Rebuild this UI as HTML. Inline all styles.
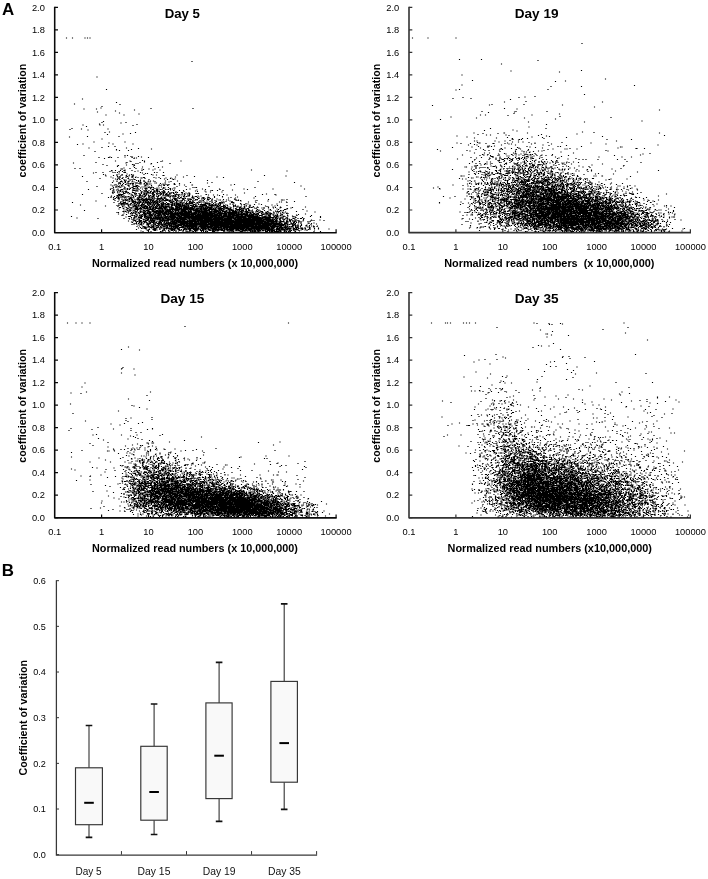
<!DOCTYPE html>
<html lang="en"><head><meta charset="utf-8"><title>Figure</title>
<style>
html,body{margin:0;padding:0;background:#fff}
body{width:708px;height:879px;overflow:hidden}
svg{display:block}
text{font-family:"Liberation Sans", sans-serif;fill:#000}
.tk text{font-size:9.3px;fill:#000}
.bk text{font-size:9.1px;fill:#000}
.bl{font-size:10.6px;fill:#111}
.tt{font-size:13px;font-weight:bold}
.xt{font-size:10.8px;font-weight:bold}
.yt{font-size:10.6px;font-weight:bold}
.pl{font-size:16.9px;font-weight:bold}
.pt{fill:none;stroke:#000;stroke-width:2.3;stroke-linecap:square}
</style></head>
<body>
<svg width="708" height="879" viewBox="0 0 708 879">
<rect width="708" height="879" fill="#fff"/>
<text class="pl" x="1.9" y="14.8">A</text>
<text class="pl" x="1.8" y="575.5">B</text>
<g id="d5">
<path d="M54.7 6.8V232.65H336.7" fill="none" stroke="#0a0a0a" stroke-width="1.55" stroke-linejoin="round"/>
<path d="M54.7 232.5h3.3M54.7 209.99h3.3M54.7 187.48h3.3M54.7 164.97h3.3M54.7 142.46h3.3M54.7 119.95h3.3M54.7 97.44h3.3M54.7 74.93h3.3M54.7 52.42h3.3M54.7 29.91h3.3M54.7 7.4h3.3M101.6 232.5v-3.3M148.5 232.5v-3.3M195.4 232.5v-3.3M242.3 232.5v-3.3M289.2 232.5v-3.3M336.1 232.5v-3.3" fill="none" stroke="#0a0a0a" stroke-width="1.2"/>
<g class="tk" text-anchor="end">
<text x="44.9" y="235.6">0.0</text>
<text x="44.9" y="213.09">0.2</text>
<text x="44.9" y="190.58">0.4</text>
<text x="44.9" y="168.07">0.6</text>
<text x="44.9" y="145.56">0.8</text>
<text x="44.9" y="123.05">1.0</text>
<text x="44.9" y="100.54">1.2</text>
<text x="44.9" y="78.03">1.4</text>
<text x="44.9" y="55.52">1.6</text>
<text x="44.9" y="33.01">1.8</text>
<text x="44.9" y="10.5">2.0</text>
</g>
<g class="tk" text-anchor="middle">
<text x="54.7" y="250.1">0.1</text>
<text x="101.6" y="250.1">1</text>
<text x="148.5" y="250.1">10</text>
<text x="195.4" y="250.1">100</text>
<text x="242.3" y="250.1">1000</text>
<text x="289.2" y="250.1">10000</text>
<text x="336.1" y="250.1">100000</text>
</g>
<text class="tt" x="164.7" y="18" textLength="35.3" lengthAdjust="spacingAndGlyphs">Day 5</text>
<text class="xt" x="92" y="266.9" textLength="206.2" lengthAdjust="spacingAndGlyphs" xml:space="preserve">Normalized read numbers (x 10,000,000)</text>
<text class="yt" transform="translate(25.8 177.5) rotate(-90)" textLength="113.8" lengthAdjust="spacingAndGlyphs">coefficient of variation</text>
<g transform="scale(.5)"><path class="pt" d="M0 0m143 433zm-4-159zm1-15zm-7-183zm12 0zm4 132zm-5 49zm11 32zm-8 37zm3 11zm10 0zm-15 68zm16 5zm-7 26zm15-15zm8-42zm-12 10zm9-26zm-9-10zm3-42zm-2-23zm12 8zm-3-23zm-2-20zm-10 5zm13 2zm-10-10zm2-32zm-3-20zm5-122zm5 0zm5 0zm14 78zm-1 64zm2 6zm-7 60zm2 19zm2 22zm0 20zm-5 1zm7 27zm-2 29zm4 35zm15-25zm-7-25zm2-42zm1 4zm4 1zm1 2zm-12 5zm6-28zm8 2zm-16-16zm11 2zm-5-22zm0-17zm6-13zm5 4zm-8-26zm-3 2zm-5 3zm1 2zm7 0zm-5-34zm10 14zm-8-17zm9-34zm20 26zm-2 17zm-15 36zm3 6zm-1 22zm8 2zm-9 5zm13 0zm3 6zm0 1zm-13 14zm-3 1zm1 0zm5 0zm8 7zm-8 19zm1 0zm7 0zm-7 1zm-4 1zm6 2zm4 0zm-3 6zm-5 3zm4 2zm5 2zm-4 4zm-2 3zm7 4zm-10 1zm7 0zm-4 2zm1 0zm6 0zm0 2zm-5 1zm5 0zm-8 2zm-3 1zm6 0zm-6 1zm7 1zm5 0zm-7 1zm0 2zm3 1zm-4 1zm3 0zm-2 2zm-3 5zm6 1zm-7 1zm-5 1zm5 0zm5 0zm6 0zm-2 2zm-4 1zm2 0zm-2 1zm3 2zm-2 4zm20 32zm2-23zm0 0zm-11 1zm2 0zm5 1zm1 1zm-9 1zm10 0zm0 4zm-2 1zm2 0zm3 0zm-17 2zm3 0zm11 1zm-11 2zm8 2zm1 0zm1 0zm-3 1zm-7-35zm2 0zm5 0zm5 0zm-13 1zm2 1zm6 1zm7 0zm-13 1zm9 0zm1 0zm2 0zm-3 1zm-2 1zm6 0zm-15 1zm6 0zm5 1zm-6 1zm8 0zm0 0zm2 0zm0 0zm-7 1zm3 0zm-9 1zm4 0zm4 0zm4 0zm-10 1zm2 0zm2 0zm2 0zm2 0zm3 0zm-3 1zm-11 1zm6 0zm1 0zm5 0zm-15 1zm4 0zm8 1zm1 0zm-11 1zm9 0zm3-35zm2 0zm-14 1zm7 0zm2 0zm-4 1zm1 0zm-4 1zm3 0zm-5 1zm10 0zm-5 1zm5 0zm4 0zm-15 1zm4 0zm5 0zm3 1zm-11 1zm11 0zm4 0zm-2 1zm-9 1zm7 0zm-10 1zm2 0zm1 0zm2 0zm1 0zm0 0zm2 0zm-2 1zm-9 1zm2 0zm3 0zm3 0zm-8 1zm4 0zm6 0zm3 0zm2 0zm-3 1zm0 0zm-11 1zm2 0zm0 0zm4 0zm3 0zm7 0zm-7 1zm4 0zm-14-35zm15 1zm-6 1zm0 0zm-9 1zm7 0zm2 0zm8 0zm-6 1zm4 0zm-11 1zm13 0zm-12 1zm2 0zm-3 1zm3 0zm6 0zm-10 1zm4 0zm4 1zm6 0zm-8 2zm-9 1zm1 0zm4 0zm5 0zm2 0zm-9 1zm1 0zm4 1zm0 0zm7 0zm-9 1zm10 0zm-14 1zm12 1zm0 0zm2-35zm-12 1zm7 0zm-6 1zm-4 1zm13 0zm1 0zm2 0zm-13 3zm-4 1zm10 0zm1 1zm-11 1zm8 0zm-7 2zm5 0zm-2 1zm2 1zm6 0zm-11 1zm1 0zm2 1zm6 0zm1 0zm-6 1zm-4 1zm5 0zm8 0zm-11-28zm-2 1zm0 1zm13 3zm-6 2zm2 0zm1 0zm5 2zm-9 1zm7 0zm2-30zm0 3zm-14 1zm3-14zm-1-28zm12 11zm-4-16zm-4-22zm-3-20zm9 4zm-8-21zm29 11zm-17 25zm14 6zm-5 16zm5 21zm-13 8zm10 3zm-6 2zm-2 10zm7 2zm3 1zm-1 1zm5 1zm-1 1zm-8 5zm2 1zm-8 2zm-2 1zm13 3zm3 0zm-15 1zm16 1zm-2 1zm2 3zm-9 2zm4 4zm-10 7zm9 1zm-4 1zm5 0zm3 0zm-14 1zm13 0zm0 0zm-14 1zm1 0zm5 0zm-4 1zm1 0zm9 0zm2 0zm0 1zm-14 1zm12 0zm-7 1zm-1 1zm1 0zm10 1zm-3 1zm5 0zm-17 1zm6 0zm1 0zm0 0zm2 0zm-9 1zm13 1zm-8 1zm1 0zm-3 1zm9 0zm4 0zm0 0zm-11 2zm-1 1zm4 0zm1 0zm1 0zm3 0zm0 0zm2 0zm-14 1zm8 0zm5 1zm-10 1zm2 0zm7 0zm-9 1zm2 1zm9 0zm-9 1zm9 0zm1 0zm1 0zm-3 1zm-2 1zm2 0zm-6 1zm6 0zm-11 1zm6 0zm6 0zm0 0zm2 0zm-17 1zm0 0zm6 0zm-3 1zm4 0zm7 0zm0 0zm0 2zm1 0zm1 0zm-16 1zm1 0zm12 0zm-13 1zm1 0zm1 1zm-2 1zm5 0zm8 0zm2 0zm-12 1zm14 0zm-10 1zm10 0zm-11 1zm4 0zm2 1zm1 2zm-3 1zm1 0zm4 0zm-15 1zm0 0zm4 0zm1 0zm1 0zm-2 1zm11 0zm-6 1zm3 0zm-12 1zm1 0zm6 0zm4 0zm1 0zm0 0zm4 0zm-7 1zm-4 1zm1 0zm2 0zm3 0zm-9 1zm5 0zm6 0zm-10 1zm8 0zm1 0zm-11 1zm13 0zm-10 1zm2 0zm2 0zm4 0zm2 0zm2 0zm-9 1zm8 0zm2 0zm-5 1zm2 0zm-1 1zm2 0zm-11 1zm11 0zm0 0zm1 0zm-15 1zm2 0zm7 0zm1 0zm-2 1zm0 0zm8 0zm-15 1zm4 0zm8 0zm-10 1zm2 0zm0 0zm3 0zm1 0zm6 1zm1 0zm-12 1zm8 0zm4 0zm-11 1zm9 0zm0 0zm0 1zm-14 1zm7 0zm4 0zm-10 1zm4 0zm4 0zm1 0zm-8 1zm1 0zm6 1zm4 0zm-12 1zm6 0zm-8 1zm6 0zm1 0zm-4 1zm6 0zm1 0zm6 0zm-10 1zm0 0zm3 0zm5 0zm3 0zm0 0zm-11 1zm-5 1zm3 0zm7 1zm4 0zm0 0zm-10 1zm9 0zm2 0zm-7 1zm3 0zm1 1zm0 0zm-12 1zm9 1zm2 1zm2 0zm3 0zm0 0zm0 1zm-12 1zm2 0zm2 0zm-9 1zm11 1zm5 0zm-5 1zm-5 1zm1 0zm9 0zm-9 1zm8 0zm-3 1zm4 0zm0 1zm1 1zm-12 1zm9 0zm1 0zm-4 2zm2 1zm2 3zm2 0zm-5 1zm12 1zm7 0zm-4 2zm0 0zm6 0zm-11 1zm13 0zm-6 2zm-4 1zm8 0zm2 0zm-4 1zm-10 2zm9 3zm4 1zm-14-31zm2 0zm6 0zm-10 1zm0 0zm3 0zm10 0zm2 0zm-12 1zm4 0zm0 0zm3 0zm2 0zm-12 1zm7 0zm0 0zm2 0zm1 0zm3 0zm-13 1zm10 0zm1 0zm1 0zm0 1zm1 0zm-9 1zm2 0zm2 0zm0 0zm8 0zm-7 1zm8 0zm-15 1zm7 0zm8 0zm-16 1zm9 0zm1 0zm2 0zm-12 1zm6 0zm1 0zm4 0zm-10 1zm3 0zm4 0zm0 0zm1 0zm2 0zm5 0zm-3 1zm-11 1zm6 0zm4 0zm1 0zm-6 1zm0 0zm1 0zm2 0zm1 0zm-12 1zm3 0zm4 0zm6 0zm-10 1zm11 0zm3 0zm-7 1zm2 0zm1 0zm-13-35zm1 0zm2 0zm14 0zm-15 1zm0 0zm2 0zm1 0zm6 0zm4 0zm1 0zm-14 1zm2 0zm4 0zm5 0zm0 0zm0 0zm4 0zm-17 1zm1 0zm2 0zm2 0zm5 0zm1 0zm0 0zm-10 1zm7 0zm2 0zm1 0zm2 0zm0 0zm1 0zm-14 1zm2 0zm2 0zm1 0zm2 0zm5 1zm0 0zm4 0zm0 0zm0 0zm-11 1zm0 0zm-5 1zm1 0zm0 0zm9 0zm1 0zm6 0zm0 0zm-13 1zm6 0zm4 0zm-13 1zm0 0zm2 0zm0 0zm9 0zm1 0zm-6 1zm4 0zm5 0zm1 0zm-17 1zm4 0zm4 0zm1 0zm0 0zm8 0zm0 0zm-16 1zm7 0zm1 0zm8 0zm-8 1zm-7 1zm1 0zm11 0zm2 0zm0 0zm-11 1zm6 0zm3 0zm-5 1zm1 0zm3 0zm1 0zm-9-35zm4 0zm1 0zm-3 1zm7 0zm1 0zm0 0zm-11 1zm9 0zm3 0zm0 0zm1 0zm-17 1zm4 0zm2 0zm1 0zm1 0zm1 0zm3 0zm1 0zm4 0zm-12 1zm3 0zm2 0zm0 0zm5 0zm-6 1zm6 0zm1 0zm-15 1zm7 0zm4 0zm1 0zm-12 1zm9 0zm1 0zm6 0zm-17 1zm1 0zm3 0zm3 0zm3 0zm6 0zm1 0zm0 0zm-16 1zm0 0zm1 0zm3 0zm4 0zm1 0zm2 0zm5 0zm-16 1zm1 0zm3 0zm1 0zm3 0zm6 0zm-15 1zm5 0zm10 0zm-8 1zm2 0zm5 0zm-11 1zm10 0zm0 0zm2 0zm2 0zm-17 1zm1 0zm2 0zm3 0zm7 0zm-13 1zm7 0zm3 0zm2 0zm1 0zm3 0zm-14 1zm4 0zm1 0zm5 0zm3 0zm-15 1zm1 0zm1 0zm2 0zm0 0zm4 0zm5 0zm1 0zm-14-35zm4 0zm11 0zm-7 1zm-4 1zm-4 1zm4 0zm7 0zm-10 1zm2 0zm1 0zm2 0zm0 0zm8 1zm-2 1zm2 0zm-1 1zm-12 1zm2 1zm5 0zm5 0zm-13 1zm3 0zm7 0zm1 1zm-11 1zm1 0zm8 0zm1 0zm1 0zm5 0zm-12 1zm8 0zm-4 1zm2 0zm0 0zm2 0zm3 0zm-14 1zm7 1zm1 0zm0 0zm5 0zm-8 1zm6 0zm-1-35zm-8 1zm4 0zm4 1zm-4 1zm3 1zm-8 1zm8 0zm2 0zm-7 1zm7 0zm-10 1zm6 0zm4 0zm-2 1zm2 0zm-11 2zm2 1zm2 0zm-1 1zm2 0zm-6 1zm2 0zm1 0zm5 0zm6 1zm-9 1zm-3 1zm9 0zm-5 1zm0-35zm-6 1zm11 2zm4 1zm-13 8zm-1 1zm5 0zm11 0zm-5 1zm2 0zm-14 3zm10-34zm-8 2zm4 0zm9 7zm-13 3zm12 1zm3 1zm-3 2zm0 0zm-7-28zm6 1zm-10 2zm12 5zm-8-24zm-6-32zm3-16zm4-21zm24-11zm1 81zm-6 17zm-8 7zm0 2zm14 3zm-1 1zm-4 10zm-7 9zm4 0zm-7 2zm15 0zm-14 6zm1 2zm8 2zm-10 2zm9 1zm4 0zm0 0zm-13 1zm2 1zm6 0zm4 0zm-9 1zm2 1zm-4 1zm0 0zm4 0zm1 0zm-6 1zm0 0zm8 0zm3 0zm3 0zm-8 1zm-4 1zm2 0zm11 1zm-13 1zm0 0zm2 0zm4 0zm-8 2zm11 0zm4 0zm1 0zm-7 1zm3 0zm3 0zm1 0zm-13 1zm1 0zm2 0zm7 0zm-11 1zm3 0zm8 0zm-10 1zm3 0zm8 0zm3 1zm-13 1zm-4 1zm4 0zm1 0zm5 0zm-10 1zm2 0zm3 0zm10 0zm-13 1zm5 0zm6 0zm1 0zm-11 1zm1 0zm3 0zm2 0zm0 0zm-9 1zm7 0zm2 0zm3 0zm1 0zm4 0zm0 0zm-17 1zm6 0zm-6 1zm0 0zm1 0zm3 0zm2 0zm6 0zm4 0zm-16 1zm6 0zm3 0zm-9 1zm1 0zm0 0zm4 0zm12 0zm-14 1zm1 1zm5 0zm0 0zm4 0zm-12 1zm2 0zm8 0zm5 0zm-16 1zm2 0zm8 0zm-1 1zm3 0zm4 0zm1 0zm-17 1zm10 0zm-5 1zm9 0zm2 0zm0 0zm-12 1zm6 0zm7 0zm-15 1zm2 0zm2 0zm2 0zm4 0zm-12 1zm3 0zm1 0zm1 0zm1 0zm3 0zm2 0zm3 0zm2 0zm-16 1zm1 0zm1 0zm6 0zm4 0zm1 0zm1 0zm2 0zm0 0zm-15 1zm3 0zm2 0zm1 0zm9 0zm-16 1zm5 0zm1 0zm6 0zm1 0zm4 0zm-17 1zm3 0zm0 0zm6 0zm0 0zm4 0zm4 0zm-11 1zm2 0zm6 0zm3 0zm-15 1zm2 0zm6 0zm1 0zm4 0zm-9 1zm1 0zm2 0zm3 0zm2 0zm-12 1zm0 0zm4 0zm4 0zm-10 1zm7 0zm0 0zm4 0zm2 0zm3 0zm-9 1zm1 0zm5 0zm0 0zm-13 1zm1 0zm9 0zm6 0zm-13 1zm6 0zm0 0zm1 0zm6 0zm1 0zm-15 1zm1 0zm2 0zm1 0zm5 0zm1 0zm-12 1zm4 0zm1 0zm2 0zm0 0zm0 0zm4 0zm0 0zm0 0zm4 0zm-14 1zm1 0zm0 0zm4 0zm7 0zm-8 1zm2 0zm4 0zm-10 1zm3 0zm0 0zm5 0zm2 0zm2 0zm0 0zm0 0zm2 0zm2 0zm0 0zm-17 1zm1 0zm2 0zm0 0zm2 0zm1 0zm0 0zm2 0zm0 0zm5 0zm4 0zm-14 1zm3 0zm0 0zm2 0zm4 0zm1 0zm-5 1zm3 0zm2 0zm2 0zm2 0zm0 0zm-17 1zm8 0zm2 0zm0 0zm5 0zm-14 1zm4 0zm2 0zm0 0zm2 0zm8 0zm-17 1zm2 0zm2 0zm6 0zm0 0zm7 0zm-17 1zm3 0zm5 0zm4 0zm4 0zm0 0zm1 0zm-10 1zm2 0zm1 0zm2 0zm0 0zm1 0zm-12 1zm1 0zm5 0zm0 0zm6 0zm1 0zm0 0zm-13 1zm4 0zm5 0zm0 0zm1 0zm2 0zm-12 1zm2 0zm4 0zm0 0zm0 0zm1 0zm0 0zm1 0zm1 0zm0 0zm-9 1zm3 0zm6 0zm2 0zm1 0zm1 0zm-12 1zm1 0zm9 0zm0 0zm4 0zm-15 1zm3 0zm0 0zm0 0zm1 0zm3 0zm0 0zm3 0zm1 0zm1 0zm2 0zm0 0zm-15 1zm1 0zm2 0zm0 0zm0 0zm0 0zm8 0zm2 0zm2 0zm1 0zm1 0zm-9 1zm0 0zm6 0zm3 0zm-16 1zm1 0zm1 0zm2 0zm5 0zm3 0zm-12 1zm4 0zm1 0zm1 0zm3 0zm1 0zm0 0zm2 0zm2 0zm-14 1zm1 0zm7 0zm2 0zm-9 1zm1 0zm1 0zm3 0zm2 0zm4 0zm2 0zm-11 1zm2 0zm4 0zm0 0zm0 0zm3 0zm2 0zm2 0zm-12 1zm0 0zm4 0zm7 0zm0 0zm-14 1zm5 0zm2 0zm4 0zm-13 1zm14 0zm2 0zm1 0zm-14 1zm2 0zm2 0zm3 0zm3 0zm3 0zm1 0zm-14 1zm1 0zm6 0zm5 0zm-15 1zm2 0zm8 0zm0 0zm1 0zm0 0zm1 0zm4 0zm-15 1zm0 0zm3 0zm8 0zm3 0zm-14 1zm3 0zm1 0zm7 0zm1 0zm1 0zm3 0zm-17 1zm7 0zm0 0zm3 0zm2 0zm0 0zm0 0zm-6 1zm7 0zm-5 1zm2 0zm2 0zm0 0zm-6 1zm0 0zm0 0zm2 0zm1 1zm6 0zm1 0zm-7 1zm-3 1zm2 0zm6 0zm0 0zm-12 1zm8 0zm1 0zm5 0zm0 0zm-15 1zm8 0zm7 0zm-13 1zm3 0zm7 0zm1 0zm-13 1zm2 0zm2 0zm6 0zm4 0zm-13 1zm0 0zm2 1zm7 1zm-5 1zm2 1zm6 2zm4-13zm3 0zm11 0zm3 0zm0 0zm0 0zm-16 1zm5 0zm2 0zm1 0zm3 0zm-1 1zm-11 1zm1 0zm1 0zm4 0zm4 0zm0 0zm5 0zm-15 1zm6 0zm4 0zm1 0zm5 0zm-14 1zm5 0zm0 0zm1 0zm2 0zm4 0zm-14 1zm2 0zm0 0zm6 0zm6 0zm3 0zm-13 1zm1 0zm1 0zm8 0zm-12 1zm3 0zm1 0zm7 0zm1 0zm0 0zm-14 1zm2 0zm1 0zm11 0zm-13 1zm4 0zm3 0zm-5 1zm2 0zm10 2zm0 1zm-12-32zm2 0zm3 0zm1 0zm1 0zm3 0zm3 0zm1 0zm-13 1zm0 0zm7 0zm5 0zm1 0zm-16 1zm4 0zm2 0zm1 0zm4 0zm0 0zm3 0zm-13 1zm0 0zm3 0zm0 0zm1 0zm1 0zm1 0zm2 0zm4 0zm1 0zm0 0zm1 0zm-16 1zm3 0zm2 0zm2 0zm2 0zm2 0zm1 0zm1 0zm1 0zm0 0zm1 0zm2 0zm-17 1zm2 0zm1 0zm3 0zm8 0zm2 0zm-16 1zm5 0zm1 0zm1 0zm1 0zm1 0zm1 0zm2 0zm2 0zm1 0zm0 0zm-15 1zm4 0zm5 0zm0 0zm0 0zm3 0zm3 0zm-14 1zm1 0zm6 0zm6 0zm0 0zm2 0zm1 0zm-16 1zm2 0zm1 0zm10 0zm1 0zm2 0zm-17 1zm2 0zm10 0zm1 0zm0 0zm1 0zm1 0zm-12 1zm0 0zm5 0zm0 0zm8 0zm-15 1zm3 0zm8 0zm1 0zm1 0zm1 0zm1 0zm-15 1zm6 0zm8 0zm1 0zm0 0zm1 0zm-15 1zm0 0zm2 0zm1 0zm6 0zm2 0zm1 0zm1 0zm0 0zm0 0zm0 0zm2 0zm0 0zm-16 1zm7 0zm2 0zm1 0zm5 0zm1 0zm-16 1zm3 0zm6 0zm3 0zm3 0zm1 0zm-12 1zm6 0zm0 0zm3 0zm0 0zm0 0zm-14-35zm1 0zm0 0zm4 0zm3 0zm0 0zm4 0zm1 0zm1 0zm0 0zm2 0zm0 0zm1 0zm-16 1zm0 0zm3 0zm2 0zm2 0zm0 0zm0 0zm4 0zm1 0zm2 0zm2 0zm-16 1zm1 0zm1 0zm1 0zm1 0zm0 0zm0 0zm1 0zm0 0zm7 0zm0 0zm0 0zm2 0zm-14 1zm6 0zm2 0zm0 0zm1 0zm1 0zm1 0zm2 0zm0 0zm2 0zm1 0zm-12 1zm5 0zm2 0zm2 0zm-12 1zm0 0zm2 0zm8 0zm-12 1zm1 0zm11 0zm3 0zm0 0zm2 0zm-16 1zm3 0zm3 0zm0 0zm2 0zm0 0zm3 0zm1 0zm0 0zm1 0zm-4 1zm0 0zm3 0zm1 0zm2 0zm-16 1zm0 0zm1 0zm0 0zm2 0zm1 0zm0 0zm2 0zm1 0zm1 0zm0 0zm1 0zm1 0zm0 0zm2 0zm5 0zm0 0zm-17 1zm0 0zm0 0zm1 0zm1 0zm1 0zm5 0zm2 0zm0 0zm1 0zm3 0zm0 0zm2 0zm-12 1zm0 0zm1 0zm2 0zm6 0zm1 0zm1 0zm1 0zm-14 1zm0 0zm0 0zm4 0zm1 0zm0 0zm1 0zm3 0zm1 0zm2 0zm0 0zm2 0zm-16 1zm6 0zm1 0zm2 0zm3 0zm3 0zm0 0zm1 0zm0 0zm0 0zm-15 1zm0 0zm3 0zm2 0zm5 0zm1 0zm1 0zm3 0zm-11 1zm5 0zm2 0zm2 0zm0 0zm1 0zm1 0zm-16 1zm0 0zm3 0zm6 0zm0 0zm1 0zm5 0zm0 0zm0 0zm2 0zm-11 1zm3 0zm2 0zm2 0zm4 0zm-14-35zm7 0zm-10 1zm4 0zm4 0zm4 0zm2 0zm1 0zm1 0zm-6 1zm1 0zm5 0zm1 0zm-15 1zm7 0zm0 0zm5 0zm-13 1zm6 0zm2 0zm3 0zm-12 1zm7 0zm6 0zm-12 1zm3 0zm1 0zm3 0zm7 0zm1 0zm0 0zm1 0zm-14 1zm0 0zm2 0zm4 0zm3 0zm3 0zm-13 1zm5 0zm0 0zm1 0zm1 0zm5 0zm-13 1zm2 0zm1 0zm9 0zm-13 1zm1 0zm4 0zm1 0zm1 0zm2 0zm1 0zm1 0zm6 0zm-9 1zm1 0zm0 0zm7 0zm1 0zm-16 1zm2 0zm2 0zm5 0zm-7 1zm6 0zm2 0zm2 0zm4 0zm-17 1zm7 0zm2 0zm5 0zm0 0zm-11 1zm5 0zm3 0zm6 0zm-15 1zm5 0zm1 0zm5 0zm3 0zm1 0zm0 0zm-17 1zm5 0zm3 0zm1 0zm8 0zm-16-35zm7 0zm-7 1zm6 0zm2 0zm6 0zm-6 1zm3 0zm-10 1zm5 0zm2 0zm-6 1zm1 0zm3 0zm1 0zm1 0zm-7 1zm8 0zm3 0zm-12 1zm3 0zm4 0zm-7 1zm3 0zm11 0zm-6 1zm4 0zm2 0zm1 0zm-16 1zm1 0zm6 0zm5 0zm5 0zm-7 1zm6 0zm1 0zm-15 1zm1 0zm5 0zm7 0zm1 0zm-15 1zm13 0zm0 0zm-12 1zm9 0zm3 0zm-14 1zm3 0zm4 0zm4 0zm-11 1zm1 0zm7 0zm3 0zm0 0zm-2 1zm8 0zm-15 1zm14 0zm-15-33zm3 1zm0 3zm3 0zm8 1zm-2 3zm4 0zm-3 1zm-3 1zm0 0zm6 2zm-16 1zm7 1zm4 0zm-8 1zm-1-32zm5 0zm-8 5zm7 0zm-5 5zm10 0zm-6 1zm9 1zm-6-32zm-8 8zm10 2zm-7 3zm-4 2zm14 0zm2-17zm3-1zm15 5zm-15 7zm2 11zm-1 6zm2 0zm4 5zm9 1zm-12 1zm6 1zm-4 3zm7 2zm-8 2zm1 0zm0 0zm-5 2zm4 1zm4 0zm4 0zm-11 1zm10 0zm-9 1zm1 0zm6 0zm0 0zm-8 4zm10 0zm-9 1zm2 0zm-4 1zm14 0zm0 0zm1 0zm-17 2zm7 0zm1 0zm4 0zm1 0zm4 0zm0 1zm-14 1zm1 1zm1 0zm-5 1zm13 0zm-11 1zm2 0zm2 0zm-3 1zm9 0zm-11 1zm1 0zm2 0zm1 0zm1 0zm9 0zm2 0zm-8 1zm0 0zm1 0zm5 0zm-12 1zm4 1zm1 0zm2 0zm4 0zm-12 1zm1 0zm7 0zm2 0zm4 0zm1 0zm-15 1zm4 0zm0 0zm4 0zm3 0zm-11 1zm6 0zm1 0zm2 0zm1 0zm2 0zm0 1zm3 0zm-11 1zm-1 1zm11 0zm-16 1zm3 0zm1 0zm1 0zm2 0zm-2 1zm-4 1zm7 0zm1 0zm8 0zm0 0zm-16 1zm2 0zm6 0zm1 0zm1 0zm-9 1zm1 0zm4 0zm1 0zm4 0zm2 0zm-14 1zm0 0zm4 0zm2 0zm2 0zm1 0zm1 0zm0 0zm1 0zm5 0zm1 0zm-13 1zm3 0zm7 0zm1 1zm1 0zm-15 1zm2 1zm6 0zm8 0zm-17 1zm3 1zm0 0zm1 0zm0 0zm3 0zm4 0zm1 0zm1 0zm1 0zm-13 1zm1 0zm0 0zm2 0zm1 0zm7 0zm2 0zm-14 1zm8 0zm1 0zm2 0zm2 0zm-12 1zm2 0zm4 0zm5 0zm3 0zm-7 1zm-7 1zm0 0zm1 0zm3 0zm7 0zm1 0zm-12 1zm1 0zm1 0zm4 0zm1 0zm1 0zm2 0zm1 0zm0 0zm1 0zm1 0zm-10 1zm3 0zm1 0zm8 0zm1 0zm-15 1zm2 0zm2 0zm3 0zm1 0zm0 0zm0 0zm4 0zm0 0zm1 0zm1 0zm-8 1zm0 0zm0 0zm7 0zm0 0zm0 0zm1 0zm-15 1zm3 0zm0 0zm0 0zm1 0zm1 0zm1 0zm1 0zm8 0zm-6 1zm1 0zm0 0zm6 0zm-17 1zm1 0zm0 0zm1 0zm4 0zm1 0zm7 0zm2 0zm0 0zm0 0zm-11 1zm3 0zm1 0zm0 0zm0 0zm2 0zm2 0zm0 0zm0 0zm0 0zm4 0zm0 0zm-16 1zm0 0zm1 0zm0 0zm1 0zm6 0zm1 0zm1 0zm1 0zm0 0zm1 0zm2 0zm-14 1zm6 0zm2 0zm1 0zm2 0zm0 0zm1 0zm2 0zm2 0zm-15 1zm2 0zm3 0zm6 0zm0 0zm2 0zm-14 1zm0 0zm7 0zm1 0zm2 0zm0 0zm2 0zm1 0zm3 0zm0 0zm-17 1zm0 0zm0 0zm4 0zm2 0zm1 0zm1 0zm2 0zm4 0zm0 0zm-13 1zm1 0zm3 0zm1 0zm3 0zm1 0zm3 0zm3 0zm-15 1zm3 0zm1 0zm1 0zm1 0zm2 0zm1 0zm0 0zm3 0zm0 0zm0 0zm1 0zm2 0zm-14 1zm1 0zm2 0zm1 0zm0 0zm3 0zm2 0zm1 0zm4 0zm1 0zm-15 1zm4 0zm3 0zm1 0zm1 0zm1 0zm1 0zm3 0zm-16 1zm0 0zm4 0zm1 0zm1 0zm1 0zm6 0zm0 0zm0 0zm4 0zm-11 1zm6 0zm4 0zm1 0zm-14 1zm1 0zm1 0zm1 0zm0 0zm0 0zm1 0zm4 0zm0 0zm-9 1zm6 0zm1 0zm2 0zm3 0zm2 0zm1 0zm-15 1zm4 0zm0 0zm1 0zm2 0zm3 0zm1 0zm3 0zm0 0zm-16 1zm2 0zm0 0zm3 0zm0 0zm0 0zm7 0zm1 0zm4 0zm-14 1zm0 0zm1 0zm0 0zm3 0zm1 0zm2 0zm2 0zm1 0zm0 0zm2 0zm-14 1zm0 0zm1 0zm0 0zm1 0zm6 0zm1 0zm2 0zm1 0zm0 0zm0 0zm-11 1zm1 0zm2 0zm1 0zm1 0zm1 0zm0 0zm1 0zm1 0zm0 0zm1 0zm3 0zm3 0zm-17 1zm1 0zm1 0zm1 0zm0 0zm3 0zm0 0zm5 0zm1 0zm2 0zm0 0zm2 0zm-15 1zm2 0zm7 0zm0 0zm1 0zm1 0zm2 0zm2 0zm1 0zm0 0zm0 0zm-17 1zm0 0zm1 0zm1 0zm2 0zm0 0zm0 0zm0 0zm1 0zm2 0zm0 0zm1 0zm2 0zm-9 1zm0 0zm2 0zm2 0zm3 0zm4 0zm1 0zm0 0zm-12 1zm4 0zm3 0zm-3 1zm4 0zm0 0zm1 0zm0 0zm2 0zm5 0zm-13 1zm1 0zm7 0zm0 0zm2 0zm-6 1zm1 0zm0 0zm3 0zm0 0zm2 0zm0 0zm1 0zm2 0zm-13 1zm3 0zm1 0zm2 0zm1 0zm3 0zm0 0zm1 0zm1 0zm1 0zm-15 1zm0 0zm3 0zm3 0zm0 0zm4 0zm3 0zm2 0zm-16 1zm6 0zm5 0zm1 0zm2 0zm1 0zm-13 1zm1 0zm2 0zm1 0zm2 0zm2 0zm-11 1zm2 0zm4 0zm3 0zm1 0zm4 0zm1 0zm0 0zm0 0zm2 0zm0 0zm-17 1zm1 0zm10 0zm4 0zm1 0zm0 0zm1 0zm-14 1zm2 0zm1 0zm4 0zm1 0zm4 0zm0 0zm-7 1zm0 0zm1 0zm2 0zm4 0zm-15 1zm4 0zm4 1zm2 0zm1 0zm1 0zm1 0zm4 0zm-13 1zm0 0zm0 0zm1 0zm0 0zm1 0zm4 0zm5 0zm0 0zm-13 1zm3 0zm4 0zm4 0zm4 0zm0 0zm-13 1zm12 0zm-11 1zm-4 1zm3 0zm0 0zm9 0zm-11 1zm5 0zm9 0zm-16 1zm14 0zm-14 1zm21-14zm3 0zm1 0zm2 0zm2 0zm0 0zm1 0zm0 0zm3 0zm-15 1zm1 0zm5 0zm4 0zm0 0zm2 0zm2 0zm1 0zm1 0zm1 0zm-12 1zm1 0zm3 0zm0 0zm1 0zm1 0zm2 0zm0 0zm-13 1zm1 0zm2 0zm2 0zm1 0zm1 0zm0 0zm0 0zm1 0zm3 0zm2 0zm1 0zm1 0zm-10 1zm0 0zm4 0zm2 0zm2 0zm-12 1zm4 0zm1 0zm0 0zm4 0zm0 0zm1 0zm1 0zm0 0zm5 0zm-17 1zm0 0zm0 0zm2 0zm2 0zm3 0zm1 0zm2 0zm0 0zm4 0zm2 0zm-15 1zm3 0zm3 0zm1 0zm5 0zm1 0zm1 0zm1 0zm0 0zm-16 1zm2 0zm4 0zm3 0zm1 0zm5 0zm2 0zm-13 1zm2 0zm1 0zm7 0zm2 0zm-15 1zm2 0zm4 0zm10 0zm0 0zm-16 1zm1 0zm1 0zm4 0zm3 0zm7 0zm-12 1zm10 0zm-5 1zm0 1zm-10-32zm2 0zm2 0zm1 0zm1 0zm2 0zm6 0zm1 0zm2 0zm-17 1zm0 0zm1 0zm0 0zm2 0zm2 0zm1 0zm1 0zm0 0zm2 0zm0 0zm5 0zm1 0zm1 0zm1 0zm-17 1zm1 0zm0 0zm5 0zm2 0zm2 0zm1 0zm2 0zm0 0zm1 0zm2 0zm-15 1zm1 0zm2 0zm0 0zm0 0zm1 0zm1 0zm1 0zm0 0zm4 0zm1 0zm5 0zm0 0zm-16 1zm0 0zm2 0zm0 0zm1 0zm1 0zm0 0zm3 0zm0 0zm1 0zm2 0zm2 0zm0 0zm3 0zm-16 1zm2 0zm3 0zm0 0zm0 0zm2 0zm0 0zm5 0zm1 0zm1 0zm0 0zm0 0zm0 0zm1 0zm-15 1zm1 0zm0 0zm3 0zm1 0zm0 0zm6 0zm1 0zm1 0zm1 0zm0 0zm0 0zm3 0zm-17 1zm1 0zm1 0zm0 0zm1 0zm0 0zm2 0zm3 0zm2 0zm6 0zm-14 1zm0 0zm1 0zm1 0zm1 0zm1 0zm2 0zm1 0zm4 0zm2 0zm0 0zm1 0zm-13 1zm0 0zm4 0zm0 0zm2 0zm1 0zm1 0zm2 0zm0 0zm0 0zm0 0zm1 0zm1 0zm0 0zm1 0zm0 0zm1 0zm-17 1zm0 0zm0 0zm2 0zm0 0zm1 0zm3 0zm0 0zm4 0zm2 0zm-12 1zm3 0zm1 0zm0 0zm4 0zm3 0zm1 0zm2 0zm2 0zm0 0zm1 0zm-15 1zm0 0zm2 0zm1 0zm2 0zm0 0zm1 0zm3 0zm3 0zm1 0zm0 0zm1 0zm0 0zm-14 1zm1 0zm1 0zm2 0zm1 0zm1 0zm0 0zm1 0zm2 0zm3 0zm3 0zm-17 1zm1 0zm0 0zm1 0zm0 0zm1 0zm1 0zm1 0zm0 0zm2 0zm5 0zm4 0zm-16 1zm0 0zm0 0zm1 0zm1 0zm0 0zm3 0zm2 0zm0 0zm2 0zm1 0zm2 0zm0 0zm-11 1zm3 0zm1 0zm3 0zm0 0zm1 0zm1 0zm3 0zm1 0zm0 0zm-13 1zm4 0zm2 0zm2 0zm1 0zm5 0zm2 0zm-17-35zm2 0zm1 0zm8 0zm3 0zm1 0zm2 0zm-13 1zm6 0zm3 0zm0 0zm2 0zm-14 1zm1 0zm0 0zm2 0zm1 0zm4 0zm3 0zm1 0zm4 0zm-15 1zm0 0zm1 0zm0 0zm0 0zm1 0zm6 0zm3 0zm0 0zm3 0zm1 0zm-17 1zm1 0zm1 0zm1 0zm2 0zm2 0zm1 0zm2 0zm2 0zm0 0zm0 0zm1 0zm1 0zm2 0zm1 0zm-17 1zm1 0zm1 0zm1 0zm1 0zm2 0zm4 0zm0 0zm3 0zm2 0zm0 0zm0 0zm2 0zm-17 1zm0 0zm8 0zm4 0zm2 0zm0 0zm-11 1zm0 0zm5 0zm1 0zm0 0zm2 0zm2 0zm2 0zm-11 1zm0 0zm2 0zm0 0zm3 0zm3 0zm2 0zm1 0zm0 0zm1 0zm0 0zm-16 1zm1 0zm1 0zm3 0zm4 0zm6 0zm-14 1zm1 0zm0 0zm0 0zm8 0zm5 0zm-15 1zm3 0zm5 0zm1 0zm1 0zm3 0zm3 0zm-16 1zm1 0zm4 0zm1 0zm0 0zm3 0zm3 0zm1 0zm0 0zm4 0zm-17 1zm1 0zm2 0zm2 0zm2 0zm1 0zm1 0zm2 0zm2 0zm1 0zm2 0zm-14 1zm1 0zm2 0zm2 0zm3 0zm1 0zm1 0zm2 0zm1 0zm-15 1zm1 0zm0 0zm1 0zm1 0zm1 0zm0 0zm0 0zm4 0zm1 0zm4 0zm1 0zm1 0zm1 0zm-16 1zm1 0zm1 0zm2 0zm2 0zm4 0zm2 0zm1 0zm1 0zm0 0zm2 0zm1 0zm0 0zm-13 1zm3 0zm3 0zm3 0zm2 0zm1 0zm1 0zm-13-35zm4 0zm5 0zm0 0zm1 0zm1 0zm-9 1zm4 0zm0 0zm7 0zm-9 1zm2 0zm1 0zm-8 1zm4 0zm-5 1zm0 0zm1 0zm5 0zm2 0zm3 0zm-4 1zm0 0zm1 0zm0 0zm-10 1zm4 0zm7 0zm2 0zm2 0zm0 0zm2 0zm-12 1zm0 0zm-4 1zm1 0zm2 0zm3 0zm4 0zm-11 1zm2 0zm8 0zm0 0zm-7 1zm9 0zm2 0zm-10 1zm0 0zm3 0zm3 0zm3 0zm2 0zm0 0zm-15 1zm2 0zm1 0zm4 0zm4 0zm1 0zm1 0zm1 0zm2 0zm-16 1zm4 0zm6 0zm2 0zm2 0zm2 0zm1 0zm-16 1zm1 0zm2 0zm3 0zm0 0zm3 0zm1 0zm3 0zm0 0zm-11 1zm1 0zm3 0zm4 0zm1 0zm0 0zm3 0zm1 0zm1 0zm-16 1zm8 0zm2 0zm5 0zm1 0zm-8 1zm4 0zm4 0zm0 0zm0 0zm-14-35zm4 2zm-2 1zm12 0zm-8 3zm2 0zm-9 1zm3 0zm4 0zm4 0zm-13 1zm0 1zm5 0zm1 0zm5 1zm-3 1zm4 0zm4 0zm-6 1zm4 0zm0 0zm1 0zm-13 1zm3 0zm3 0zm7 0zm-13 1zm0 0zm7 0zm6 0zm-11 1zm4 0zm1 0zm1 0zm6 0zm-10 1zm8 1zm-1-33zm-13 1zm7 4zm10 0zm-11 1zm1 1zm1 0zm9 1zm0 0zm-5 3zm-6 3zm2 0zm4-26zm-3 4zm-9 2zm3 2zm5 0zm-3 1zm15-37zm12 29zm-7 3zm2 16zm3 3zm1 6zm-6 2zm1 2zm-5 2zm2 0zm0 1zm7 0zm5 0zm-8 1zm-5 1zm11 0zm-5 1zm-10 1zm4 0zm4 0zm1 1zm6 1zm2 0zm-10 1zm1 0zm5 0zm-10 1zm7 0zm0 0zm-9 1zm1 1zm6 0zm-3 1zm2 0zm4 0zm5 0zm-8 1zm8 0zm-10 1zm1 0zm1 0zm8 0zm-11 1zm12 0zm-15 1zm3 0zm5 0zm0 0zm7 0zm-14 1zm0 0zm1 0zm5 0zm5 0zm0 1zm-13 1zm1 0zm-2 1zm1 0zm3 0zm4 0zm5 0zm-9 1zm3 0zm-7 1zm5 0zm6 0zm2 0zm2 0zm0 0zm0 0zm-13 1zm3 0zm5 0zm3 0zm4 0zm-17 1zm0 0zm14 0zm-14 1zm0 0zm2 0zm3 0zm2 0zm2 0zm3 0zm3 0zm-14 1zm7 0zm1 0zm3 0zm5 0zm-15 1zm2 0zm1 0zm0 0zm2 0zm2 0zm0 0zm1 0zm1 0zm2 0zm3 0zm1 0zm-17 1zm1 0zm0 0zm2 0zm3 0zm3 0zm4 0zm3 0zm1 0zm0 0zm-16 1zm0 0zm1 0zm4 0zm3 0zm0 0zm0 0zm1 0zm1 0zm0 0zm1 0zm2 0zm-11 1zm0 0zm4 0zm0 0zm1 0zm1 0zm0 0zm0 0zm0 0zm2 0zm2 0zm0 0zm2 0zm2 0zm-10 1zm1 0zm1 0zm2 0zm0 0zm6 0zm-16 1zm1 0zm0 0zm1 0zm1 0zm0 0zm8 0zm1 0zm1 0zm1 0zm-13 1zm0 0zm1 0zm1 0zm3 0zm1 0zm0 0zm2 0zm3 0zm2 0zm1 0zm-16 1zm0 0zm5 0zm2 0zm2 0zm3 0zm0 0zm0 0zm0 0zm1 0zm1 0zm1 0zm1 0zm0 0zm0 0zm-16 1zm3 0zm5 0zm1 0zm1 0zm2 0zm2 0zm2 0zm-12 1zm1 0zm1 0zm2 0zm9 0zm-15 1zm1 0zm1 0zm1 0zm0 0zm1 0zm1 0zm2 0zm2 0zm-9 1zm1 0zm3 0zm1 0zm1 0zm0 0zm1 0zm1 0zm0 0zm1 0zm1 0zm1 0zm0 0zm1 0zm0 0zm3 0zm-17 1zm1 0zm1 0zm2 0zm0 0zm4 0zm0 0zm2 0zm1 0zm1 0zm1 0zm0 0zm1 0zm3 0zm-17 1zm0 0zm1 0zm3 0zm1 0zm3 0zm1 0zm5 0zm2 0zm0 0zm-16 1zm2 0zm0 0zm1 0zm2 0zm1 0zm2 0zm0 0zm2 0zm0 0zm2 0zm1 0zm0 0zm3 0zm-16 1zm2 0zm3 0zm4 0zm0 0zm1 0zm1 0zm0 0zm1 0zm1 0zm1 0zm2 0zm1 0zm-14 1zm0 0zm1 0zm2 0zm2 0zm1 0zm1 0zm0 0zm1 0zm1 0zm0 0zm2 0zm1 0zm2 0zm-16 1zm0 0zm3 0zm2 0zm1 0zm0 0zm2 0zm1 0zm4 0zm0 0zm1 0zm-15 1zm3 0zm0 0zm1 0zm2 0zm0 0zm3 0zm3 0zm0 0zm1 0zm2 0zm0 0zm1 0zm1 0zm0 0zm-12 1zm0 0zm2 0zm2 0zm1 0zm2 0zm1 0zm1 0zm3 0zm-17 1zm2 0zm1 0zm0 0zm0 0zm6 0zm0 0zm2 0zm0 0zm5 0zm-16 1zm3 0zm5 0zm1 0zm1 0zm0 0zm0 0zm1 0zm1 0zm1 0zm1 0zm1 0zm2 0zm0 0zm-17 1zm1 0zm1 0zm1 0zm2 0zm1 0zm0 0zm1 0zm2 0zm0 0zm0 0zm0 0zm1 0zm4 0zm0 0zm-14 1zm1 0zm1 0zm0 0zm0 0zm1 0zm1 0zm1 0zm2 0zm0 0zm2 0zm1 0zm0 0zm2 0zm1 0zm1 0zm1 0zm1 0zm0 0zm-16 1zm0 0zm1 0zm1 0zm1 0zm0 0zm1 0zm2 0zm1 0zm2 0zm0 0zm2 0zm3 0zm0 0zm3 0zm-15 1zm2 0zm0 0zm2 0zm3 0zm0 0zm0 0zm2 0zm3 0zm-13 1zm1 0zm1 0zm3 0zm1 0zm0 0zm2 0zm0 0zm2 0zm2 0zm0 0zm3 0zm0 0zm-13 1zm0 0zm2 0zm1 0zm2 0zm0 0zm0 0zm0 0zm2 0zm1 0zm1 0zm1 0zm3 0zm-15 1zm0 0zm3 0zm1 0zm2 0zm1 0zm0 0zm4 0zm0 0zm1 0zm3 0zm0 0zm0 0zm-15 1zm0 0zm3 0zm2 0zm1 0zm0 0zm1 0zm1 0zm6 0zm0 0zm1 0zm-15 1zm2 0zm0 0zm2 0zm1 0zm2 0zm2 0zm5 0zm1 0zm0 0zm0 0zm1 0zm-17 1zm1 0zm1 0zm0 0zm2 0zm0 0zm2 0zm1 0zm0 0zm0 0zm1 0zm1 0zm1 0zm1 0zm1 0zm1 0zm3 0zm1 0zm0 0zm-15 1zm0 0zm0 0zm2 0zm1 0zm2 0zm1 0zm0 0zm5 0zm0 0zm1 0zm2 0zm0 0zm0 0zm-16 1zm1 0zm3 0zm0 0zm1 0zm1 0zm0 0zm2 0zm1 0zm2 0zm0 0zm0 0zm1 0zm2 0zm2 0zm-14 1zm0 0zm0 0zm2 0zm2 0zm0 0zm0 0zm1 0zm1 0zm0 0zm1 0zm1 0zm2 0zm0 0zm0 0zm0 0zm2 0zm1 0zm1 0zm-15 1zm0 0zm0 0zm1 0zm0 0zm0 0zm1 0zm0 0zm0 0zm1 0zm1 0zm2 0zm1 0zm2 0zm3 0zm2 0zm1 0zm-16 1zm1 0zm2 0zm4 0zm0 0zm2 0zm3 0zm1 0zm0 0zm1 0zm1 0zm2 0zm0 0zm0 0zm-17 1zm1 0zm2 0zm1 0zm1 0zm1 0zm1 0zm6 0zm0 0zm-12 1zm1 0zm1 0zm1 0zm1 0zm1 0zm0 0zm1 0zm0 0zm1 0zm2 0zm1 0zm1 0zm2 0zm0 0zm1 0zm1 0zm-16 1zm1 0zm2 0zm0 0zm4 0zm0 0zm0 0zm3 0zm1 0zm2 0zm0 0zm1 0zm-12 1zm6 0zm4 0zm0 0zm2 0zm0 0zm2 0zm0 0zm-12 1zm0 0zm2 0zm1 0zm0 0zm3 0zm1 0zm1 0zm2 0zm0 0zm2 0zm1 0zm-13 1zm0 0zm3 0zm3 0zm4 0zm3 0zm0 0zm-16 1zm1 0zm1 0zm0 0zm1 0zm2 0zm0 0zm4 0zm5 0zm0 0zm-9 1zm1 0zm1 0zm4 0zm4 0zm-7 1zm2 0zm3 0zm3 0zm-6 1zm0 0zm6 0zm0 0zm-14 1zm4 0zm0 0zm0 0zm2 0zm1 0zm3 0zm3 0zm0 0zm-16 1zm2 1zm5 0zm-2 1zm0 0zm6 0zm1 0zm2 0zm0 1zm-7 1zm8 0zm6-14zm1 0zm0 0zm1 0zm1 0zm0 0zm1 0zm0 0zm0 0zm2 0zm1 0zm1 0zm2 0zm0 0zm0 0zm0 0zm1 0zm1 0zm0 0zm1 0zm1 0zm-17 1zm1 0zm1 0zm2 0zm0 0zm1 0zm1 0zm1 0zm0 0zm3 0zm1 0zm0 0zm3 0zm2 0zm-13 1zm3 0zm3 0zm0 0zm1 0zm0 0zm1 0zm0 0zm1 0zm0 0zm3 0zm-15 1zm0 0zm2 0zm0 0zm1 0zm1 0zm1 0zm2 0zm2 0zm1 0zm0 0zm0 0zm1 0zm1 0zm1 0zm0 0zm0 0zm2 0zm1 0zm0 0zm-15 1zm0 0zm1 0zm0 0zm0 0zm2 0zm1 0zm3 0zm1 0zm0 0zm1 0zm5 0zm0 0zm1 0zm0 0zm-12 1zm0 0zm1 0zm2 0zm0 0zm0 0zm2 0zm3 0zm1 0zm0 0zm2 0zm-14 1zm3 0zm1 0zm0 0zm1 0zm1 0zm0 0zm2 0zm3 0zm1 0zm0 0zm2 0zm0 0zm-15 1zm0 0zm2 0zm1 0zm1 0zm1 0zm0 0zm1 0zm2 0zm3 0zm2 0zm2 0zm0 0zm1 0zm-13 1zm0 0zm5 0zm1 0zm3 0zm5 0zm-16 1zm0 0zm8 0zm1 0zm4 0zm1 0zm0 0zm0 0zm0 0zm-14 1zm0 0zm1 0zm2 0zm7 0zm0 0zm1 0zm0 0zm1 0zm1 0zm0 0zm0 0zm1 0zm1 0zm0 0zm1 0zm-16 1zm10 0zm3 0zm1 0zm-13 1zm1 0zm0 0zm1 0zm3 0zm6 0zm2 0zm1 0zm-16 1zm9 0zm-1 1zm-8-32zm0 0zm6 0zm3 0zm3 0zm4 0zm0 0zm1 0zm-16 1zm2 0zm0 0zm2 0zm0 0zm2 0zm2 0zm0 0zm1 0zm3 0zm1 0zm2 0zm1 0zm0 0zm-17 1zm0 0zm1 0zm1 0zm1 0zm0 0zm0 0zm2 0zm0 0zm0 0zm4 0zm0 0zm2 0zm1 0zm0 0zm1 0zm2 0zm1 0zm1 0zm-17 1zm0 0zm1 0zm1 0zm1 0zm0 0zm1 0zm0 0zm3 0zm1 0zm1 0zm1 0zm0 0zm1 0zm1 0zm1 0zm2 0zm-13 1zm2 0zm0 0zm1 0zm0 0zm2 0zm6 0zm2 0zm1 0zm0 0zm0 0zm-16 1zm0 0zm0 0zm1 0zm4 0zm1 0zm2 0zm0 0zm0 0zm1 0zm0 0zm1 0zm2 0zm0 0zm0 0zm1 0zm0 0zm1 0zm0 0zm1 0zm1 0zm-15 1zm1 0zm4 0zm0 0zm1 0zm2 0zm0 0zm0 0zm1 0zm0 0zm1 0zm2 0zm0 0zm1 0zm0 0zm0 0zm2 0zm-15 1zm1 0zm0 0zm0 0zm4 0zm0 0zm0 0zm1 0zm2 0zm1 0zm1 0zm0 0zm0 0zm1 0zm0 0zm1 0zm1 0zm3 0zm0 0zm-16 1zm1 0zm0 0zm0 0zm1 0zm1 0zm2 0zm0 0zm2 0zm1 0zm3 0zm1 0zm2 0zm1 0zm1 0zm-16 1zm1 0zm1 0zm1 0zm0 0zm1 0zm3 0zm1 0zm0 0zm0 0zm0 0zm2 0zm1 0zm0 0zm1 0zm0 0zm-13 1zm3 0zm0 0zm0 0zm1 0zm3 0zm1 0zm0 0zm0 0zm2 0zm1 0zm5 0zm1 0zm-16 1zm1 0zm1 0zm1 0zm1 0zm2 0zm0 0zm5 0zm0 0zm2 0zm0 0zm2 0zm1 0zm-16 1zm0 0zm2 0zm3 0zm0 0zm3 0zm1 0zm1 0zm1 0zm0 0zm1 0zm1 0zm-13 1zm2 0zm2 0zm1 0zm0 0zm1 0zm4 0zm3 0zm0 0zm1 0zm-15 1zm1 0zm1 0zm1 0zm0 0zm9 0zm1 0zm2 0zm0 0zm1 0zm1 0zm-14 1zm0 0zm1 0zm1 0zm0 0zm1 0zm0 0zm2 0zm0 0zm1 0zm1 0zm1 0zm1 0zm0 0zm2 0zm1 0zm-15 1zm0 0zm0 0zm1 0zm1 0zm1 0zm3 0zm0 0zm0 0zm2 0zm2 0zm6 0zm0 0zm1 0zm-16 1zm1 0zm3 0zm0 0zm0 0zm1 0zm1 0zm0 0zm1 0zm2 0zm1 0zm0 0zm2 0zm0 0zm0 0zm2 0zm1 0zm1 0zm-17-35zm1 0zm5 0zm2 0zm2 0zm2 0zm2 0zm2 0zm-14 1zm2 0zm1 0zm0 0zm1 0zm-2 1zm3 0zm4 0zm-11 1zm0 0zm1 0zm2 0zm1 0zm1 0zm2 0zm1 0zm1 0zm6 0zm2 0zm0 0zm-14 1zm2 0zm1 0zm0 0zm3 0zm1 0zm3 0zm1 0zm2 0zm0 0zm1 0zm-16 1zm2 0zm5 0zm1 0zm0 0zm3 0zm0 0zm2 0zm1 0zm2 0zm-17 1zm0 0zm3 0zm1 0zm0 0zm2 0zm2 0zm1 0zm3 0zm3 0zm-12 1zm0 0zm0 0zm1 0zm5 0zm0 0zm1 0zm2 0zm1 0zm2 0zm1 0zm1 0zm-17 1zm0 0zm3 0zm0 0zm1 0zm5 0zm-9 1zm1 0zm4 0zm7 0zm0 0zm1 0zm1 0zm0 0zm1 0zm1 0zm-15 1zm1 0zm1 0zm2 0zm7 0zm0 0zm0 0zm2 0zm0 0zm1 0zm1 0zm0 0zm-16 1zm3 0zm5 0zm3 0zm1 0zm1 0zm1 0zm1 0zm-13 1zm0 0zm0 0zm2 0zm1 0zm3 0zm0 0zm2 0zm0 0zm2 0zm1 0zm1 0zm1 0zm-14 1zm0 0zm3 0zm0 0zm1 0zm0 0zm1 0zm2 0zm0 0zm0 0zm1 0zm1 0zm0 0zm2 0zm0 0zm1 0zm2 0zm-15 1zm0 0zm1 0zm0 0zm7 0zm1 0zm1 0zm2 0zm0 0zm2 0zm0 0zm3 0zm-16 1zm1 0zm0 0zm2 0zm1 0zm1 0zm1 0zm3 0zm1 0zm2 0zm4 0zm0 0zm-17 1zm1 0zm1 0zm1 0zm1 0zm4 0zm4 0zm1 0zm2 0zm2 0zm0 0zm-17 1zm0 0zm0 0zm1 0zm3 0zm1 0zm1 0zm1 0zm0 0zm1 0zm1 0zm3 0zm1 0zm0 0zm1 0zm-8-35zm0 0zm1 0zm-5 1zm8 0zm-1 1zm0 0zm-7 1zm1 0zm2 0zm8 0zm1 0zm3 0zm-17 1zm16 0zm-8 1zm4 0zm-9 1zm4 0zm1 0zm-7 1zm0 1zm0 0zm1 0zm2 0zm4 0zm1 0zm-7 1zm4 0zm1 0zm4 0zm6 0zm-17 1zm0 0zm1 0zm4 0zm2 0zm0 0zm1 0zm7 0zm-15 1zm3 0zm2 0zm2 0zm0 0zm-5 1zm4 0zm1 0zm6 0zm-4 1zm0 0zm2 0zm3 0zm-14 1zm0 0zm9 0zm-6 1zm0 0zm2 0zm0 0zm1 0zm3 0zm4 0zm1 0zm-7 1zm1 0zm7 0zm1 0zm1 0zm-11 1zm3 0zm1 0zm0 0zm2 0zm1 0zm0 0zm-11-35zm14 2zm-3 2zm4 1zm-16 3zm13 1zm2 0zm-15 1zm1 0zm-2 2zm1 0zm0 2zm6 0zm0 1zm6 0zm2 0zm-5 1zm-4 1zm0 0zm2 0zm9 0zm-14-30zm3 5zm1 0zm1 5zm4 0zm3 0zm-4-22zm-3-136zm-2-94zm21 255zm6 1zm-1 3zm2 2zm-15 3zm15 2zm1 0zm-17 3zm6 0zm-4 2zm8 1zm2 0zm-4 1zm-7 1zm1 0zm6 0zm3 0zm3 0zm-1 2zm-6 1zm3 0zm-6 1zm6 0zm1 0zm-9 2zm4 0zm4 1zm2 0zm1 0zm-11 1zm2 0zm12 0zm-9 1zm8 0zm-15 1zm16 0zm-4 1zm1 0zm2 0zm-14 1zm4 0zm0 0zm1 0zm2 0zm1 0zm1 0zm0 0zm3 0zm2 0zm-11 1zm1 0zm3 0zm2 0zm2 0zm-6 1zm3 0zm2 0zm0 0zm2 0zm1 0zm0 0zm1 0zm1 0zm0 0zm1 0zm0 0zm0 0zm-11 1zm0 0zm4 0zm1 0zm6 0zm-15 1zm2 0zm1 0zm0 0zm2 0zm2 0zm1 0zm4 0zm-11 1zm7 0zm6 0zm1 0zm0 0zm-11 1zm2 0zm0 0zm3 0zm3 0zm1 0zm-15 1zm1 0zm0 0zm3 0zm2 0zm0 0zm1 0zm4 0zm3 0zm1 0zm1 0zm-16 1zm0 0zm1 0zm0 0zm4 0zm1 0zm1 0zm3 0zm1 0zm1 0zm2 0zm1 0zm-13 1zm1 0zm1 0zm4 0zm1 0zm1 0zm1 0zm1 0zm1 0zm1 0zm0 0zm0 0zm3 0zm-17 1zm6 0zm1 0zm4 0zm0 0zm4 0zm0 0zm1 0zm-16 1zm4 0zm3 0zm1 0zm5 0zm1 0zm0 0zm0 0zm0 0zm3 0zm-17 1zm2 0zm1 0zm1 0zm6 0zm5 0zm0 0zm-15 1zm0 0zm3 0zm2 0zm2 0zm0 0zm0 0zm4 0zm1 0zm0 0zm2 0zm0 0zm2 0zm-15 1zm0 0zm0 0zm1 0zm2 0zm1 0zm2 0zm2 0zm2 0zm1 0zm0 0zm1 0zm-13 1zm2 0zm2 0zm0 0zm1 0zm2 0zm1 0zm5 0zm2 0zm2 0zm-17 1zm1 0zm0 0zm1 0zm0 0zm1 0zm4 0zm1 0zm1 0zm2 0zm0 0zm0 0zm3 0zm0 0zm0 0zm3 0zm-17 1zm0 0zm1 0zm0 0zm3 0zm0 0zm4 0zm2 0zm0 0zm1 0zm1 0zm1 0zm3 0zm1 0zm-16 1zm0 0zm0 0zm5 0zm0 0zm3 0zm0 0zm1 0zm1 0zm1 0zm1 0zm2 0zm-15 1zm2 0zm2 0zm1 0zm0 0zm1 0zm3 0zm0 0zm1 0zm1 0zm1 0zm1 0zm1 0zm1 0zm0 0zm0 0zm1 0zm1 0zm-17 1zm0 0zm3 0zm0 0zm1 0zm1 0zm1 0zm3 0zm0 0zm0 0zm3 0zm0 0zm1 0zm0 0zm1 0zm1 0zm2 0zm0 0zm-17 1zm2 0zm1 0zm1 0zm2 0zm1 0zm1 0zm2 0zm1 0zm0 0zm2 0zm2 0zm2 0zm-17 1zm2 0zm0 0zm0 0zm1 0zm0 0zm3 0zm0 0zm3 0zm1 0zm2 0zm1 0zm1 0zm0 0zm1 0zm0 0zm1 0zm0 0zm1 0zm-16 1zm1 0zm1 0zm0 0zm0 0zm0 0zm2 0zm1 0zm2 0zm0 0zm1 0zm0 0zm2 0zm2 0zm1 0zm0 0zm0 0zm1 0zm1 0zm1 0zm-16 1zm0 0zm3 0zm2 0zm0 0zm0 0zm1 0zm1 0zm1 0zm1 0zm0 0zm1 0zm2 0zm0 0zm2 0zm1 0zm0 0zm-16 1zm0 0zm1 0zm1 0zm3 0zm2 0zm0 0zm0 0zm2 0zm1 0zm6 0zm-13 1zm0 0zm0 0zm1 0zm2 0zm0 0zm6 0zm2 0zm1 0zm0 0zm1 0zm0 0zm-16 1zm0 0zm2 0zm2 0zm0 0zm1 0zm0 0zm0 0zm0 0zm2 0zm0 0zm1 0zm1 0zm0 0zm2 0zm2 0zm1 0zm3 0zm0 0zm-17 1zm0 0zm0 0zm2 0zm1 0zm0 0zm2 0zm2 0zm0 0zm1 0zm0 0zm1 0zm2 0zm1 0zm1 0zm0 0zm1 0zm0 0zm2 0zm1 0zm-17 1zm3 0zm0 0zm1 0zm2 0zm2 0zm4 0zm0 0zm0 0zm0 0zm2 0zm1 0zm0 0zm1 0zm0 0zm0 0zm1 0zm-17 1zm1 0zm3 0zm4 0zm1 0zm3 0zm1 0zm1 0zm1 0zm1 0zm0 0zm1 0zm-17 1zm0 0zm1 0zm0 0zm0 0zm0 0zm2 0zm1 0zm0 0zm1 0zm0 0zm1 0zm0 0zm1 0zm1 0zm0 0zm2 0zm0 0zm2 0zm2 0zm1 0zm0 0zm0 0zm1 0zm1 0zm-17 1zm1 0zm2 0zm2 0zm1 0zm3 0zm1 0zm1 0zm1 0zm1 0zm1 0zm0 0zm1 0zm1 0zm0 0zm0 0zm-15 1zm0 0zm2 0zm0 0zm1 0zm1 0zm1 0zm2 0zm1 0zm4 0zm3 0zm1 0zm0 0zm-17 1zm1 0zm4 0zm2 0zm1 0zm1 0zm1 0zm1 0zm0 0zm0 0zm0 0zm1 0zm0 0zm3 0zm0 0zm1 0zm0 0zm0 0zm1 0zm0 0zm-17 1zm1 0zm0 0zm0 0zm1 0zm3 0zm0 0zm1 0zm2 0zm1 0zm2 0zm0 0zm1 0zm2 0zm1 0zm1 0zm-14 1zm5 0zm0 0zm1 0zm1 0zm1 0zm0 0zm2 0zm1 0zm2 0zm0 0zm2 0zm-17 1zm3 0zm2 0zm0 0zm1 0zm1 0zm0 0zm2 0zm1 0zm1 0zm1 0zm0 0zm2 0zm0 0zm2 0zm1 0zm0 0zm-16 1zm0 0zm0 0zm2 0zm0 0zm2 0zm0 0zm1 0zm1 0zm1 0zm0 0zm1 0zm1 0zm2 0zm1 0zm0 0zm0 0zm1 0zm0 0zm3 0zm-13 1zm1 0zm2 0zm3 0zm0 0zm1 0zm2 0zm0 0zm1 0zm0 0zm0 0zm1 0zm-15 1zm1 0zm2 0zm2 0zm1 0zm1 0zm0 0zm1 0zm1 0zm1 0zm1 0zm2 0zm0 0zm0 0zm1 0zm0 0zm1 0zm1 0zm1 0zm-15 1zm3 0zm1 0zm3 0zm0 0zm0 0zm1 0zm0 0zm2 0zm0 0zm5 0zm-15 1zm4 0zm1 0zm1 0zm4 0zm0 0zm1 0zm0 0zm0 0zm2 0zm0 0zm1 0zm0 0zm1 0zm-15 1zm2 0zm0 0zm2 0zm1 0zm0 0zm3 0zm0 0zm2 0zm0 0zm4 0zm1 0zm-15 1zm0 0zm1 0zm2 0zm0 0zm1 0zm2 0zm0 0zm0 0zm2 0zm0 0zm3 0zm2 0zm1 0zm-15 1zm0 0zm4 0zm1 0zm1 0zm0 0zm1 0zm1 0zm3 0zm1 0zm0 0zm0 0zm0 0zm1 0zm0 0zm2 0zm0 0zm-15 1zm0 0zm5 0zm2 0zm0 0zm1 0zm2 0zm2 0zm0 0zm-13 1zm2 0zm4 0zm0 0zm1 0zm0 0zm1 0zm2 0zm2 0zm0 0zm0 0zm1 0zm1 0zm1 0zm1 0zm-16 1zm7 0zm0 0zm0 0zm1 0zm3 0zm2 0zm0 0zm1 0zm1 0zm0 0zm2 0zm-17 1zm1 0zm3 0zm0 0zm0 0zm5 0zm1 0zm1 0zm1 0zm0 0zm1 0zm1 0zm1 0zm0 0zm-11 1zm0 0zm1 0zm4 0zm1 0zm0 0zm1 0zm1 0zm3 0zm0 0zm0 0zm-15 1zm0 0zm6 0zm0 0zm6 0zm3 0zm1 0zm-11 1zm1 0zm2 0zm1 0zm1 0zm0 0zm1 1zm0 0zm-4 1zm4 0zm4 0zm0 1zm3-14zm0 0zm2 0zm0 0zm1 0zm3 0zm0 0zm1 0zm1 0zm1 0zm0 0zm0 0zm0 0zm2 0zm1 0zm2 0zm0 0zm0 0zm0 0zm0 0zm2 0zm0 0zm1 0zm0 0zm0 0zm-17 1zm1 0zm0 0zm1 0zm4 0zm2 0zm0 0zm1 0zm1 0zm0 0zm0 0zm1 0zm2 0zm0 0zm0 0zm1 0zm0 0zm0 0zm1 0zm0 0zm1 0zm0 0zm0 0zm1 0zm-17 1zm0 0zm0 0zm0 0zm1 0zm0 0zm1 0zm4 0zm1 0zm2 0zm1 0zm2 0zm0 0zm1 0zm2 0zm1 0zm0 0zm1 0zm0 0zm-16 1zm1 0zm1 0zm0 0zm1 0zm1 0zm1 0zm1 0zm7 0zm0 0zm0 0zm0 0zm1 0zm0 0zm0 0zm-15 1zm1 0zm1 0zm2 0zm2 0zm2 0zm1 0zm0 0zm0 0zm2 0zm0 0zm3 0zm0 0zm0 0zm1 0zm1 0zm-15 1zm1 0zm1 0zm0 0zm3 0zm0 0zm1 0zm1 0zm4 0zm3 0zm1 0zm0 0zm1 0zm-15 1zm2 0zm0 0zm1 0zm3 0zm0 0zm1 0zm3 0zm0 0zm0 0zm0 0zm2 0zm2 0zm-13 1zm5 0zm3 0zm1 0zm0 0zm1 0zm0 0zm1 0zm0 0zm1 0zm2 0zm0 0zm0 0zm-17 1zm1 0zm6 0zm3 0zm1 0zm1 0zm0 0zm1 0zm2 0zm-12 1zm0 0zm2 0zm1 0zm0 0zm0 0zm5 0zm1 0zm0 0zm0 0zm1 0zm2 0zm0 0zm2 0zm-12 1zm0 0zm1 0zm4 0zm1 0zm2 0zm1 0zm1 0zm1 0zm-12 1zm2 0zm1 0zm3 0zm3 0zm1 0zm3 0zm-17 1zm12 0zm0 0zm1 0zm-13 1zm1 0zm10 0zm1 0zm2 0zm1 0zm-15-31zm0 0zm3 0zm4 0zm1 0zm0 0zm2 0zm1 0zm0 0zm0 0zm1 0zm1 0zm1 0zm2 0zm0 0zm-16 1zm1 0zm0 0zm1 0zm1 0zm3 0zm0 0zm4 0zm0 0zm1 0zm0 0zm1 0zm2 0zm1 0zm0 0zm1 0zm0 0zm1 0zm0 0zm-16 1zm1 0zm0 0zm1 0zm0 0zm1 0zm0 0zm1 0zm1 0zm1 0zm1 0zm0 0zm0 0zm1 0zm1 0zm1 0zm6 0zm-17 1zm0 0zm1 0zm0 0zm2 0zm1 0zm1 0zm1 0zm0 0zm0 0zm1 0zm1 0zm0 0zm1 0zm2 0zm3 0zm1 0zm1 0zm0 0zm-13 1zm0 0zm3 0zm1 0zm1 0zm0 0zm2 0zm3 0zm1 0zm1 0zm0 0zm0 0zm2 0zm-17 1zm2 0zm1 0zm1 0zm1 0zm0 0zm1 0zm2 0zm1 0zm0 0zm0 0zm0 0zm1 0zm4 0zm1 0zm-15 1zm0 0zm0 0zm1 0zm0 0zm0 0zm2 0zm1 0zm1 0zm1 0zm0 0zm1 0zm0 0zm2 0zm1 0zm1 0zm1 0zm2 0zm1 0zm1 0zm0 0zm-15 1zm0 0zm4 0zm0 0zm1 0zm0 0zm1 0zm2 0zm1 0zm0 0zm1 0zm1 0zm0 0zm2 0zm1 0zm-15 1zm0 0zm1 0zm2 0zm0 0zm0 0zm1 0zm0 0zm1 0zm0 0zm0 0zm0 0zm0 0zm0 0zm1 0zm1 0zm1 0zm2 0zm2 0zm0 0zm1 0zm1 0zm1 0zm0 0zm1 0zm0 0zm0 0zm-15 1zm1 0zm2 0zm3 0zm1 0zm0 0zm1 0zm0 0zm0 0zm0 0zm1 0zm0 0zm1 0zm3 0zm0 0zm1 0zm-15 1zm1 0zm2 0zm1 0zm1 0zm1 0zm0 0zm1 0zm0 0zm1 0zm0 0zm1 0zm1 0zm4 0zm0 0zm1 0zm0 0zm1 0zm-15 1zm3 0zm1 0zm2 0zm1 0zm0 0zm2 0zm1 0zm1 0zm2 0zm1 0zm1 0zm-16 1zm0 0zm1 0zm0 0zm0 0zm1 0zm0 0zm1 0zm2 0zm1 0zm0 0zm1 0zm1 0zm0 0zm1 0zm3 0zm1 0zm0 0zm0 0zm4 0zm0 0zm-17 1zm0 0zm0 0zm0 0zm2 0zm1 0zm3 0zm1 0zm2 0zm0 0zm2 0zm1 0zm0 0zm0 0zm1 0zm1 0zm1 0zm1 0zm0 0zm1 0zm0 0zm-15 1zm1 0zm3 0zm0 0zm2 0zm0 0zm2 0zm0 0zm1 0zm1 0zm0 0zm1 0zm1 0zm1 0zm0 0zm2 0zm-15 1zm1 0zm0 0zm1 0zm1 0zm0 0zm1 0zm1 0zm0 0zm1 0zm1 0zm1 0zm1 0zm3 0zm-12 1zm1 0zm4 0zm0 0zm1 0zm0 0zm1 0zm1 0zm0 0zm1 0zm1 0zm1 0zm2 0zm1 0zm0 0zm0 0zm1 0zm0 0zm-17 1zm0 0zm1 0zm0 0zm0 0zm1 0zm1 0zm2 0zm2 0zm0 0zm0 0zm1 0zm0 0zm1 0zm1 0zm0 0zm1 0zm3 0zm0 0zm0 0zm1 0zm0 0zm1 0zm0 0zm0 0zm1 0zm0 0zm-17-35zm1 0zm5 0zm3 0zm1 0zm6 0zm-13 1zm2 0zm2 0zm1 0zm0 0zm2 0zm6 0zm-15 1zm4 0zm0 0zm2 0zm5 0zm-12 1zm1 0zm3 0zm1 0zm2 0zm2 0zm5 0zm3 0zm-13 1zm5 0zm3 0zm0 0zm2 0zm0 0zm-12 1zm1 0zm0 0zm1 0zm1 0zm2 0zm3 0zm2 0zm4 0zm-14 1zm7 0zm1 0zm4 0zm3 0zm-17 1zm0 0zm1 0zm0 0zm0 0zm2 0zm2 0zm11 0zm0 0zm-15 1zm3 0zm1 0zm0 0zm5 0zm1 0zm0 0zm3 0zm-14 1zm0 0zm4 0zm2 0zm1 0zm2 0zm3 0zm1 0zm1 0zm2 0zm0 0zm1 0zm0 0zm-13 1zm2 0zm0 0zm0 0zm0 0zm3 0zm3 0zm0 0zm4 0zm-15 1zm0 0zm0 0zm0 0zm3 0zm0 0zm1 0zm1 0zm1 0zm5 0zm3 0zm-15 1zm3 0zm1 0zm3 0zm2 0zm1 0zm1 0zm3 0zm2 0zm-14 1zm0 0zm0 0zm0 0zm2 0zm1 0zm1 0zm0 0zm5 0zm1 0zm4 0zm-15 1zm5 0zm1 0zm2 0zm1 0zm1 0zm0 0zm1 0zm1 0zm1 0zm2 0zm-16 1zm1 0zm2 0zm1 0zm1 0zm1 0zm0 0zm1 0zm0 0zm1 0zm1 0zm0 0zm0 0zm1 0zm0 0zm0 0zm1 0zm0 0zm6 0zm-17 1zm4 0zm0 0zm1 0zm2 0zm3 0zm4 0zm0 0zm2 0zm1 0zm-15 1zm1 0zm2 0zm3 0zm1 0zm1 0zm1 0zm2 0zm1 0zm0 0zm2 0zm0 0zm1 0zm-16-35zm4 0zm2 1zm-5 1zm9 0zm-10 1zm3 0zm6 0zm-7 1zm7 1zm6 0zm-16 1zm9 0zm-3 1zm5 1zm6 0zm-7 1zm0 0zm6 0zm-15 1zm3 0zm-4 1zm4 0zm1 0zm8 0zm-13 1zm2 0zm1 0zm1 0zm2 0zm2 0zm9 0zm-13 1zm7 0zm5 0zm0 0zm-11 1zm4 0zm2 0zm1 0zm1 0zm0 0zm-9 1zm2 0zm1 0zm9 0zm-12 1zm4 0zm1 0zm2 0zm2 0zm1 0zm-12 1zm0 0zm6-32zm3 0zm-4 3zm-4 6zm10 0zm2 3zm-13 1zm0 1zm2 0zm11 0zm-14-34zm9 4zm-9 1zm3 7zm16-19zm13 1zm-8 23zm1 1zm-5 2zm11 0zm-2 3zm3 5zm-12 1zm4 1zm6 2zm0 1zm-11 4zm13 1zm-9 1zm3 0zm-8 2zm13 0zm-13 1zm10 1zm5 0zm-9 1zm2 0zm4 0zm-6 1zm5 0zm4 0zm0 0zm-10 1zm3 0zm3 0zm0 0zm-11 1zm1 0zm3 0zm4 1zm-9 1zm5 0zm1 0zm3 0zm0 0zm6 0zm-15 1zm3 0zm5 0zm7 0zm2 0zm-15 1zm0 0zm1 0zm4 0zm9 0zm-13 1zm2 0zm5 0zm2 0zm2 0zm-13 1zm0 0zm1 0zm13 0zm1 0zm-15 1zm5 0zm0 0zm3 0zm7 0zm1 0zm-13 1zm4 0zm0 0zm2 0zm1 0zm4 0zm0 0zm-9 1zm1 0zm6 0zm-13 1zm1 0zm3 0zm3 0zm0 0zm2 0zm1 0zm1 0zm2 0zm0 0zm3 0zm-9 1zm2 0zm6 0zm-15 1zm0 0zm5 0zm0 0zm3 0zm1 0zm2 0zm5 0zm-16 1zm0 0zm2 0zm1 0zm1 0zm3 0zm1 0zm3 0zm2 0zm-12 1zm14 0zm0 0zm-14 1zm2 0zm2 0zm1 0zm0 0zm3 0zm4 0zm1 0zm1 0zm1 0zm1 0zm0 0zm-17 1zm0 0zm5 0zm0 0zm2 0zm0 0zm1 0zm4 0zm0 0zm4 0zm0 0zm0 0zm0 0zm-16 1zm2 0zm0 0zm3 0zm1 0zm1 0zm2 0zm8 0zm-17 1zm2 0zm3 0zm0 0zm0 0zm2 0zm1 0zm1 0zm0 0zm2 0zm2 0zm4 0zm-15 1zm2 0zm1 0zm0 0zm1 0zm0 0zm4 0zm0 0zm2 0zm2 0zm1 0zm0 0zm1 0zm1 0zm-15 1zm0 0zm2 0zm2 0zm1 0zm2 0zm0 0zm4 0zm3 0zm-15 1zm1 0zm1 0zm3 0zm1 0zm2 0zm2 0zm6 0zm-17 1zm1 0zm1 0zm5 0zm0 0zm1 0zm1 0zm0 0zm1 0zm0 0zm0 0zm0 0zm5 0zm-15 1zm1 0zm2 0zm0 0zm1 0zm1 0zm3 0zm0 0zm0 0zm2 0zm1 0zm4 0zm1 0zm1 0zm-16 1zm1 0zm3 0zm1 0zm1 0zm0 0zm4 0zm2 0zm0 0zm1 0zm1 0zm1 0zm1 0zm-17 1zm2 0zm3 0zm1 0zm1 0zm0 0zm3 0zm1 0zm0 0zm0 0zm1 0zm0 0zm0 0zm0 0zm1 0zm0 0zm1 0zm1 0zm0 0zm1 0zm-15 1zm1 0zm2 0zm1 0zm2 0zm0 0zm0 0zm1 0zm1 0zm0 0zm0 0zm2 0zm0 0zm0 0zm3 0zm1 0zm-15 1zm2 0zm2 0zm3 0zm3 0zm0 0zm1 0zm0 0zm2 0zm1 0zm-13 1zm2 0zm1 0zm0 0zm1 0zm1 0zm3 0zm1 0zm0 0zm1 0zm1 0zm2 0zm0 0zm0 0zm1 0zm1 0zm1 0zm0 0zm-17 1zm0 0zm0 0zm1 0zm2 0zm3 0zm0 0zm1 0zm1 0zm1 0zm2 0zm2 0zm3 0zm0 0zm0 0zm-16 1zm4 0zm1 0zm1 0zm0 0zm1 0zm3 0zm1 0zm0 0zm1 0zm5 0zm0 0zm-17 1zm1 0zm2 0zm2 0zm1 0zm1 0zm1 0zm1 0zm0 0zm1 0zm0 0zm0 0zm0 0zm2 0zm2 0zm0 0zm1 0zm0 0zm0 0zm1 0zm1 0zm0 0zm0 0zm-17 1zm0 0zm0 0zm1 0zm1 0zm3 0zm0 0zm1 0zm1 0zm0 0zm1 0zm0 0zm3 0zm1 0zm0 0zm1 0zm1 0zm2 0zm1 0zm0 0zm-17 1zm1 0zm3 0zm1 0zm1 0zm0 0zm1 0zm4 0zm0 0zm0 0zm0 0zm2 0zm2 0zm1 0zm0 0zm1 0zm0 0zm-16 1zm1 0zm0 0zm0 0zm0 0zm1 0zm0 0zm1 0zm0 0zm2 0zm0 0zm0 0zm0 0zm1 0zm1 0zm0 0zm2 0zm0 0zm0 0zm0 0zm2 0zm1 0zm0 0zm1 0zm0 0zm1 0zm0 0zm0 0zm2 0zm-17 1zm0 0zm1 0zm1 0zm3 0zm1 0zm0 0zm1 0zm0 0zm0 0zm1 0zm1 0zm0 0zm1 0zm1 0zm1 0zm1 0zm0 0zm1 0zm-13 1zm1 0zm2 0zm1 0zm1 0zm2 0zm0 0zm1 0zm2 0zm0 0zm1 0zm0 0zm2 0zm0 0zm3 0zm-17 1zm1 0zm0 0zm1 0zm1 0zm0 0zm1 0zm2 0zm0 0zm1 0zm1 0zm0 0zm1 0zm1 0zm0 0zm0 0zm2 0zm0 0zm1 0zm2 0zm1 0zm0 0zm1 0zm-17 1zm0 0zm1 0zm0 0zm1 0zm0 0zm1 0zm1 0zm0 0zm2 0zm1 0zm1 0zm1 0zm1 0zm1 0zm0 0zm1 0zm0 0zm1 0zm0 0zm1 0zm1 0zm2 0zm0 0zm0 0zm-16 1zm0 0zm1 0zm1 0zm2 0zm1 0zm1 0zm1 0zm0 0zm1 0zm0 0zm0 0zm1 0zm1 0zm0 0zm0 0zm1 0zm2 0zm2 0zm1 0zm-17 1zm1 0zm1 0zm1 0zm1 0zm0 0zm0 0zm1 0zm1 0zm0 0zm0 0zm1 0zm1 0zm0 0zm3 0zm1 0zm2 0zm1 0zm0 0zm2 0zm0 0zm0 0zm-17 1zm0 0zm2 0zm0 0zm1 0zm0 0zm0 0zm1 0zm0 0zm1 0zm1 0zm0 0zm0 0zm0 0zm1 0zm1 0zm0 0zm1 0zm0 0zm2 0zm1 0zm1 0zm0 0zm0 0zm1 0zm1 0zm2 0zm-16 1zm2 0zm0 0zm2 0zm1 0zm1 0zm0 0zm0 0zm0 0zm1 0zm2 0zm1 0zm0 0zm1 0zm1 0zm0 0zm3 0zm1 0zm-17 1zm1 0zm1 0zm0 0zm1 0zm0 0zm1 0zm1 0zm1 0zm1 0zm1 0zm0 0zm0 0zm1 0zm1 0zm1 0zm0 0zm1 0zm1 0zm0 0zm0 0zm1 0zm2 0zm1 0zm-17 1zm3 0zm0 0zm0 0zm0 0zm1 0zm1 0zm1 0zm0 0zm0 0zm6 0zm0 0zm1 0zm1 0zm1 0zm2 0zm-17 1zm0 0zm1 0zm0 0zm1 0zm0 0zm1 0zm1 0zm1 0zm1 0zm3 0zm0 0zm1 0zm3 0zm2 0zm1 0zm0 0zm0 0zm1 0zm-13 1zm0 0zm3 0zm0 0zm0 0zm1 0zm0 0zm2 0zm1 0zm3 0zm0 0zm2 0zm-16 1zm0 0zm1 0zm0 0zm0 0zm1 0zm1 0zm1 0zm0 0zm1 0zm2 0zm1 0zm0 0zm1 0zm0 0zm2 0zm3 0zm1 0zm1 0zm0 0zm1 0zm-17 1zm0 0zm0 0zm9 0zm1 0zm0 0zm1 0zm4 0zm1 0zm0 0zm-16 1zm2 0zm3 0zm0 0zm1 0zm0 0zm5 0zm3 0zm1 0zm2 0zm0 0zm-16 1zm0 0zm0 0zm0 0zm1 0zm3 0zm1 0zm1 0zm3 0zm1 0zm1 0zm1 0zm-10 1zm0 0zm0 0zm5 0zm3 0zm1 0zm0 0zm0 0zm0 0zm5 0zm-16 1zm1 0zm3 0zm1 0zm4 0zm0 0zm0 0zm1 0zm1 0zm2 0zm1 0zm-12 1zm3 0zm4 0zm1 0zm2 0zm4 0zm-17 1zm3 0zm1 0zm11 0zm1 1zm2-13zm0 0zm0 0zm0 0zm1 0zm0 0zm2 0zm3 0zm0 0zm3 0zm0 0zm0 0zm1 0zm0 0zm2 0zm0 0zm1 0zm0 0zm1 0zm0 0zm1 0zm0 0zm1 0zm0 0zm0 0zm-16 1zm1 0zm0 0zm1 0zm1 0zm2 0zm2 0zm3 0zm0 0zm0 0zm2 0zm0 0zm1 0zm0 0zm1 0zm1 0zm0 0zm0 0zm0 0zm1 0zm0 0zm0 0zm-16 1zm0 0zm0 0zm1 0zm2 0zm0 0zm1 0zm0 0zm1 0zm1 0zm0 0zm1 0zm0 0zm4 0zm1 0zm1 0zm0 0zm1 0zm0 0zm1 0zm-14 1zm0 0zm0 0zm0 0zm3 0zm2 0zm1 0zm0 0zm0 0zm0 0zm2 0zm1 0zm1 0zm1 0zm1 0zm1 0zm0 0zm1 0zm2 0zm0 0zm0 0zm0 0zm-17 1zm0 0zm1 0zm0 0zm1 0zm0 0zm5 0zm0 0zm1 0zm0 0zm2 0zm0 0zm2 0zm2 0zm1 0zm0 0zm1 0zm-15 1zm0 0zm2 0zm1 0zm2 0zm2 0zm4 0zm0 0zm0 0zm3 0zm0 0zm1 0zm1 0zm0 0zm-17 1zm1 0zm2 0zm1 0zm0 0zm0 0zm0 0zm1 0zm2 0zm1 0zm2 0zm1 0zm2 0zm0 0zm0 0zm0 0zm2 0zm-12 1zm0 0zm1 0zm0 0zm1 0zm5 0zm0 0zm2 0zm2 0zm0 0zm2 0zm1 0zm0 0zm0 0zm-15 1zm2 0zm5 0zm5 0zm1 0zm2 0zm0 0zm-17 1zm0 0zm3 0zm1 0zm1 0zm0 0zm1 0zm1 0zm0 0zm2 0zm2 0zm0 0zm2 0zm0 0zm1 0zm1 0zm0 0zm2 0zm0 0zm-12 1zm0 0zm1 0zm1 0zm0 0zm4 0zm0 0zm1 0zm0 0zm2 0zm0 0zm-10 1zm0 0zm1 0zm5 0zm2 0zm2 0zm0 0zm2 0zm-16 1zm4 0zm0 0zm1 0zm0 0zm1 0zm3 0zm5 0zm0 0zm-2 1zm4 0zm1 0zm-9 1zm-8-32zm0 0zm1 0zm0 0zm4 0zm0 0zm1 0zm0 0zm0 0zm1 0zm1 0zm0 0zm2 0zm1 0zm6 0zm-17 1zm2 0zm0 0zm1 0zm1 0zm0 0zm2 0zm1 0zm2 0zm0 0zm0 0zm1 0zm1 0zm0 0zm1 0zm0 0zm0 0zm0 0zm2 0zm2 0zm-16 1zm4 0zm1 0zm0 0zm2 0zm1 0zm1 0zm0 0zm0 0zm2 0zm1 0zm3 0zm1 0zm1 0zm0 0zm0 0zm-11 1zm0 0zm0 0zm2 0zm3 0zm1 0zm1 0zm0 0zm1 0zm1 0zm1 0zm0 0zm1 0zm-16 1zm0 0zm1 0zm2 0zm0 0zm0 0zm1 0zm0 0zm2 0zm2 0zm1 0zm0 0zm0 0zm2 0zm4 0zm0 0zm1 0zm-17 1zm2 0zm2 0zm0 0zm2 0zm2 0zm0 0zm0 0zm1 0zm1 0zm0 0zm1 0zm0 0zm2 0zm3 0zm1 0zm-17 1zm0 0zm2 0zm0 0zm0 0zm1 0zm0 0zm0 0zm0 0zm4 0zm0 0zm3 0zm2 0zm0 0zm0 0zm2 0zm0 0zm-14 1zm1 0zm1 0zm2 0zm0 0zm1 0zm1 0zm1 0zm2 0zm0 0zm1 0zm2 0zm1 0zm1 0zm-14 1zm0 0zm1 0zm0 0zm1 0zm6 0zm2 0zm0 0zm1 0zm1 0zm0 0zm1 0zm-13 1zm1 0zm0 0zm1 0zm2 0zm0 0zm1 0zm1 0zm1 0zm1 0zm1 0zm0 0zm0 0zm1 0zm1 0zm2 0zm2 0zm0 0zm1 0zm0 0zm1 0zm-17 1zm0 0zm0 0zm1 0zm1 0zm3 0zm3 0zm2 0zm1 0zm0 0zm0 0zm1 0zm1 0zm1 0zm2 0zm0 0zm0 0zm1 0zm0 0zm-17 1zm0 0zm0 0zm0 0zm0 0zm1 0zm1 0zm1 0zm0 0zm0 0zm0 0zm1 0zm2 0zm0 0zm3 0zm0 0zm1 0zm0 0zm3 0zm1 0zm0 0zm1 0zm2 0zm-17 1zm1 0zm1 0zm1 0zm0 0zm2 0zm1 0zm2 0zm0 0zm0 0zm1 0zm0 0zm0 0zm0 0zm0 0zm1 0zm1 0zm0 0zm0 0zm1 0zm0 0zm1 0zm1 0zm2 0zm1 0zm-17 1zm0 0zm0 0zm0 0zm1 0zm0 0zm1 0zm2 0zm1 0zm0 0zm0 0zm1 0zm2 0zm1 0zm0 0zm0 0zm0 0zm1 0zm1 0zm0 0zm2 0zm1 0zm0 0zm2 0zm1 0zm0 0zm-16 1zm0 0zm0 0zm2 0zm0 0zm0 0zm2 0zm0 0zm1 0zm0 0zm1 0zm0 0zm1 0zm1 0zm0 0zm2 0zm0 0zm0 0zm1 0zm2 0zm1 0zm0 0zm-14 1zm2 0zm2 0zm1 0zm0 0zm1 0zm3 0zm2 0zm0 0zm0 0zm2 0zm-14 1zm1 0zm1 0zm1 0zm1 0zm0 0zm1 0zm2 0zm1 0zm0 0zm0 0zm0 0zm2 0zm2 0zm1 0zm1 0zm1 0zm0 0zm1 0zm1 0zm-17 1zm2 0zm0 0zm1 0zm0 0zm1 0zm0 0zm0 0zm3 0zm1 0zm1 0zm1 0zm5 0zm0 0zm1 0zm0 0zm-16-35zm5 0zm1 0zm4 0zm-7 1zm9 0zm-11 1zm4 0zm12 0zm-17 1zm3 0zm1 0zm3 0zm1 0zm0 0zm3 0zm-11 1zm4 0zm0 0zm0 0zm2 0zm4 0zm2 0zm0 0zm0 0zm-4 1zm1 0zm1 0zm1 0zm2 0zm1 0zm-7 1zm0 0zm4 0zm0 0zm1 0zm5 0zm-14 1zm1 0zm5 0zm1 0zm0 0zm3 0zm2 0zm-14 1zm0 0zm13 0zm1 0zm2 0zm-16 1zm1 0zm2 0zm4 0zm1 0zm0 0zm1 0zm5 0zm2 0zm-15 1zm2 0zm4 0zm3 0zm4 0zm2 0zm0 0zm-16 1zm0 0zm3 0zm0 0zm1 0zm1 0zm2 0zm1 0zm1 0zm1 0zm0 0zm1 0zm1 0zm1 0zm3 0zm0 0zm-11 1zm0 0zm1 0zm1 0zm2 0zm1 0zm1 0zm1 0zm3 0zm1 0zm-17 1zm1 0zm0 0zm2 0zm4 0zm4 0zm3 0zm1 0zm2 0zm-16 1zm2 0zm3 0zm0 0zm2 0zm1 0zm1 0zm2 0zm3 0zm0 0zm1 0zm0 0zm1 0zm-17 1zm0 0zm1 0zm0 0zm1 0zm0 0zm0 0zm0 0zm1 0zm0 0zm4 0zm5 0zm1 0zm1 0zm1 0zm1 0zm1 0zm-16 1zm3 0zm0 0zm0 0zm5 0zm1 0zm1 0zm0 0zm2 0zm1 0zm1 0zm1 0zm-15 1zm0 0zm1 0zm2 0zm3 0zm1 0zm1 0zm1 0zm4 0zm1 0zm1 0zm1 0zm-10-35zm-4 4zm4 0zm3 2zm-8 1zm12 0zm-1 1zm2 0zm-2 1zm2 0zm2 0zm-7 3zm1 0zm5 0zm0 1zm-15 1zm3 0zm1 1zm12 0zm-16 2zm16 0zm-2-33zm-11 10zm8 5zm0-25zm7-1zm2 21zm4 4zm-4 2zm-2 2zm1 1zm1 1zm2 0zm4 0zm-3 1zm3 0zm4 0zm1 1zm-14 4zm13 1zm1 1zm-11 2zm12 0zm-13 1zm1 0zm0 1zm5 0zm-8 1zm4 0zm10 0zm-7 1zm3 0zm1 1zm0 0zm2 0zm-8 1zm9 0zm2 0zm-13 1zm0 0zm1 0zm7 0zm3 0zm2 0zm-12 2zm2 0zm2 0zm1 0zm2 0zm2 0zm0 0zm1 0zm-8 1zm2 0zm3 0zm5 0zm1 0zm-14 1zm0 0zm0 0zm12 0zm-15 1zm6 0zm4 0zm2 0zm5 0zm-15 1zm2 0zm8 0zm1 0zm2 0zm-15 1zm1 0zm0 0zm1 0zm0 0zm4 0zm3 0zm0 0zm3 0zm3 0zm-15 1zm1 0zm2 0zm1 0zm0 0zm1 0zm5 0zm5 0zm2 0zm-17 1zm2 0zm1 0zm0 0zm2 0zm1 0zm0 0zm0 0zm2 0zm2 0zm4 0zm-14 1zm2 0zm0 0zm3 0zm4 0zm7 0zm-15 1zm0 0zm0 0zm3 0zm4 0zm1 0zm0 0zm0 0zm0 0zm2 0zm1 0zm1 0zm2 0zm0 0zm2 0zm-16 1zm0 0zm3 0zm2 0zm2 0zm2 0zm0 0zm2 0zm2 0zm3 0zm-17 1zm0 0zm3 0zm4 0zm1 0zm1 0zm1 0zm5 0zm1 0zm0 0zm-15 1zm1 0zm2 0zm2 0zm0 0zm8 0zm2 0zm0 0zm-16 1zm1 0zm2 0zm1 0zm3 0zm0 0zm1 0zm0 0zm0 0zm1 0zm1 0zm2 0zm2 0zm0 0zm0 0zm1 0zm0 0zm0 0zm1 0zm1 0zm0 0zm-13 1zm1 0zm0 0zm3 0zm3 0zm3 0zm0 0zm1 0zm0 0zm2 0zm0 0zm-17 1zm4 0zm0 0zm0 0zm2 0zm2 0zm1 0zm2 0zm2 0zm2 0zm2 0zm-17 1zm0 0zm3 0zm0 0zm0 0zm1 0zm4 0zm1 0zm0 0zm1 0zm1 0zm0 0zm2 0zm0 0zm0 0zm1 0zm0 0zm0 0zm2 0zm1 0zm0 0zm-17 1zm0 0zm1 0zm0 0zm1 0zm1 0zm0 0zm3 0zm2 0zm0 0zm2 0zm0 0zm1 0zm0 0zm0 0zm2 0zm0 0zm2 0zm-15 1zm1 0zm1 0zm0 0zm4 0zm0 0zm3 0zm2 0zm0 0zm2 0zm-13 1zm0 0zm0 0zm0 0zm3 0zm0 0zm2 0zm0 0zm1 0zm1 0zm1 0zm3 0zm1 0zm2 0zm2 0zm1 0zm-17 1zm0 0zm1 0zm0 0zm0 0zm1 0zm1 0zm1 0zm2 0zm0 0zm1 0zm0 0zm0 0zm1 0zm0 0zm2 0zm1 0zm1 0zm1 0zm3 0zm0 0zm0 0zm0 0zm1 0zm-14 1zm2 0zm0 0zm1 0zm1 0zm1 0zm0 0zm1 0zm3 0zm2 0zm1 0zm0 0zm1 0zm-16 1zm3 0zm0 0zm1 0zm0 0zm1 0zm1 0zm0 0zm2 0zm0 0zm2 0zm1 0zm2 0zm0 0zm1 0zm0 0zm1 0zm0 0zm1 0zm1 0zm-17 1zm2 0zm1 0zm3 0zm0 0zm2 0zm0 0zm0 0zm3 0zm1 0zm1 0zm1 0zm1 0zm1 0zm0 0zm1 0zm-16 1zm4 0zm1 0zm0 0zm1 0zm0 0zm0 0zm2 0zm1 0zm1 0zm0 0zm0 0zm1 0zm0 0zm1 0zm2 0zm1 0zm-14 1zm0 0zm0 0zm1 0zm1 0zm1 0zm0 0zm1 0zm1 0zm2 0zm0 0zm2 0zm1 0zm0 0zm2 0zm0 0zm1 0zm1 0zm1 0zm0 0zm0 0zm-17 1zm0 0zm0 0zm2 0zm2 0zm1 0zm1 0zm0 0zm1 0zm1 0zm1 0zm2 0zm0 0zm1 0zm0 0zm1 0zm1 0zm1 0zm0 0zm0 0zm0 0zm1 0zm1 0zm-16 1zm0 0zm0 0zm1 0zm0 0zm1 0zm2 0zm0 0zm0 0zm0 0zm1 0zm0 0zm2 0zm0 0zm0 0zm1 0zm1 0zm0 0zm1 0zm2 0zm2 0zm-15 1zm0 0zm0 0zm0 0zm3 0zm0 0zm1 0zm0 0zm2 0zm0 0zm1 0zm1 0zm0 0zm1 0zm1 0zm0 0zm1 0zm1 0zm1 0zm1 0zm0 0zm0 0zm0 0zm1 0zm-14 1zm0 0zm1 0zm0 0zm0 0zm0 0zm1 0zm3 0zm1 0zm1 0zm3 0zm0 0zm1 0zm1 0zm0 0zm0 0zm1 0zm1 0zm2 0zm-16 1zm0 0zm0 0zm0 0zm1 0zm0 0zm3 0zm0 0zm2 0zm0 0zm0 0zm2 0zm0 0zm1 0zm1 0zm1 0zm1 0zm0 0zm0 0zm0 0zm0 0zm3 0zm1 0zm0 0zm-17 1zm2 0zm0 0zm0 0zm2 0zm2 0zm0 0zm1 0zm1 0zm0 0zm0 0zm3 0zm1 0zm0 0zm0 0zm0 0zm1 0zm0 0zm1 0zm0 0zm0 0zm2 0zm1 0zm-17 1zm1 0zm1 0zm1 0zm1 0zm2 0zm0 0zm0 0zm1 0zm2 0zm0 0zm1 0zm1 0zm2 0zm1 0zm0 0zm0 0zm0 0zm3 0zm0 0zm-17 1zm1 0zm0 0zm1 0zm1 0zm0 0zm0 0zm1 0zm1 0zm1 0zm1 0zm1 0zm1 0zm0 0zm1 0zm0 0zm0 0zm2 0zm0 0zm1 0zm0 0zm2 0zm-14 1zm0 0zm0 0zm2 0zm0 0zm0 0zm1 0zm1 0zm1 0zm0 0zm2 0zm1 0zm1 0zm0 0zm1 0zm1 0zm0 0zm1 0zm1 0zm1 0zm0 0zm1 0zm-16 1zm2 0zm0 0zm0 0zm2 0zm1 0zm0 0zm1 0zm2 0zm5 0zm1 0zm1 0zm1 0zm1 0zm-17 1zm2 0zm2 0zm0 0zm1 0zm2 0zm1 0zm2 0zm0 0zm0 0zm2 0zm0 0zm2 0zm1 0zm0 0zm-15 1zm1 0zm1 0zm3 0zm1 0zm0 0zm0 0zm2 0zm1 0zm1 0zm3 0zm1 0zm0 0zm2 0zm1 0zm0 0zm0 0zm-17 1zm1 0zm0 0zm1 0zm1 0zm1 0zm0 0zm2 0zm3 0zm0 0zm0 0zm0 0zm0 0zm0 0zm0 0zm0 0zm0 0zm2 0zm1 0zm1 0zm1 0zm0 0zm-13 1zm4 0zm2 0zm0 0zm0 0zm1 0zm1 0zm0 0zm3 0zm3 0zm0 0zm2 0zm0 0zm-13 1zm0 0zm1 0zm0 0zm0 0zm0 0zm3 0zm0 0zm1 0zm0 0zm4 0zm1 0zm0 0zm0 0zm2 0zm-13 1zm1 0zm0 0zm2 0zm0 0zm1 0zm2 0zm3 0zm3 0zm1 0zm-12 1zm1 0zm5 0zm0 0zm1 0zm1 0zm0 0zm0 0zm5 0zm-17 1zm8 0zm3 0zm1 0zm5 0zm-4 1zm2 0zm-11 1zm14-14zm1 0zm0 0zm1 0zm1 0zm1 0zm0 0zm0 0zm0 0zm2 0zm1 0zm0 0zm1 0zm0 0zm0 0zm1 0zm0 0zm0 0zm0 0zm0 0zm2 0zm0 0zm0 0zm0 0zm1 0zm2 0zm1 0zm0 0zm0 0zm0 0zm0 0zm2 0zm-17 1zm0 0zm1 0zm1 0zm0 0zm2 0zm0 0zm1 0zm1 0zm1 0zm0 0zm1 0zm1 0zm1 0zm1 0zm0 0zm1 0zm2 0zm0 0zm0 0zm3 0zm0 0zm0 0zm0 0zm0 0zm0 0zm-16 1zm0 0zm1 0zm1 0zm1 0zm0 0zm0 0zm0 0zm1 0zm0 0zm0 0zm2 0zm0 0zm1 0zm0 0zm0 0zm0 0zm1 0zm0 0zm1 0zm0 0zm1 0zm1 0zm0 0zm2 0zm0 0zm1 0zm2 0zm0 0zm-17 1zm0 0zm0 0zm2 0zm0 0zm1 0zm2 0zm0 0zm0 0zm0 0zm1 0zm1 0zm2 0zm0 0zm1 0zm0 0zm0 0zm0 0zm3 0zm2 0zm0 0zm1 0zm1 0zm-17 1zm0 0zm2 0zm0 0zm0 0zm2 0zm1 0zm2 0zm0 0zm1 0zm0 0zm1 0zm2 0zm1 0zm1 0zm1 0zm1 0zm1 0zm1 0zm0 0zm-17 1zm0 0zm1 0zm0 0zm3 0zm1 0zm0 0zm0 0zm0 0zm2 0zm0 0zm3 0zm0 0zm0 0zm1 0zm1 0zm4 0zm1 0zm-17 1zm0 0zm0 0zm1 0zm0 0zm1 0zm0 0zm2 0zm1 0zm1 0zm2 0zm1 0zm1 0zm2 0zm5 0zm-17 1zm3 0zm0 0zm1 0zm3 0zm2 0zm1 0zm1 0zm0 0zm2 0zm0 0zm1 0zm1 0zm1 0zm0 0zm-14 1zm0 0zm5 0zm1 0zm1 0zm2 0zm0 0zm0 0zm0 0zm1 0zm1 0zm0 0zm0 0zm0 0zm0 0zm0 0zm1 0zm0 0zm1 0zm1 0zm0 0zm1 0zm-17 1zm2 0zm3 0zm1 0zm0 0zm5 0zm1 0zm2 0zm0 0zm1 0zm1 0zm0 0zm1 0zm-16 1zm1 0zm3 0zm0 0zm2 0zm3 0zm1 0zm1 0zm2 0zm-11 1zm1 0zm2 0zm4 0zm0 0zm3 0zm1 0zm0 0zm2 0zm-16 1zm1 0zm7 0zm6 0zm-10 1zm11 0zm1 0zm-6 1zm-6-32zm1 0zm1 0zm0 0zm5 0zm1 0zm0 0zm0 0zm1 0zm0 0zm2 0zm0 0zm2 0zm-17 1zm0 0zm1 0zm1 0zm3 0zm3 0zm2 0zm3 0zm2 0zm1 0zm0 0zm1 0zm-16 1zm2 0zm1 0zm8 0zm4 0zm-16 1zm0 0zm1 0zm0 0zm1 0zm3 0zm1 0zm0 0zm5 0zm0 0zm0 0zm0 0zm3 0zm-14 1zm0 0zm3 0zm2 0zm3 0zm1 0zm0 0zm1 0zm2 0zm1 0zm2 0zm0 0zm1 0zm-15 1zm1 0zm1 0zm1 0zm0 0zm1 0zm1 0zm0 0zm1 0zm0 0zm1 0zm1 0zm0 0zm1 0zm1 0zm3 0zm0 0zm1 0zm0 0zm-14 1zm1 0zm2 0zm0 0zm0 0zm2 0zm2 0zm1 0zm1 0zm2 0zm2 0zm0 0zm0 0zm1 0zm-13 1zm0 0zm2 0zm1 0zm0 0zm2 0zm1 0zm0 0zm1 0zm0 0zm2 0zm1 0zm0 0zm1 0zm3 0zm1 0zm0 0zm-16 1zm1 0zm3 0zm0 0zm0 0zm0 0zm1 0zm0 0zm1 0zm1 0zm0 0zm2 0zm1 0zm1 0zm1 0zm2 0zm0 0zm0 0zm2 0zm0 0zm-17 1zm0 0zm0 0zm1 0zm3 0zm1 0zm0 0zm4 0zm2 0zm2 0zm0 0zm1 0zm1 0zm0 0zm0 0zm2 0zm0 0zm0 0zm-17 1zm1 0zm2 0zm0 0zm2 0zm0 0zm0 0zm0 0zm1 0zm1 0zm0 0zm1 0zm1 0zm1 0zm1 0zm3 0zm2 0zm0 0zm-15 1zm0 0zm0 0zm1 0zm0 0zm0 0zm1 0zm2 0zm1 0zm0 0zm3 0zm0 0zm2 0zm1 0zm1 0zm2 0zm1 0zm0 0zm1 0zm-17 1zm1 0zm0 0zm0 0zm1 0zm0 0zm0 0zm0 0zm1 0zm1 0zm1 0zm0 0zm3 0zm0 0zm0 0zm1 0zm1 0zm0 0zm1 0zm1 0zm1 0zm0 0zm0 0zm1 0zm1 0zm0 0zm1 0zm0 0zm1 0zm-17 1zm1 0zm3 0zm0 0zm1 0zm0 0zm1 0zm0 0zm2 0zm0 0zm0 0zm1 0zm1 0zm2 0zm0 0zm2 0zm0 0zm1 0zm0 0zm1 0zm0 0zm1 0zm-16 1zm0 0zm0 0zm2 0zm0 0zm0 0zm3 0zm2 0zm0 0zm1 0zm0 0zm2 0zm0 0zm1 0zm1 0zm0 0zm2 0zm2 0zm-17 1zm0 0zm0 0zm1 0zm2 0zm0 0zm2 0zm0 0zm0 0zm0 0zm0 0zm1 0zm0 0zm2 0zm2 0zm1 0zm0 0zm1 0zm0 0zm1 0zm0 0zm0 0zm1 0zm2 0zm-16 1zm1 0zm1 0zm1 0zm1 0zm2 0zm0 0zm0 0zm1 0zm2 0zm1 0zm1 0zm0 0zm-10 1zm2 0zm1 0zm1 0zm0 0zm0 0zm1 0zm1 0zm2 0zm0 0zm1 0zm1 0zm1 0zm1 0zm1 0zm0 0zm1 0zm0 0zm1 0zm0 0zm0 0zm1 0zm-15-35zm1 0zm1 0zm8 0zm1 1zm1 0zm3 0zm-14 1zm-2 1zm8 0zm2 0zm-11 1zm4 0zm2 0zm1 0zm-1 1zm5 0zm-10 1zm6 0zm4 0zm2 0zm-12 1zm0 0zm6 0zm0 0zm5 0zm1 0zm0 0zm1 0zm-13 1zm4 0zm2 0zm4 0zm-7 1zm1 0zm3 0zm1 0zm-9 1zm6 0zm3 0zm4 0zm0 0zm2 0zm0 0zm-9 1zm2 0zm0 0zm1 0zm2 0zm0 0zm4 0zm-12 1zm1 0zm2 0zm0 0zm1 0zm5 0zm0 0zm3 0zm1 0zm1 0zm-16 1zm1 0zm5 0zm1 0zm1 0zm0 0zm-9 1zm1 0zm2 0zm3 0zm0 0zm1 0zm7 0zm2 0zm0 0zm0 0zm-15 1zm1 0zm0 0zm2 0zm2 0zm3 0zm4 0zm3 0zm1 0zm-17 1zm1 0zm0 0zm1 0zm0 0zm1 0zm1 0zm0 0zm3 0zm1 0zm0 0zm1 0zm1 0zm2 0zm0 0zm1 0zm4 0zm-12 1zm2 0zm1 0zm1 0zm0 0zm2 0zm1 0zm0 0zm1 0zm0 0zm2 0zm0 0zm0 0zm0 0zm1 0zm1 0zm0 0zm-6-27zm-5 3zm4 1zm-8 1zm1 0zm3 1zm8 0zm-11 2zm4 0zm6 0zm2 0zm-13-34zm7 1zm-6 7zm14-46zm13 23zm-6 12zm1 18zm-3 3zm6 5zm-3 1zm1 3zm0 0zm6 3zm-9 1zm-2 4zm-1 1zm9 0zm0 0zm-11 1zm12 0zm-7 1zm4 0zm-1 1zm3 2zm-10 1zm9 0zm4 0zm-14 1zm9 0zm0 1zm4 0zm3 0zm1 0zm0 0zm-17 1zm0 0zm10 0zm1 0zm-9 1zm1 0zm0 0zm4 0zm-6 1zm13 0zm0 0zm2 0zm-14 1zm8 0zm-7 1zm2 0zm7 0zm1 0zm0 0zm-9 1zm0 0zm2 0zm1 0zm2 0zm1 0zm-9 1zm2 0zm4 0zm2 0zm3 0zm1 0zm-13 1zm1 0zm1 0zm2 0zm4 0zm0 0zm-8 1zm2 0zm1 0zm0 0zm0 0zm8 0zm4 0zm2 0zm-14 1zm3 0zm1 0zm2 0zm0 0zm2 0zm0 0zm3 0zm0 0zm-14 1zm1 0zm0 0zm3 0zm0 0zm2 0zm-3 1zm1 0zm1 0zm0 0zm3 0zm1 0zm0 0zm2 0zm1 0zm1 0zm1 0zm0 0zm-14 1zm1 0zm2 0zm0 0zm2 0zm0 0zm1 0zm2 0zm2 0zm2 0zm1 0zm1 0zm0 0zm1 0zm2 0zm-17 1zm5 0zm0 0zm1 0zm0 0zm0 0zm2 0zm0 0zm0 0zm1 0zm2 0zm0 0zm2 0zm1 0zm1 0zm0 0zm-15 1zm2 0zm0 0zm1 0zm0 0zm4 0zm0 0zm1 0zm2 0zm1 0zm0 0zm0 0zm2 0zm2 0zm1 0zm-16 1zm3 0zm1 0zm1 0zm0 0zm1 0zm0 0zm0 0zm1 0zm2 0zm2 0zm1 0zm0 0zm0 0zm1 0zm1 0zm2 0zm1 0zm0 0zm-16 1zm2 0zm1 0zm4 0zm2 0zm2 0zm2 0zm0 0zm1 0zm2 0zm-15 1zm0 0zm2 0zm0 0zm2 0zm2 0zm2 0zm3 0zm0 0zm2 0zm2 0zm-16 1zm0 0zm0 0zm3 0zm7 0zm0 0zm1 0zm1 0zm2 0zm1 0zm0 0zm1 0zm0 0zm-14 1zm3 0zm0 0zm2 0zm1 0zm1 0zm1 0zm2 0zm1 0zm3 0zm-17 1zm0 0zm2 0zm0 0zm2 0zm1 0zm4 0zm2 0zm0 0zm2 0zm1 0zm0 0zm0 0zm1 0zm1 0zm0 0zm0 0zm1 0zm0 0zm-16 1zm1 0zm0 0zm1 0zm1 0zm1 0zm0 0zm1 0zm0 0zm0 0zm3 0zm0 0zm1 0zm0 0zm1 0zm0 0zm2 0zm1 0zm2 0zm-16 1zm0 0zm1 0zm1 0zm1 0zm1 0zm2 0zm0 0zm0 0zm3 0zm0 0zm2 0zm3 0zm2 0zm0 0zm0 0zm-16 1zm0 0zm2 0zm0 0zm0 0zm0 0zm3 0zm0 0zm1 0zm2 0zm0 0zm1 0zm1 0zm0 0zm2 0zm0 0zm1 0zm0 0zm0 0zm3 0zm1 0zm0 0zm-17 1zm0 0zm2 0zm1 0zm0 0zm3 0zm3 0zm0 0zm1 0zm4 0zm2 0zm0 0zm1 0zm0 0zm0 0zm-17 1zm1 0zm1 0zm0 0zm0 0zm2 0zm4 0zm0 0zm2 0zm2 0zm0 0zm0 0zm2 0zm2 0zm0 0zm0 0zm1 0zm-16 1zm0 0zm1 0zm0 0zm1 0zm1 0zm2 0zm2 0zm1 0zm1 0zm0 0zm0 0zm1 0zm0 0zm1 0zm0 0zm1 0zm1 0zm2 0zm1 0zm-16 1zm1 0zm1 0zm1 0zm3 0zm1 0zm2 0zm0 0zm2 0zm0 0zm0 0zm1 0zm1 0zm0 0zm0 0zm0 0zm2 0zm0 0zm1 0zm-16 1zm0 0zm0 0zm2 0zm1 0zm0 0zm5 0zm4 0zm0 0zm1 0zm0 0zm2 0zm1 0zm0 0zm-15 1zm0 0zm1 0zm0 0zm1 0zm0 0zm1 0zm1 0zm1 0zm1 0zm1 0zm1 0zm0 0zm3 0zm2 0zm-14 1zm0 0zm2 0zm1 0zm1 0zm1 0zm0 0zm1 0zm0 0zm0 0zm0 0zm1 0zm0 0zm1 0zm0 0zm1 0zm0 0zm0 0zm0 0zm0 0zm1 0zm1 0zm0 0zm1 0zm1 0zm0 0zm1 0zm2 0zm0 0zm-16 1zm3 0zm0 0zm1 0zm1 0zm1 0zm0 0zm4 0zm0 0zm1 0zm1 0zm2 0zm2 0zm-17 1zm0 0zm2 0zm0 0zm1 0zm3 0zm2 0zm1 0zm1 0zm0 0zm1 0zm2 0zm0 0zm1 0zm0 0zm2 0zm1 0zm-13 1zm0 0zm1 0zm0 0zm2 0zm1 0zm2 0zm0 0zm2 0zm0 0zm0 0zm0 0zm2 0zm1 0zm1 0zm1 0zm-17 1zm0 0zm2 0zm0 0zm0 0zm1 0zm2 0zm0 0zm2 0zm0 0zm2 0zm2 0zm3 0zm2 0zm0 0zm-15 1zm1 0zm1 0zm0 0zm3 0zm0 0zm1 0zm0 0zm1 0zm1 0zm4 0zm1 0zm1 0zm-13 1zm3 0zm3 0zm3 0zm0 0zm1 0zm1 0zm1 0zm1 0zm0 0zm-10 1zm3 0zm0 0zm1 0zm1 0zm1 0zm1 0zm0 0zm2 0zm2 0zm1 0zm-16 1zm1 0zm3 0zm1 0zm5 0zm0 0zm2 0zm3 0zm1 0zm0 0zm-17 1zm1 0zm1 0zm0 0zm0 0zm1 0zm2 0zm2 0zm6 0zm1 0zm-13 1zm0 0zm1 0zm0 0zm3 0zm3 0zm4 0zm0 0zm2 0zm-12 1zm4 0zm5 0zm1 0zm4 0zm2-14zm1 0zm2 0zm0 0zm1 0zm1 0zm1 0zm1 0zm1 0zm2 0zm2 0zm2 0zm2 0zm0 0zm0 0zm1 0zm-17 1zm0 0zm1 0zm0 0zm1 0zm2 0zm0 0zm1 0zm1 0zm2 0zm0 0zm2 0zm0 0zm1 0zm2 0zm2 0zm1 0zm0 0zm-15 1zm2 0zm2 0zm0 0zm0 0zm1 0zm2 0zm2 0zm2 0zm-12 1zm3 0zm0 0zm0 0zm1 0zm0 0zm1 0zm0 0zm1 0zm0 0zm2 0zm3 0zm3 0zm1 0zm0 0zm-15 1zm0 0zm1 0zm1 0zm3 0zm0 0zm1 0zm0 0zm1 0zm2 0zm1 0zm1 0zm0 0zm0 0zm1 0zm0 0zm0 0zm0 0zm1 0zm0 0zm2 0zm0 0zm0 0zm-14 1zm0 0zm0 0zm1 0zm0 0zm1 0zm1 0zm2 0zm0 0zm0 0zm2 0zm0 0zm1 0zm5 0zm0 0zm0 0zm1 0zm2 0zm0 0zm-14 1zm0 0zm1 0zm1 0zm0 0zm2 0zm4 0zm2 0zm2 0zm0 0zm0 0zm2 0zm-17 1zm1 0zm1 0zm2 0zm1 0zm0 0zm2 0zm1 0zm1 0zm4 0zm3 0zm1 0zm-15 1zm0 0zm1 0zm0 0zm0 0zm2 0zm1 0zm1 0zm0 0zm1 0zm2 0zm0 0zm1 0zm0 0zm0 0zm1 0zm1 0zm1 0zm3 0zm-17 1zm1 0zm7 0zm1 0zm2 0zm0 0zm2 0zm0 0zm2 0zm1 0zm0 0zm0 0zm1 0zm-13 1zm0 0zm5 0zm2 0zm1 0zm-9 1zm3 0zm7 0zm1 0zm0 0zm1 0zm2 0zm-17 1zm4 0zm5 0zm8 0zm-8 1zm2 0zm1 0zm1 0zm4 0zm-8 1zm-8-32zm1 0zm6 0zm4 0zm4 0zm0 0zm1 0zm-11 1zm0 0zm4 0zm6 0zm-13 1zm2 0zm0 0zm1 0zm0 0zm2 0zm2 0zm4 0zm-14 1zm6 0zm1 0zm1 0zm2 0zm0 0zm2 0zm4 0zm-16 1zm0 0zm2 0zm2 0zm2 0zm3 0zm0 0zm5 0zm0 0zm3 0zm-17 1zm1 0zm0 0zm0 0zm1 0zm0 0zm1 0zm3 0zm3 0zm0 0zm1 0zm2 0zm1 0zm3 0zm0 0zm1 0zm0 0zm0 0zm-17 1zm2 0zm0 0zm1 0zm0 0zm0 0zm0 0zm4 0zm2 0zm1 0zm1 0zm1 0zm1 0zm0 0zm2 0zm-13 1zm3 0zm0 0zm1 0zm1 0zm0 0zm1 0zm1 0zm1 0zm1 0zm1 0zm1 0zm0 0zm2 0zm1 0zm1 0zm-17 1zm0 0zm6 0zm1 0zm2 0zm3 0zm1 0zm-13 1zm1 0zm0 0zm1 0zm1 0zm0 0zm0 0zm2 0zm5 0zm1 0zm2 0zm0 0zm1 0zm2 0zm-16 1zm2 0zm0 0zm1 0zm2 0zm0 0zm1 0zm6 0zm0 0zm1 0zm2 0zm2 0zm-17 1zm1 0zm1 0zm1 0zm2 0zm0 0zm2 0zm1 0zm2 0zm4 0zm0 0zm0 0zm2 0zm0 0zm0 0zm-16 1zm1 0zm1 0zm0 0zm2 0zm1 0zm1 0zm1 0zm1 0zm1 0zm1 0zm3 0zm2 0zm0 0zm1 0zm0 0zm-15 1zm0 0zm0 0zm0 0zm1 0zm1 0zm1 0zm4 0zm0 0zm0 0zm0 0zm0 0zm2 0zm1 0zm2 0zm1 0zm0 0zm-12 1zm1 0zm4 0zm1 0zm1 0zm1 0zm0 0zm1 0zm0 0zm2 0zm1 0zm1 0zm0 0zm-15 1zm1 0zm1 0zm2 0zm1 0zm1 0zm0 0zm0 0zm1 0zm2 0zm4 0zm2 0zm0 0zm0 0zm0 0zm2 0zm-11 1zm2 0zm1 0zm0 0zm2 0zm2 0zm0 0zm0 0zm2 0zm0 0zm2 0zm-17 1zm3 0zm1 0zm0 0zm0 0zm1 0zm0 0zm2 0zm0 0zm0 0zm2 0zm3 0zm0 0zm1 0zm1 0zm1 0zm0 0zm1 0zm0 0zm1 0zm0 0zm0 0zm-2-35zm-9 1zm-4 1zm13 0zm-9 1zm-2 2zm12 1zm-9 1zm-7 2zm2 0zm1 0zm10 0zm-10 1zm7 0zm5 0zm-13 1zm0 0zm1 0zm9 0zm4 0zm-11 1zm4 0zm1 0zm-9 1zm10 0zm2 0zm3 0zm-14 1zm1 0zm4 0zm3 0zm0 0zm2 0zm0 0zm1 0zm4 0zm-14 1zm2 0zm0 0zm1 0zm8 0zm-12 1zm1 0zm7 0zm6 0zm-16 1zm2 0zm13 0zm0-32zm-1 3zm-13 7zm8 3zm3 1zm-1-25zm-8 1zm4-38zm17 27zm4 11zm2 1zm2 18zm-10 2zm11 1zm-5 1zm-4 2zm5 1zm-4 1zm7 2zm-13 1zm16 0zm-15 2zm9 1zm4 0zm-3 1zm3 0zm-8 1zm10 0zm-9 1zm-7 1zm12 0zm3 0zm-14 1zm1 0zm5 0zm-7 1zm3 0zm4 0zm-7 1zm0 0zm14 0zm-14 1zm5 0zm0 0zm1 0zm0 0zm5 0zm-12 1zm11 0zm3 0zm1 0zm-7 1zm0 0zm1 0zm-9 1zm1 0zm0 0zm7 0zm1 0zm4 0zm0 0zm0 0zm1 0zm1 0zm0 0zm-15 1zm8 0zm3 0zm2 0zm3 0zm-16 1zm1 0zm2 0zm2 0zm1 0zm2 0zm3 0zm0 0zm-9 1zm0 0zm0 0zm3 0zm2 0zm1 0zm4 0zm2 0zm-14 1zm6 0zm5 0zm3 0zm1 0zm-9 1zm0 0zm9 0zm-14 1zm3 0zm1 0zm3 0zm1 0zm3 0zm1 0zm-13 1zm0 0zm2 0zm0 0zm1 0zm1 0zm4 0zm-7 1zm0 0zm2 0zm1 0zm1 0zm1 0zm1 0zm4 0zm1 0zm2 0zm0 0zm-14 1zm2 0zm3 0zm2 0zm4 0zm4 0zm-12 1zm2 0zm3 0zm1 0zm1 0zm3 0zm1 0zm-14 1zm1 0zm1 0zm1 0zm3 0zm5 0zm0 0zm2 0zm1 0zm-14 1zm3 0zm2 0zm1 0zm1 0zm3 0zm0 0zm3 0zm-13 1zm9 0zm7 0zm1 0zm0 0zm0 0zm-17 1zm2 0zm1 0zm2 0zm1 0zm1 0zm0 0zm2 0zm0 0zm0 0zm1 0zm2 0zm1 0zm1 0zm1 0zm2 0zm-11 1zm1 0zm1 0zm1 0zm5 0zm-14 1zm0 0zm1 0zm2 0zm0 0zm3 0zm1 0zm2 0zm2 0zm1 0zm1 0zm0 0zm2 0zm1 0zm-11 1zm1 0zm2 0zm1 0zm2 0zm-11 1zm0 0zm1 0zm3 0zm1 0zm1 0zm0 0zm3 0zm0 0zm3 0zm4 0zm-16 1zm3 0zm4 0zm0 0zm1 0zm0 0zm2 0zm3 0zm0 0zm1 0zm2 0zm-16 1zm0 0zm1 0zm1 0zm2 0zm0 0zm1 0zm7 0zm1 0zm1 0zm1 0zm0 0zm2 0zm-17 1zm3 0zm1 0zm3 0zm2 0zm2 0zm4 0zm-15 1zm0 0zm4 0zm2 0zm1 0zm2 0zm5 0zm1 0zm-12 1zm0 0zm1 0zm1 0zm1 0zm0 0zm2 0zm0 0zm1 0zm6 0zm0 0zm2 0zm-17 1zm4 0zm1 0zm1 0zm1 0zm0 0zm6 0zm1 0zm1 0zm1 0zm1 0zm0 0zm0 0zm-15 1zm1 0zm0 0zm1 0zm2 0zm7 0zm1 0zm2 0zm1 0zm0 0zm-16 1zm1 0zm1 0zm1 0zm1 0zm1 0zm4 0zm4 0zm1 0zm0 0zm2 0zm-15 1zm2 0zm3 0zm1 0zm5 0zm1 0zm3 0zm-17 1zm0 0zm3 0zm1 0zm2 0zm3 0zm5 0zm-9 1zm3 0zm0 0zm1 0zm4 0zm1 0zm-14 1zm3 0zm0 0zm2 0zm4 0zm1 0zm0 0zm1 0zm1 0zm1 0zm0 0zm3 0zm0 0zm1 0zm-14 1zm3 0zm9 0zm3-14zm2 0zm0 0zm2 0zm1 0zm1 0zm1 0zm4 0zm2 0zm-11 1zm3 0zm2 0zm2 0zm4 0zm-12 1zm1 0zm1 0zm0 0zm10 0zm1 0zm1 0zm2 0zm-15 1zm1 0zm2 0zm7 0zm5 0zm-14 1zm1 0zm0 0zm2 0zm3 0zm2 0zm1 0zm2 0zm3 0zm-16 1zm1 0zm0 0zm0 0zm2 0zm1 0zm2 0zm3 0zm1 0zm2 0zm1 0zm2 0zm-15 1zm2 0zm1 0zm2 0zm0 0zm4 0zm0 0zm3 0zm-13 1zm4 0zm4 0zm5 0zm1 0zm3 0zm-16 1zm4 0zm2 0zm1 0zm0 0zm0 0zm4 0zm2 0zm1 0zm0 0zm1 0zm1 0zm-17 1zm0 0zm2 0zm0 0zm3 0zm3 0zm1 0zm2 0zm3 0zm1 0zm-14 1zm1 0zm1 0zm0 0zm4 0zm10 0zm-17 1zm2 0zm2 0zm0 0zm6 0zm0 0zm1 0zm3 0zm-13 1zm10 0zm1 0zm-10 1zm2 0zm11 0zm-5 1zm1 0zm1 0zm-12-32zm7 0zm3 0zm7 0zm0 0zm-8 1zm3 0zm-8 1zm0 0zm0 1zm4 0zm0 0zm8 0zm-16 1zm3 0zm2 0zm1 0zm8 0zm3 0zm-9 1zm6 0zm0 0zm-13 1zm0 0zm2 0zm9 0zm5 0zm-15 1zm6 0zm3 0zm-10 1zm8 0zm7 0zm-13 1zm0 1zm1 0zm6 0zm5 0zm2 0zm-17 1zm0 0zm6 0zm2 0zm7 0zm-14 1zm2 0zm1 0zm6 0zm5 0zm2 0zm-16 1zm0 0zm2 0zm11 0zm2 0zm-16 1zm1 0zm1 0zm1 0zm3 0zm5 0zm1 0zm3 0zm-14 1zm3 0zm2 0zm7 0zm2 0zm0 0zm1 0zm-16 1zm1 0zm10 0zm3 0zm1 0zm-13 1zm2 0zm2 0zm2 0zm1 0zm8 0zm-14-35zm1 1zm-2 1zm15 1zm-2 1zm1 0zm-5 1zm2 0zm-10 2zm1 0zm5 0zm-5 1zm4 0zm-8 1zm1 0zm12 1zm-6 1zm-4 1zm5 0zm2 0zm0 0zm6 0zm-1 1zm-11 1zm3 1zm-3 1zm1 0zm12 0zm-14 1zm13-32zm-11 1zm2 0zm3 0zm-9 4zm4 0zm10 0zm1 1zm0 6zm0-69zm-2 10zm17 13zm0 38zm-4 12zm-3 1zm11 7zm-17 4zm17 3zm-17 2zm9 0zm3 1zm-2 1zm5 0zm0 0zm1 1zm-2 1zm-4 1zm2 0zm-10 1zm1 1zm4 0zm7 0zm-9 1zm3 0zm6 0zm3 0zm-14 1zm2 0zm5 0zm4 0zm-11 1zm7 0zm5 0zm-10 1zm5 0zm3 0zm3 0zm-15 1zm5 1zm5 0zm2 0zm4 0zm-5 1zm1 0zm0 0zm-7 1zm2 0zm3 0zm4 0zm-15 1zm7 0zm0 0zm1 0zm0 0zm2 0zm-10 1zm0 0zm3 0zm1 0zm0 0zm9 0zm1 0zm-14 1zm0 0zm9 0zm0 0zm1 0zm2 0zm1 0zm2 0zm-6 1zm0 0zm2 0zm0 0zm-1 1zm0 0zm5 0zm2 0zm-14 1zm3 0zm2 0zm2 0zm0 0zm-10 1zm1 0zm1 0zm5 0zm2 0zm1 0zm5 0zm0 1zm1 0zm1 0zm-15 1zm3 0zm6 0zm6 0zm-17 1zm2 0zm2 0zm1 0zm0 0zm1 0zm7 0zm-13 1zm1 0zm3 0zm2 0zm4 0zm2 0zm0 0zm3 0zm2 0zm0 0zm-13 1zm7 0zm1 0zm-9 1zm8 0zm2 0zm2 0zm0 0zm1 0zm-12 1zm3 0zm5 0zm-7 1zm-4 1zm4 0zm10 0zm-2 1zm6-14zm1 0zm1 0zm5 1zm1 0zm-7 1zm5 1zm-6 1zm2 0zm-3 1zm2 0zm6 0zm0 0zm3 1zm4 0zm1 0zm1 0zm-14 1zm3 0zm3 0zm-9 1zm10 0zm2 0zm5 0zm-17 1zm2 0zm9 0zm-9 1zm6 0zm8 0zm-12 1zm1 1zm6-27zm-9 2zm5 0zm2 0zm5 0zm-1 1zm0 2zm-11 1zm1 1zm2 0zm7 0zm-4 1zm-4 1zm4 1zm-5 1zm5 1zm1 2zm8-35zm-5 5zm5 9zm-14 1zm-3 2zm15-53zm-7-6zm10 21zm2 29zm9 9zm-2 2zm2 7zm1 1zm4 0zm-7 1zm-5 1zm4 0zm-4 3zm2 0zm10 0zm-10 1zm5 0zm-1 2zm-8 1zm-2 1zm7 0zm-7 1zm1 0zm6 0zm4 0zm4 0zm1 1zm-13 1zm3 0zm9 0zm2 0zm-10 1zm2 1zm-2 1zm10 0zm-12 2zm3 0zm-6 1zm15 0zm-15 1zm14 2zm7-11zm-1 1zm3 3zm0 1zm0 0zm0 1zm4 5zm0-30zm0 2zm-1 5zm-7 8zm-3-24zm18 17zm10 17z"/></g>
</g>
<g id="d19">
<path d="M409 6.8V232.65H691" fill="none" stroke="#333" stroke-width="1.6" stroke-linejoin="round"/>
<path d="M409 232.5h3.3M409 209.99h3.3M409 187.48h3.3M409 164.97h3.3M409 142.46h3.3M409 119.95h3.3M409 97.44h3.3M409 74.93h3.3M409 52.42h3.3M409 29.91h3.3M409 7.4h3.3M455.9 232.5v-3.3M502.8 232.5v-3.3M549.7 232.5v-3.3M596.6 232.5v-3.3M643.5 232.5v-3.3M690.4 232.5v-3.3" fill="none" stroke="#333" stroke-width="1.2"/>
<g class="tk" text-anchor="end">
<text x="399.2" y="235.6">0.0</text>
<text x="399.2" y="213.09">0.2</text>
<text x="399.2" y="190.58">0.4</text>
<text x="399.2" y="168.07">0.6</text>
<text x="399.2" y="145.56">0.8</text>
<text x="399.2" y="123.05">1.0</text>
<text x="399.2" y="100.54">1.2</text>
<text x="399.2" y="78.03">1.4</text>
<text x="399.2" y="55.52">1.6</text>
<text x="399.2" y="33.01">1.8</text>
<text x="399.2" y="10.5">2.0</text>
</g>
<g class="tk" text-anchor="middle">
<text x="409" y="250.1">0.1</text>
<text x="455.9" y="250.1">1</text>
<text x="502.8" y="250.1">10</text>
<text x="549.7" y="250.1">100</text>
<text x="596.6" y="250.1">1000</text>
<text x="643.5" y="250.1">10000</text>
<text x="690.4" y="250.1">100000</text>
</g>
<text class="tt" x="514.7" y="18" textLength="43.8" lengthAdjust="spacingAndGlyphs">Day 19</text>
<text class="xt" x="444.2" y="266.9" textLength="210.2" lengthAdjust="spacingAndGlyphs" xml:space="preserve">Normalized read numbers  (x 10,000,000)</text>
<text class="yt" transform="translate(380.2 177.5) rotate(-90)" textLength="113.8" lengthAdjust="spacingAndGlyphs">coefficient of variation</text>
<g transform="scale(.5)"><path class="pt" d="M0 0m825 76zm31 0zm9 135zm16 28zm-6 60zm6 3zm-5 72zm-9 2zm12 1zm1 1zm-1 27zm0 1zm8-13zm25-317zm0 104zm-6 17zm-4 37zm12 38zm0 14zm-9 9zm10 23zm-10 21zm1 31zm4 23zm-10 3zm26 41zm-2 1zm8 5zm-8 6zm-4-25zm10 1zm4 0zm0 5zm-8 1zm4-33zm-8 6zm4 3zm-5 2zm5-31zm9 6zm-1 2zm0 6zm1-24zm-9 3zm-4-19zm2 0zm4 0zm-9 5zm6 1zm7 0zm-2-24zm3 0zm-8-24zm9-9zm0-27zm-12 13zm4-92zm-2-25zm-5 9zm5-29zm-5-31zm26 42zm-3 36zm11 39zm-5 30zm1 10zm0 6zm-8 5zm8 2zm-12 1zm7 4zm8 5zm-12 3zm9 4zm-7 9zm11 1zm-3 3zm-1 1zm-4 3zm0 1zm-6 3zm13 0zm0 4zm-3 1zm3 1zm-8 1zm8 0zm0 2zm0 1zm-9 1zm5 1zm-3 2zm3 2zm-10 1zm15 0zm-4 3zm2 1zm-13 1zm13 0zm2 5zm-16 1zm6 1zm3 0zm-6 5zm-4 1zm13 0zm1 0zm-7 1zm-3 3zm11 0zm-12 1zm4 1zm9 1zm0 0zm1 0zm-17 3zm5 1zm7 0zm5 4zm-17 1zm4 0zm1 0zm9 0zm1 0zm-9 1zm8 0zm2 1zm-4 2zm2 0zm-13 1zm9 2zm6 0zm0 0zm-14 2zm5 1zm-5 1zm2 4zm3 0zm0 1zm1 0zm3 0zm-4 2zm1 0zm7 1zm-3 1zm2 0zm-9 1zm10 2zm1 0zm-4 1zm3 2zm-4 1zm-10 1zm6 1zm7 0zm-5 1zm-5 2zm9 1zm-10 2zm11 0zm3 1zm-17 1zm14 1zm3 1zm-14 1zm14 0zm-10 1zm9 0zm-8 2zm5 0zm-8 1zm-2 2zm11 0zm-14 1zm9 0zm8 0zm-9 3zm-2 2zm3 0zm6 6zm-12 2zm6 1zm-9 4zm6 3zm-1 5zm0 3zm-2 2zm31-3zm1 0zm-10 1zm2 0zm3 0zm1 0zm-12 1zm-1 1zm6 0zm-1 5zm12-29zm-9 1zm1 1zm6 0zm-11 1zm5 0zm2 0zm-4 2zm-1 1zm6 1zm3 0zm-7 1zm5 0zm-11 2zm0 1zm14 2zm-8 2zm-4 1zm1 0zm-1-34zm3 0zm5 0zm-11 1zm10 0zm-9 1zm0 0zm2 0zm4 0zm-2 1zm0 0zm4 1zm2 0zm4 1zm-8 1zm-7 1zm7 0zm4 0zm1 1zm4 3zm-14 1zm1 0zm3 1zm7 0zm2 1zm-13 1zm2 0zm6 0zm6 0zm-16 1zm7 0zm4 0zm-4 1zm0 0zm2 0zm1 0zm3-35zm-9 1zm0 2zm3 1zm2 0zm6 0zm0 0zm-12 1zm12 0zm-13 1zm14 0zm-15 1zm8 0zm7 0zm-12 1zm12 0zm-17 1zm4 0zm2 0zm5 0zm3 0zm-9 2zm2 0zm1 0zm9 0zm-11 1zm5 0zm-5 1zm1 0zm7 0zm0 0zm1 0zm-10 1zm8 0zm4 1zm-14-33zm12 1zm2 0zm-15 1zm5 0zm9 0zm-11 2zm8 0zm0 1zm-10 1zm11 0zm2 1zm1 0zm-13 2zm7 0zm0 0zm-11 1zm2 0zm8 0zm4 0zm2 0zm-7 2zm7 0zm-13 1zm12 0zm-15 1zm1 1zm1 0zm2 0zm5 0zm-7 2zm3 0zm6-34zm2 2zm3 2zm-12 1zm5 0zm7 0zm-16 1zm3 0zm6 1zm7 0zm-13 1zm10 2zm4 3zm-13 1zm13 1zm-15 1zm8 0zm-4-35zm1 0zm10 0zm-14 1zm3 0zm2 1zm4 1zm3 0zm1 1zm-13 1zm7 2zm4 1zm3 0zm0 2zm-15 2zm7 0zm0 1zm4 0zm3 0zm-9 1zm8 2zm-5 1zm-4-32zm11 0zm-1 1zm-1 1zm-7 1zm-7 1zm7 4zm4 0zm4 0zm-11 1zm10-30zm-4 3zm2 1zm1 0zm-8 1zm3 4zm-4 8zm-5-33zm3 3zm4 3zm6 3zm3 2zm-16-19zm1 3zm3 1zm2 0zm9-25zm-3 6zm-10 2zm8-46zm-3 7zm10 0zm-8-111zm21 90zm-5 1zm-2 15zm4 32zm-8 13zm8 0zm-9 17zm14 0zm2 0zm-12 5zm3 0zm10 0zm-6 1zm-8 1zm2 0zm10 5zm-9 2zm1 5zm-3 3zm-1 1zm6 1zm1 2zm2 0zm2 0zm0 2zm-7 1zm1 1zm-2 2zm-4 5zm0 0zm7 0zm3 3zm-10 1zm7 0zm1 4zm4 1zm2 0zm1 0zm-14 2zm0 1zm2 0zm2 3zm-6 4zm2 1zm4 0zm5 1zm-6 1zm6 0zm1 0zm-9 1zm-4 1zm6 0zm6 0zm-11 1zm14 0zm2 0zm-14 1zm6 0zm-2 1zm-3 1zm2 0zm-6 2zm2 2zm5 0zm5 1zm1 0zm1 1zm-3 1zm-10 1zm11 0zm0 0zm0 1zm-2 1zm2 0zm-1 1zm1 1zm-9 1zm6 0zm4 1zm4 0zm-14 1zm7 0zm6 0zm0 0zm-11 1zm6 0zm3 0zm-13 1zm1 0zm8 0zm1 0zm5 0zm-5 1zm-4 1zm4 3zm1 0zm0 1zm5 0zm-12 1zm2 0zm1 0zm1 1zm8 0zm-5 1zm1 0zm-9 1zm4 0zm1 0zm4 0zm2 0zm-14 1zm1 0zm9 0zm3 0zm-8 1zm2 0zm2 0zm-6 1zm6 0zm5 0zm-15 1zm11 0zm-8 1zm1 0zm-2 1zm3 0zm4 0zm1 0zm-6 1zm5 0zm1 1zm2 0zm-10 1zm12 0zm-11 1zm12 0zm2 0zm-16 1zm0 0zm3 0zm6 0zm3 0zm-13 1zm14 0zm0 0zm-8 1zm5 0zm0 0zm-2 1zm0 0zm3 0zm2 0zm-11 1zm10 0zm1 0zm-4 1zm2 0zm4 0zm-16 1zm1 0zm13 0zm3 1zm-8 1zm3 0zm4 1zm-16 1zm0 0zm8 0zm5 0zm-8 1zm8 0zm-9 1zm0 0zm10 0zm-10 1zm9 0zm3 0zm-16 1zm7 1zm2 0zm-5 1zm4 0zm9 0zm-12 1zm1 0zm4 0zm1 0zm-5 1zm8 0zm2 0zm-12 1zm3 0zm-3 1zm7 0zm2 1zm-9 1zm3 0zm4 0zm-7 1zm5 0zm1 0zm4 0zm-9 1zm5 0zm2 0zm3 0zm1 0zm-12 1zm2 0zm2 0zm3 0zm0 1zm2 0zm1 0zm1 0zm-15 1zm15 0zm-9 1zm0 0zm2 0zm1 0zm-8 1zm13 0zm-13 1zm1 0zm8 0zm3 0zm-5 1zm6 0zm0 0zm-12 1zm9 0zm1 0zm-5 1zm0 0zm10 0zm-17 1zm8 0zm0 0zm6 0zm-11 1zm8 0zm4 0zm-15 1zm9 0zm6 0zm0 0zm-6 1zm7 0zm-15 1zm16 0zm-13 1zm6 0zm4 0zm-5 1zm7 2zm-16 1zm3 0zm10 0zm0 0zm0 0zm-2 1zm6 0zm-13 1zm5 0zm6 0zm-13 1zm8 1zm-7 1zm5 0zm2 0zm-7 3zm9 0zm1 0zm0 0zm2 0zm-1 2zm-12 1zm6 0zm2 0zm-9 1zm7 0zm3 0zm-4 2zm8 0zm-10 1zm4 2zm6 1zm1 0zm-10 3zm1 0zm9 1zm-9 1zm10 1zm-8 1zm8 1zm14-8zm-8 1zm0 0zm6 0zm5 0zm-11 2zm-4 2zm6 1zm2 0zm7 1zm-2 1zm0 0zm-12-27zm5 1zm2 0zm6 0zm-15 1zm9 0zm-7 1zm6 0zm2 1zm4 0zm-4 1zm1 0zm-1 1zm1 0zm4 0zm-4 1zm2 0zm3 0zm-6 1zm7 0zm-12 1zm0 0zm2 0zm6 0zm4 0zm-12 1zm2 0zm-1 1zm3 0zm2 0zm4 0zm-9 1zm1 0zm2 0zm3 1zm2 0zm1 0zm-11 1zm1 0zm0 0zm4 0zm1 1zm2 1zm-10 1zm8 0zm-1-35zm4 0zm2 0zm-6 1zm6 0zm-13 1zm8 0zm2 0zm-3 1zm-4 1zm5 0zm5 0zm-7 1zm5 0zm1 0zm-9 1zm1 0zm11 0zm-13 1zm4 0zm5 0zm-3 1zm2 0zm-3 1zm2 0zm-9 1zm8 0zm-6 1zm5 0zm5 0zm1 0zm0 0zm2 0zm-14 1zm10 0zm0 0zm3 0zm-16 1zm8 0zm2 0zm-9 1zm2 0zm7 0zm5 1zm-7 2zm3 0zm-9-35zm4 0zm8 0zm0 0zm-10 1zm1 0zm1 0zm1 0zm0 0zm-6 1zm6 0zm5 0zm3 0zm-4 1zm2 0zm1 0zm2 0zm1 0zm-15 1zm6 0zm3 0zm5 0zm0 0zm-10 1zm8 0zm3 0zm-17 1zm6 0zm1 0zm5 0zm1 0zm-1 2zm0 0zm-8 1zm2 0zm5 0zm3 0zm-13 1zm5 1zm2 0zm1 0zm5 0zm0 0zm-13 1zm8 0zm2 0zm-9 1zm6 0zm-6 1zm0 0zm8 0zm1 1zm1 0zm1 0zm-12 1zm4 0zm3 0zm6 0zm1 0zm2 0zm-14 1zm14 0zm-14-35zm4 0zm1 0zm0 0zm4 0zm-5 1zm6 0zm4 1zm-14 1zm4 0zm4 0zm1 0zm3 0zm-1 1zm0 1zm3 0zm-10 1zm6 0zm3 0zm-15 1zm11 0zm-12 1zm4 0zm5 0zm4 0zm4 1zm-10 1zm-5 1zm10 0zm1 0zm2 0zm-11 1zm3 0zm4 0zm3 0zm-10 1zm0 0zm7 0zm5 0zm-9 1zm8 0zm-15 2zm2 0zm6 1zm9 0zm-9-35zm-8 2zm7 0zm5 0zm-8 1zm7 2zm5 0zm-15 1zm0 0zm3 0zm2 0zm5 1zm-7 1zm5 0zm4 0zm3 0zm-16 1zm6 0zm9 0zm2 0zm-14 1zm3 0zm4 0zm3 0zm-4 1zm-5 1zm9 0zm-13 1zm16 0zm-8 1zm1 0zm6 1zm-15 1zm17 0zm-4 1zm-2-35zm-8 1zm8 0zm-5 2zm-1 1zm6 0zm-9 1zm3 0zm3 0zm1 0zm2 0zm1 0zm-2 1zm6 1zm1 0zm-5 1zm1 0zm1 2zm-6 1zm1 0zm5 1zm-10 1zm4 0zm1 1zm4 0zm0 0zm-13 1zm0 0zm5 0zm5 0zm-4 1zm11 1zm0 0zm-8-34zm3 0zm-1 5zm-10 2zm11 0zm1 0zm-10 2zm11 0zm-11 2zm9 2zm5 0zm-6 1zm-1 1zm-9 1zm2 0zm5 0zm-1-33zm2 2zm-3 1zm4 3zm-8 2zm8 0zm0 1zm-8 1zm11 0zm-11 1zm13 0zm2 0zm-8 1zm0 0zm-3 1zm3 0zm-2 1zm1 0zm5-32zm0 7zm-2 1zm1 0zm3 1zm-6 1zm1 3zm-7-27zm-3 6zm8 2zm-2-17zm7-139zm19 14zm-1 57zm-12 5zm0 13zm7 14zm-8 35zm1 0zm3 4zm6 1zm-3 4zm10 2zm-1 1zm-4 3zm-10 1zm15 2zm-10 2zm-5 1zm8 1zm5 0zm-13 8zm13 1zm-14 10zm3 1zm11 1zm1 0zm-10 3zm4 0zm-1 3zm-8 2zm3 0zm3 0zm4 0zm-4 1zm6 0zm2 1zm2 0zm-16 2zm10 0zm6 0zm-3 1zm-14 1zm15 0zm-3 2zm-7 1zm-2 1zm2 1zm-4 1zm0 4zm16 0zm-6 1zm-11 3zm6 0zm4 0zm4 0zm-7 1zm10 0zm-11 3zm0 0zm0 0zm4 0zm2 0zm-10 1zm3 0zm12 0zm-11 1zm0 0zm4 0zm-4 1zm2 0zm7 0zm-5 1zm7 0zm-7 1zm2 0zm-8 1zm2 0zm1 0zm3 0zm7 0zm-9 1zm-6 2zm-1 1zm2 0zm2 0zm2 0zm6 0zm-3 3zm-7 1zm14 0zm-17 1zm12 0zm1 0zm-10 2zm6 0zm2 1zm-9 2zm1 0zm3 0zm2 0zm-1 1zm10 0zm-10 1zm-6 2zm6 0zm8 0zm-12 2zm4 0zm2 0zm2 0zm-8 1zm13 0zm-11 1zm5 0zm-3 1zm3 0zm-10 1zm4 0zm6 0zm1 0zm5 0zm-15 1zm3 0zm5 0zm3 0zm1 0zm-8 1zm7 0zm0 0zm1 0zm-4 1zm8 0zm-7 1zm2 0zm5 0zm-12 1zm8 0zm3 0zm-15 1zm2 0zm6 0zm4 0zm1 0zm-8 1zm0 0zm1 0zm8 0zm-9 1zm3 0zm1 0zm-9 1zm0 0zm4 0zm0 0zm2 0zm0 0zm8 0zm-2 1zm4 0zm0 0zm-16 1zm6 0zm1 0zm4 0zm-7 1zm2 0zm2 0zm1 0zm1 0zm4 0zm-1 1zm1 0zm-7 1zm4 0zm3 0zm-12 1zm14 0zm-15 1zm4 0zm5 0zm-4 1zm10 0zm-11 1zm1 0zm0 0zm2 0zm7 0zm-15 1zm6 0zm1 0zm-6 2zm1 0zm2 0zm4 0zm1 0zm4 0zm-5 1zm4 0zm-7 1zm4 0zm6 0zm-8 1zm5 0zm-11 1zm5 0zm3 0zm-10 1zm0 0zm5 0zm3 0zm-8 1zm2 0zm2 0zm4 0zm-2 1zm2 0zm5 0zm0 0zm1 0zm2 0zm0 0zm-15 1zm3 0zm2 0zm8 0zm0 0zm-14 1zm0 0zm4 0zm-4 1zm0 0zm2 0zm2 0zm2 0zm3 0zm1 0zm5 0zm-13 1zm5 0zm3 0zm1 0zm1 0zm-12 1zm5 0zm5 0zm4 0zm-14 1zm11 0zm1 0zm3 0zm1 0zm-11 1zm0 0zm4 0zm2 0zm-6 1zm3 0zm0 0zm2 0zm2 0zm5 0zm-17 1zm1 0zm5 0zm5 0zm4 0zm0 0zm2 0zm0 0zm-11 1zm1 0zm3 0zm7 0zm-16 1zm7 0zm6 0zm0 0zm-10 1zm0 0zm1 0zm0 0zm8 0zm-12 1zm0 0zm4 0zm3 0zm8 0zm1 0zm-10 1zm8 0zm0 0zm-3 1zm5 0zm-6 1zm1 0zm2 0zm-8 1zm0 0zm3 0zm7 0zm1 0zm-15 1zm10 0zm1 0zm2 0zm-1 1zm-13 1zm11 0zm-1 1zm-1 1zm6 0zm-15 1zm2 0zm5 0zm2 0zm1 0zm1 0zm1 0zm3 0zm-16 1zm7 0zm1 0zm9 0zm-16 1zm2 0zm14 0zm0 0zm-3 1zm3 0zm-3 1zm0 0zm3 0zm-17 1zm2 0zm4 0zm2 0zm1 0zm3 0zm5 0zm-15 1zm1 0zm2 0zm7 0zm-10 1zm9 0zm0 0zm6 0zm-11 1zm1 0zm0 0zm4 0zm3 0zm-13 1zm9 0zm-4 1zm11 0zm-14 1zm10 0zm1 0zm2 0zm-13 1zm8 0zm1 0zm2 0zm3 0zm-15 1zm2 0zm5 0zm2 0zm2 0zm1 0zm1 0zm-14 1zm2 0zm3 0zm6 0zm2 0zm0 0zm0 0zm1 0zm-11 1zm2 0zm2 0zm4 0zm-2 1zm-5 1zm6 0zm4 0zm-13 1zm2 0zm5 0zm2 0zm0 0zm-1 1zm5 0zm-8 1zm3 0zm6 0zm-10 1zm4 1zm6 0zm-14 1zm3 1zm2 0zm2 0zm-5 1zm0 0zm0 0zm13 0zm-9 1zm0 1zm1 0zm-4 1zm5 0zm0 0zm1 1zm4 0zm-14 1zm4 0zm2 0zm1 0zm4 0zm-4 1zm-5 1zm0 1zm1 2zm10 1zm-5 2zm-7 1zm6 2zm13-13zm7 0zm5 0zm-12 1zm12 1zm0 0zm-10 1zm6 0zm1 1zm-4 1zm8 0zm-12 3zm2 0zm3 0zm0 0zm2 1zm-9 2zm5 0zm0 0zm5 0zm4 0zm-8 2zm-7-31zm0 0zm1 0zm3 0zm0 0zm2 0zm2 0zm2 0zm2 0zm-10 1zm9 0zm2 0zm-10 1zm6 0zm-7 1zm9 0zm0 0zm-12 1zm2 0zm2 0zm1 0zm2 0zm3 0zm-9 1zm5 0zm7 0zm0 0zm2 0zm2 0zm0 0zm-16 1zm3 0zm0 0zm4 0zm8 0zm-16 1zm1 0zm7 0zm2 0zm2 0zm-5 1zm1 0zm1 0zm0 0zm2 0zm0 0zm3 0zm-12 1zm12 0zm1 0zm0 1zm2 0zm-15 1zm10 0zm0 1zm-9 1zm9 0zm0 0zm0 0zm5 0zm-17 1zm2 0zm2 0zm4 0zm2 0zm-2 1zm2 0zm1 0zm3 0zm2 0zm-16 1zm5 1zm4 0zm-7-35zm5 0zm3 0zm2 0zm0 0zm3 0zm0 0zm0 0zm1 0zm-10 1zm2 0zm1 0zm1 0zm5 0zm-12 1zm1 0zm3 0zm0 0zm0 0zm0 0zm5 0zm4 0zm0 0zm-13 1zm5 0zm0 0zm6 0zm0 0zm1 0zm1 0zm-16 1zm5 0zm0 0zm4 0zm1 0zm4 0zm1 0zm0 0zm-1 1zm1 0zm1 0zm0 0zm1 0zm-14 1zm1 0zm11 0zm1 0zm0 0zm-15 1zm2 0zm0 0zm5 0zm-5 1zm2 0zm3 0zm0 0zm-6 1zm10 0zm5 0zm-17 1zm0 0zm5 0zm1 0zm2 0zm7 0zm-14 1zm1 0zm1 0zm5 0zm2 0zm0 0zm2 0zm4 0zm-16 1zm2 0zm1 0zm2 0zm11 0zm1 0zm-13 1zm0 0zm3 0zm1 0zm5 0zm0 0zm2 0zm-14 1zm1 0zm3 0zm1 0zm4 0zm2 0zm4 0zm-13 1zm1 0zm8 0zm1 0zm1 0zm3 0zm-14 1zm0 0zm5 0zm2 0zm4 0zm-11 1zm1 0zm0 0zm1 0zm1 0zm6 0zm0 0zm0 0zm1 0zm-9-35zm3 0zm3 0zm2 0zm1 0zm-2 1zm1 0zm1 0zm1 0zm-13 1zm1 0zm3 0zm8 0zm-13 1zm1 0zm2 0zm3 0zm2 0zm4 0zm-10 1zm2 0zm2 0zm2 0zm1 0zm4 0zm1 0zm3 0zm-13 1zm0 0zm1 0zm3 0zm0 0zm2 0zm1 0zm2 0zm-9 1zm1 0zm2 0zm4 0zm4 0zm2 0zm0 0zm-14 1zm4 0zm3 0zm4 0zm2 0zm-10 1zm2 0zm2 0zm-8 1zm1 0zm0 0zm0 0zm3 0zm0 0zm5 0zm1 0zm1 0zm2 0zm-13 1zm0 0zm4 0zm4 0zm0 0zm1 0zm2 0zm3 0zm1 0zm-14 1zm2 0zm3 0zm2 0zm1 0zm-5 1zm1 0zm2 0zm2 0zm1 0zm2 0zm-8 1zm1 0zm3 0zm1 0zm0 0zm0 0zm4 0zm-12 1zm2 0zm0 0zm4 0zm2 0zm1 0zm1 0zm1 0zm2 0zm-15 1zm1 0zm1 0zm0 0zm2 0zm1 0zm4 0zm1 0zm1 0zm4 0zm1 0zm-17 1zm0 0zm2 0zm2 0zm5 0zm3 0zm3 0zm-14 1zm3 0zm1 0zm0 0zm2 0zm3 0zm5 0zm1 0zm-10-35zm0 0zm1 0zm8 0zm-15 1zm6 0zm3 0zm2 0zm4 0zm1 0zm0 0zm1 0zm0 0zm-15 1zm1 0zm6 0zm2 0zm-5 1zm6 0zm2 0zm1 0zm-10 1zm5 0zm0 0zm2 0zm1 0zm-13 1zm3 0zm5 0zm2 0zm6 0zm-14 1zm6 0zm4 0zm3 0zm0 0zm2 0zm0 0zm-10 1zm0 0zm2 0zm1 0zm0 0zm-3 1zm3 0zm3 0zm0 0zm0 0zm-10 1zm4 0zm1 0zm3 0zm2 0zm1 0zm-13 1zm2 0zm1 0zm0 0zm3 0zm1 0zm0 0zm-7 1zm11 0zm-6 1zm2 0zm5 0zm0 0zm-7 1zm4 0zm5 0zm0 0zm1 0zm0 0zm1 0zm-14 1zm12 0zm-9 1zm5 0zm0 0zm6 0zm-17 1zm0 0zm2 0zm3 0zm0 0zm2 0zm4 0zm4 0zm-13 1zm2 0zm3 0zm0 0zm3 0zm1 0zm1 0zm3 0zm0 0zm2 0zm-9-35zm2 0zm2 0zm-12 1zm4 0zm2 0zm3 0zm8 0zm-9 1zm-5 1zm0 0zm1 0zm6 0zm6 0zm-2 1zm2 0zm1 0zm-17 1zm1 0zm3 0zm1 0zm7 0zm3 0zm-6 1zm0 0zm8 0zm-4 1zm-6 1zm-7 1zm3 0zm5 0zm4 0zm4 0zm-10 1zm2 0zm4 0zm3 0zm-14 1zm4 0zm5 0zm-9 1zm9 0zm-10 1zm8 0zm2 0zm7 0zm-15 1zm12 0zm-14 1zm0 1zm3 0zm2 0zm6 0zm2 0zm1 0zm3 0zm-10 1zm4 0zm1 0zm3 0zm-3-35zm-12 1zm2 1zm1 0zm1 0zm7 0zm1 0zm2 0zm0 0zm-13 1zm4 0zm2 0zm3 0zm-1 1zm6 0zm2 0zm-7 1zm-7 1zm2 0zm9 0zm-9 2zm1 0zm1 0zm0 0zm3 0zm-2 1zm1 1zm3 1zm3 0zm-9 1zm5 1zm6 0zm-16 1zm9 0zm5 0zm1 0zm-15 1zm6 0zm2 0zm1 0zm2 0zm-12 1zm3 0zm8 0zm1 0zm-12 1zm16 0zm-6-34zm-8 1zm14 0zm0 0zm-10 1zm3 0zm-6 1zm2 0zm1 0zm4 1zm-3 1zm6 0zm0 0zm1 0zm-5 1zm3 0zm-12 1zm15 1zm-12 1zm1 0zm6 0zm2 0zm-12 2zm13 0zm1 0zm-10 1zm6 0zm-7 1zm8 0zm-3 1zm7 0zm-15 1zm3 0zm8 0zm1 0zm2 1zm-13-35zm4 0zm-1 2zm3 0zm9 0zm-4 2zm-12 1zm6 1zm-1 3zm7 0zm-12 2zm8 0zm3 0zm2 0zm0 0zm4 0zm-10 1zm6 1zm-3 2zm-5-31zm4 5zm3 1zm0 1zm3 1zm-8 1zm0 0zm-2 1zm0 3zm-5-24zm13 0zm4 0zm-6 1zm0 4zm-11-24zm8 2zm0-44zm-2 5zm-3 1zm-1 3zm10-32zm12-1zm2 9zm-4 6zm1 27zm8 8zm1 10zm-3 12zm0 0zm-10 11zm10 0zm-9 7zm12 1zm-4 8zm6 1zm-3 5zm-1 2zm-12 1zm4 1zm5 1zm7 0zm-1 1zm-11 1zm4 2zm-2 1zm4 0zm7 0zm-12 1zm7 0zm4 0zm-14 1zm7 2zm2 0zm-5 1zm7 0zm-12 1zm4 0zm0 1zm5 0zm-5 1zm3 1zm-5 1zm6 2zm-4 1zm6 1zm6 0zm-15 1zm3 0zm0 2zm3 0zm-2 1zm9 0zm-11 2zm12 0zm-7 1zm-8 1zm6 0zm2 0zm0 1zm1 0zm1 0zm-9 1zm14 0zm-10 1zm-6 1zm15 0zm-14 2zm6 0zm6 0zm1 0zm-14 1zm5 0zm8 1zm4 0zm0 0zm-16 1zm3 0zm9 0zm-10 1zm4 0zm8 0zm-8 1zm7 0zm0 0zm-12 1zm1 0zm6 0zm2 0zm6 0zm0 1zm0 0zm-15 1zm4 0zm5 0zm1 0zm-8 1zm-4 1zm4 0zm0 0zm8 0zm-9 1zm11 0zm-11 1zm1 0zm5 0zm2 0zm-5 1zm2 0zm9 0zm-14 1zm14 1zm0 0zm-12 1zm0 0zm6 0zm3 0zm2 0zm-7 1zm1 0zm4 0zm3 0zm-15 1zm5 0zm7 0zm1 0zm-13 1zm12 0zm0 1zm-12 1zm3 0zm8 0zm-9 1zm0 0zm1 0zm2 0zm3 0zm4 0zm-9 1zm0 0zm8 0zm3 0zm0 0zm-16 1zm9 0zm2 0zm-9 1zm3 0zm2 0zm3 0zm3 0zm2 0zm-15 1zm1 0zm1 0zm0 0zm8 0zm2 0zm0 0zm2 0zm-11 1zm3 0zm1 0zm2 0zm0 0zm-9 1zm2 0zm4 0zm0 0zm-2 1zm3 0zm-3 1zm3 0zm4 0zm4 0zm-15 1zm1 0zm0 0zm1 0zm2 0zm0 0zm0 0zm1 0zm6 0zm-10 1zm5 0zm3 0zm1 0zm4 0zm-13 1zm0 0zm1 0zm2 0zm8 0zm1 0zm1 0zm-10 1zm3 0zm1 0zm1 0zm2 0zm-4 1zm5 0zm3 0zm2 0zm0 0zm0 0zm-15 1zm7 0zm4 0zm-13 1zm5 0zm0 0zm6 0zm4 0zm-15 1zm3 0zm1 0zm12 0zm1 0zm-14 1zm1 0zm0 0zm1 0zm5 0zm3 0zm4 0zm-15 1zm4 0zm0 0zm2 0zm2 0zm5 0zm-4 1zm1 0zm1 0zm0 0zm3 0zm1 0zm-15 1zm3 0zm2 0zm3 0zm3 0zm2 0zm1 0zm1 0zm-17 1zm0 0zm2 0zm1 0zm4 0zm0 0zm0 0zm5 0zm3 0zm-9 1zm3 0zm1 0zm1 0zm0 0zm5 0zm0 0zm-10 1zm1 0zm4 0zm1 0zm0 0zm1 0zm-10 1zm0 0zm5 0zm0 0zm1 0zm1 0zm4 0zm1 0zm-15 1zm3 0zm1 0zm0 0zm2 0zm6 0zm0 0zm-8 1zm1 0zm4 0zm0 0zm0 0zm0 0zm7 0zm-16 1zm1 0zm2 0zm2 0zm4 0zm1 0zm1 0zm0 0zm2 0zm3 0zm1 0zm-16 1zm2 0zm5 0zm1 0zm2 0zm2 0zm-10 1zm4 0zm4 0zm2 0zm2 0zm2 0zm0 0zm-17 1zm3 0zm3 0zm1 0zm1 0zm2 0zm1 0zm1 0zm3 0zm1 0zm-14 1zm1 0zm2 0zm1 0zm1 0zm1 0zm4 0zm0 0zm0 0zm2 0zm0 0zm1 0zm-15 1zm6 0zm1 0zm2 0zm0 0zm3 0zm0 0zm2 0zm3 0zm-17 1zm3 0zm1 0zm2 0zm6 0zm5 0zm-17 1zm1 0zm1 0zm4 0zm0 0zm2 0zm1 0zm5 0zm1 0zm-15 1zm1 0zm1 0zm0 0zm2 0zm1 0zm0 0zm0 0zm1 0zm5 0zm3 0zm0 0zm-14 1zm3 0zm4 0zm1 0zm1 0zm3 0zm0 0zm-11 1zm3 0zm7 0zm4 0zm0 0zm0 0zm1 0zm0 0zm-6 1zm1 0zm0 0zm-11 1zm1 0zm0 0zm8 0zm6 0zm0 0zm1 0zm1 0zm0 0zm0 0zm-16 1zm2 0zm11 0zm-10 1zm0 0zm1 0zm3 0zm3 0zm3 0zm0 0zm-14 1zm1 0zm5 0zm2 0zm3 0zm2 0zm-13 1zm1 0zm1 0zm1 0zm3 0zm6 0zm0 0zm3 0zm1 0zm-16 1zm6 0zm2 0zm0 0zm2 0zm1 0zm3 0zm1 0zm0 0zm1 0zm1 0zm0 0zm-16 1zm2 0zm2 0zm4 0zm2 0zm0 0zm-11 1zm0 0zm2 0zm1 0zm5 0zm0 0zm2 0zm0 0zm2 0zm1 0zm1 0zm1 0zm1 0zm-15 1zm3 0zm6 0zm1 0zm1 0zm4 0zm1 0zm-17 1zm7 0zm2 0zm0 0zm4 0zm1 0zm1 0zm2 0zm-15 1zm1 0zm3 0zm0 0zm1 0zm1 0zm0 0zm7 0zm2 0zm-17 1zm1 0zm6 0zm0 0zm0 0zm7 0zm-14 1zm2 0zm0 0zm3 0zm1 0zm3 0zm5 0zm2 0zm-16 1zm5 0zm0 0zm1 0zm4 0zm0 0zm0 0zm1 0zm0 0zm1 0zm0 0zm0 0zm2 0zm1 0zm1 0zm-12 1zm1 0zm2 0zm4 0zm3 0zm1 0zm1 0zm0 0zm1 0zm-16 1zm1 0zm11 0zm1 0zm1 0zm1 0zm1 0zm0 0zm-17 1zm4 0zm1 0zm1 0zm8 0zm-14 1zm0 0zm1 0zm0 0zm8 0zm5 0zm1 0zm2 0zm-16 1zm6 0zm1 0zm2 0zm5 0zm-8 1zm0 0zm2 0zm2 0zm6 0zm-14 1zm2 0zm0 0zm4 0zm1 0zm0 0zm1 0zm0 0zm0 0zm5 0zm0 0zm-14 1zm0 0zm0 0zm2 0zm0 0zm4 0zm4 0zm0 0zm5 0zm-6 1zm2 0zm-11 1zm2 0zm5 0zm6 0zm2 0zm-17 1zm1 0zm0 0zm5 0zm1 0zm2 0zm0 0zm1 0zm1 0zm1 0zm-11 1zm3 0zm2 0zm1 0zm4 0zm5 0zm0 0zm-11 1zm2 0zm2 0zm1 0zm1 0zm2 0zm2 0zm-15 1zm11 0zm4 0zm1 0zm0 0zm-15 1zm14 0zm2 0zm0 0zm-15 1zm1 0zm2 0zm7 0zm3 0zm1 0zm-15 1zm3 0zm2 0zm1 0zm10 0zm-16 1zm6 0zm1 0zm1 0zm2 0zm5 0zm1 0zm-15 1zm4 0zm3 0zm2 0zm0 0zm0 0zm5 0zm-16 1zm0 0zm7 0zm4 0zm1 0zm0 0zm1 0zm1 0zm1 0zm1 0zm0 0zm1 0zm-13 1zm3 0zm3 0zm1 0zm6 0zm0 0zm-17 1zm3 0zm1 0zm1 0zm2 0zm-6 1zm7 0zm2 0zm3 0zm4 0zm-17 1zm2 0zm3 0zm2 0zm10 0zm-12 1zm6 0zm1 0zm3 0zm1 0zm-13 1zm3 0zm1 0zm0 0zm1 0zm3 0zm1 0zm-11 1zm6 0zm3 0zm4 0zm1 0zm0 0zm1 0zm0 0zm0 0zm-14 1zm1 0zm1 0zm5 0zm0 0zm2 0zm6 0zm-13 1zm2 0zm5 0zm-11 1zm8 0zm3 0zm1 0zm2 0zm1 0zm1 0zm-14 1zm7 0zm1 0zm2 0zm4 0zm1 0zm-14 1zm7 0zm3 0zm1 0zm0 0zm2 0zm1 0zm-6 1zm1 0zm1 0zm0 0zm2 0zm0 0zm2 0zm-13 1zm8 0zm0 0zm0 0zm-9 1zm6 0zm2 0zm0 0zm-11 1zm3 0zm4 0zm6 0zm2 0zm2 0zm-15 1zm4 0zm1 0zm1 0zm1 0zm3 0zm0 0zm4 0zm-16 1zm0 0zm6 0zm6 0zm0 0zm3 0zm-15 1zm1 0zm4 0zm2 0zm1 0zm-3 1zm0 0zm1 0zm3 0zm1 0zm1 0zm4 0zm-13 1zm15 0zm0 0zm-5 1zm-9 1zm3 0zm6 0zm5 0zm-11 1zm3 0zm-3 1zm1 0zm-2 1zm3 0zm2 0zm-10 1zm3 0zm9 0zm4 1zm-3 1zm0 0zm-6 3zm3 0zm9-13zm0 0zm4 0zm1 0zm3 0zm1 0zm3 0zm2 0zm-12 1zm4 0zm1 0zm6 0zm1 0zm1 0zm-14 1zm8 0zm0 0zm1 0zm0 0zm3 0zm-14 1zm5 0zm2 0zm3 0zm2 0zm2 0zm2 0zm-8 1zm3 0zm-6 1zm3 0zm4 0zm4 0zm-12 1zm3 0zm0 0zm1 0zm1 0zm6 0zm-15 1zm9 0zm2 0zm-11 1zm7 0zm6 0zm0 0zm-6 1zm4 0zm3 0zm-5 1zm-7 1zm6 2zm2 0zm5 0zm-14-31zm0 0zm1 0zm3 0zm4 0zm2 0zm1 0zm1 0zm0 0zm0 0zm0 0zm0 0zm2 0zm1 0zm-16 1zm5 0zm1 0zm2 0zm3 0zm0 0zm2 0zm-13 1zm1 0zm1 0zm2 0zm8 0zm1 0zm2 0zm0 0zm2 0zm-17 1zm12 0zm1 0zm1 0zm1 0zm1 0zm0 0zm1 0zm-15 1zm2 0zm1 0zm1 0zm0 0zm1 0zm2 0zm7 0zm1 0zm-14 1zm7 0zm2 0zm0 0zm3 0zm1 0zm-12 1zm1 0zm2 0zm3 0zm0 0zm1 0zm4 0zm0 0zm0 0zm1 0zm-14 1zm0 0zm1 0zm1 0zm0 0zm6 0zm2 0zm-10 1zm1 0zm1 0zm1 0zm1 0zm1 0zm0 0zm7 0zm0 0zm3 0zm0 0zm-15 1zm1 0zm3 0zm6 0zm1 0zm-10 1zm4 0zm0 0zm4 0zm4 0zm-15 1zm0 0zm7 0zm4 0zm2 0zm2 0zm1 0zm-16 1zm2 0zm1 0zm4 0zm3 0zm1 0zm1 0zm0 0zm3 0zm-15 1zm2 0zm6 0zm1 0zm4 0zm-7 1zm1 0zm3 0zm1 0zm4 0zm1 0zm1 0zm0 0zm-15 1zm2 0zm4 0zm7 0zm1 0zm0 0zm0 0zm-14 1zm0 0zm0 0zm2 0zm2 0zm2 0zm1 0zm8 0zm-16 1zm1 0zm12 0zm1 0zm1 0zm0 0zm1 0zm-11-35zm0 0zm1 0zm5 0zm0 0zm4 0zm-14 1zm4 0zm6 0zm0 0zm1 0zm2 0zm-13 1zm1 0zm1 0zm2 0zm0 0zm2 0zm0 0zm0 0zm1 0zm1 0zm0 0zm3 0zm0 0zm1 0zm1 0zm-14 1zm0 0zm2 0zm1 0zm0 0zm1 0zm1 0zm5 0zm2 0zm0 0zm4 0zm-17 1zm1 0zm7 0zm5 0zm1 0zm1 0zm0 0zm2 0zm0 0zm-16 1zm3 0zm5 0zm6 0zm2 0zm-16 1zm2 0zm2 0zm4 0zm0 0zm2 0zm2 0zm1 0zm0 0zm3 0zm0 0zm-17 1zm4 0zm0 0zm3 0zm3 0zm0 0zm1 0zm1 0zm1 0zm1 0zm1 0zm-11 1zm1 0zm2 0zm2 0zm0 0zm2 0zm0 0zm2 0zm1 0zm3 0zm-17 1zm11 0zm0 0zm0 0zm5 0zm0 0zm-12 1zm0 0zm1 0zm1 0zm3 0zm8 0zm0 0zm-14 1zm2 0zm2 0zm0 0zm1 0zm1 0zm0 0zm0 0zm2 0zm5 0zm-15 1zm1 0zm2 0zm1 0zm2 0zm2 0zm-8 1zm0 0zm9 0zm1 0zm0 0zm2 0zm1 0zm2 0zm-12 1zm4 0zm1 0zm1 0zm1 0zm1 0zm1 0zm0 0zm0 0zm0 0zm0 0zm1 0zm3 0zm-16 1zm2 0zm2 0zm1 0zm3 0zm-8 1zm3 0zm2 0zm0 0zm1 0zm1 0zm1 0zm1 0zm0 0zm1 0zm1 0zm2 0zm2 0zm-16 1zm5 0zm5 0zm5 0zm0 0zm2 0zm0 0zm-16-35zm1 0zm3 0zm0 0zm1 0zm4 0zm1 0zm5 0zm-14 1zm0 0zm1 0zm2 0zm1 0zm0 0zm3 0zm1 0zm4 0zm3 0zm-17 1zm3 0zm5 0zm1 0zm1 0zm0 0zm1 0zm-9 1zm0 0zm1 0zm1 0zm1 0zm6 0zm1 0zm3 0zm2 0zm-17 1zm3 0zm3 0zm1 0zm1 0zm3 0zm2 0zm0 0zm1 0zm1 0zm2 0zm-15 1zm1 0zm3 0zm1 0zm8 0zm-15 1zm5 0zm3 0zm-6 1zm8 0zm0 0zm4 0zm2 0zm1 0zm-16 1zm0 0zm1 0zm2 0zm1 0zm2 0zm1 0zm0 0zm1 0zm3 0zm3 0zm0 0zm-15 1zm0 0zm2 0zm3 0zm2 0zm0 0zm5 0zm2 0zm1 0zm-10 1zm4 0zm1 0zm2 0zm4 0zm-16 1zm1 0zm3 0zm0 0zm0 0zm1 0zm0 0zm3 0zm0 0zm2 0zm3 0zm0 0zm-8 1zm2 0zm7 0zm2 0zm0 0zm1 0zm-12 1zm1 0zm4 0zm0 0zm6 0zm-13 1zm0 0zm4 0zm3 0zm1 0zm0 0zm1 0zm3 0zm2 0zm-16 1zm0 0zm2 0zm2 0zm1 0zm1 0zm3 0zm0 0zm1 0zm1 0zm3 0zm-12 1zm0 0zm1 0zm0 0zm2 0zm1 0zm2 0zm0 0zm4 0zm1 0zm2 0zm1 0zm-17 1zm0 0zm4 0zm2 0zm3 0zm1 0zm3 0zm0 0zm2 0zm1 0zm-9-35zm1 0zm5 0zm1 0zm3 0zm0 0zm0 0zm-17 1zm4 0zm0 0zm3 0zm5 0zm4 0zm1 0zm-12 1zm0 0zm0 0zm2 0zm1 0zm0 0zm1 0zm3 0zm4 0zm0 0zm-16 1zm3 0zm0 0zm1 0zm6 0zm1 0zm1 0zm-9 1zm2 0zm1 0zm5 0zm4 0zm2 0zm-13 1zm4 0zm5 0zm1 0zm-14 1zm0 0zm3 0zm1 0zm0 0zm3 0zm0 0zm1 0zm0 0zm2 0zm1 0zm1 0zm0 0zm0 0zm0 0zm4 0zm-16 1zm2 0zm2 0zm1 0zm0 0zm1 0zm6 0zm1 0zm0 0zm1 0zm0 0zm2 0zm-16 1zm2 0zm2 0zm2 0zm3 0zm1 0zm0 0zm7 0zm-17 1zm0 0zm10 0zm-10 1zm2 0zm3 0zm1 0zm5 0zm-9 1zm1 0zm1 0zm1 0zm1 0zm1 0zm4 0zm0 0zm-9 1zm1 0zm0 0zm1 0zm0 0zm0 0zm2 0zm0 0zm3 0zm2 0zm2 0zm2 0zm-13 1zm2 0zm2 0zm4 0zm1 0zm1 0zm4 0zm-16 1zm4 0zm0 0zm6 0zm0 0zm2 0zm1 0zm0 0zm0 0zm1 0zm1 0zm0 0zm2 0zm0 0zm-17 1zm1 0zm1 0zm0 0zm0 0zm1 0zm3 0zm1 0zm2 0zm1 0zm3 0zm1 0zm1 0zm0 0zm2 0zm-17 1zm1 0zm4 0zm4 0zm5 0zm0 0zm0 0zm1 0zm-15 1zm5 0zm7 0zm-7-35zm1 0zm1 0zm7 0zm-11 1zm3 0zm6 0zm-7 1zm9 0zm3 0zm-11 1zm1 0zm0 0zm1 0zm3 0zm4 0zm-4 1zm2 0zm1 0zm1 0zm-14 1zm2 0zm1 0zm1 0zm8 0zm3 0zm-14 1zm5 0zm1 0zm0 0zm2 0zm1 0zm0 0zm2 0zm0 0zm4 0zm0 0zm-17 1zm2 0zm3 0zm1 0zm10 0zm-13 1zm6 0zm1 0zm4 0zm0 0zm1 0zm1 0zm-8 1zm-8 1zm1 1zm5 0zm3 0zm1 0zm3 0zm-12 1zm9 0zm2 0zm2 0zm0 0zm3 0zm-12 1zm4 0zm2 0zm3 0zm2 0zm1 0zm-17 1zm1 0zm1 0zm3 0zm2 0zm5 0zm1 0zm1 0zm-12 1zm1 0zm2 0zm2 0zm1 0zm5 0zm3 0zm-10 1zm3 0zm2 0zm1 0zm1 0zm1 0zm0 0zm-10 1zm10 0zm-2-35zm-6 1zm-3 1zm1 0zm9 0zm-1 1zm4 0zm-15 1zm12 0zm-5 1zm8 0zm-16 1zm6 0zm9 0zm2 0zm-6 1zm4 0zm-15 1zm15 0zm2 0zm-17 1zm0 0zm7 0zm1 0zm2 0zm0 0zm-5 1zm3 1zm5 0zm3 1zm-11 1zm3 0zm8 1zm-13 1zm5 0zm1 0zm4 0zm2 0zm-14 1zm1 0zm5 0zm4 0zm1 0zm-11 1zm15-34zm-14 1zm0 0zm6 0zm-8 1zm3 2zm3 0zm8 0zm2 0zm1 0zm-14 2zm2 0zm2 0zm7 0zm-14 1zm5 1zm5 0zm4 0zm-11 1zm-3 1zm2 0zm7 0zm4 0zm-8 1zm9 0zm-14 2zm8 0zm9 0zm-17 1zm10 0zm2 1zm-11 1zm6 0zm1 0zm0 0zm4 0zm1 0zm-5-34zm-5 2zm7 0zm-10 1zm12 1zm-6 1zm-6 2zm3 0zm-3 2zm3 1zm2 0zm12 0zm-17 1zm10 2zm-7 1zm5 0zm-1 2zm9 0zm-15-35zm8 7zm6 7zm-10 1zm10-32zm-13 3zm6 12zm0 1zm-6-57zm6-37zm6-72zm20 58zm-2 44zm-1 26zm-1 8zm-9 12zm10 3zm-8 3zm3 2zm8 8zm-10 5zm-1 6zm11 3zm-8 2zm-4 1zm0 8zm0 0zm-2 1zm10 0zm-12 3zm4 1zm2 4zm7 0zm-10 3zm0 1zm6 0zm-5 1zm6 0zm5 0zm-10 1zm0 0zm1 0zm1 2zm6 0zm-5 1zm4 0zm-10 1zm6 0zm-8 1zm5 0zm0 1zm7 1zm-8 2zm8 0zm-7 1zm2 0zm6 0zm-1 1zm4 0zm0 0zm0 0zm-13 2zm5 0zm2 0zm6 0zm-6 1zm-5 1zm6 0zm-4 1zm-6 1zm4 0zm3 0zm9 0zm-3 1zm-13 2zm1 0zm1 0zm6 0zm6 1zm-12 1zm5 0zm9 0zm-15 1zm4 0zm0 0zm3 0zm-2 1zm1 1zm1 0zm-2 1zm8 0zm-9 1zm-4 1zm1 0zm0 1zm8 0zm1 0zm2 0zm3 0zm-6 1zm-3 1zm1 0zm5 0zm3 0zm-13 1zm1 0zm-2 1zm0 0zm3 0zm3 0zm7 0zm0 0zm-10 1zm1 0zm4 0zm2 0zm4 0zm-7 1zm0 0zm1 0zm2 0zm2 0zm-11 1zm5 0zm0 0zm6 0zm-14 1zm1 0zm1 0zm3 0zm2 0zm2 0zm1 0zm1 0zm2 0zm0 0zm3 0zm-11 1zm0 0zm2 0zm0 0zm3 0zm-11 1zm2 0zm4 0zm0 0zm5 0zm3 0zm1 0zm1 0zm1 0zm-17 1zm1 0zm1 0zm1 0zm2 0zm3 0zm7 0zm-15 1zm5 0zm3 0zm7 0zm1 0zm-13 1zm0 0zm2 0zm11 0zm-11 1zm0 0zm1 0zm0 0zm1 0zm0 0zm2 0zm2 0zm4 0zm1 0zm-9 1zm-2 1zm8 0zm0 0zm2 0zm2 0zm-13 1zm5 0zm1 0zm6 0zm-4 1zm1 0zm3 0zm0 0zm-15 1zm1 0zm2 0zm1 0zm1 0zm9 0zm0 0zm-13 1zm0 0zm5 0zm8 0zm-11 1zm8 0zm2 0zm3 0zm-15 1zm2 0zm2 0zm2 0zm3 0zm4 0zm2 0zm-17 1zm0 0zm4 0zm0 0zm2 0zm1 0zm1 0zm9 0zm-17 1zm1 0zm0 0zm4 0zm1 0zm2 0zm0 0zm-8 1zm4 0zm4 0zm3 0zm2 0zm1 0zm2 0zm-13 1zm2 0zm1 0zm4 0zm3 0zm4 0zm-14 1zm3 0zm2 0zm1 0zm1 0zm2 0zm2 0zm-8 1zm3 0zm1 0zm1 0zm6 0zm-13 1zm8 0zm1 0zm0 0zm3 0zm-15 1zm0 0zm9 0zm2 0zm4 0zm-14 1zm0 0zm1 0zm1 0zm0 0zm4 0zm8 0zm-13 1zm5 0zm0 0zm3 0zm2 0zm2 0zm-14 1zm0 0zm3 0zm1 0zm1 0zm1 0zm3 0zm-9 1zm3 0zm1 0zm2 0zm4 0zm3 0zm2 0zm-16 1zm2 0zm1 0zm1 0zm1 0zm2 0zm5 0zm2 0zm1 0zm-13 1zm4 0zm1 1zm1 0zm1 0zm0 0zm1 0zm0 0zm3 0zm3 0zm-16 1zm1 0zm0 0zm0 0zm1 0zm6 0zm0 0zm2 0zm0 0zm2 0zm1 0zm1 0zm3 0zm-16 1zm0 0zm6 0zm1 0zm1 0zm0 0zm7 0zm-16 1zm2 0zm1 0zm3 0zm3 0zm0 0zm3 0zm1 0zm-12 1zm1 0zm3 0zm3 0zm1 0zm1 0zm4 0zm1 0zm2 0zm0 0zm-16 1zm0 0zm3 0zm1 0zm1 0zm2 0zm2 0zm-10 1zm0 0zm2 0zm0 0zm2 0zm3 0zm1 0zm4 0zm1 0zm0 0zm0 0zm2 0zm1 0zm0 0zm0 0zm-16 1zm3 0zm1 0zm2 0zm4 0zm3 0zm0 0zm1 0zm1 0zm0 0zm1 0zm1 0zm-16 1zm0 0zm2 0zm2 0zm1 0zm0 0zm2 0zm0 0zm3 0zm0 0zm3 0zm1 0zm0 0zm-14 1zm1 0zm1 0zm1 0zm2 0zm3 0zm1 0zm3 0zm2 0zm1 0zm-15 1zm0 0zm1 0zm1 0zm0 0zm1 0zm2 0zm6 0zm1 0zm1 0zm1 0zm-15 1zm0 0zm2 0zm0 0zm0 0zm5 0zm7 0zm1 0zm1 0zm0 0zm1 0zm-17 1zm0 0zm3 0zm3 0zm2 0zm3 0zm-9 1zm11 0zm0 0zm2 0zm1 0zm1 0zm-15 1zm3 0zm2 0zm7 0zm3 0zm-17 1zm1 0zm2 0zm5 0zm1 0zm0 0zm2 0zm3 0zm1 0zm-15 1zm3 0zm2 0zm1 0zm0 0zm2 0zm2 0zm3 0zm0 0zm1 0zm1 0zm1 0zm-14 1zm5 0zm2 0zm0 0zm3 0zm4 0zm1 0zm0 0zm0 0zm0 0zm-17 1zm2 0zm1 0zm2 0zm1 0zm1 0zm2 0zm3 0zm3 0zm2 0zm-17 1zm2 0zm2 0zm3 0zm3 0zm0 0zm2 0zm1 0zm1 0zm-14 1zm1 0zm1 0zm9 0zm-11 1zm4 0zm1 0zm1 0zm0 0zm7 0zm0 0zm3 0zm1 0zm-17 1zm0 0zm3 0zm1 0zm0 0zm2 0zm1 0zm2 0zm0 0zm1 0zm1 0zm0 0zm1 0zm2 0zm-13 1zm3 0zm5 0zm5 0zm-14 1zm0 0zm2 0zm0 0zm5 0zm3 0zm0 0zm2 0zm2 0zm1 0zm2 0zm-17 1zm0 0zm1 0zm1 0zm1 0zm1 0zm1 0zm0 0zm1 0zm7 0zm1 0zm3 0zm-15 1zm0 0zm0 0zm0 0zm1 0zm1 0zm4 0zm0 0zm2 0zm0 0zm0 0zm1 0zm0 0zm1 0zm1 0zm0 0zm2 0zm0 0zm1 0zm0 0zm-16 1zm0 0zm1 0zm1 0zm0 0zm1 0zm3 0zm2 0zm7 0zm2 0zm0 0zm-15 1zm2 0zm0 0zm4 0zm2 0zm1 0zm1 0zm1 0zm2 0zm0 0zm1 0zm-14 1zm2 0zm1 0zm2 0zm0 0zm2 0zm0 0zm0 0zm2 0zm4 0zm1 0zm1 0zm0 0zm-17 1zm0 0zm0 0zm0 0zm2 0zm0 0zm1 0zm1 0zm4 0zm0 0zm6 0zm1 0zm1 0zm-16 1zm0 0zm10 0zm0 0zm4 0zm2 0zm0 0zm0 0zm1 0zm-16 1zm0 0zm1 0zm0 0zm1 0zm2 0zm2 0zm3 0zm3 0zm1 0zm0 0zm1 0zm2 0zm-16 1zm1 0zm1 0zm1 0zm0 0zm0 0zm0 0zm0 0zm2 0zm1 0zm0 0zm1 0zm1 0zm0 0zm1 0zm3 0zm4 0zm-17 1zm4 0zm2 0zm0 0zm1 0zm1 0zm1 0zm1 0zm1 0zm3 0zm0 0zm1 0zm2 0zm0 0zm-17 1zm2 0zm1 0zm1 0zm2 0zm2 0zm0 0zm3 0zm0 0zm0 0zm5 0zm-13 1zm2 0zm1 0zm0 0zm1 0zm4 0zm2 0zm0 0zm1 0zm2 0zm-16 1zm1 0zm2 0zm2 0zm3 0zm3 0zm1 0zm0 0zm1 0zm0 0zm2 0zm0 0zm-9 1zm1 0zm2 0zm0 0zm1 0zm0 0zm1 0zm3 0zm3 0zm-14 1zm0 0zm2 0zm0 0zm1 0zm2 0zm0 0zm2 0zm3 0zm0 0zm2 0zm0 0zm1 0zm-16 1zm1 0zm1 0zm1 0zm5 0zm1 0zm2 0zm5 0zm0 0zm1 0zm0 0zm-16 1zm2 0zm2 0zm2 0zm1 0zm1 0zm3 0zm1 0zm1 0zm-14 1zm1 0zm2 0zm2 0zm2 0zm0 0zm2 0zm1 0zm1 0zm2 0zm1 0zm0 0zm3 0zm0 0zm-14 1zm0 0zm1 0zm4 0zm2 0zm0 0zm0 0zm0 0zm1 0zm0 0zm1 0zm3 0zm0 0zm0 0zm0 0zm0 0zm1 0zm-15 1zm3 0zm3 0zm4 0zm1 0zm4 0zm0 0zm-16 1zm0 0zm4 0zm3 0zm0 0zm1 0zm2 0zm2 0zm1 0zm1 0zm0 0zm1 0zm0 0zm1 0zm0 0zm-16 1zm1 0zm4 0zm1 0zm1 0zm0 0zm2 0zm2 0zm1 0zm1 0zm-10 1zm0 0zm0 0zm3 0zm1 0zm2 0zm8 0zm-17 1zm0 0zm5 0zm3 0zm1 0zm4 0zm1 0zm1 0zm1 0zm0 0zm-13 1zm1 0zm1 0zm3 0zm1 0zm2 0zm1 0zm3 0zm1 0zm-15 1zm2 0zm0 0zm7 0zm3 0zm1 0zm3 0zm-15 1zm3 0zm1 0zm2 0zm1 0zm3 0zm0 0zm4 0zm0 0zm1 0zm-17 1zm3 0zm1 0zm0 0zm7 0zm4 0zm-15 1zm1 0zm8 0zm1 0zm6 0zm0 0zm-14 1zm2 0zm2 0zm1 0zm1 0zm0 0zm2 0zm1 0zm1 0zm-10 1zm2 0zm3 0zm2 0zm2 0zm1 0zm1 0zm0 0zm2 0zm0 0zm1 0zm1 0zm-16 1zm2 0zm2 0zm0 0zm5 0zm2 0zm0 0zm5 0zm-16 1zm2 0zm2 0zm5 0zm3 0zm1 0zm2 0zm0 0zm1 0zm-13 1zm2 0zm0 0zm1 0zm1 0zm4 0zm2 0zm3 0zm-16 1zm2 0zm4 0zm3 0zm1 0zm1 0zm5 0zm-17 1zm1 0zm3 0zm7 0zm2 0zm1 0zm1 0zm-6 1zm3 0zm3 0zm-10 1zm0 0zm5 0zm2 0zm-3 1zm1 0zm3 0zm-11 1zm1 0zm1 0zm0 0zm13 0zm-17 1zm6 0zm6 0zm2 0zm3 0zm-1 1zm-14 1zm5 0zm5 0zm4 0zm-5 1zm-11 1zm5 0zm0 0zm7 0zm-10 1zm9 0zm1 0zm4 0zm-10 1zm2 0zm8 0zm-9 1zm2 1zm1 0zm11-14zm0 0zm6 0zm1 0zm6 0zm-15 1zm1 0zm4 0zm3 0zm5 0zm2 0zm-16 1zm3 0zm7 0zm1 0zm0 0zm4 0zm-11 1zm1 0zm1 0zm3 0zm0 0zm4 0zm1 0zm2 0zm-15 1zm1 0zm10 0zm2 0zm2 0zm0 0zm1 0zm-14 1zm0 0zm5 0zm1 0zm3 0zm5 0zm-16 1zm3 0zm2 0zm1 0zm0 0zm1 0zm1 0zm3 0zm0 0zm-10 1zm2 0zm3 0zm8 0zm-6 2zm0 0zm4 0zm-11 1zm10 0zm3 0zm2 0zm0 0zm0 0zm-17 1zm3 0zm5 0zm0 0zm2 0zm-3 1zm7 0zm-1 1zm-9-31zm1 0zm0 0zm1 0zm3 0zm0 0zm1 0zm1 0zm3 0zm3 0zm0 0zm-13 1zm4 0zm1 0zm1 0zm2 0zm1 0zm1 0zm2 0zm1 0zm0 0zm-16 1zm1 0zm2 0zm2 0zm1 0zm1 0zm0 0zm4 0zm1 0zm0 0zm1 0zm2 0zm0 0zm-16 1zm2 0zm0 0zm2 0zm2 0zm0 0zm1 0zm2 0zm2 0zm1 0zm0 0zm1 0zm2 0zm1 0zm0 0zm1 0zm0 0zm0 0zm-12 1zm1 0zm5 0zm1 0zm1 0zm4 0zm-17 1zm1 0zm0 0zm2 0zm1 0zm2 0zm0 0zm0 0zm1 0zm1 0zm1 0zm1 0zm3 0zm0 0zm0 0zm3 0zm0 0zm1 0zm-17 1zm2 0zm1 0zm1 0zm1 0zm2 0zm1 0zm1 0zm2 0zm2 0zm0 0zm-11 1zm0 0zm4 0zm6 0zm0 0zm1 0zm0 0zm0 0zm1 0zm0 0zm2 0zm1 0zm0 0zm-15 1zm1 0zm1 0zm0 0zm2 0zm0 0zm1 0zm5 0zm0 0zm-8 1zm1 0zm0 0zm1 0zm0 0zm8 0zm3 0zm0 0zm-15 1zm2 0zm1 0zm0 0zm3 0zm3 0zm0 0zm0 0zm0 0zm0 0zm1 0zm1 0zm4 0zm-17 1zm0 0zm2 0zm1 0zm0 0zm0 0zm4 0zm4 0zm3 0zm0 0zm0 0zm1 0zm2 0zm-17 1zm6 0zm0 0zm1 0zm1 0zm0 0zm2 0zm1 0zm-8 1zm0 0zm0 0zm1 0zm2 0zm0 0zm1 0zm1 0zm2 0zm1 0zm0 0zm0 0zm1 0zm-5 1zm0 0zm1 0zm1 0zm1 0zm0 0zm1 0zm-5 1zm3 0zm6 0zm0 0zm-13 1zm1 0zm3 0zm5 0zm4 0zm2 0zm-16 1zm1 0zm7 0zm1 0zm0 0zm1 0zm0 0zm1 0zm2 0zm0 0zm-12-35zm2 0zm0 0zm1 0zm1 0zm1 0zm1 0zm2 0zm2 0zm0 0zm1 0zm0 0zm3 0zm0 0zm1 0zm0 0zm-17 1zm4 0zm5 0zm1 0zm2 0zm0 0zm0 0zm1 0zm1 0zm1 0zm1 0zm1 0zm0 0zm0 0zm-16 1zm1 0zm2 0zm2 0zm1 0zm0 0zm0 0zm1 0zm0 0zm0 0zm1 0zm1 0zm0 0zm1 0zm3 0zm2 0zm-15 1zm1 0zm2 0zm0 0zm2 0zm0 0zm1 0zm0 0zm5 0zm2 0zm2 0zm1 0zm-14 1zm1 0zm1 0zm0 0zm4 0zm1 0zm3 0zm0 0zm1 0zm2 0zm-16 1zm0 0zm2 0zm1 0zm0 0zm4 0zm0 0zm1 0zm1 0zm2 0zm0 0zm1 0zm0 0zm3 0zm0 0zm-14 1zm2 0zm1 0zm0 0zm1 0zm1 0zm1 0zm2 0zm3 0zm2 0zm1 0zm2 0zm0 0zm0 0zm-17 1zm1 0zm3 0zm1 0zm1 0zm2 0zm4 0zm0 0zm4 0zm-11 1zm4 0zm1 0zm1 0zm1 0zm1 0zm2 0zm1 0zm-15 1zm0 0zm3 0zm0 0zm1 0zm3 0zm1 0zm1 0zm1 0zm1 0zm1 0zm0 0zm1 0zm3 0zm-16 1zm0 0zm1 0zm0 0zm1 0zm2 0zm1 0zm1 0zm0 0zm1 0zm0 0zm1 0zm1 0zm1 0zm0 0zm1 0zm2 0zm0 0zm2 0zm-15 1zm2 0zm0 0zm0 0zm1 0zm3 0zm1 0zm1 0zm3 0zm1 0zm2 0zm2 0zm-16 1zm3 0zm0 0zm3 0zm0 0zm2 0zm3 0zm1 0zm2 0zm-15 1zm1 0zm1 0zm1 0zm0 0zm1 0zm0 0zm3 0zm0 0zm0 0zm1 0zm0 0zm0 0zm1 0zm0 0zm0 0zm2 0zm2 0zm3 0zm1 0zm-17 1zm1 0zm3 0zm3 0zm1 0zm1 0zm2 0zm1 0zm2 0zm0 0zm1 0zm1 0zm1 0zm-16 1zm3 0zm5 0zm1 0zm4 0zm0 0zm0 0zm3 0zm-17 1zm0 0zm1 0zm4 0zm2 0zm1 0zm4 0zm1 0zm1 0zm0 0zm0 0zm2 0zm1 0zm-13 1zm1 0zm3 0zm2 0zm1 0zm2 0zm4 0zm-16-35zm1 0zm1 0zm8 0zm1 0zm1 0zm1 0zm2 0zm1 0zm-17 1zm1 0zm3 0zm0 0zm1 0zm5 0zm0 0zm0 0zm0 0zm1 0zm0 0zm4 0zm1 0zm0 0zm-16 1zm1 0zm1 0zm1 0zm1 0zm4 0zm2 0zm1 0zm0 0zm0 0zm3 0zm2 0zm-15 1zm0 0zm1 0zm1 0zm3 0zm0 0zm2 0zm0 0zm0 0zm1 0zm1 0zm0 0zm0 0zm1 0zm-11 1zm2 0zm1 0zm1 0zm1 0zm2 0zm3 0zm5 0zm1 0zm-14 1zm5 0zm1 0zm1 0zm0 0zm2 0zm1 0zm2 0zm-14 1zm1 0zm0 0zm3 0zm2 0zm3 0zm2 0zm1 0zm1 0zm2 0zm1 0zm0 0zm0 0zm0 0zm1 0zm0 0zm-12 1zm4 0zm0 0zm1 0zm0 0zm0 0zm4 0zm-10 1zm3 0zm0 0zm3 0zm3 0zm1 0zm0 0zm0 0zm2 0zm-15 1zm3 0zm0 0zm3 0zm1 0zm1 0zm2 0zm1 0zm1 0zm1 0zm2 0zm1 0zm-17 1zm3 0zm1 0zm5 0zm1 0zm4 0zm1 0zm1 0zm-13 1zm1 0zm0 0zm1 0zm0 0zm1 0zm0 0zm0 0zm8 0zm3 0zm-13 1zm2 0zm2 0zm1 0zm7 0zm1 0zm-17 1zm4 0zm1 0zm3 0zm3 0zm0 0zm1 0zm1 0zm1 0zm0 0zm1 0zm1 0zm-15 1zm1 0zm1 0zm1 0zm1 0zm1 0zm2 0zm2 0zm1 0zm6 0zm-13 1zm1 0zm3 0zm0 0zm0 0zm2 0zm0 0zm1 0zm0 0zm2 0zm2 0zm-15 1zm2 0zm0 0zm4 0zm1 0zm3 0zm1 0zm-9 1zm0 0zm3 0zm0 0zm1 0zm0 0zm2 0zm1 0zm1 0zm1 0zm0 0zm2 0zm2 0zm1 0zm0 0zm1 0zm0 0zm-13-35zm2 0zm3 0zm3 0zm1 0zm2 0zm-15 1zm1 0zm0 0zm2 0zm6 0zm2 0zm3 0zm-13 1zm2 0zm1 0zm0 0zm1 0zm3 0zm0 0zm7 0zm0 0zm1 0zm-16 1zm4 0zm1 0zm1 0zm3 0zm1 0zm2 0zm4 0zm1 0zm-16 1zm0 0zm4 0zm0 0zm0 0zm1 0zm2 0zm2 0zm5 0zm-12 1zm0 0zm1 0zm5 0zm1 0zm0 0zm1 0zm0 0zm-10 1zm1 0zm0 0zm0 0zm1 0zm3 0zm3 0zm1 0zm1 0zm2 0zm-10 1zm1 0zm1 0zm8 0zm0 0zm1 0zm3 0zm-14 1zm2 0zm2 0zm2 0zm2 0zm4 0zm1 0zm-16 1zm0 0zm1 0zm1 0zm2 0zm0 0zm4 0zm4 0zm1 0zm0 0zm4 0zm0 0zm0 0zm-12 1zm0 0zm0 0zm1 0zm2 0zm3 0zm1 0zm2 0zm2 0zm1 0zm-17 1zm2 0zm6 0zm0 0zm4 0zm-11 1zm3 0zm1 0zm0 0zm1 0zm0 0zm3 0zm1 0zm3 0zm3 0zm1 0zm-16 1zm3 0zm0 0zm1 0zm1 0zm3 0zm2 0zm2 0zm0 0zm4 0zm-15 1zm2 0zm1 0zm1 0zm2 0zm0 0zm2 0zm0 0zm1 0zm0 0zm-8 1zm6 0zm1 0zm1 0zm1 0zm1 0zm1 0zm0 0zm3 0zm-17 1zm2 0zm1 0zm2 0zm4 0zm0 0zm1 0zm3 0zm2 0zm-15 1zm8 0zm0 0zm1 0zm2 0zm1 0zm1 0zm2 0zm1 0zm-14-35zm11 0zm2 0zm-9 1zm11 0zm-10 1zm5 0zm5 0zm-7 1zm-10 1zm0 0zm7 0zm2 0zm7 0zm-15 1zm4 0zm2 0zm0 0zm4 0zm3 0zm-10 1zm6 0zm3 0zm-11 1zm2 0zm-3 1zm6 0zm1 0zm-8 1zm2 0zm4 0zm7 0zm1 0zm3 0zm-16 1zm1 0zm10 0zm5 0zm-10 1zm0 0zm5 0zm1 0zm-8 1zm1 0zm4 0zm1 0zm5 0zm-8 1zm1 0zm6 0zm-10 1zm1 0zm1 0zm4 0zm1 0zm1 0zm1 0zm-8 1zm0 0zm4 0zm1 0zm-11 1zm2 0zm7 0zm6 0zm-15 1zm1 0zm1 0zm1 0zm2 0zm3 0zm0 0zm0 0zm6 0zm1 0zm-11-35zm1 1zm2 0zm0 0zm-3 1zm10 1zm3 0zm-17 1zm4 0zm3 0zm-5 2zm6 0zm4 0zm-5 1zm-3 1zm2 0zm5 0zm-4 1zm5 0zm-8 2zm0 0zm1 0zm1 1zm6 0zm-9 1zm3 0zm-5 1zm4 0zm5 0zm2 0zm-3 1zm4 0zm4 0zm-2 1zm-14 1zm1 0zm5 0zm5 0zm-4-35zm0 1zm6 0zm-12 1zm11 1zm-4 3zm1 0zm4 1zm-10 2zm2 1zm-2 1zm13 0zm-16 1zm11 0zm-6 1zm1 0zm2 1zm-4 2zm2-31zm-1 2zm7 3zm4 3zm-12 4zm10 0zm2 1zm-10 1zm7 0zm-9-35zm-5 3zm8 7zm-7-25zm12-35zm0-75zm-9 10zm17-29zm12 18zm-6 48zm-6 18zm1 5zm13 42zm-9 10zm9 6zm-17 2zm5 0zm9 5zm-8 6zm1 9zm-5 3zm-2 9zm8 1zm4 0zm5 0zm-8 2zm1 0zm-8 1zm12 0zm3 3zm-7 1zm-8 5zm7 0zm5 0zm-12 1zm11 0zm-9 1zm4 0zm1 0zm4 0zm-3 4zm-9 2zm5 0zm1 0zm8 1zm-10 1zm10 0zm-12 2zm1 0zm7 1zm-6 1zm0 0zm2 0zm-7 1zm11 0zm4 0zm1 0zm-14 1zm6 0zm9 0zm-13 1zm4 0zm5 0zm1 0zm-12 1zm1 0zm1 1zm2 0zm-6 1zm0 0zm5 0zm4 0zm5 0zm-12 1zm-1 1zm12 0zm-8 1zm3 0zm2 0zm1 0zm-6 1zm2 0zm10 0zm-5 1zm-10 1zm3 0zm4 0zm7 0zm-7 1zm5 0zm-7 1zm2 0zm0 1zm1 0zm-10 1zm2 0zm4 0zm2 0zm2 0zm-5 1zm6 0zm4 0zm-9 1zm4 0zm1 0zm-11 1zm3 0zm14 0zm-17 1zm0 0zm1 0zm4 0zm0 0zm2 0zm4 0zm2 0zm0 0zm-11 1zm0 0zm7 0zm2 0zm6 0zm-15 1zm3 0zm4 0zm1 1zm2 0zm-12 1zm0 0zm8 0zm-5 1zm5 0zm1 0zm3 0zm1 0zm-10 1zm2 0zm3 0zm0 0zm-7 1zm3 0zm3 0zm2 0zm8 0zm-10 1zm2 0zm2 0zm3 0zm-4 1zm1 0zm2 0zm-6 1zm0 0zm2 0zm5 0zm-12 1zm1 0zm4 0zm1 0zm0 0zm5 0zm2 0zm-14 1zm2 0zm3 0zm7 0zm-8 1zm3 0zm6 0zm1 0zm-15 1zm1 0zm2 0zm3 0zm4 0zm-6 1zm9 0zm1 0zm-14 1zm6 0zm1 0zm3 0zm0 0zm3 0zm4 0zm-9 1zm2 0zm0 0zm1 0zm4 0zm-15 1zm1 0zm1 0zm6 0zm0 0zm1 0zm3 0zm2 0zm3 0zm-17 1zm1 0zm8 0zm5 0zm-14 1zm1 0zm2 0zm3 0zm1 0zm4 0zm3 0zm0 0zm0 0zm2 0zm0 0zm1 0zm-16 1zm1 0zm1 0zm1 0zm0 0zm1 0zm3 0zm1 0zm1 0zm2 0zm0 0zm1 0zm2 0zm-15 1zm3 0zm3 0zm0 0zm1 0zm2 0zm1 0zm3 0zm1 0zm1 0zm1 0zm1 0zm-15 1zm0 0zm1 0zm1 0zm3 0zm2 0zm0 0zm2 0zm3 0zm2 0zm1 0zm-17 1zm1 0zm3 0zm0 0zm0 0zm2 0zm2 0zm3 0zm0 0zm0 0zm2 0zm0 0zm-12 1zm8 0zm0 0zm3 0zm2 0zm2 0zm-15 1zm0 0zm2 0zm2 0zm0 0zm0 0zm1 0zm1 0zm0 0zm1 0zm0 0zm3 0zm1 0zm-12 1zm1 0zm0 0zm2 0zm0 0zm1 0zm1 0zm1 0zm0 0zm2 0zm1 0zm-9 1zm0 0zm3 0zm5 0zm1 0zm0 0zm1 0zm1 0zm2 0zm0 0zm3 0zm-15 1zm1 0zm2 0zm3 0zm1 0zm1 0zm7 0zm-16 1zm1 0zm0 0zm1 0zm1 0zm5 0zm3 0zm1 0zm4 0zm1 0zm0 0zm-17 1zm4 0zm0 0zm2 0zm2 0zm4 0zm2 0zm3 0zm-17 1zm0 0zm1 0zm3 0zm0 0zm2 0zm6 0zm1 0zm1 0zm0 0zm0 0zm1 0zm-15 1zm1 0zm1 0zm3 0zm0 0zm0 0zm4 0zm3 0zm2 0zm-14 1zm2 0zm0 0zm2 0zm1 0zm6 0zm4 0zm0 0zm2 0zm0 0zm-16 1zm1 0zm2 0zm0 0zm1 0zm0 0zm1 0zm3 0zm2 0zm1 0zm5 0zm-15 1zm2 0zm2 0zm0 0zm4 0zm1 0zm0 0zm1 0zm1 0zm1 0zm2 0zm-15 1zm2 0zm0 0zm2 0zm3 0zm0 0zm2 0zm3 0zm1 0zm1 0zm0 0zm-11 1zm0 0zm4 0zm4 0zm2 0zm1 0zm2 0zm-17 1zm2 0zm0 0zm0 0zm1 0zm0 0zm1 0zm1 0zm0 0zm4 0zm0 0zm2 0zm0 0zm4 0zm2 0zm-16 1zm2 0zm1 0zm0 0zm4 0zm2 0zm0 0zm4 0zm1 0zm0 0zm0 0zm-15 1zm1 0zm3 0zm0 0zm0 0zm1 0zm1 0zm0 0zm1 0zm0 0zm0 0zm1 0zm2 0zm2 0zm3 0zm0 0zm-13 1zm4 0zm0 0zm1 0zm0 0zm3 0zm4 0zm2 0zm1 0zm0 0zm0 0zm0 0zm-16 1zm2 0zm2 0zm2 0zm1 0zm0 0zm0 0zm0 0zm1 0zm1 0zm1 0zm1 0zm0 0zm1 0zm2 0zm2 0zm-17 1zm1 0zm0 0zm1 0zm1 0zm0 0zm1 0zm4 0zm1 0zm0 0zm1 0zm1 0zm0 0zm1 0zm0 0zm0 0zm1 0zm0 0zm1 0zm1 0zm-15 1zm3 0zm4 0zm0 0zm1 0zm1 0zm3 0zm4 0zm-16 1zm0 0zm1 0zm0 0zm4 0zm1 0zm1 0zm1 0zm1 0zm1 0zm1 0zm1 0zm0 0zm2 0zm-14 1zm1 0zm0 0zm2 0zm1 0zm0 0zm5 0zm0 0zm2 0zm0 0zm0 0zm0 0zm2 0zm3 0zm1 0zm0 0zm-15 1zm0 0zm0 0zm1 0zm5 0zm0 0zm2 0zm0 0zm2 0zm0 0zm1 0zm1 0zm2 0zm1 0zm-15 1zm0 0zm1 0zm1 0zm1 0zm3 0zm1 0zm0 0zm2 0zm0 0zm1 0zm0 0zm3 0zm0 0zm2 0zm-17 1zm2 0zm3 0zm1 0zm2 0zm0 0zm0 0zm3 0zm2 0zm0 0zm0 0zm1 0zm3 0zm-15 1zm1 0zm1 0zm1 0zm0 0zm2 0zm1 0zm0 0zm2 0zm0 0zm1 0zm0 0zm1 0zm3 0zm1 0zm1 0zm-14 1zm1 0zm0 0zm0 0zm1 0zm1 0zm1 0zm1 0zm4 0zm1 0zm0 0zm2 0zm1 0zm1 0zm-17 1zm2 0zm0 0zm4 0zm4 0zm2 0zm-12 1zm0 0zm0 0zm0 0zm1 0zm0 0zm2 0zm3 0zm2 0zm0 0zm1 0zm0 0zm4 0zm0 0zm1 0zm1 0zm-13 1zm1 0zm1 0zm1 0zm0 0zm3 0zm0 0zm2 0zm2 0zm2 0zm2 0zm-16 1zm2 0zm0 0zm2 0zm1 0zm0 0zm0 0zm2 0zm1 0zm0 0zm3 0zm1 0zm1 0zm3 0zm1 0zm-17 1zm1 0zm3 0zm2 0zm1 0zm1 0zm1 0zm4 0zm3 0zm1 0zm-17 1zm0 0zm1 0zm2 0zm0 0zm1 0zm0 0zm1 0zm6 0zm1 0zm1 0zm4 0zm-16 1zm0 0zm0 0zm2 0zm0 0zm0 0zm3 0zm1 0zm0 0zm1 0zm4 0zm-12 1zm1 0zm0 0zm3 0zm0 0zm0 0zm0 0zm5 0zm2 0zm0 0zm1 0zm1 0zm1 0zm1 0zm1 0zm0 0zm0 0zm1 0zm0 0zm0 0zm-17 1zm0 0zm2 0zm1 0zm1 0zm0 0zm1 0zm1 0zm1 0zm1 0zm1 0zm2 0zm2 0zm2 0zm2 0zm0 0zm-16 1zm0 0zm2 0zm0 0zm2 0zm2 0zm6 0zm2 0zm0 0zm-15 1zm0 0zm0 0zm6 0zm1 0zm0 0zm0 0zm3 0zm2 0zm2 0zm-13 1zm3 0zm0 0zm1 0zm7 0zm1 0zm2 0zm1 0zm0 0zm-12 1zm0 0zm3 0zm0 0zm2 0zm1 0zm0 0zm0 0zm1 0zm1 0zm2 0zm1 0zm0 0zm2 0zm-15 1zm0 0zm0 0zm1 0zm2 0zm3 0zm3 0zm6 0zm-16 1zm4 0zm1 0zm0 0zm2 0zm1 0zm0 0zm0 0zm1 0zm0 0zm0 0zm1 0zm1 0zm1 0zm0 0zm1 0zm1 0zm2 0zm0 0zm-16 1zm0 0zm0 0zm3 0zm1 0zm1 0zm4 0zm1 0zm1 0zm0 0zm1 0zm1 0zm0 0zm2 0zm1 0zm0 0zm0 0zm-17 1zm0 0zm1 0zm0 0zm0 0zm5 0zm0 0zm2 0zm2 0zm1 0zm3 0zm0 0zm1 0zm0 0zm0 0zm1 0zm-15 1zm2 0zm0 0zm1 0zm2 0zm2 0zm3 0zm2 0zm1 0zm1 0zm1 0zm1 0zm0 0zm-13 1zm0 0zm1 0zm0 0zm2 0zm1 0zm0 0zm0 0zm3 0zm2 0zm2 0zm1 0zm-15 1zm3 0zm1 0zm2 0zm1 0zm0 0zm2 0zm0 0zm1 0zm1 0zm4 0zm0 0zm-16 1zm1 0zm3 0zm0 0zm4 0zm2 0zm1 0zm1 0zm1 0zm1 0zm1 0zm2 0zm-14 1zm1 0zm1 0zm0 0zm1 0zm2 0zm0 0zm2 0zm0 0zm2 0zm0 0zm5 0zm0 0zm-17 1zm0 0zm7 0zm2 0zm1 0zm1 0zm2 0zm1 0zm0 0zm0 0zm2 0zm1 0zm-15 1zm0 0zm2 0zm3 0zm2 0zm1 0zm4 0zm0 0zm1 0zm-12 1zm1 0zm3 0zm3 0zm2 0zm0 0zm0 0zm-9 1zm0 0zm2 0zm0 0zm5 0zm1 0zm2 0zm2 0zm1 0zm1 0zm-17 1zm2 0zm1 0zm4 0zm2 0zm2 0zm2 0zm1 0zm0 0zm1 0zm1 0zm-16 1zm1 0zm3 0zm0 0zm4 0zm1 0zm0 0zm2 0zm2 0zm0 0zm1 0zm2 0zm0 0zm1 0zm-15 1zm1 0zm3 0zm1 0zm4 0zm5 0zm1 0zm0 0zm-17 1zm4 0zm1 0zm1 0zm7 0zm1 0zm2 0zm-15 1zm1 0zm1 0zm5 0zm0 0zm0 0zm1 0zm-6 1zm0 0zm1 0zm1 0zm2 0zm3 0zm2 0zm3 0zm2 0zm-16 1zm3 0zm2 0zm1 0zm5 0zm1 0zm1 1zm3 0zm-17 1zm1 0zm2 0zm1 0zm0 0zm1 0zm1 0zm8 0zm2 0zm0 0zm1 0zm-16 1zm6 0zm6 0zm-6 1zm2 0zm6 0zm1 0zm-12 1zm6 0zm4 0zm-5 1zm8 0zm0 0zm-4 1zm7-14zm4 0zm4 0zm1 0zm1 0zm0 0zm2 0zm2 0zm1 0zm0 0zm-17 1zm3 0zm1 0zm0 0zm1 0zm1 0zm1 0zm0 0zm1 0zm0 0zm0 0zm0 0zm4 0zm2 0zm0 0zm0 0zm0 0zm1 0zm2 0zm-17 1zm0 0zm0 0zm0 0zm7 0zm0 0zm1 0zm2 0zm7 0zm-17 1zm3 0zm8 0zm-11 1zm2 0zm1 0zm5 0zm1 0zm0 0zm1 0zm2 0zm2 0zm-12 1zm3 0zm1 0zm2 0zm0 0zm5 0zm-13 1zm4 0zm0 0zm0 0zm4 0zm2 0zm2 0zm1 0zm3 0zm-16 1zm1 0zm7 0zm2 0zm1 0zm0 0zm1 0zm0 0zm1 0zm1 0zm0 0zm1 0zm1 0zm-16 1zm3 0zm1 0zm6 0zm0 0zm2 0zm5 0zm-15 1zm11 0zm1 0zm1 0zm2 0zm-15 1zm3 0zm5 0zm-10 1zm7 0zm8 0zm-12 1zm3 0zm1 0zm0 0zm4 0zm-11 1zm8 0zm1 0zm2 0zm2 0zm-4 1zm-9-32zm2 0zm0 0zm0 0zm0 0zm1 0zm3 0zm1 0zm1 0zm0 0zm1 0zm0 0zm0 0zm2 0zm1 0zm0 0zm2 0zm1 0zm1 0zm-15 1zm0 0zm1 0zm3 0zm3 0zm0 0zm0 0zm1 0zm1 0zm1 0zm0 0zm0 0zm1 0zm2 0zm0 0zm0 0zm-13 1zm2 0zm2 0zm2 0zm1 0zm1 0zm1 0zm1 0zm1 0zm0 0zm0 0zm2 0zm1 0zm2 0zm0 0zm-17 1zm1 0zm0 0zm3 0zm2 0zm3 0zm0 0zm5 0zm2 0zm1 0zm0 0zm-17 1zm1 0zm1 0zm1 0zm1 0zm0 0zm1 0zm0 0zm0 0zm0 0zm1 0zm0 0zm0 0zm5 0zm2 0zm0 0zm1 0zm2 0zm1 0zm-17 1zm0 0zm0 0zm4 0zm1 0zm1 0zm1 0zm1 0zm2 0zm1 0zm1 0zm0 0zm1 0zm2 0zm2 0zm-15 1zm0 0zm0 0zm7 0zm1 0zm2 0zm1 0zm1 0zm3 0zm-17 1zm4 0zm0 0zm0 0zm0 0zm1 0zm0 0zm1 0zm0 0zm2 0zm1 0zm1 0zm0 0zm2 0zm0 0zm0 0zm1 0zm0 0zm2 0zm1 0zm1 0zm-17 1zm2 0zm1 0zm1 0zm0 0zm2 0zm2 0zm2 0zm1 0zm3 0zm1 0zm0 0zm1 0zm0 0zm-16 1zm0 0zm4 0zm4 0zm0 0zm4 0zm1 0zm0 0zm-12 1zm1 0zm1 0zm1 0zm3 0zm1 0zm0 0zm1 0zm0 0zm6 0zm2 0zm-17 1zm0 0zm2 0zm2 0zm2 0zm2 0zm0 0zm1 0zm0 0zm2 0zm1 0zm2 0zm0 0zm1 0zm2 0zm-17 1zm0 0zm2 0zm0 0zm1 0zm0 0zm1 0zm1 0zm0 0zm0 0zm4 0zm2 0zm1 0zm3 0zm0 0zm1 0zm1 0zm-16 1zm2 0zm0 0zm0 0zm2 0zm0 0zm1 0zm2 0zm0 0zm1 0zm0 0zm5 0zm2 0zm-16 1zm0 0zm2 0zm1 0zm2 0zm1 0zm1 0zm0 0zm4 0zm2 0zm1 0zm1 0zm-15 1zm1 0zm3 0zm2 0zm2 0zm0 0zm0 0zm1 0zm1 0zm2 0zm1 0zm0 0zm0 0zm2 0zm1 0zm1 0zm0 0zm0 0zm-17 1zm2 0zm1 0zm2 0zm1 0zm3 0zm0 0zm1 0zm2 0zm1 0zm1 0zm1 0zm2 0zm0 0zm-12 1zm3 0zm3 0zm0 0zm3 0zm-12-35zm0 0zm0 0zm2 0zm2 0zm0 0zm6 0zm2 0zm2 0zm1 0zm0 0zm-17 1zm2 0zm1 0zm1 0zm2 0zm2 0zm0 0zm1 0zm2 0zm1 0zm-8 1zm0 0zm2 0zm3 0zm8 0zm-15 1zm3 0zm3 0zm0 0zm2 0zm2 0zm1 0zm0 0zm-13 1zm3 0zm2 0zm3 0zm1 0zm3 0zm0 0zm0 0zm1 0zm1 0zm1 0zm2 0zm0 0zm0 0zm-16 1zm3 0zm0 0zm1 0zm1 0zm2 0zm0 0zm2 0zm1 0zm1 0zm-10 1zm1 0zm2 0zm0 0zm0 0zm4 0zm0 0zm4 0zm0 0zm-13 1zm1 0zm1 0zm0 0zm3 0zm1 0zm0 0zm1 0zm7 0zm1 0zm0 0zm1 0zm0 0zm-16 1zm1 0zm2 0zm2 0zm3 0zm1 0zm1 0zm2 0zm1 0zm1 0zm1 0zm1 0zm1 0zm-15 1zm3 0zm2 0zm0 0zm1 0zm2 0zm1 0zm0 0zm1 0zm0 0zm1 0zm1 0zm0 0zm1 0zm-15 1zm2 0zm0 0zm1 0zm0 0zm1 0zm1 0zm0 0zm2 0zm3 0zm2 0zm0 0zm0 0zm0 0zm2 0zm0 0zm1 0zm1 0zm0 0zm-14 1zm6 0zm0 0zm1 0zm1 0zm0 0zm4 0zm1 0zm1 0zm1 0zm-17 1zm0 0zm6 0zm0 0zm1 0zm2 0zm1 0zm3 0zm0 0zm0 0zm1 0zm3 0zm0 0zm0 0zm-17 1zm0 0zm1 0zm4 0zm1 0zm0 0zm1 0zm1 0zm0 0zm2 0zm2 0zm2 0zm1 0zm0 0zm1 0zm-16 1zm0 0zm1 0zm1 0zm0 0zm1 0zm1 0zm0 0zm1 0zm4 0zm3 0zm0 0zm0 0zm0 0zm1 0zm1 0zm0 0zm1 0zm0 0zm1 0zm1 0zm-17 1zm0 0zm1 0zm1 0zm1 0zm1 0zm2 0zm2 0zm9 0zm-17 1zm2 0zm0 0zm1 0zm2 0zm0 0zm1 0zm0 0zm3 0zm1 0zm7 0zm-17 1zm0 0zm1 0zm0 0zm2 0zm0 0zm3 0zm1 0zm1 0zm0 0zm2 0zm1 0zm2 0zm1 0zm1 0zm1 0zm-14-35zm7 0zm4 0zm0 0zm1 0zm2 0zm0 0zm-15 1zm0 0zm4 0zm1 0zm1 0zm2 0zm2 0zm0 0zm1 0zm2 0zm2 0zm-16 1zm1 0zm2 0zm2 0zm0 0zm6 0zm3 0zm3 0zm-17 1zm2 0zm1 0zm9 0zm2 0zm-12 1zm6 0zm2 0zm1 0zm4 0zm1 0zm-16 1zm2 0zm2 0zm2 0zm5 0zm1 0zm4 0zm-16 1zm3 0zm0 0zm0 0zm1 0zm2 0zm0 0zm1 0zm2 0zm4 0zm1 0zm1 0zm-11 1zm2 0zm4 0zm0 0zm3 0zm0 0zm0 0zm2 0zm2 0zm-16 1zm0 0zm1 0zm1 0zm2 0zm0 0zm1 0zm0 0zm2 0zm3 0zm0 0zm1 0zm3 0zm2 0zm0 0zm0 0zm-16 1zm1 0zm3 0zm6 0zm2 0zm-13 1zm2 0zm2 0zm1 0zm2 0zm0 0zm1 0zm1 0zm1 0zm0 0zm3 0zm1 0zm-14 1zm2 0zm2 0zm2 0zm0 0zm7 0zm2 0zm2 0zm-17 1zm2 0zm1 0zm1 0zm3 0zm1 0zm1 0zm0 0zm2 0zm2 0zm0 0zm2 0zm-15 1zm7 0zm3 0zm0 0zm1 0zm0 0zm2 0zm0 0zm1 0zm3 0zm-15 1zm2 0zm1 0zm1 0zm0 0zm1 0zm2 0zm0 0zm2 0zm5 0zm1 0zm-15 1zm4 0zm1 0zm0 0zm1 0zm3 0zm0 0zm0 0zm3 0zm0 0zm1 0zm0 0zm-14 1zm0 0zm4 0zm1 0zm5 0zm0 0zm1 0zm0 0zm5 0zm-17 1zm1 0zm1 0zm1 0zm1 0zm1 0zm1 0zm0 0zm0 0zm1 0zm1 0zm2 0zm0 0zm1 0zm2 0zm1 0zm0 0zm1 0zm0 0zm-15-35zm9 0zm6 0zm-12 1zm4 0zm6 0zm2 0zm-3 1zm-12 1zm10 0zm3 0zm3 0zm-16 1zm1 0zm13 0zm-13 1zm0 0zm8 0zm1 0zm2 0zm-4 1zm6 0zm-14 1zm2 0zm7 0zm-6 1zm2 0zm2 0zm0 0zm1 0zm8 0zm-16 1zm1 0zm5 0zm6 0zm-12 1zm1 0zm6 0zm0 0zm3 0zm4 0zm3 0zm-17 1zm3 0zm11 0zm1 0zm2 0zm-15 1zm0 0zm2 0zm3 0zm0 0zm2 0zm4 0zm1 0zm-14 1zm2 0zm0 0zm3 0zm1 0zm5 0zm-10 1zm2 0zm4 0zm0 0zm6 0zm-12 1zm1 0zm1 0zm2 0zm2 0zm3 0zm6 0zm0 0zm-14 1zm0 0zm7 0zm0 0zm4 0zm1 0zm-11 1zm0 0zm4 0zm2 0zm0 0zm3 0zm2 0zm0 0zm-14-35zm16 0zm0 0zm-3 1zm-10 1zm10 1zm-1 1zm4 0zm-16 2zm10 0zm5 0zm-15 1zm2 0zm4 0zm1 0zm1 0zm6 0zm-12 1zm7 0zm4 0zm3 0zm-16 1zm0 0zm3 0zm1 0zm4 0zm3 0zm1 0zm-11 1zm7 1zm4 0zm3 0zm-14 1zm2 0zm0 0zm10 1zm4 0zm-17 1zm12 0zm3 0zm-10 1zm1 0zm9 0zm-15 1zm7 0zm2 0zm3 0zm1 0zm-7 1zm1 0zm4 0zm4 0zm-13-32zm-2 2zm11 0zm-9 1zm1 0zm5 0zm6 0zm-3 3zm3 0zm-8 2zm-1 3zm5 0zm-7 1zm3 0zm0 0zm7 0zm-7 1zm-3 1zm9 0zm-12-35zm13 0zm-9 1zm5 3zm-6 5zm3 3zm9 0zm-12 2zm0 1zm10-33zm-10 5zm-1 7zm4-21zm-6 1zm30-211zm-1 54zm0 32zm6 16zm0 55zm-4 20zm-11 4zm9 25zm-9 5zm-2 19zm6 2zm8 0zm-9 6zm1 7zm8 2zm-12 5zm-2 3zm6 0zm10 7zm-13 2zm0 2zm1 0zm0 0zm-3 3zm7 0zm1 0zm-3 1zm4 0zm-9 1zm0 1zm8 0zm-3 1zm9 0zm-11 2zm-2 3zm1 0zm4 0zm4 0zm-6 1zm4 0zm-8 2zm8 0zm-9 1zm6 0zm-2 1zm3 0zm7 0zm-11 1zm2 1zm-2 2zm1 0zm6 0zm-3 1zm3 0zm0 0zm6 0zm-12 1zm1 0zm1 0zm5 0zm-10 1zm7 0zm3 0zm0 0zm3 0zm2 0zm-3 1zm-12 1zm15 0zm-7 1zm6 1zm-14 1zm11 0zm3 0zm0 0zm-15 1zm3 0zm1 0zm1 0zm3 0zm4 0zm2 0zm-9 1zm2 0zm2 0zm2 0zm3 0zm0 0zm1 0zm1 0zm-5 1zm0 0zm3 0zm2 0zm0 0zm-11 1zm3 0zm3 0zm-10 1zm3 0zm1 0zm7 0zm1 0zm4 0zm-13 1zm0 0zm1 0zm9 0zm3 0zm-16 1zm4 0zm1 0zm10 0zm-16 1zm5 0zm1 0zm2 0zm1 0zm-6 1zm0 0zm2 0zm4 0zm6 0zm-14 1zm2 0zm0 0zm1 0zm0 0zm1 0zm0 0zm1 0zm1 0zm8 0zm2 0zm0 0zm-17 1zm10 0zm3 0zm-11 1zm3 0zm4 0zm4 0zm1 0zm-12 1zm0 0zm1 0zm3 0zm4 0zm1 0zm4 0zm0 0zm0 0zm2 0zm-13 1zm2 0zm0 0zm2 0zm2 0zm2 0zm4 0zm-16 1zm0 0zm4 0zm0 0zm1 0zm-5 1zm0 0zm5 0zm2 0zm0 0zm1 0zm1 0zm2 0zm1 0zm5 0zm-16 1zm0 0zm2 0zm2 0zm6 0zm-11 1zm12 0zm5 0zm0 0zm-17 1zm2 0zm1 0zm9 0zm3 0zm0 0zm-9 1zm2 0zm5 0zm1 0zm2 0zm-16 1zm2 0zm0 0zm3 0zm0 0zm1 0zm4 0zm3 0zm1 0zm1 0zm0 0zm-3 1zm2 0zm1 0zm-14 1zm0 0zm2 0zm3 0zm0 0zm1 0zm4 0zm0 0zm2 0zm-13 1zm1 0zm0 0zm0 0zm3 0zm3 0zm3 0zm2 0zm0 0zm1 0zm2 0zm1 0zm-16 1zm0 0zm2 0zm1 0zm2 0zm5 0zm3 0zm3 0zm1 0zm-15 1zm1 0zm1 0zm2 0zm3 0zm0 0zm1 0zm1 0zm1 0zm0 0zm-12 1zm0 0zm3 0zm0 0zm1 0zm2 0zm0 0zm1 0zm3 0zm2 0zm5 0zm-17 1zm0 0zm2 0zm1 0zm1 0zm4 0zm3 0zm1 0zm0 0zm2 0zm1 0zm0 0zm0 0zm1 0zm0 0zm1 0zm0 0zm-17 1zm2 0zm2 0zm1 0zm5 0zm1 0zm1 0zm1 0zm3 0zm-16 1zm0 0zm2 0zm0 0zm1 0zm4 0zm1 0zm0 0zm1 0zm2 0zm1 0zm2 0zm2 0zm1 0zm0 0zm-17 1zm2 0zm1 0zm0 0zm1 0zm1 0zm1 0zm0 0zm1 0zm1 0zm3 0zm2 0zm3 0zm1 0zm0 0zm-15 1zm0 0zm2 0zm0 0zm0 0zm1 0zm2 0zm1 0zm0 0zm2 0zm1 0zm4 0zm-15 1zm1 0zm2 0zm0 0zm1 0zm2 0zm1 0zm0 0zm0 0zm1 0zm2 0zm1 0zm3 0zm1 0zm0 0zm2 0zm0 0zm-15 1zm4 0zm2 0zm0 0zm2 0zm2 0zm1 0zm1 0zm2 0zm-16 1zm1 0zm1 0zm1 0zm1 0zm1 0zm2 0zm2 0zm1 0zm0 0zm1 0zm1 0zm3 0zm0 0zm1 0zm1 0zm-15 1zm2 0zm2 0zm2 0zm3 0zm2 0zm2 0zm-15 1zm0 0zm2 0zm3 0zm1 0zm4 0zm1 0zm1 0zm1 0zm0 0zm3 0zm0 0zm0 0zm0 0zm-11 1zm2 0zm2 0zm1 0zm3 0zm2 0zm2 0zm-17 1zm0 0zm1 0zm3 0zm1 0zm3 0zm1 0zm0 0zm2 0zm1 0zm1 0zm2 0zm2 0zm-17 1zm0 0zm2 0zm1 0zm0 0zm1 0zm3 0zm2 0zm2 0zm3 0zm3 0zm0 0zm-16 1zm1 0zm0 0zm1 0zm0 0zm1 0zm3 0zm2 0zm4 0zm3 0zm1 0zm-16 1zm0 0zm1 0zm2 0zm0 0zm3 0zm1 0zm1 0zm1 0zm1 0zm2 0zm0 0zm1 0zm2 0zm-14 1zm2 0zm2 0zm1 0zm0 0zm0 0zm2 0zm1 0zm3 0zm1 0zm1 0zm1 0zm-16 1zm1 0zm0 0zm0 0zm3 0zm2 0zm3 0zm0 0zm2 0zm1 0zm0 0zm3 0zm0 0zm1 0zm1 0zm-17 1zm3 0zm0 0zm4 0zm0 0zm1 0zm1 0zm2 0zm1 0zm1 0zm1 0zm1 0zm0 0zm0 0zm1 0zm0 0zm-16 1zm5 0zm0 0zm0 0zm0 0zm0 0zm1 0zm1 0zm2 0zm4 0zm2 0zm0 0zm1 0zm-15 1zm0 0zm0 0zm4 0zm1 0zm9 0zm1 0zm1 0zm-17 1zm0 0zm2 0zm0 0zm2 0zm2 0zm0 0zm1 0zm2 0zm5 0zm2 0zm1 0zm-17 1zm4 0zm6 0zm0 0zm1 0zm2 0zm-12 1zm0 0zm1 0zm1 0zm1 0zm1 0zm0 0zm5 0zm4 0zm1 0zm0 0zm-14 1zm1 0zm0 0zm1 0zm1 0zm0 0zm1 0zm0 0zm1 0zm0 0zm1 0zm2 0zm1 0zm0 0zm0 0zm2 0zm1 0zm0 0zm0 0zm3 0zm1 0zm-17 1zm1 0zm1 0zm1 0zm4 0zm4 0zm3 0zm1 0zm0 0zm-15 1zm0 0zm1 0zm2 0zm3 0zm8 0zm1 0zm-15 1zm1 0zm0 0zm2 0zm0 0zm2 0zm2 0zm0 0zm1 0zm0 0zm2 0zm0 0zm2 0zm1 0zm3 0zm0 0zm0 0zm1 0zm-17 1zm0 0zm1 0zm2 0zm2 0zm4 0zm2 0zm3 0zm0 0zm1 0zm2 0zm-17 1zm5 0zm0 0zm0 0zm3 0zm2 0zm0 0zm1 0zm1 0zm2 0zm0 0zm3 0zm0 0zm-15 1zm2 0zm0 0zm1 0zm0 0zm1 0zm0 0zm1 0zm1 0zm1 0zm3 0zm1 0zm0 0zm2 0zm0 0zm0 0zm1 0zm-15 1zm1 0zm0 0zm2 0zm1 0zm0 0zm1 0zm0 0zm2 0zm1 0zm2 0zm1 0zm1 0zm0 0zm0 0zm1 0zm1 0zm0 0zm1 0zm-14 1zm1 0zm4 0zm1 0zm3 0zm1 0zm-12 1zm1 0zm1 0zm2 0zm1 0zm1 0zm1 0zm0 0zm1 0zm0 0zm1 0zm1 0zm1 0zm3 0zm0 0zm1 0zm-15 1zm1 0zm1 0zm0 0zm0 0zm2 0zm0 0zm4 0zm0 0zm1 0zm3 0zm0 0zm1 0zm3 0zm1 0zm0 0zm0 0zm-16 1zm2 0zm2 0zm1 0zm0 0zm1 0zm0 0zm0 0zm0 0zm1 0zm1 0zm1 0zm0 0zm2 0zm2 0zm0 0zm1 0zm-14 1zm0 0zm5 0zm0 0zm2 0zm2 0zm2 0zm1 0zm0 0zm0 0zm2 0zm1 0zm-16 1zm1 0zm0 0zm2 0zm0 0zm4 0zm1 0zm0 0zm1 0zm1 0zm0 0zm3 0zm1 0zm1 0zm1 0zm-16 1zm3 0zm0 0zm2 0zm0 0zm0 0zm4 0zm2 0zm1 0zm2 0zm0 0zm2 0zm-16 1zm0 0zm1 0zm0 0zm2 0zm1 0zm0 0zm0 0zm0 0zm0 0zm1 0zm4 0zm0 0zm4 0zm1 0zm1 0zm1 0zm0 0zm-15 1zm1 0zm2 0zm1 0zm1 0zm4 0zm0 0zm0 0zm1 0zm0 0zm4 0zm0 0zm1 0zm-16 1zm5 0zm3 0zm0 0zm1 0zm1 0zm2 0zm1 0zm1 0zm-14 1zm0 0zm5 0zm0 0zm0 0zm1 0zm7 0zm3 0zm1 0zm-17 1zm4 0zm1 0zm1 0zm7 0zm0 0zm1 0zm2 0zm0 0zm-13 1zm2 0zm0 0zm3 0zm2 0zm0 0zm4 0zm1 0zm-14 1zm4 0zm1 0zm1 0zm7 0zm0 0zm0 0zm-14 1zm1 0zm2 0zm1 0zm1 0zm2 0zm3 0zm1 0zm5 0zm1 0zm-17 1zm4 0zm6 0zm4 0zm-14 1zm1 0zm5 0zm1 0zm2 0zm1 0zm1 0zm2 0zm4 0zm-17 1zm1 0zm1 0zm2 0zm3 0zm0 0zm3 0zm1 0zm0 0zm2 0zm1 0zm3 0zm-9 1zm1 0zm3 0zm1 0zm-12 1zm2 0zm2 0zm4 0zm1 0zm3 0zm2 0zm0 0zm-11 1zm7 0zm-1 1zm3 0zm3 0zm-15 1zm6 0zm4 1zm5 0zm3-14zm0 0zm2 0zm1 0zm2 0zm1 0zm0 0zm4 0zm0 0zm3 0zm0 0zm-13 1zm4 0zm1 0zm1 0zm3 0zm1 0zm0 0zm0 0zm3 0zm1 0zm-15 1zm3 0zm1 0zm0 0zm3 0zm0 0zm0 0zm0 0zm2 0zm1 0zm2 0zm0 0zm0 0zm2 0zm1 0zm2 0zm-15 1zm1 0zm1 0zm3 0zm2 0zm1 0zm3 0zm1 0zm0 0zm-14 1zm1 0zm1 0zm9 0zm0 0zm2 0zm1 0zm-14 1zm1 0zm1 0zm3 0zm3 0zm5 0zm2 0zm-12 1zm2 0zm0 0zm3 0zm3 0zm1 0zm-12 1zm3 0zm11 0zm1 0zm-15 1zm1 0zm0 0zm1 0zm1 0zm0 0zm5 0zm5 0zm4 0zm-15 1zm4 0zm0 0zm3 0zm1 0zm3 0zm1 0zm2 0zm1 0zm-16 1zm5 0zm4 0zm1 0zm-2 1zm1 0zm0 0zm2 0zm1 0zm1 0zm2 0zm-16 1zm6 0zm5 0zm3 0zm3 0zm0 1zm-17-31zm3 0zm2 0zm0 0zm0 0zm2 0zm0 0zm1 0zm1 0zm0 0zm0 0zm1 0zm6 0zm1 0zm-17 1zm1 0zm0 0zm3 0zm0 0zm1 0zm0 0zm1 0zm0 0zm0 0zm1 0zm1 0zm1 0zm1 0zm1 0zm0 0zm-9 1zm3 0zm1 0zm0 0zm2 0zm0 0zm0 0zm6 0zm1 0zm-15 1zm5 0zm2 0zm3 0zm1 0zm4 0zm0 0zm-13 1zm0 0zm1 0zm0 0zm3 0zm0 0zm1 0zm0 0zm2 0zm0 0zm0 0zm1 0zm1 0zm2 0zm4 0zm-16 1zm1 0zm1 0zm0 0zm2 0zm1 0zm0 0zm0 0zm0 0zm1 0zm0 0zm1 0zm1 0zm3 0zm2 0zm2 0zm1 0zm-17 1zm2 0zm4 0zm0 0zm4 0zm1 0zm2 0zm2 0zm0 0zm1 0zm1 0zm-17 1zm0 0zm2 0zm1 0zm0 0zm3 0zm2 0zm0 0zm2 0zm7 0zm-14 1zm0 0zm0 0zm1 0zm0 0zm4 0zm2 0zm2 0zm1 0zm0 0zm2 0zm0 0zm1 0zm0 0zm-13 1zm1 0zm1 0zm0 0zm2 0zm1 0zm0 0zm1 0zm1 0zm1 0zm1 0zm0 0zm1 0zm0 0zm0 0zm0 0zm1 0zm0 0zm0 0zm1 0zm-15 1zm1 0zm0 0zm1 0zm1 0zm2 0zm1 0zm0 0zm2 0zm2 0zm1 0zm3 0zm0 0zm1 0zm0 0zm1 0zm-16 1zm0 0zm2 0zm2 0zm1 0zm0 0zm0 0zm2 0zm0 0zm1 0zm0 0zm1 0zm4 0zm1 0zm0 0zm0 0zm3 0zm-16 1zm0 0zm2 0zm1 0zm3 0zm0 0zm1 0zm4 0zm1 0zm0 0zm2 0zm1 0zm0 0zm-16 1zm0 0zm2 0zm3 0zm2 0zm0 0zm2 0zm3 0zm3 0zm2 0zm-16 1zm0 0zm0 0zm2 0zm1 0zm3 0zm1 0zm2 0zm0 0zm3 0zm0 0zm1 0zm-13 1zm3 0zm5 0zm0 0zm4 0zm2 0zm0 0zm1 0zm0 0zm-12 1zm1 0zm1 0zm1 0zm1 0zm1 0zm5 0zm1 0zm0 0zm1 0zm-15 1zm1 0zm4 0zm4 0zm1 0zm1 0zm2 0zm2 0zm-15-35zm1 0zm1 0zm0 0zm0 0zm1 0zm1 0zm1 0zm1 0zm0 0zm4 0zm1 0zm1 0zm0 0zm1 0zm1 0zm1 0zm-15 1zm16 0zm0 0zm-15 1zm2 0zm2 0zm1 0zm3 0zm0 0zm1 0zm3 0zm-13 1zm0 0zm3 0zm0 0zm6 0zm1 0zm6 0zm-17 1zm0 0zm1 0zm1 0zm0 0zm1 0zm3 0zm3 0zm2 0zm5 0zm-16 1zm0 0zm1 0zm0 0zm1 0zm11 0zm1 0zm3 0zm-17 1zm1 0zm1 0zm1 0zm0 0zm6 0zm2 0zm1 0zm1 0zm0 0zm1 0zm1 0zm2 0zm-17 1zm2 0zm2 0zm1 0zm2 0zm1 0zm0 0zm0 0zm2 0zm1 0zm3 0zm0 0zm-14 1zm0 0zm0 0zm5 0zm0 0zm3 0zm1 0zm0 0zm4 0zm0 0zm2 0zm-15 1zm2 0zm1 0zm1 0zm9 0zm0 0zm1 0zm0 0zm1 0zm0 0zm1 0zm0 0zm1 0zm0 0zm-17 1zm0 0zm2 0zm1 0zm1 0zm0 0zm1 0zm6 0zm1 0zm4 0zm1 0zm0 0zm-16 1zm4 0zm0 0zm0 0zm0 0zm2 0zm2 0zm4 0zm3 0zm1 0zm-17 1zm3 0zm0 0zm2 0zm5 0zm1 0zm1 0zm0 0zm1 0zm0 0zm1 0zm-13 1zm2 0zm0 0zm1 0zm2 0zm0 0zm1 0zm1 0zm1 0zm3 0zm5 0zm0 0zm-17 1zm0 0zm2 0zm0 0zm4 0zm1 0zm0 0zm0 0zm3 0zm0 0zm1 0zm1 0zm1 0zm0 0zm-12 1zm2 0zm3 0zm0 0zm0 0zm3 0zm1 0zm7 0zm-17 1zm3 0zm3 0zm2 0zm0 0zm1 0zm0 0zm2 0zm1 0zm0 0zm1 0zm0 0zm2 0zm2 0zm0 0zm-16 1zm1 0zm1 0zm2 0zm0 0zm1 0zm0 0zm0 0zm1 0zm0 0zm1 0zm0 0zm0 0zm1 0zm0 0zm1 0zm1 0zm1 0zm0 0zm0 0zm1 0zm2 0zm-14-35zm3 0zm0 0zm2 0zm1 0zm6 0zm-10 1zm5 0zm3 0zm4 0zm-15 1zm0 0zm5 0zm0 0zm4 0zm0 0zm1 0zm6 0zm-16 1zm7 0zm1 0zm1 0zm5 0zm0 0zm2 0zm1 0zm-9 1zm0 0zm1 0zm3 0zm3 0zm0 0zm0 0zm-14 1zm2 0zm1 0zm2 0zm0 0zm2 0zm1 0zm4 0zm1 0zm-13 2zm2 0zm1 0zm1 0zm1 0zm1 0zm0 0zm3 0zm2 0zm2 0zm-12 1zm2 0zm1 0zm4 0zm0 0zm2 0zm3 0zm1 0zm-8 1zm1 0zm2 0zm-5 1zm4 0zm6 0zm-15 1zm1 0zm2 0zm2 0zm0 0zm2 0zm1 0zm1 0zm2 0zm-11 1zm0 0zm1 0zm7 0zm1 0zm2 0zm1 0zm5 0zm-16 1zm0 0zm3 0zm1 0zm6 0zm1 0zm0 0zm3 0zm-14 1zm0 0zm1 0zm2 0zm4 0zm0 0zm1 0zm1 0zm7 0zm-13 1zm0 0zm3 0zm1 0zm1 0zm1 0zm1 0zm0 0zm1 0zm2 0zm1 0zm-15 1zm3 0zm4 0zm1 0zm4 0zm3 0zm2 0zm-15 1zm3 0zm1 0zm1 0zm1 0zm6 0zm2 0zm1 0zm0 0zm-14-35zm2 0zm-4 1zm1 0zm4 0zm6 0zm3 0zm-1 2zm2 0zm-7 1zm-9 1zm8 0zm3 0zm1 0zm1 0zm1 0zm-6 1zm5 0zm0 0zm-12 1zm12 0zm-2 1zm2 0zm2 0zm-7 1zm2 0zm2 0zm-8 1zm2 0zm0 0zm5 0zm0 0zm1 0zm4 0zm-14 1zm0 0zm5 0zm1 0zm2 0zm0 0zm6 0zm-14 1zm2 0zm5 0zm1 0zm7 0zm-17 1zm9 0zm1 0zm-8 1zm0 0zm6 0zm0 0zm1 0zm7 0zm-13 1zm0 0zm0 0zm6 0zm-9 1zm9 0zm1 0zm1 0zm1 0zm-12 1zm1 0zm2 0zm3 0zm5 0zm2 0zm1 0zm3 0zm0 0zm-12-35zm4 2zm-8 1zm10 1zm-7 1zm4 0zm-7 1zm6 0zm5 0zm2 0zm-14 1zm8 0zm6 1zm-4 1zm1 0zm1 0zm0 0zm-12 1zm7 1zm-3 1zm10 0zm-12 1zm7 0zm6 1zm-13 1zm1 0zm10 0zm0 0zm-12 1zm7 0zm2 0zm2 1zm5 0zm-4-35zm-7 1zm-6 14zm4 0zm11 0zm2 0zm-16 2zm13-29zm-6 3zm2 2zm-5 4zm-1 1zm9 0zm-11-21zm10-33zm23-82zm-16 10zm-1 51zm17 8zm-7 41zm-2 5zm9 9zm-8 19zm-6 1zm-3 4zm4 0zm12 0zm1 0zm-7 12zm5 3zm1 0zm-13 1zm4 1zm1 1zm4 0zm4 1zm-14 2zm9 0zm-6 1zm3 0zm9 0zm-5 1zm0 0zm1 0zm-1 1zm-2 1zm4 0zm0 0zm-12 1zm4 0zm7 0zm-8 1zm4 0zm-7 2zm-2 2zm4 0zm4 0zm2 0zm-6 1zm6 0zm0 0zm-9 1zm13 0zm-14 1zm0 0zm0 0zm2 0zm6 0zm2 0zm-3 1zm-1 1zm4 0zm1 0zm2 0zm-8 1zm6 0zm-3 1zm0 1zm-6 1zm1 0zm2 0zm3 0zm-5 1zm1 0zm7 0zm-5 1zm2 0zm6 0zm-11 1zm2 0zm0 0zm1 0zm1 0zm5 0zm0 0zm2 0zm3 0zm0 0zm-11 1zm8 0zm3 0zm-13 1zm3 0zm0 0zm5 0zm-9 1zm6 0zm3 0zm1 0zm2 0zm0 0zm0 0zm-9 1zm5 0zm0 0zm3 0zm-12 1zm1 0zm0 0zm2 0zm3 0zm3 0zm2 0zm-13 1zm3 0zm1 0zm1 0zm1 0zm10 0zm-16 1zm1 0zm4 0zm3 0zm9 0zm-17 1zm3 0zm5 0zm1 0zm3 0zm-11 1zm3 0zm3 0zm-3 1zm3 0zm4 0zm1 0zm3 0zm0 0zm1 0zm-12 1zm0 0zm3 0zm0 0zm0 0zm1 0zm3 0zm2 0zm1 0zm3 0zm-16 1zm0 0zm1 0zm3 0zm2 0zm0 0zm2 0zm4 0zm2 0zm0 0zm-15 1zm1 0zm3 0zm1 0zm2 0zm2 0zm0 0zm2 0zm5 0zm1 0zm-16 1zm3 0zm0 0zm4 0zm-6 1zm1 0zm0 0zm3 0zm0 0zm0 0zm2 0zm1 0zm2 0zm4 0zm0 0zm-15 1zm1 0zm3 0zm0 0zm5 0zm3 0zm5 0zm-14 1zm4 0zm2 0zm2 0zm2 0zm1 0zm2 0zm-16 1zm4 0zm4 0zm0 0zm5 0zm4 0zm-16 1zm2 0zm1 0zm1 0zm2 0zm0 0zm2 0zm4 0zm0 0zm-13 1zm6 0zm2 0zm0 0zm0 0zm2 0zm3 0zm1 0zm-14 1zm0 0zm1 0zm1 0zm2 0zm1 0zm1 0zm2 0zm1 0zm0 0zm0 0zm8 0zm-17 1zm2 0zm4 0zm2 0zm1 0zm2 0zm0 0zm3 0zm0 0zm0 0zm1 0zm2 0zm-17 1zm1 0zm1 0zm0 0zm1 0zm0 0zm2 0zm1 0zm2 0zm0 0zm0 0zm3 0zm1 0zm1 0zm0 0zm2 0zm-14 1zm1 0zm1 0zm2 0zm2 0zm0 0zm0 0zm1 0zm3 0zm1 0zm0 0zm1 0zm0 0zm1 0zm1 0zm1 0zm0 0zm1 0zm-12 1zm0 0zm1 0zm1 0zm2 0zm1 0zm1 0zm3 0zm0 0zm0 0zm-12 1zm2 0zm1 0zm0 0zm3 0zm8 0zm-15 1zm1 0zm1 0zm1 0zm0 0zm4 0zm1 0zm0 0zm-8 1zm0 0zm1 0zm1 0zm3 0zm1 0zm0 0zm0 0zm2 0zm3 0zm0 0zm5 0zm0 0zm0 0zm-17 1zm3 0zm0 0zm1 0zm3 0zm1 0zm4 0zm0 0zm1 0zm1 0zm1 0zm0 0zm0 0zm0 0zm1 0zm1 0zm0 0zm-17 1zm0 0zm2 0zm2 0zm1 0zm3 0zm0 0zm0 0zm1 0zm2 0zm4 0zm1 0zm1 0zm0 0zm0 0zm-12 1zm2 0zm1 0zm4 0zm-12 1zm1 0zm1 0zm2 0zm0 0zm2 0zm1 0zm0 0zm2 0zm1 0zm1 0zm1 0zm0 0zm1 0zm1 0zm1 0zm1 0zm0 0zm0 0zm0 0zm-14 1zm2 0zm0 0zm0 0zm5 0zm0 0zm1 0zm0 0zm3 0zm0 0zm1 0zm2 0zm1 0zm-16 1zm1 0zm1 0zm2 0zm0 0zm0 0zm1 0zm4 0zm0 0zm1 0zm0 0zm0 0zm1 0zm2 0zm1 0zm0 0zm2 0zm-15 1zm2 0zm0 0zm0 0zm2 0zm1 0zm3 0zm0 0zm4 0zm-14 1zm1 0zm0 0zm1 0zm3 0zm9 0zm1 0zm1 0zm1 0zm-15 1zm2 0zm0 0zm0 0zm1 0zm2 0zm1 0zm2 0zm1 0zm2 0zm1 0zm0 0zm2 0zm0 0zm0 0zm0 0zm1 0zm-17 1zm2 0zm1 0zm1 0zm0 0zm3 0zm2 0zm2 0zm0 0zm5 0zm1 0zm0 0zm0 0zm-17 1zm1 0zm0 0zm0 0zm1 0zm0 0zm1 0zm3 0zm0 0zm0 0zm2 0zm0 0zm1 0zm3 0zm1 0zm1 0zm1 0zm2 0zm-17 1zm0 0zm0 0zm0 0zm0 0zm0 0zm0 0zm3 0zm1 0zm1 0zm2 0zm3 0zm5 0zm1 0zm-16 1zm3 0zm0 0zm1 0zm1 0zm0 0zm1 0zm1 0zm2 0zm1 0zm3 0zm1 0zm2 0zm0 0zm0 0zm0 0zm1 0zm-15 1zm0 0zm0 0zm3 0zm1 0zm2 0zm0 0zm1 0zm1 0zm1 0zm1 0zm1 0zm2 0zm0 0zm1 0zm1 0zm-16 1zm1 0zm2 0zm2 0zm2 0zm0 0zm0 0zm4 0zm1 0zm1 0zm1 0zm-15 1zm1 0zm3 0zm1 0zm3 0zm1 0zm2 0zm1 0zm4 0zm0 0zm1 0zm-17 1zm0 0zm1 0zm0 0zm3 0zm1 0zm0 0zm0 0zm1 0zm1 0zm0 0zm8 0zm0 0zm-15 1zm1 0zm2 0zm3 0zm0 0zm1 0zm4 0zm0 0zm1 0zm1 0zm3 0zm0 0zm1 0zm-16 1zm0 0zm0 0zm0 0zm4 0zm1 0zm0 0zm3 0zm1 0zm1 0zm0 0zm1 0zm5 0zm0 0zm-16 1zm0 0zm3 0zm1 0zm1 0zm2 0zm1 0zm2 0zm1 0zm1 0zm1 0zm3 0zm-17 1zm1 0zm3 0zm0 0zm0 0zm1 0zm0 0zm3 0zm1 0zm1 0zm3 0zm0 0zm2 0zm0 0zm2 0zm0 0zm-12 1zm1 0zm0 0zm0 0zm1 0zm2 0zm2 0zm0 0zm1 0zm0 0zm1 0zm0 0zm1 0zm2 0zm-16 1zm1 0zm0 0zm1 0zm1 0zm2 0zm2 0zm2 0zm1 0zm2 0zm-12 1zm2 0zm5 0zm1 0zm2 0zm0 0zm2 0zm0 0zm0 0zm-12 1zm1 0zm1 0zm2 0zm1 0zm1 0zm1 0zm2 0zm2 0zm1 0zm1 0zm1 0zm0 0zm0 0zm1 0zm0 0zm1 0zm1 0zm-17 1zm0 0zm5 0zm0 0zm5 0zm0 0zm3 0zm1 0zm2 0zm-16 1zm1 0zm0 0zm2 0zm1 0zm0 0zm5 0zm5 0zm-10 1zm3 0zm0 0zm2 0zm1 0zm2 0zm0 0zm2 0zm0 0zm-13 1zm0 0zm0 0zm1 0zm0 0zm1 0zm4 0zm7 0zm3 0zm-16 1zm2 0zm0 0zm1 0zm0 0zm1 0zm1 0zm2 0zm1 0zm2 0zm1 0zm1 0zm0 0zm1 0zm0 0zm1 0zm0 0zm0 0zm1 0zm-16 1zm1 0zm1 0zm1 0zm2 0zm4 0zm1 0zm0 0zm0 0zm0 0zm1 0zm2 0zm-11 1zm1 0zm2 0zm1 0zm1 0zm0 0zm0 0zm0 0zm2 0zm5 0zm3 0zm-17 1zm3 0zm0 0zm1 0zm3 0zm0 0zm1 0zm1 0zm0 0zm0 0zm3 0zm0 0zm3 0zm1 0zm1 0zm-17 1zm1 0zm0 0zm1 0zm1 0zm3 0zm1 0zm4 0zm2 0zm2 0zm1 0zm-16 1zm5 0zm0 0zm2 0zm2 0zm2 0zm1 0zm5 0zm0 0zm-9 1zm0 0zm2 0zm2 0zm2 0zm1 0zm0 0zm-15 1zm9 0zm0 0zm6 0zm-15 1zm2 0zm4 0zm1 0zm4 0zm0 0zm5 0zm-6 1zm3 0zm4 0zm-9 1zm3 0zm2 0zm-9 1zm1 0zm10 0zm5-14zm5 0zm2 0zm2 0zm5 0zm-13 1zm0 0zm0 0zm1 0zm1 0zm1 0zm0 0zm1 0zm0 0zm3 0zm2 0zm1 0zm3 0zm1 0zm-13 1zm0 0zm1 0zm1 0zm1 0zm0 0zm1 0zm0 0zm4 0zm0 0zm1 0zm0 0zm1 0zm1 0zm-15 1zm1 0zm1 0zm2 0zm7 0zm3 0zm2 0zm0 0zm0 0zm-15 1zm4 0zm1 0zm2 0zm0 0zm1 0zm3 0zm-10 1zm4 0zm1 0zm7 0zm0 0zm1 0zm0 0zm-15 1zm7 0zm1 0zm0 0zm2 0zm1 0zm2 0zm2 0zm1 0zm-14 1zm0 0zm1 0zm2 0zm2 0zm1 0zm6 0zm2 0zm0 0zm-15 1zm2 0zm3 0zm2 0zm3 0zm3 0zm1 0zm2 0zm-16 1zm3 0zm0 0zm1 0zm3 0zm4 0zm-9 1zm9 0zm3 0zm1 0zm-10 1zm0 0zm0 0zm7 0zm1 0zm2 0zm-9 1zm6 0zm-1 1zm-8 1zm-4-32zm5 0zm3 0zm1 0zm1 0zm2 0zm0 0zm1 0zm1 0zm3 0zm-17 1zm2 0zm1 0zm0 0zm1 0zm2 0zm0 0zm4 0zm2 0zm3 0zm0 0zm1 0zm-12 1zm1 0zm1 0zm2 0zm1 0zm1 0zm5 0zm1 0zm1 0zm0 0zm-16 1zm0 0zm5 0zm0 0zm0 0zm3 0zm1 0zm3 0zm4 0zm-17 1zm1 0zm0 0zm1 0zm0 0zm1 0zm2 0zm1 0zm4 0zm2 0zm1 0zm2 0zm0 0zm-15 1zm1 0zm2 0zm1 0zm1 0zm0 0zm0 0zm1 0zm4 0zm5 0zm0 0zm-14 1zm4 0zm1 0zm1 0zm0 0zm5 0zm0 0zm1 0zm1 0zm2 0zm1 0zm0 0zm-17 1zm1 0zm1 0zm1 0zm1 0zm1 0zm1 0zm0 0zm6 0zm1 0zm0 0zm3 0zm-16 1zm1 0zm4 0zm5 0zm1 0zm0 0zm1 0zm4 0zm-16 1zm3 0zm0 0zm2 0zm0 0zm2 0zm1 0zm0 0zm4 0zm4 0zm1 0zm-17 1zm1 0zm1 0zm2 0zm5 0zm1 0zm1 0zm4 0zm2 0zm-15 1zm0 0zm1 0zm0 0zm0 0zm1 0zm1 0zm1 0zm4 0zm1 0zm1 0zm0 0zm2 0zm2 0zm1 0zm-16 1zm4 0zm1 0zm0 0zm2 0zm2 0zm0 0zm2 0zm1 0zm0 0zm1 0zm2 0zm-8 1zm0 0zm0 0zm1 0zm1 0zm0 0zm0 0zm3 0zm2 0zm0 0zm-15 1zm4 0zm0 0zm1 0zm1 0zm1 0zm1 0zm0 0zm2 0zm1 0zm0 0zm0 0zm1 0zm1 0zm2 0zm2 0zm-17 1zm0 0zm0 0zm1 0zm2 0zm1 0zm3 0zm2 0zm1 0zm0 0zm2 0zm5 0zm-16 1zm3 0zm1 0zm0 0zm2 0zm0 0zm5 0zm0 0zm2 0zm0 0zm1 0zm2 0zm-15 1zm0 0zm1 0zm3 0zm0 0zm2 0zm1 0zm4 0zm1 0zm1 0zm-13-35zm0 0zm3 0zm2 0zm3 0zm2 0zm2 0zm0 0zm3 0zm-13 1zm1 0zm0 0zm2 0zm1 0zm0 0zm2 0zm1 0zm2 0zm0 0zm0 0zm0 0zm-12 1zm4 0zm3 0zm0 0zm6 0zm2 0zm1 0zm-8 1zm1 0zm1 0zm2 0zm2 0zm1 0zm-16 1zm1 0zm2 0zm0 0zm1 0zm1 0zm0 0zm1 0zm2 0zm0 0zm2 0zm1 0zm-3 1zm1 0zm1 0zm0 0zm2 0zm1 0zm1 0zm2 0zm1 0zm-12 1zm2 0zm3 0zm3 0zm1 0zm3 0zm-15 1zm1 0zm0 0zm4 0zm10 0zm-16 1zm0 0zm2 0zm0 0zm3 0zm1 0zm1 0zm1 0zm0 0zm1 0zm1 0zm1 0zm1 0zm1 0zm-13 1zm2 0zm1 0zm2 0zm5 0zm2 0zm1 0zm2 0zm0 0zm-16 1zm0 0zm7 0zm3 0zm2 0zm2 0zm0 0zm-13 1zm0 0zm12 0zm-13 1zm0 0zm0 0zm1 0zm3 0zm0 0zm2 0zm0 0zm2 0zm5 0zm1 0zm1 0zm0 0zm-15 1zm0 0zm3 0zm2 0zm3 0zm0 0zm1 0zm1 0zm1 0zm0 0zm1 0zm3 0zm-9 1zm1 0zm2 0zm0 0zm1 0zm1 0zm1 0zm1 0zm0 0zm3 0zm0 0zm0 0zm-16 1zm0 0zm1 0zm1 0zm3 0zm2 0zm8 0zm1 0zm1 0zm-17 1zm1 0zm5 0zm6 0zm2 0zm-14 1zm1 0zm0 0zm1 0zm1 0zm2 0zm3 0zm1 0zm1 0zm2 0zm1 0zm1 0zm-14-35zm7 0zm1 0zm4 0zm-10 1zm13 0zm-15 1zm0 0zm1 0zm6 0zm6 0zm-6 1zm2 0zm1 0zm3 0zm2 0zm2 1zm-12 1zm1 0zm6 0zm2 0zm-14 1zm1 0zm9 0zm5 0zm0 0zm-15 1zm3 0zm1 0zm2 0zm1 0zm7 0zm1 0zm-8 1zm0 0zm6 0zm-12 1zm4 0zm3 0zm4 0zm3 0zm-14 1zm1 0zm1 0zm3 0zm5 0zm3 0zm0 0zm1 0zm-10 1zm4 0zm0 0zm2 0zm2 0zm0 0zm2 0zm0 0zm-15 1zm7 0zm-7 1zm7 0zm5 0zm5 0zm-15 1zm0 0zm3 0zm5 0zm7 0zm-16 1zm3 0zm1 0zm4 0zm1 0zm1 0zm0 0zm4 0zm-11 1zm3 0zm3 0zm4 0zm2 0zm0 0zm-15 1zm0 0zm0 0zm2 0zm7 0zm1 0zm5 0zm1 0zm0-35zm-3 1zm1 0zm-9 1zm2 1zm-1 3zm1 1zm3 0zm-10 1zm1 0zm5 0zm0 0zm0 0zm7 0zm-13 1zm16 0zm-2 1zm-11 1zm2 0zm-2 1zm10 0zm1 0zm-15 1zm3 1zm10 1zm-13 1zm17 0zm-13 1zm2 0zm1 0zm7 0zm-8-35zm11 6zm-2 2zm-12 1zm2 5zm12 0zm-8 1zm-8 1zm14 0zm1-18zm-4 1zm1 0zm-7-71zm0 13zm4 1zm-2-23zm8-44zm-11-77zm22 124zm8 12zm-5 2zm-7 15zm6 8zm-11 19zm7 4zm-4 6zm6 21zm3 3zm4 0zm-6 4zm-1 3zm3 0zm-2 3zm0 0zm-7 1zm4 1zm-1 2zm1 0zm5 0zm-2 3zm-6 1zm0 0zm3 0zm4 1zm6 0zm-16 1zm5 1zm2 0zm-2 1zm10 1zm-6 1zm2 0zm0 0zm5 0zm-17 1zm0 0zm1 0zm7 0zm3 0zm1 0zm-12 1zm13 0zm-7 1zm-1 1zm3 0zm-8 1zm16 0zm-16 1zm2 0zm3 0zm1 0zm-3 1zm2 0zm0 0zm4 0zm3 0zm4 0zm-14 1zm8 0zm-9 1zm1 0zm5 0zm3 0zm2 0zm2 0zm1 0zm-15 1zm8 1zm1 0zm-3 1zm-2 1zm4 0zm1 0zm7 0zm-4 1zm3 0zm-15 1zm3 0zm2 0zm5 0zm-4 1zm0 0zm11 0zm-17 1zm1 0zm4 0zm0 0zm1 0zm5 0zm0 0zm-10 1zm3 0zm6 0zm3 0zm-11 1zm0 0zm4 0zm1 0zm1 0zm2 0zm4 0zm-9 1zm2 0zm2 0zm0 0zm2 0zm1 0zm0 0zm2 0zm-13 1zm1 0zm5 0zm5 0zm1 0zm0 0zm4 0zm-15 1zm1 0zm1 0zm5 0zm1 0zm-8 1zm14 0zm-14 1zm1 0zm7 0zm3 0zm-1 1zm0 0zm1 0zm1 0zm-14 1zm1 0zm16 0zm-16 1zm8 0zm-9 1zm0 0zm1 0zm2 0zm0 0zm2 0zm5 0zm1 0zm3 0zm0 0zm2 0zm-11 1zm5 0zm1 0zm0 0zm2 0zm0 0zm3 0zm1 0zm0 0zm-15 1zm2 0zm2 0zm0 0zm1 0zm1 0zm2 0zm1 0zm1 0zm0 0zm3 0zm2 0zm0 0zm-17 1zm2 0zm6 0zm3 0zm0 0zm5 0zm-15 1zm3 0zm2 0zm0 0zm6 0zm1 0zm-13 1zm1 0zm1 0zm2 0zm4 0zm1 0zm4 0zm1 0zm-11 1zm1 0zm2 0zm3 0zm4 0zm-13 1zm0 0zm1 0zm0 0zm5 0zm0 0zm4 0zm0 0zm5 0zm1 0zm0 0zm-13 1zm4 0zm5 0zm0 0zm-11 1zm0 0zm7 0zm1 0zm1 0zm2 0zm0 0zm2 0zm0 0zm1 0zm0 0zm1 0zm-16 1zm4 0zm0 0zm4 0zm0 0zm1 0zm1 0zm6 0zm-15 1zm4 0zm0 0zm1 0zm2 0zm0 0zm4 0zm3 0zm2 0zm0 0zm-16 1zm0 0zm0 0zm3 0zm2 0zm1 0zm0 0zm1 0zm0 0zm4 0zm1 0zm0 0zm2 0zm1 0zm-14 1zm1 0zm0 0zm3 0zm0 0zm2 0zm0 0zm3 0zm1 0zm5 0zm-17 1zm0 0zm1 0zm0 0zm1 0zm4 0zm7 0zm2 0zm1 0zm0 0zm1 0zm-14 1zm0 0zm1 0zm0 0zm3 0zm0 0zm4 0zm3 0zm1 0zm1 0zm-16 1zm1 0zm0 0zm0 0zm1 0zm1 0zm7 0zm3 0zm1 0zm1 0zm2 0zm-14 1zm1 0zm1 0zm1 0zm1 0zm3 0zm2 0zm1 0zm0 0zm1 0zm0 0zm3 0zm-17 1zm0 0zm2 0zm0 0zm6 0zm1 0zm4 0zm2 0zm1 0zm0 0zm-11 1zm1 0zm1 0zm0 0zm0 0zm2 0zm0 0zm1 0zm0 0zm1 0zm1 0zm1 0zm1 0zm-14 1zm3 0zm2 0zm1 0zm1 0zm2 0zm4 0zm-7 1zm1 0zm3 0zm1 0zm0 0zm5 0zm-16 1zm2 0zm7 0zm1 0zm2 0zm2 0zm-14 1zm3 0zm0 0zm2 0zm1 0zm1 0zm0 0zm0 0zm0 0zm3 0zm1 0zm2 0zm2 0zm1 0zm-15 1zm0 0zm1 0zm0 0zm1 0zm0 0zm1 0zm1 0zm3 0zm0 0zm1 0zm0 0zm0 0zm1 0zm2 0zm5 0zm-15 1zm1 0zm2 0zm3 0zm1 0zm4 0zm0 0zm1 0zm0 0zm-13 1zm0 0zm1 0zm3 0zm2 0zm1 0zm3 0zm1 0zm5 0zm-16 1zm1 0zm5 0zm1 0zm6 0zm1 0zm1 0zm-12 1zm0 0zm1 0zm2 0zm0 0zm1 0zm0 0zm0 0zm1 0zm0 0zm1 0zm-9 1zm6 0zm1 0zm2 0zm0 0zm1 0zm0 0zm3 0zm3 0zm0 0zm-17 1zm4 0zm1 0zm1 0zm2 0zm4 0zm3 0zm-14 1zm3 0zm1 0zm1 0zm1 0zm4 0zm0 0zm2 0zm-10 1zm1 0zm2 0zm2 0zm2 0zm1 0zm0 0zm2 0zm1 0zm1 0zm2 0zm-17 1zm2 0zm1 0zm11 0zm1 0zm-9 1zm0 0zm4 0zm2 0zm1 0zm2 0zm1 0zm-9 1zm9 0zm-15 1zm8 0zm4 0zm-11 1zm4 0zm1 0zm4 0zm2 0zm-11 1zm4 0zm3 0zm2 0zm3 0zm-9 1zm9 0zm-6 1zm10-14zm8 0zm1 0zm0 0zm0 0zm-8 1zm5 0zm1 0zm4 0zm0 0zm5 0zm-16 1zm0 0zm1 0zm1 0zm4 0zm0 0zm0 0zm1 0zm1 0zm1 0zm5 0zm1 0zm0 0zm-15 1zm0 0zm2 0zm1 0zm6 0zm6 0zm0 0zm-13 1zm0 0zm1 0zm3 0zm2 0zm1 0zm1 0zm1 0zm-7 1zm5 0zm1 0zm2 0zm0 0zm3 0zm-15 1zm3 0zm1 0zm7 0zm-11 1zm5 0zm2 0zm5 0zm3 0zm0 0zm-14 1zm1 0zm3 0zm5 0zm2 0zm2 0zm0 0zm0 0zm1 0zm1 0zm-15 1zm1 0zm9 0zm5 0zm1 0zm0 0zm-15 1zm1 0zm0 0zm7 0zm0 0zm3 0zm2 0zm-10 1zm12 0zm-16 1zm8 0zm0 0zm-7 1zm3 0zm11 0zm-16-31zm0 0zm3 0zm0 0zm1 0zm1 0zm0 0zm4 0zm0 0zm2 0zm4 0zm1 0zm-16 1zm0 0zm3 0zm5 0zm3 0zm0 0zm0 0zm2 0zm0 0zm2 0zm-14 1zm5 0zm0 0zm4 0zm3 0zm-12 1zm1 0zm3 0zm2 0zm0 0zm1 0zm0 0zm1 0zm3 0zm4 0zm1 0zm-17 1zm0 0zm3 0zm2 0zm2 0zm1 0zm3 0zm1 0zm1 0zm-13 1zm2 0zm1 0zm7 0zm3 0zm1 0zm1 0zm0 0zm1 0zm1 0zm-13 1zm7 0zm4 0zm-15 1zm1 0zm0 0zm0 0zm0 0zm1 0zm6 0zm1 0zm3 0zm4 0zm-11 1zm0 0zm0 0zm0 0zm1 0zm0 0zm3 0zm8 0zm-17 1zm3 0zm0 0zm1 0zm12 0zm-13 1zm1 0zm0 0zm3 0zm2 0zm2 0zm3 0zm0 0zm-13 1zm1 0zm0 0zm3 0zm1 0zm0 0zm4 0zm1 0zm6 0zm-16 1zm1 0zm1 0zm3 0zm0 0zm0 0zm8 0zm1 0zm0 0zm-15 1zm6 0zm8 0zm-14 1zm1 0zm1 0zm1 0zm5 0zm3 0zm1 0zm1 0zm2 0zm-14 1zm0 0zm2 0zm1 0zm2 0zm-5 1zm5 0zm2 0zm1 0zm3 0zm1 0zm1 0zm0 0zm1 0zm0 0zm-14 1zm1 0zm1 0zm0 0zm1 0zm1 0zm4 0zm0 0zm2 0zm2 0zm4 0zm-14-35zm1 0zm1 0zm4 0zm1 1zm1 0zm0 0zm3 0zm-7 1zm10 0zm-17 1zm4 0zm1 0zm12 0zm-10 1zm4 0zm2 0zm2 0zm0 0zm-12 1zm4 0zm6 0zm3 0zm-11 1zm9 0zm-10 1zm6 0zm1 0zm5 0zm-11 1zm3 0zm9 0zm0 0zm-16 1zm2 0zm4 0zm5 0zm-10 1zm4 0zm6 0zm2 0zm-14 1zm7 0zm1 0zm1 0zm5 0zm-14 1zm1 0zm5 0zm4 0zm0 0zm4 0zm2 0zm-16 1zm2 0zm1 0zm1 0zm0 0zm0 0zm1 0zm1 0zm2 0zm6 0zm-13 1zm0 0zm3 0zm4 0zm1 0zm5 0zm-9 1zm1 0zm1 0zm2 0zm2 0zm1 0zm2 0zm0 0zm-14 1zm1 0zm2 0zm2 0zm1 0zm2 0zm6 0zm-11 1zm0 0zm2 0zm2 0zm2 0zm4 0zm1 0zm0 0zm-11-34zm-1 1zm-1 1zm11 0zm1 0zm-8 1zm-3 1zm3 1zm8 0zm4 0zm-14 1zm13 0zm-16 1zm2 0zm2 0zm6 0zm3 0zm1 0zm-13 1zm5 0zm4 0zm7 0zm0 0zm-13 1zm-2 1zm7 0zm8 1zm-13 1zm6 0zm7 0zm-17 1zm1 0zm8 0zm-4 1zm4 0zm7 0zm-13 1zm7 0zm1 0zm-10 1zm1 0zm6 0zm5 0zm1 0zm-13-34zm11 0zm3 1zm-12 2zm7 2zm7 2zm-7 1zm-4 1zm-1 2zm-5 1zm7 0zm3 0zm1 0zm-4 1zm-4-25zm10 5zm-7 2zm7 0zm-7 3zm0 0zm6-19zm-6-27zm-1 1zm-5 5zm2-23zm6 5zm4 4zm-10-29zm25-123zm-6 108zm9 18zm2 0zm-11 17zm12 30zm-14 9zm-1 18zm10 1zm-6 4zm-3 1zm13 1zm1 2zm-10 4zm-5 3zm2 0zm4 0zm9 0zm-12 1zm2 1zm2 0zm4 5zm1 1zm1 0zm-10 1zm0 1zm-2 1zm5 1zm-4 2zm0 1zm9 0zm-11 1zm7 0zm7 0zm1 1zm-15 1zm17 0zm-7 1zm4 0zm-2 1zm2 1zm-9 1zm6 0zm-10 1zm13 0zm-1 1zm0 2zm-11 1zm1 0zm-3 1zm4 0zm3 0zm-5 2zm1 0zm6 0zm4 0zm1 0zm1 0zm-10 1zm0 1zm1 0zm-6 1zm0 0zm9 0zm3 0zm1 0zm-2 1zm2 0zm-13 1zm0 0zm2 0zm2 0zm-2 1zm3 0zm-4 1zm2 0zm2 0zm2 0zm1 1zm-7 1zm11 0zm4 0zm-16 1zm4 0zm1 0zm2 0zm8 0zm0 0zm-12 1zm0 0zm5 0zm-2 1zm2 0zm4 0zm0 0zm0 0zm1 0zm1 0zm1 0zm2 0zm-15 1zm2 0zm1 0zm3 0zm0 0zm3 0zm-9 1zm0 0zm7 1zm0 0zm2 0zm0 0zm-11 1zm0 0zm2 0zm0 0zm2 0zm6 0zm4 0zm0 0zm-14 1zm0 0zm4 0zm2 0zm3 0zm1 0zm-4 1zm0 0zm1 0zm7 0zm2 0zm-15 1zm4 0zm1 0zm2 0zm6 0zm1 0zm-3 1zm4 0zm-8 1zm9 0zm-15 1zm2 0zm4 0zm3 0zm3 0zm0 0zm1 0zm-10 1zm2 0zm4 0zm3 0zm1 0zm-15 1zm2 0zm0 0zm2 0zm2 0zm9 0zm-11 1zm1 0zm1 0zm5 0zm6 0zm-17 1zm1 0zm0 0zm1 0zm0 0zm1 0zm6 0zm1 0zm0 0zm3 0zm-13 1zm7 0zm0 0zm6 0zm1 0zm-10 1zm1 0zm0 0zm1 0zm0 0zm2 0zm7 0zm-15 1zm11 0zm4 0zm1 0zm-16 1zm2 0zm1 0zm5 0zm1 0zm1 0zm-8 1zm4 0zm1 0zm4 0zm3 0zm-10 1zm9 0zm-10 1zm1 0zm2 0zm4 0zm1 0zm1 0zm1 0zm3 0zm-11 1zm0 0zm5 0zm1 0zm2 0zm0 0zm2 0zm1 0zm-13 1zm1 0zm4 0zm2 0zm3 1zm1 0zm-14 1zm4 0zm4 0zm-8 1zm3 0zm1 0zm1 0zm2 0zm1 0zm9 0zm-15 1zm9 0zm0 0zm-1 1zm1 0zm2 0zm0 1zm3 0zm1 0zm-11 1zm6 0zm1 0zm3 0zm-14 1zm5 1zm9 0zm1 0zm-16 1zm12 0zm2 0zm-8 1zm1 0zm7 0zm1 1zm5-14zm1 0zm4 0zm2 0zm2 0zm4 0zm-11 1zm2 0zm2 0zm1 0zm0 0zm-7 1zm1 0zm2 0zm7 0zm2 0zm-14 1zm5 0zm7 0zm2 0zm1 0zm-13 1zm2 0zm2 0zm5 0zm4 0zm-7 1zm3 0zm4 0zm0 0zm-5 1zm0 0zm1 0zm3 0zm-10 1zm2 0zm3 0zm2 0zm1 0zm-3 1zm5 0zm-2 1zm0 0zm-10 1zm1 0zm13 0zm-8 1zm-5 1zm4 0zm-4 1zm3 0zm7 0zm-14-31zm0 0zm0 0zm10 0zm7 0zm-6 1zm2 0zm-13 1zm6 0zm6 0zm3 0zm-12 1zm11 0zm-9 2zm4 0zm1 0zm0 1zm1 0zm1 0zm-11 1zm12 0zm1 1zm3 0zm-16 1zm7 0zm1 0zm1 0zm1 0zm4 0zm0 0zm-12 1zm9 0zm-8 1zm1 0zm1 0zm2 0zm1 0zm3 0zm0 0zm0 0zm2 0zm-14 1zm8 0zm4 0zm1 0zm1 0zm1 0zm2 0zm-17 1zm4 0zm7 0zm-10 1zm5 0zm4 0zm1 0zm-8 1zm4 0zm0 0zm7 0zm1 0zm-14 1zm0 0zm2 0zm7 0zm2 0zm2 0zm-12 1zm6 0zm0 0zm8 0zm-7-35zm5 0zm-10 1zm9 1zm-13 1zm2 0zm5 0zm10 1zm-1 1zm-16 1zm0 1zm1 0zm3 0zm1 0zm2 0zm6 0zm2 0zm-15 1zm9 0zm1 0zm-10 1zm4 0zm4 0zm2 1zm-3 1zm5 0zm3 0zm2 0zm-10 1zm1 0zm1 0zm5 0zm-8 1zm1 0zm2 0zm7 0zm-15 1zm4 1zm7 0zm3 0zm2 1zm-16 1zm13 0zm3 0zm-8-34zm1 3zm7 3zm-16 2zm9 2zm-8 1zm13 1zm-15 2zm3 0zm3 0zm-6 1zm4-27zm-3 10zm14 0zm-11-70zm4-17zm-5 2zm8-13zm-5-55zm16 65zm-4 93zm2 1zm8 1zm3 1zm-8 2zm1 0zm4 4zm2 3zm-8 3zm1 0zm-3 3zm2 0zm11 1zm-13 1zm12 0zm-2 3zm-8 1zm2 1zm4 0zm-2 1zm-8 1zm2 0zm14 0zm-16 1zm7 1zm10 0zm-11 2zm2 0zm2 0zm-10 1zm0 1zm5 0zm1 0zm0 0zm4 0zm5 0zm-15 1zm1 0zm8 0zm4 0zm4 0zm-16 2zm13 0zm-4 1zm0 0zm-2 1zm7 0zm-15 1zm0 0zm3 0zm7 0zm0 1zm6 0zm1 0zm-15 1zm2 0zm1 0zm0 0zm3 0zm7 0zm1 0zm-10 1zm0 0zm1 0zm2 0zm3 0zm2 0zm-7 1zm0 0zm5 0zm4 0zm-5 1zm1 0zm1 0zm-13 1zm0 0zm1 0zm4 0zm6 0zm0 0zm1 0zm1 0zm-12 1zm1 0zm5 1zm-7 1zm1 0zm0 0zm8 0zm1 0zm1 0zm5 0zm-14 1zm4 0zm2 0zm-3 1zm-4 1zm1 0zm3 0zm7 0zm0 0zm3 0zm-14 1zm2 0zm12 0zm-13 1zm5 0zm1 0zm0 0zm0 0zm5 0zm-7 1zm3 0zm2 0zm-10 1zm0 0zm5 0zm2 0zm1 0zm5 0zm0 0zm1 0zm-13 2zm7 0zm-4 2zm0 0zm10 0zm-8 1zm10 0zm-16 1zm13 0zm3 0zm-10 1zm6 0zm-6 1zm11-13zm6 1zm1 1zm-2 1zm3 0zm6 0zm0 1zm-11 1zm0 1zm-3 2zm11 0zm-9 1zm12 0zm3 0zm-13 1zm1 0zm3 0zm4 0zm2 0zm2 0zm-7 1zm5 1zm-5 1zm6 0zm-6-31zm0 1zm-3 1zm8 0zm-1 1zm-12 4zm9 0zm-8 1zm-1 1zm1 1zm10 0zm-1 1zm4 0zm-13 1zm0 2zm-1 1zm2 0zm4 0zm-7 1zm0 0zm1 0zm1 0zm2-28zm4 0zm-8 1zm3 5zm1 0zm4 0zm6 1zm-1 2zm-8 1zm9 0zm-10 1zm-1-31zm-3 8zm15 4zm-12-20zm0-51zm-1-51zm13-19zm-10-5zm0-46zm14 168zm0 23zm9 1zm-9 2zm16 1zm-12 3zm-5 3zm15 0zm0 2zm-10 1zm0 1zm4 0zm4 1zm-7 2zm11 2zm-10 4zm5 0zm3 0zm2 0zm-10 2zm-4 4zm0 3zm-2 2zm8 0zm-8 3zm6 1zm-5 1zm0 1zm-1 1zm4 1zm8 4zm-12 1zm6 4zm-1 1zm28-5zm-2 4zm-14-23zm12 1zm-12-12zm19 29z"/></g>
</g>
<g id="d15">
<path d="M54.7 292V517.85H336.7" fill="none" stroke="#0a0a0a" stroke-width="1.55" stroke-linejoin="round"/>
<path d="M54.7 517.7h3.3M54.7 495.19h3.3M54.7 472.68h3.3M54.7 450.17h3.3M54.7 427.66h3.3M54.7 405.15h3.3M54.7 382.64h3.3M54.7 360.13h3.3M54.7 337.62h3.3M54.7 315.11h3.3M54.7 292.6h3.3M101.6 517.7v-3.3M148.5 517.7v-3.3M195.4 517.7v-3.3M242.3 517.7v-3.3M289.2 517.7v-3.3M336.1 517.7v-3.3" fill="none" stroke="#0a0a0a" stroke-width="1.2"/>
<g class="tk" text-anchor="end">
<text x="44.9" y="520.8">0.0</text>
<text x="44.9" y="498.29">0.2</text>
<text x="44.9" y="475.78">0.4</text>
<text x="44.9" y="453.27">0.6</text>
<text x="44.9" y="430.76">0.8</text>
<text x="44.9" y="408.25">1.0</text>
<text x="44.9" y="385.74">1.2</text>
<text x="44.9" y="363.23">1.4</text>
<text x="44.9" y="340.72">1.6</text>
<text x="44.9" y="318.21">1.8</text>
<text x="44.9" y="295.7">2.0</text>
</g>
<g class="tk" text-anchor="middle">
<text x="54.7" y="535.3">0.1</text>
<text x="101.6" y="535.3">1</text>
<text x="148.5" y="535.3">10</text>
<text x="195.4" y="535.3">100</text>
<text x="242.3" y="535.3">1000</text>
<text x="289.2" y="535.3">10000</text>
<text x="336.1" y="535.3">100000</text>
</g>
<text class="tt" x="160.5" y="303.2" textLength="43.8" lengthAdjust="spacingAndGlyphs">Day 15</text>
<text class="xt" x="92" y="552.1" textLength="205.8" lengthAdjust="spacingAndGlyphs" xml:space="preserve">Normalized read numbers (x 10,000,000)</text>
<text class="yt" transform="translate(25.8 462.7) rotate(-90)" textLength="113.8" lengthAdjust="spacingAndGlyphs">coefficient of variation</text>
<g transform="scale(.5)"><path class="pt" d="M0 0m143 938zm0-33zm0 9zm-1-57zm-4 4zm3-53zm1-22zm-7-140zm17 0zm-6 181zm4 113zm3 21zm9-9zm2-51zm7-59zm-7-68zm9 10zm-11 3zm8-21zm-6-120zm16 0zm16 209zm-12 4zm9 10zm-7 1zm11 7zm-17 10zm6 4zm-6 33zm5 11zm9 1zm-13 16zm-1 1zm0 7zm2 9zm4 14zm-4 34zm26-4zm-7 3zm3-14zm-1 4zm11-24zm1-27zm-4 16zm1-32zm-2 5zm-8 6zm9-30zm4-18zm-17 14zm9-36zm15-32zm5 10zm-11 27zm0 9zm11 4zm1 2zm-10 2zm11 0zm-8 22zm7 12zm2 5zm1 12zm-11 20zm7 12zm-10 7zm11 4zm-2 23zm-9 2zm23-9zm9 3zm1 1zm-10 6zm9 0zm1 1zm-8-30zm0 0zm6 1zm3 1zm-13 3zm5 6zm5 0zm-7-29zm9 0zm-2 1zm-1 2zm-1 1zm3 0zm2 5zm-8 3zm5 0zm0 2zm-4-33zm2 2zm-2 4zm1 0zm0 1zm4 0zm2 0zm-6 3zm0 0zm0 0zm-5 1zm-4 1zm15 0zm-1 1zm-3-30zm3 4zm-5 4zm1 6zm4 0zm1 0zm-1-29zm-9 7zm5 0zm-2 1zm6 2zm-13-27zm9 8zm-5 2zm10-25zm-9 7zm7 0zm-6-29zm6-23zm-9 3zm-3-28zm6-84zm0 8zm3-11zm-2 2zm-1-38zm14-5zm11 44zm-11 60zm7 13zm4 1zm-6 24zm-10 1zm0 4zm4 2zm6 14zm0 4zm-1 11zm6 1zm-11 5zm9 12zm1 6zm-10 1zm7 1zm6 0zm-5 1zm-2 2zm-6 2zm12 1zm-14 2zm6 0zm4 2zm3 1zm1 1zm-15 1zm5 1zm5 5zm0 1zm1 0zm-8 3zm8 2zm-6 3zm4 0zm6 2zm-12 5zm12 0zm-16 1zm3 0zm11 0zm0 1zm3 0zm-15 1zm4 0zm10 0zm-10 3zm2 1zm-8 1zm11 2zm0 0zm5 0zm-11 2zm-5 1zm14 0zm-6 1zm8 0zm1 0zm-6 1zm0 1zm-11 1zm2 0zm11 1zm-8 1zm-4 1zm5 0zm-4 1zm3 0zm4 0zm2 0zm0 0zm2 0zm3 0zm-6 1zm0 0zm5 1zm1 0zm1 1zm-5 1zm0 0zm2 1zm2 0zm-7 1zm1 0zm0 0zm5 0zm-13 1zm5 0zm9 0zm-14 2zm0 0zm6 0zm3 0zm3 0zm1 0zm-10 1zm3 2zm6 0zm1 0zm-8 1zm2 0zm3 0zm1 0zm4 0zm-7 2zm5 0zm2 0zm-16 1zm2 0zm7 0zm1 0zm0 0zm1 0zm2 0zm3 0zm-4 2zm-10 1zm6 1zm6 0zm-2 1zm1 1zm0 0zm-5 1zm6 0zm-10 1zm11 0zm-2 2zm3 0zm-9 1zm6 0zm0 0zm-8 1zm0 0zm4 0zm6 0zm-13 1zm14 0zm-15 1zm2 0zm6 0zm3 0zm3 0zm-10 1zm10 0zm-3 1zm1 0zm2 1zm0 0zm-6 2zm6 0zm-14 1zm4 0zm10 0zm1 0zm-12 1zm5 0zm1 0zm-4 1zm0 0zm-1 1zm11 0zm-17 2zm5 0zm8 0zm2 0zm-4 1zm4 0zm2 1zm-11 1zm4 0zm4 0zm3 0zm-3 1zm3 0zm-5 1zm2 0zm1 0zm-14 1zm5 1zm10 0zm-14 1zm-1 1zm11 0zm2 0zm-7 1zm4 1zm0 0zm6 1zm-13 1zm12 0zm-7 1zm0 2zm3 0zm5 0zm-12 1zm3 0zm8 1zm-4 1zm5 0zm-2 1zm0 0zm-1 1zm0 0zm1 0zm-7 1zm8 1zm-14 1zm4 0zm4 1zm1 1zm3 0zm-5 2zm4 2zm2 4zm14-3zm-5 2zm10 0zm-5 1zm0 0zm2 1zm-7 2zm-1-24zm5 0zm2 0zm5 0zm-17 1zm3 0zm3 0zm-5 1zm1 0zm9 0zm0 0zm2 0zm3 0zm1 0zm-13 1zm2 0zm5 0zm5 0zm-8 1zm7 0zm2 0zm-15 1zm0 0zm2 0zm2 0zm3 0zm1 0zm0 1zm4 0zm3 0zm-12 1zm-1 1zm4 0zm2 0zm2 1zm1 0zm-10 3zm6 2zm8 0zm-1 1zm-16-33zm3 0zm5 0zm2 0zm6 0zm-16 1zm1 0zm16 0zm-9 1zm4 0zm4 1zm-9 1zm3 0zm1 0zm0 0zm0 1zm3 0zm0 0zm-10 1zm3 0zm4 0zm1 0zm3 0zm-14 1zm3 0zm2 0zm1 0zm3 0zm0 0zm4 0zm-14 1zm1 0zm12 0zm1 0zm2 0zm-1 1zm1 0zm-9 1zm3 0zm0 0zm1 0zm6 0zm-8 1zm2 0zm1 0zm3 0zm-15 1zm1 0zm2 0zm4 0zm3 0zm1 0zm3 0zm-12 1zm1 0zm9 0zm1 0zm-2 1zm-7 1zm4 0zm6 0zm0 0zm-12 1zm0 0zm3 0zm12 0zm-17 1zm9 0zm7 0zm-12-35zm0 0zm3 0zm3 0zm1 0zm5 0zm0 0zm0 0zm-4 1zm5 0zm-13 1zm0 0zm4 0zm1 0zm2 0zm1 0zm1 0zm0 0zm-4 1zm-9 1zm0 0zm2 0zm11 0zm1 0zm3 0zm-11 1zm2 0zm1 0zm4 0zm-12 1zm8 0zm1 0zm4 0zm2 0zm1 0zm-13 1zm0 0zm0 0zm1 0zm0 0zm1 0zm4 0zm3 0zm1 0zm-6 1zm8 0zm-11 1zm1 0zm5 0zm3 0zm3 0zm-13 1zm2 0zm1 0zm5 0zm-10 1zm7 0zm0 0zm-7 1zm5 0zm-5 1zm5 0zm2 0zm-6 1zm3 0zm4 0zm2 0zm0 0zm1 0zm2 0zm-12 1zm3 0zm1 0zm9 0zm-15 1zm10 0zm3 0zm-5 1zm1 0zm4 0zm1 0zm0 0zm-3-35zm1 0zm1 0zm3 1zm-14 2zm13 0zm-14 1zm-1 1zm1 0zm3 0zm5 0zm6 0zm-9 1zm1 1zm6 0zm-5 1zm5 0zm-9 1zm3 0zm-8 1zm7 0zm3 0zm5 0zm1 0zm-7 1zm4 0zm-13 1zm1 0zm2 0zm6 0zm0 0zm6 0zm-6 1zm0 0zm2 0zm2 0zm1 0zm2 0zm-16 1zm6 0zm7 0zm-13 1zm8 0zm4 0zm-10 1zm6 0zm3 0zm1 0zm4 0zm0 0zm-11 1zm3 0zm2 0zm4 0zm1 0zm-15-34zm10 0zm-7 1zm14 0zm0 0zm-17 3zm0 0zm3 0zm1 0zm4 0zm1 0zm-4 2zm-5 1zm4 0zm4 0zm4 0zm1 0zm-7 1zm2 1zm-7 1zm9 0zm7 0zm-16 1zm6 0zm4 0zm1 0zm-11 1zm3 0zm4 0zm3 0zm-10 1zm3 0zm6 0zm-1 1zm0 0zm3 0zm-8 1zm11 0zm1 0zm-10-34zm9 0zm-2 2zm2 0zm0 0zm1 0zm-7 1zm6 0zm0 0zm-13 1zm3 0zm6 0zm-2 1zm0 1zm7 0zm-1 1zm-4 1zm4 0zm2 0zm-2 1zm-14 1zm15 1zm-16 1zm3 0zm12 0zm1 0zm-15 1zm14 0zm-11 2zm4 0zm9 0zm-17 1zm1 0zm14 0zm-5 1zm1 0zm-11-35zm13 12zm-13 4zm10 1zm-5-29zm6 3zm4 0zm-3 1zm-2 3zm-6 1zm5 2zm-3 1zm-4-34zm10 0zm-8 5zm-3 5zm5 2zm8 2zm-7-32zm8-2zm-6-30zm-9-65zm9-50zm22 84zm-7 7zm5 10zm-5 17zm10 17zm0 4zm1 18zm0 1zm-10 1zm4 22zm6 2zm-11 3zm2 0zm8 0zm1 0zm-8 2zm8 4zm-7 1zm-2 1zm-6 2zm11 3zm-11 1zm11 0zm-6 2zm6 0zm-5 1zm1 0zm-4 3zm1 0zm3 0zm-4 4zm4 0zm-9 2zm14 1zm-10 1zm9 1zm-8 2zm8 0zm-4 2zm3 0zm-11 1zm7 0zm0 2zm2 0zm4 0zm-14 1zm16 0zm-9 1zm-7 1zm13 0zm3 0zm-11 1zm5 2zm4 1zm3 1zm-13 1zm0 2zm3 0zm2 0zm-7 1zm-2 1zm1 0zm3 0zm2 0zm8 0zm-14 1zm7 0zm-5 1zm3 0zm3 0zm0 0zm9 0zm-16 1zm3 0zm8 0zm-8 1zm1 0zm2 0zm0 0zm1 2zm3 0zm-1 1zm2 0zm2 0zm-12 1zm8 0zm3 0zm-12 1zm1 0zm3 0zm5 0zm3 0zm1 0zm-14 1zm2 0zm1 0zm2 0zm4 0zm1 0zm4 0zm1 0zm-9 1zm1 1zm5 0zm-11 1zm15 0zm-13 1zm4 1zm2 0zm0 0zm5 0zm1 0zm2 0zm-9 1zm9 0zm-15 1zm3 0zm6 0zm2 0zm2 0zm2 0zm0 0zm-11 1zm0 0zm1 0zm2 0zm3 0zm0 0zm5 0zm-17 1zm7 0zm1 0zm0 0zm-7 1zm12 0zm1 0zm1 0zm1 0zm-12 1zm1 0zm4 0zm4 0zm2 1zm1 0zm-16 1zm8 0zm-7 1zm5 0zm1 0zm1 0zm8 0zm-15 1zm2 0zm14 0zm-6 1zm1 0zm1 0zm1 0zm-14 1zm0 0zm4 0zm-3 1zm3 0zm3 0zm2 0zm5 0zm3 0zm-16 1zm2 0zm0 0zm11 0zm-13 1zm0 0zm1 0zm1 0zm5 0zm7 0zm-11 1zm2 0zm4 0zm2 0zm-12 1zm3 0zm2 0zm1 0zm1 0zm1 0zm3 0zm2 0zm2 0zm0 0zm-14 1zm1 0zm1 0zm3 0zm3 0zm0 0zm4 0zm2 0zm-14 1zm2 0zm1 0zm10 0zm-12 1zm2 0zm9 0zm-11 1zm7 0zm2 0zm2 0zm2 0zm-13 1zm2 0zm2 0zm2 0zm9 0zm-17 1zm3 0zm2 0zm2 0zm0 0zm9 0zm-9 1zm1 0zm0 0zm1 0zm0 0zm6 0zm1 0zm-16 1zm2 0zm7 0zm4 0zm3 0zm1 0zm-17 1zm2 0zm9 0zm4 0zm-14 1zm0 0zm2 0zm3 0zm11 0zm0 0zm-1 1zm-16 1zm5 0zm1 0zm0 0zm9 0zm1 0zm-16 1zm6 0zm11 0zm-15 1zm9 0zm2 0zm2 0zm1 0zm-14 1zm5 0zm1 0zm1 0zm1 0zm1 0zm1 0zm5 0zm-11 1zm1 0zm3 0zm2 0zm1 0zm3 0zm1 0zm-15 1zm2 0zm2 0zm-6 1zm8 0zm1 0zm3 0zm2 0zm1 0zm1 0zm-16 1zm2 0zm0 0zm1 0zm8 0zm5 0zm-2 1zm0 0zm2 0zm1 0zm-12 1zm2 0zm1 0zm5 0zm2 0zm1 0zm-12 1zm1 0zm5 0zm2 0zm3 0zm-15 1zm0 0zm2 0zm4 0zm1 0zm8 0zm2 0zm-15 1zm11 0zm0 0zm1 0zm2 0zm1 0zm-16 1zm1 0zm2 0zm3 0zm1 0zm1 0zm3 0zm1 0zm-12 1zm6 0zm1 0zm4 0zm2 0zm1 0zm0 0zm-12 1zm5 0zm5 0zm0 0zm0 0zm2 0zm0 0zm-15 1zm1 0zm13 0zm-1 1zm1 0zm0 0zm1 0zm2 0zm0 0zm-17 1zm1 0zm3 0zm1 0zm-3 1zm4 0zm1 0zm1 0zm1 0zm4 0zm-11 1zm4 0zm2 0zm5 0zm0 0zm1 0zm3 0zm0 0zm-17 1zm2 0zm6 0zm3 0zm2 0zm2 0zm0 0zm-15 1zm1 0zm4 0zm5 0zm2 0zm1 0zm0 0zm2 0zm2 0zm-17 1zm1 0zm2 0zm11 0zm-13 1zm8 0zm0 0zm1 0zm1 0zm1 0zm2 0zm2 0zm-15 1zm1 0zm3 0zm2 0zm1 0zm8 0zm-9 1zm1 0zm4 0zm3 0zm0 0zm-14 1zm3 0zm2 0zm3 0zm1 0zm2 0zm2 0zm0 0zm0 0zm1 0zm1 0zm-15 1zm3 0zm6 0zm-6 1zm0 0zm2 0zm3 0zm6 0zm-9 1zm9 0zm-13 1zm2 0zm0 0zm8 0zm-12 1zm9 0zm3 0zm0 0zm-9 1zm1 0zm13 0zm-15 1zm1 0zm2 0zm4 0zm-8 2zm11 0zm3 0zm0 0zm-14 1zm1 0zm8 0zm7 0zm-15 1zm2 0zm7 0zm2 0zm2 0zm2 0zm-12 1zm1 1zm2 0zm-8 1zm7 0zm8 0zm0 0zm2 0zm-17 1zm3 0zm3 1zm2 0zm2 0zm2 0zm-12 1zm15 0zm1 0zm-11 1zm10 0zm-15 1zm2 0zm15 0zm0 0zm-1 1zm-9 1zm2 0zm1 0zm5 0zm-4 1zm5 0zm0 0zm1 0zm-9 1zm-3 3zm8 1zm15-7zm6 0zm-11 1zm1 0zm1 0zm-1 1zm-3 1zm7 0zm-8 1zm9 1zm1 0zm3 0zm-15 1zm13 1zm-12 1zm10-26zm0 0zm0 0zm6 0zm-13 1zm6 0zm3 0zm3 0zm0 0zm-14 1zm4 0zm1 0zm2 0zm3 0zm1 0zm-13 1zm1 0zm2 0zm1 0zm2 0zm1 0zm2 0zm0 0zm5 0zm2 0zm-13 1zm0 0zm1 0zm0 0zm11 0zm-15 1zm3 0zm2 0zm0 0zm2 0zm1 0zm1 0zm3 0zm2 0zm0 0zm-10 1zm9 0zm3 0zm-5 1zm1 0zm3 0zm1 0zm-13 1zm6 0zm2 0zm6 0zm-10 1zm8 0zm1 0zm-12 1zm1 0zm1 0zm1 0zm3 0zm7 0zm-11 1zm3 0zm2 0zm1 0zm0 0zm5 0zm-10 1zm1 0zm1 0zm6 0zm1 0zm-3 1zm-13 1zm3 0zm10 0zm4 0zm-12 1zm12 0zm-10 1zm-1 1zm2 0zm6 0zm3 0zm-15-35zm5 0zm5 0zm2 0zm1 0zm-15 1zm4 0zm1 0zm1 0zm3 0zm7 0zm-11 1zm1 0zm2 0zm6 0zm3 0zm-17 1zm2 0zm1 0zm1 0zm1 0zm2 0zm2 0zm0 0zm2 0zm1 0zm1 0zm0 0zm3 0zm-12 1zm1 0zm2 0zm0 0zm2 0zm1 0zm1 0zm1 0zm0 0zm1 0zm-10 1zm3 0zm1 0zm3 0zm0 0zm1 0zm3 0zm1 0zm0 0zm-15 1zm3 0zm6 0zm1 0zm4 0zm-13 1zm4 0zm1 0zm4 0zm1 0zm0 0zm3 0zm-12 1zm0 0zm1 0zm2 0zm3 0zm4 0zm0 0zm1 0zm-12 1zm1 0zm1 0zm7 0zm0 0zm1 0zm-11 1zm0 0zm10 0zm7 0zm-12 1zm0 0zm3 0zm1 0zm-7 1zm0 0zm1 0zm3 0zm3 0zm3 0zm0 0zm4 0zm1 0zm-17 1zm4 0zm2 0zm0 0zm2 0zm0 0zm1 0zm1 0zm1 0zm-11 1zm1 0zm3 0zm8 0zm1 0zm2 0zm-15 1zm4 0zm0 0zm1 0zm3 0zm0 0zm1 0zm0 0zm3 0zm2 0zm3 0zm-15 1zm4 0zm5 0zm-8 1zm5 0zm3 0zm5 0zm1 0zm-17-35zm3 0zm2 0zm0 0zm1 0zm5 0zm0 0zm3 0zm0 0zm2 0zm1 0zm-13 1zm4 0zm1 0zm7 0zm-16 1zm3 0zm5 0zm7 0zm1 0zm-13 1zm6 0zm4 0zm2 0zm-14 1zm0 0zm1 0zm2 0zm1 0zm1 0zm1 0zm2 0zm2 0zm0 0zm6 0zm-15 1zm5 0zm2 0zm0 0zm2 0zm1 0zm0 0zm-12 1zm0 0zm3 0zm1 0zm0 0zm0 0zm1 0zm6 0zm1 0zm2 0zm0 0zm1 0zm2 0zm0 0zm-14 1zm2 0zm0 0zm3 0zm2 0zm3 0zm2 0zm2 0zm-17 1zm0 0zm8 0zm2 0zm3 0zm4 0zm-16 1zm1 0zm1 0zm7 0zm1 0zm1 0zm3 0zm0 0zm1 0zm0 0zm-10 1zm1 0zm0 0zm3 0zm6 0zm1 0zm0 0zm-15 1zm2 0zm5 0zm2 0zm2 0zm-12 1zm1 0zm1 0zm3 0zm2 0zm3 0zm3 0zm0 0zm-13 1zm4 0zm2 0zm3 0zm1 0zm1 0zm1 0zm-12 1zm4 0zm2 0zm2 0zm1 0zm1 0zm2 0zm1 0zm0 0zm1 0zm1 0zm-16 1zm1 0zm0 0zm1 0zm4 0zm1 0zm1 0zm0 0zm3 0zm2 0zm1 0zm-14 1zm0 0zm2 0zm1 0zm1 0zm1 0zm5 0zm6 0zm1 0zm0 0zm-16 1zm1 0zm1 0zm2 0zm7 0zm2 0zm1 0zm1 0zm0 0zm0 0zm1 0zm-17-35zm7 0zm0 0zm4 0zm1 0zm-11 1zm3 0zm3 0zm2 0zm1 0zm-7 1zm1 0zm8 0zm0 0zm-10 1zm0 0zm2 0zm2 0zm3 0zm2 0zm6 0zm-16 1zm1 0zm6 0zm5 0zm1 0zm2 0zm0 0zm1 0zm-8 1zm5 0zm1 0zm-15 1zm2 0zm15 0zm-13 1zm8 0zm-10 1zm7 0zm5 0zm-8 1zm2 0zm1 0zm4 0zm4 0zm-8 1zm4 0zm0 0zm-13 1zm0 0zm3 0zm4 0zm0 0zm1 0zm5 0zm-9 1zm1 0zm5 0zm5 0zm-13 1zm7 0zm1 0zm4 0zm-10 1zm1 0zm5 0zm0 0zm2 0zm2 0zm0 0zm2 0zm1 0zm-14 1zm4 0zm8 0zm2 0zm-14 1zm0 0zm2 0zm4 0zm5 0zm-12 1zm4 0zm3 0zm1 0zm3 0zm1 0zm1 0zm1 0zm-16-35zm1 0zm0 0zm2 0zm2 0zm6 0zm-5 1zm1 0zm0 0zm4 0zm6 1zm-7 1zm7 0zm-17 1zm2 0zm1 0zm10 1zm2 0zm-12 1zm0 0zm7 0zm-3 1zm3 0zm1 0zm0 0zm3 0zm-13 1zm5 0zm9 0zm-11 1zm3 0zm5 0zm-10 1zm9 0zm5 0zm-3 1zm2 0zm-14 1zm3 0zm-1 1zm1 0zm2 0zm2 0zm4 0zm-10 1zm0 0zm0 0zm7 0zm1 0zm6 0zm-16 1zm1 0zm10 0zm0 0zm4 0zm-15 1zm2 0zm7 0zm3 0zm1 0zm4 0zm-17 1zm0 0zm1 0zm5 0zm5 0zm1 0zm0 0zm-11-35zm8 1zm-6 2zm8 0zm1 0zm1 0zm4 1zm-11 1zm1 1zm1 0zm-3 1zm12 0zm-17 1zm14 0zm-12 1zm1 0zm8 0zm0 0zm-8 1zm11 0zm2 0zm-5 1zm-11 1zm0 1zm7 0zm4 0zm-11 1zm1 0zm0 0zm1 0zm4 0zm7 0zm-13 1zm5 0zm6 0zm6 0zm-12 1zm2 0zm-4 1zm1 0zm5 0zm2 0zm-3-35zm0 0zm6 6zm-8 2zm8 0zm-9 1zm-3 3zm5 0zm9 1zm-15 1zm10 1zm5 0zm-6 1zm-1 1zm3 0zm-11-31zm5 8zm1 3zm-2 2zm9-28zm5-2zm14 15zm-11 14zm2 1zm8 6zm3 1zm-4 2zm0 1zm-6 1zm7 0zm-14 3zm13 1zm-13 2zm12 0zm-12 1zm2 2zm-1 1zm-1 1zm1 0zm0 0zm2 0zm0 0zm2 2zm-5 1zm15 0zm-11 1zm-4 1zm1 0zm4 0zm-2 1zm2 0zm4 0zm7 0zm-6 1zm1 1zm0 0zm4 0zm-3 1zm4 1zm0 0zm-9 1zm3 0zm7 0zm-5 1zm-8 1zm4 0zm-6 1zm2 0zm-1 1zm3 0zm7 0zm0 0zm3 0zm1 0zm-17 1zm4 0zm3 0zm6 0zm-6 1zm0 0zm3 0zm-10 1zm2 0zm1 0zm-3 1zm3 0zm1 0zm3 0zm5 0zm1 0zm3 0zm-16 1zm1 0zm1 0zm12 0zm3 0zm-16 1zm8 0zm7 0zm-9 1zm10 0zm-13 1zm9 0zm-7 1zm5 0zm-3 1zm1 0zm2 0zm2 0zm2 0zm0 0zm-9 1zm8 0zm0 0zm1 0zm-15 1zm2 0zm1 0zm1 0zm2 0zm3 0zm6 0zm-2 1zm4 0zm-17 1zm1 0zm5 0zm4 0zm0 0zm1 0zm-8 1zm1 0zm7 0zm2 0zm1 0zm-14 2zm11 0zm-11 1zm4 0zm8 0zm3 0zm0 0zm-10 1zm4 0zm1 0zm1 0zm0 0zm-10 1zm3 0zm6 0zm1 0zm3 0zm-13 1zm1 0zm3 0zm4 0zm3 0zm0 0zm0 0zm2 0zm2 0zm-15 1zm2 0zm3 0zm0 0zm4 0zm0 0zm6 0zm-14 1zm0 0zm3 0zm9 0zm-14 1zm13 0zm2 0zm-5 1zm0 0zm2 0zm4 0zm-16 1zm1 0zm3 0zm2 0zm3 0zm1 0zm1 0zm0 0zm1 0zm3 0zm-14 1zm2 0zm3 0zm7 0zm-9 1zm3 0zm1 0zm3 0zm-11 1zm3 0zm5 0zm0 0zm2 0zm1 0zm2 0zm-13 1zm2 0zm3 0zm2 0zm3 0zm2 0zm-10 1zm3 0zm1 0zm2 0zm-6 1zm2 0zm0 0zm2 0zm1 0zm7 0zm-11 1zm0 0zm1 0zm0 0zm6 0zm1 0zm1 0zm1 0zm1 0zm0 0zm0 0zm2 0zm-16 1zm1 0zm3 0zm0 0zm1 0zm1 0zm1 0zm-5 1zm0 0zm4 0zm0 0zm1 0zm1 0zm2 0zm2 0zm1 0zm2 0zm-15 1zm3 0zm0 0zm1 0zm0 0zm2 0zm5 0zm2 0zm0 0zm1 0zm1 0zm-10 1zm0 0zm1 0zm2 0zm1 0zm2 0zm2 0zm1 0zm1 0zm-15 1zm7 0zm4 0zm1 0zm1 0zm1 0zm2 0zm-12 1zm0 0zm2 0zm1 0zm1 0zm0 0zm5 0zm-11 1zm4 0zm1 0zm2 0zm5 0zm-13 1zm3 0zm4 0zm2 0zm2 0zm0 0zm2 0zm1 0zm0 0zm2 0zm-16 1zm0 0zm1 0zm0 0zm0 0zm2 0zm2 0zm0 0zm4 0zm0 0zm1 0zm2 0zm-13 1zm1 0zm2 0zm0 0zm5 0zm1 0zm5 0zm3 0zm-17 1zm2 0zm0 0zm2 0zm2 0zm0 0zm2 0zm3 0zm1 0zm1 0zm0 0zm0 0zm0 0zm-13 1zm1 0zm2 0zm4 0zm4 0zm1 0zm1 0zm2 0zm0 0zm1 0zm1 0zm0 0zm-13 1zm3 0zm2 0zm1 0zm1 0zm0 0zm1 0zm0 0zm3 0zm-15 1zm1 0zm1 0zm3 0zm2 0zm2 0zm0 0zm1 0zm3 0zm4 0zm0 0zm-16 1zm0 0zm1 0zm1 0zm2 0zm2 0zm1 0zm0 0zm4 0zm0 0zm1 0zm2 0zm-14 1zm1 0zm3 0zm3 0zm1 0zm0 0zm0 0zm2 0zm1 0zm0 0zm1 0zm3 0zm1 0zm-17 1zm0 0zm2 0zm0 0zm3 0zm4 0zm0 0zm1 0zm0 0zm1 0zm0 0zm1 0zm0 0zm1 0zm1 0zm3 0zm-12 1zm3 0zm1 0zm0 0zm0 0zm5 0zm1 0zm-14 1zm2 0zm3 0zm1 0zm7 0zm1 0zm2 0zm-12 1zm1 0zm4 0zm4 0zm2 0zm-11 1zm0 0zm1 0zm1 0zm6 0zm4 0zm-14 1zm1 0zm2 0zm0 0zm3 0zm0 0zm1 0zm1 0zm2 0zm1 0zm3 0zm0 0zm-16 1zm0 0zm2 0zm1 0zm5 0zm6 0zm1 0zm-14 1zm0 0zm1 0zm1 0zm0 0zm2 0zm0 0zm1 0zm5 0zm3 0zm1 0zm-15 1zm0 0zm1 0zm7 0zm0 0zm1 0zm0 0zm0 0zm0 0zm3 0zm0 0zm-12 1zm1 0zm5 0zm1 0zm1 0zm4 0zm3 0zm1 0zm-16 1zm3 0zm0 0zm1 0zm1 0zm0 0zm2 0zm0 0zm2 0zm0 0zm1 0zm-11 1zm0 0zm3 0zm0 0zm2 0zm1 0zm1 0zm2 0zm7 0zm-14 1zm2 0zm1 0zm2 0zm1 0zm1 0zm0 0zm4 0zm2 0zm0 0zm2 0zm0 0zm0 0zm0 0zm-16 1zm1 0zm2 0zm5 0zm1 0zm0 0zm2 0zm1 0zm1 0zm2 0zm-16 1zm1 0zm1 0zm1 0zm0 0zm1 0zm2 0zm1 0zm1 0zm2 0zm1 0zm2 0zm1 0zm0 0zm1 0zm1 0zm-11 1zm4 0zm1 0zm2 0zm0 0zm0 0zm1 0zm1 0zm0 0zm1 0zm0 0zm2 0zm-16 1zm4 0zm0 0zm1 0zm0 0zm1 0zm2 0zm1 0zm3 0zm1 0zm1 0zm-12 1zm2 0zm3 0zm1 0zm2 0zm2 0zm2 0zm1 0zm1 0zm0 0zm-15 1zm2 0zm0 0zm3 0zm3 0zm2 0zm3 0zm1 0zm-13 1zm0 0zm0 0zm1 0zm5 0zm1 0zm1 0zm1 0zm1 0zm1 0zm0 0zm1 0zm0 0zm2 0zm-17 1zm1 0zm4 0zm2 0zm0 0zm7 0zm2 0zm1 0zm0 0zm-16 1zm0 0zm3 0zm13 0zm-14 1zm3 0zm3 0zm4 0zm2 0zm2 0zm-17 1zm3 0zm2 0zm0 0zm3 0zm1 0zm4 0zm1 0zm0 0zm1 0zm1 0zm0 0zm1 0zm0 0zm-6 1zm0 0zm4 0zm-13 1zm1 0zm4 0zm0 0zm1 0zm2 0zm2 0zm2 0zm3 0zm-16 1zm4 0zm2 0zm4 0zm1 0zm-10 1zm4 0zm1 0zm1 0zm1 0zm1 0zm1 0zm4 0zm-15 1zm1 0zm6 0zm4 0zm6 0zm0 0zm-17 1zm1 0zm1 0zm0 0zm1 0zm1 0zm3 0zm3 0zm5 0zm0 0zm1 0zm-15 1zm0 0zm2 0zm8 0zm2 0zm0 0zm1 0zm3 0zm-10 1zm4 0zm5 0zm1 0zm-17 1zm6 0zm1 0zm1 0zm5 0zm1 0zm1 0zm2 0zm0 0zm-15 1zm6 0zm5 1zm1 0zm3 0zm-16 1zm5 0zm5 0zm4 0zm-14 1zm0 1zm7 0zm3 0zm2 1zm-10 1zm3 2zm3 0zm1 0zm3 0zm3 0zm-8 1zm2 0zm3 0zm3 0zm1 0zm0 0zm-13 1zm6 0zm1 0zm4 0zm1 0zm-15 1zm2 0zm7 0zm4 0zm1 0zm-2 1zm-12 1zm7 0zm6 0zm-13 1zm24-7zm6 0zm4 0zm-11 1zm7 0zm-13 1zm2 0zm11 0zm4 0zm-17 1zm10 0zm3 0zm-12 1zm3 0zm7 0zm4 0zm-14 1zm9 0zm0 0zm0 0zm-8 1zm13 0zm-6 1zm4 0zm-12-25zm0 0zm1 0zm2 0zm1 0zm2 0zm2 0zm0 0zm4 0zm3 0zm1 0zm0 0zm-17 1zm1 0zm1 0zm0 0zm0 0zm2 0zm1 0zm0 0zm1 0zm0 0zm3 0zm2 0zm2 0zm2 0zm1 0zm-11 1zm0 0zm6 0zm2 0zm0 0zm1 0zm0 0zm1 0zm-15 1zm6 0zm0 0zm2 0zm2 0zm3 0zm0 0zm-11 1zm1 0zm2 0zm4 0zm0 0zm1 0zm1 0zm0 0zm2 0zm2 0zm0 0zm0 0zm0 0zm2 0zm-15 1zm1 0zm2 0zm1 0zm1 0zm0 0zm1 0zm1 0zm3 0zm0 0zm1 0zm0 0zm0 0zm-11 1zm1 0zm4 0zm6 0zm1 0zm2 0zm-16 1zm9 0zm3 0zm1 0zm4 0zm-17 1zm1 0zm1 0zm5 0zm5 0zm0 0zm2 0zm0 0zm2 0zm1 0zm-16 1zm2 0zm0 0zm3 0zm3 0zm4 0zm1 0zm3 0zm-17 1zm0 0zm2 0zm5 0zm3 0zm1 0zm4 0zm1 0zm1 0zm-11 1zm1 0zm1 0zm3 0zm6 0zm-17 1zm1 0zm10 0zm0 0zm1 0zm0 0zm4 0zm1 0zm-16 1zm4 0zm2 0zm1 0zm7 0zm-8 1zm3 0zm6 0zm1 0zm-12 1zm5 0zm1 0zm1 0zm2 0zm-14 1zm3 0zm8 0zm-10 1zm0 0zm0 0zm1 0zm7 0zm2 0zm5 0zm-14-35zm1 0zm0 0zm6 0zm3 0zm1 0zm2 0zm0 0zm1 0zm0 0zm1 0zm-16 1zm0 0zm1 0zm5 0zm1 0zm2 0zm1 0zm2 0zm2 0zm1 0zm-16 1zm1 0zm0 0zm4 0zm3 0zm2 0zm0 0zm2 0zm0 0zm0 0zm1 0zm1 0zm3 0zm-17 1zm1 0zm1 0zm4 0zm0 0zm1 0zm2 0zm1 0zm4 0zm3 0zm-17 1zm2 0zm2 0zm0 0zm1 0zm4 0zm3 0zm0 0zm5 0zm-17 1zm0 0zm1 0zm1 0zm0 0zm4 0zm4 0zm5 0zm1 0zm1 0zm0 0zm-16 1zm1 0zm2 0zm5 0zm3 0zm1 0zm1 0zm1 0zm0 0zm-14 1zm1 0zm3 0zm2 0zm3 0zm3 0zm0 0zm2 0zm0 0zm0 0zm1 0zm1 0zm-17 1zm2 0zm1 0zm1 0zm0 0zm1 0zm2 0zm3 0zm0 0zm0 0zm3 0zm2 0zm-14 1zm2 0zm2 0zm3 0zm1 0zm1 0zm3 0zm0 0zm0 0zm1 0zm1 0zm0 0zm-14 1zm2 0zm0 0zm0 0zm3 0zm1 0zm0 0zm3 0zm0 0zm3 0zm1 0zm1 0zm1 0zm1 0zm0 0zm-9 1zm0 0zm2 0zm3 0zm0 0zm2 0zm-14 1zm1 0zm0 0zm1 0zm3 0zm1 0zm1 0zm6 0zm1 0zm1 0zm1 0zm-17 1zm1 0zm1 0zm0 0zm4 0zm2 0zm3 0zm2 0zm1 0zm3 0zm0 0zm-16 1zm0 0zm0 0zm1 0zm2 0zm1 0zm3 0zm5 0zm2 0zm-13 1zm2 0zm1 0zm1 0zm1 0zm4 0zm2 0zm1 0zm2 0zm1 0zm-17 1zm2 0zm5 0zm1 0zm0 0zm-7 1zm0 0zm3 0zm0 0zm4 0zm1 0zm1 0zm2 0zm1 0zm1 0zm2 0zm1 0zm-17-35zm4 0zm1 0zm3 0zm5 0zm2 0zm0 0zm-12 1zm6 0zm1 0zm0 0zm2 0zm1 0zm3 0zm0 0zm-16 1zm7 0zm1 0zm2 0zm0 0zm1 0zm1 0zm1 0zm0 0zm2 0zm0 0zm2 0zm-16 1zm3 0zm4 0zm0 0zm2 0zm2 0zm0 0zm2 0zm3 0zm0 0zm0 0zm-16 1zm1 0zm3 0zm2 0zm3 0zm1 0zm2 0zm3 0zm0 0zm1 0zm-17 1zm2 0zm1 0zm2 0zm1 0zm1 0zm3 0zm2 0zm0 0zm-12 1zm1 0zm5 0zm1 0zm2 0zm1 0zm4 0zm1 0zm-13 1zm1 0zm0 0zm1 0zm0 0zm4 0zm1 0zm2 0zm3 0zm-13 1zm0 0zm1 0zm1 0zm3 0zm0 0zm0 0zm0 0zm3 0zm0 0zm1 0zm1 0zm4 0zm0 0zm1 0zm0 0zm-15 1zm2 0zm0 0zm3 0zm5 0zm5 0zm1 0zm-15 1zm1 0zm3 0zm0 0zm4 0zm0 0zm2 0zm2 0zm1 0zm0 0zm2 0zm0 0zm-14 1zm0 0zm2 0zm2 0zm0 0zm2 0zm2 0zm0 0zm3 0zm0 0zm1 0zm-15 1zm1 0zm1 0zm1 0zm3 0zm7 0zm2 0zm-13 1zm2 0zm0 0zm4 0zm0 0zm0 0zm4 0zm1 0zm0 0zm4 0zm-16 1zm0 0zm1 0zm1 0zm1 0zm5 0zm1 0zm0 0zm2 0zm0 0zm0 0zm0 0zm2 0zm1 0zm-15 1zm1 0zm0 0zm1 0zm3 0zm2 0zm0 0zm1 0zm6 0zm0 0zm0 0zm2 0zm-13 1zm3 0zm3 0zm3 0zm5 0zm-15 1zm3 0zm2 0zm3 0zm0 0zm2 0zm1 0zm0 0zm0 0zm4 0zm-8-35zm6 0zm2 0zm-15 1zm2 0zm1 0zm7 0zm3 0zm2 0zm-14 1zm4 0zm0 0zm1 0zm3 0zm3 0zm-13 1zm4 0zm6 0zm2 0zm0 0zm-13 1zm2 0zm3 0zm1 0zm5 0zm-11 1zm2 0zm1 0zm2 0zm0 0zm-2 1zm2 0zm3 0zm0 0zm1 0zm0 0zm-8 1zm11 0zm2 0zm-12 1zm0 0zm1 0zm1 0zm4 0zm0 0zm5 0zm4 0zm-17 1zm1 0zm1 0zm0 0zm0 0zm4 0zm4 0zm0 0zm1 0zm1 0zm2 0zm-11 1zm5 0zm3 0zm-2 1zm3 0zm2 0zm1 0zm-15 1zm0 0zm1 0zm4 0zm2 0zm1 0zm2 0zm2 0zm-12 1zm0 0zm3 0zm4 0zm4 0zm1 0zm1 0zm1 0zm-14 1zm0 0zm1 0zm1 0zm0 0zm0 0zm2 0zm4 0zm2 0zm0 0zm2 0zm4 0zm1 0zm-13 1zm6 0zm3 0zm3 0zm-15 1zm1 0zm3 0zm3 0zm5 0zm3 0zm-15 1zm4 0zm1 0zm1 0zm0 0zm2 0zm1 0zm2 0zm0 0zm0 0zm0 0zm0 0zm1 0zm2 0zm0 0zm1 0zm-9-35zm-2 1zm7 0zm0 0zm1 0zm4 0zm-14 1zm7 0zm-1 2zm0 0zm7 0zm-7 1zm5 0zm-13 1zm0 0zm2 0zm8 0zm-6 1zm4 0zm0 0zm5 2zm-4 1zm0 0zm-7 1zm7 0zm-9 1zm0 0zm5 0zm3 0zm-6 1zm0 0zm3 0zm0 1zm0 0zm7 0zm-13 1zm1 0zm7 1zm2 0zm-7 1zm1 0zm5 0zm6 0zm0-34zm-5 1zm-1 1zm7 2zm-6 1zm7 0zm-4 1zm-9 1zm5 1zm3 0zm-10 3zm1 0zm10 0zm-5 1zm8 0zm-7 1zm-5 3zm3 0zm3 0zm6 0zm-16-31zm9 3zm4 4zm0 1zm-8 1zm5 2zm-3 1zm2 1zm-1-19zm20-245zm-1 228zm2 20zm-9 1zm7 14zm-1 1zm8 1zm-7 2zm3 9zm4 0zm-6 1zm5 0zm-6 1zm2 0zm-8 3zm-3 1zm12 1zm0 1zm-9 3zm9 1zm-10 1zm9 0zm-10 1zm2 0zm9 0zm-4 1zm7 1zm-11 1zm5 0zm5 0zm1 0zm1 0zm0 0zm0 1zm-10 1zm8 0zm-5 1zm-8 1zm12 0zm1 0zm-7 1zm7 0zm-6 1zm-2 1zm3 0zm-9 1zm2 0zm5 0zm2 0zm4 0zm-10 1zm2 0zm3 0zm5 0zm-6 1zm5 0zm1 1zm1 0zm1 0zm2 0zm-17 1zm9 0zm3 0zm5 0zm-11 1zm7 0zm4 0zm-8 1zm5 0zm2 0zm1 0zm0 0zm-17 1zm1 0zm1 0zm5 0zm2 0zm1 0zm-9 1zm5 0zm8 0zm1 0zm-13 1zm2 0zm1 0zm3 0zm1 0zm1 0zm1 0zm0 1zm0 0zm-8 1zm0 0zm4 0zm2 0zm0 0zm1 0zm1 0zm-10 1zm1 0zm3 0zm0 0zm-5 1zm2 0zm12 0zm0 0zm-1 1zm0 0zm3 0zm-16 1zm5 0zm2 0zm3 0zm4 0zm3 0zm-17 1zm1 0zm0 0zm2 0zm6 0zm1 0zm4 0zm2 0zm0 0zm-16 1zm0 0zm0 0zm1 0zm0 0zm1 0zm2 0zm6 0zm5 0zm-14 1zm3 0zm1 0zm3 0zm1 0zm7 0zm-10 1zm2 0zm1 0zm1 0zm1 0zm-11 1zm8 0zm1 0zm1 0zm5 0zm0 0zm-14 1zm4 0zm0 0zm2 0zm1 0zm5 0zm4 0zm-15 1zm2 0zm0 0zm0 0zm1 0zm0 0zm3 0zm1 0zm1 0zm3 0zm0 0zm1 0zm1 0zm2 0zm-16 1zm0 0zm0 0zm3 0zm1 0zm0 0zm0 0zm12 0zm-15 1zm6 0zm2 0zm1 0zm3 0zm2 0zm-15 1zm0 0zm2 0zm0 0zm1 0zm1 0zm1 0zm2 0zm3 0zm0 0zm2 0zm1 0zm2 0zm-16 1zm3 0zm2 0zm1 0zm0 0zm3 0zm0 0zm0 0zm1 0zm0 0zm1 0zm1 0zm1 0zm1 0zm1 0zm1 0zm0 0zm-11 1zm1 0zm6 0zm1 0zm0 0zm3 0zm-15 1zm0 0zm1 0zm1 0zm1 0zm0 0zm1 0zm0 0zm5 0zm0 0zm4 0zm-12 1zm1 0zm1 0zm1 0zm2 0zm0 0zm3 0zm1 0zm0 0zm0 0zm1 0zm1 0zm0 0zm1 0zm2 0zm1 0zm0 0zm-17 1zm3 0zm0 0zm1 0zm0 0zm7 0zm3 0zm-12 1zm1 0zm1 0zm0 0zm1 0zm3 0zm4 0zm1 0zm0 0zm0 0zm4 0zm-16 1zm1 0zm1 0zm2 0zm2 0zm2 0zm2 0zm1 0zm0 0zm3 0zm0 0zm1 0zm1 0zm0 0zm-15 1zm0 0zm1 0zm2 0zm1 0zm1 0zm1 0zm0 0zm1 0zm2 0zm2 0zm1 0zm0 0zm3 0zm-10 1zm1 0zm2 0zm2 0zm1 0zm1 0zm2 0zm-15 1zm0 0zm5 0zm1 0zm3 0zm0 0zm0 0zm3 0zm1 0zm2 0zm-16 1zm1 0zm2 0zm5 0zm1 0zm1 0zm0 0zm1 0zm3 0zm0 0zm3 0zm0 0zm-16 1zm1 0zm1 0zm1 0zm0 0zm0 0zm4 0zm1 0zm2 0zm2 0zm2 0zm0 0zm1 0zm1 0zm0 0zm-17 1zm1 0zm2 0zm0 0zm1 0zm3 0zm0 0zm1 0zm0 0zm1 0zm0 0zm0 0zm3 0zm1 0zm3 0zm1 0zm-17 1zm0 0zm2 0zm0 0zm3 0zm1 0zm1 0zm2 0zm2 0zm1 0zm0 0zm-12 1zm0 0zm0 0zm2 0zm1 0zm0 0zm11 0zm0 0zm2 0zm-12 1zm8 0zm0 0zm2 0zm0 0zm-12 1zm0 0zm3 0zm0 0zm2 0zm2 0zm5 0zm3 0zm0 0zm-17 1zm2 0zm0 0zm3 0zm0 0zm5 0zm7 0zm-17 1zm2 0zm5 0zm0 0zm0 0zm0 0zm3 0zm1 0zm3 0zm1 0zm2 0zm-14 1zm1 0zm5 0zm1 0zm1 0zm0 0zm0 0zm3 0zm2 0zm0 0zm1 0zm-17 1zm3 0zm1 0zm7 0zm0 0zm2 0zm1 0zm2 0zm1 0zm-16 1zm1 0zm2 0zm2 0zm0 0zm1 0zm2 0zm1 0zm0 0zm0 0zm1 0zm1 0zm1 0zm1 0zm-14 1zm1 0zm0 0zm3 0zm2 0zm2 0zm1 0zm3 0zm0 0zm0 0zm0 0zm5 0zm0 0zm0 0zm-16 1zm0 0zm2 0zm1 0zm3 0zm0 0zm2 0zm3 0zm1 0zm0 0zm0 0zm2 0zm-15 1zm2 0zm0 0zm1 0zm3 0zm2 0zm2 0zm0 0zm1 0zm1 0zm1 0zm0 0zm0 0zm1 0zm2 0zm-15 1zm1 0zm0 0zm3 0zm1 0zm1 0zm3 0zm3 0zm1 0zm-14 1zm1 0zm2 0zm1 0zm2 0zm0 0zm1 0zm2 0zm3 0zm1 0zm-8 1zm2 0zm3 0zm0 0zm0 0zm2 0zm4 0zm-16 1zm0 0zm0 0zm2 0zm1 0zm1 0zm1 0zm1 0zm2 0zm3 0zm1 0zm0 0zm0 0zm0 0zm1 0zm0 0zm1 0zm0 0zm1 0zm1 0zm1 0zm-17 1zm1 0zm1 0zm0 0zm1 0zm5 0zm0 0zm0 0zm1 0zm3 0zm2 0zm2 0zm0 0zm1 0zm0 0zm-15 1zm3 0zm0 0zm1 0zm1 0zm1 0zm3 0zm-10 1zm1 0zm4 0zm0 0zm2 0zm2 0zm7 0zm-17 1zm4 0zm1 0zm1 0zm2 0zm3 0zm0 0zm2 0zm-12 1zm3 0zm0 0zm1 0zm6 0zm3 0zm0 0zm2 0zm0 0zm-13 1zm0 0zm1 0zm1 0zm6 0zm0 0zm2 0zm0 0zm1 0zm0 0zm1 0zm0 0zm1 0zm-14 1zm1 0zm1 0zm2 0zm0 0zm2 0zm7 0zm-14 1zm0 0zm1 0zm2 0zm2 0zm0 0zm1 0zm4 0zm0 0zm2 0zm2 0zm1 0zm-12 1zm1 0zm2 0zm1 0zm4 0zm1 0zm0 0zm2 0zm1 0zm1 0zm-15 1zm2 0zm2 0zm2 0zm0 0zm2 0zm2 0zm1 0zm0 0zm1 0zm1 0zm1 0zm-15 1zm2 0zm4 0zm0 0zm1 0zm-8 1zm0 0zm3 0zm1 0zm1 0zm3 0zm6 0zm-14 1zm5 0zm1 0zm2 0zm1 0zm0 0zm3 0zm-7 1zm0 0zm3 0zm9 0zm-16 1zm3 0zm-1 1zm1 0zm3 0zm1 0zm1 0zm2 0zm0 0zm5 0zm-15 1zm3 0zm3 0zm5 0zm4 0zm1 0zm-8 1zm3 0zm2 0zm2 0zm-16 2zm1 0zm1 0zm2 0zm8 0zm0 0zm0 0zm2 0zm3 0zm-15 1zm1 0zm7 0zm2 0zm1 0zm2 0zm-15 1zm2 0zm8 2zm1 0zm1 0zm-5 1zm4 1zm11-8zm0 0zm2 0zm1 0zm4 0zm4 0zm0 0zm2 0zm-11 1zm2 0zm3 0zm2 0zm4 0zm-13 1zm7 0zm3 0zm-2 1zm4 0zm0 0zm1 0zm-10 1zm5 0zm3 0zm-8 2zm6 0zm-6-24zm6 0zm1 0zm0 0zm1 0zm1 0zm0 0zm1 0zm-17 1zm1 0zm1 0zm1 0zm0 0zm0 0zm3 0zm0 0zm1 0zm1 0zm3 0zm0 0zm1 0zm0 0zm2 0zm0 0zm1 0zm1 0zm1 0zm-15 1zm2 0zm1 0zm0 0zm5 0zm1 0zm1 0zm2 0zm2 0zm-16 1zm2 0zm1 0zm1 0zm1 0zm1 0zm0 0zm1 0zm1 0zm0 0zm1 0zm5 0zm1 0zm0 0zm0 0zm1 0zm1 0zm0 0zm0 0zm-17 1zm10 0zm1 0zm2 0zm0 0zm3 0zm1 0zm-11 1zm0 0zm2 0zm2 0zm1 0zm1 0zm1 0zm0 0zm1 0zm0 0zm1 0zm2 0zm-16 1zm2 0zm2 0zm0 0zm1 0zm6 0zm0 0zm1 0zm1 0zm1 0zm-10 1zm4 0zm2 0zm0 0zm0 0zm1 0zm1 0zm1 0zm3 0zm-13 1zm3 0zm3 0zm1 0zm2 0zm0 0zm1 0zm1 0zm-12 1zm3 0zm1 0zm0 0zm2 0zm2 0zm1 0zm0 0zm2 0zm3 0zm-16 1zm1 0zm1 0zm2 0zm5 0zm0 0zm0 0zm1 0zm1 0zm1 0zm1 0zm0 0zm1 0zm0 0zm0 0zm-15 1zm1 0zm2 0zm2 0zm1 0zm4 0zm0 0zm0 0zm2 0zm-10 1zm3 0zm12 0zm-15 1zm1 0zm4 0zm1 0zm4 0zm0 0zm0 0zm-10 1zm1 0zm0 0zm1 0zm2 0zm5 0zm3 0zm1 0zm-13 1zm1 0zm4 0zm1 0zm1 0zm4 0zm1 0zm3 0zm-17 1zm7 0zm4 0zm3 0zm3 0zm-15 1zm3 0zm5 0zm6 0zm-16-35zm3 0zm2 0zm1 0zm0 0zm0 0zm0 0zm1 0zm2 0zm1 0zm0 0zm4 0zm-13 1zm2 0zm2 0zm0 0zm3 0zm1 0zm0 0zm2 0zm0 0zm0 0zm4 0zm-15 1zm3 0zm1 0zm3 0zm1 0zm3 0zm3 0zm1 0zm0 0zm1 0zm1 0zm-17 1zm2 0zm0 0zm1 0zm5 0zm1 0zm2 0zm0 0zm0 0zm2 0zm0 0zm0 0zm1 0zm1 0zm1 0zm0 0zm-15 1zm1 0zm0 0zm2 0zm1 0zm0 0zm2 0zm0 0zm4 0zm0 0zm1 0zm1 0zm1 0zm0 0zm1 0zm2 0zm0 0zm-17 1zm0 0zm1 0zm1 0zm1 0zm0 0zm1 0zm0 0zm0 0zm4 0zm1 0zm2 0zm2 0zm0 0zm1 0zm1 0zm2 0zm0 0zm-17 1zm0 0zm2 0zm1 0zm4 0zm0 0zm1 0zm0 0zm1 0zm0 0zm2 0zm1 0zm2 0zm2 0zm0 0zm0 0zm-12 1zm2 0zm1 0zm4 0zm2 0zm-13 1zm1 0zm0 0zm3 0zm1 0zm0 0zm0 0zm0 0zm1 0zm1 0zm1 0zm1 0zm0 0zm2 0zm2 0zm0 0zm3 0zm-16 1zm0 0zm1 0zm1 0zm1 0zm1 0zm0 0zm1 0zm1 0zm0 0zm3 0zm4 0zm2 0zm1 0zm1 0zm-16 1zm1 0zm1 0zm2 0zm0 0zm5 0zm0 0zm5 0zm1 0zm0 0zm0 0zm0 0zm1 0zm-17 1zm1 0zm2 0zm1 0zm0 0zm0 0zm1 0zm0 0zm2 0zm2 0zm1 0zm1 0zm2 0zm2 0zm1 0zm1 0zm0 0zm0 0zm-17 1zm2 0zm2 0zm2 0zm1 0zm3 0zm1 0zm3 0zm0 0zm0 0zm1 0zm0 0zm0 0zm2 0zm-17 1zm1 0zm0 0zm0 0zm1 0zm5 0zm2 0zm4 0zm0 0zm1 0zm1 0zm2 0zm-14 1zm4 0zm3 0zm0 0zm2 0zm0 0zm1 0zm1 0zm3 0zm-17 1zm0 0zm4 0zm0 0zm1 0zm3 0zm0 0zm1 0zm0 0zm0 0zm6 0zm1 0zm0 0zm-14 1zm0 0zm1 0zm2 0zm0 0zm3 0zm6 0zm0 0zm1 0zm1 0zm-16 1zm0 0zm2 0zm3 0zm1 0zm1 0zm0 0zm6 0zm0 0zm0 0zm2 0zm-15-35zm6 0zm0 0zm7 0zm4 0zm-16 1zm3 0zm8 0zm1 0zm-13 1zm3 0zm4 0zm0 0zm1 0zm0 0zm1 0zm-7 1zm2 0zm3 0zm1 0zm8 0zm-13 1zm0 0zm0 0zm1 0zm5 0zm5 0zm2 0zm-15 1zm1 0zm1 0zm2 0zm0 0zm1 0zm3 0zm4 0zm0 0zm1 0zm1 0zm-15 1zm5 0zm2 0zm0 0zm1 0zm0 0zm0 0zm2 0zm0 0zm1 0zm1 0zm2 0zm3 0zm-17 1zm0 0zm1 0zm0 0zm7 0zm0 0zm2 0zm2 0zm1 0zm1 0zm-12 1zm0 0zm2 0zm1 0zm1 0zm4 0zm0 0zm0 0zm4 0zm0 0zm3 0zm-17 1zm4 0zm1 0zm1 0zm0 0zm4 0zm0 0zm2 0zm1 0zm4 0zm0 0zm0 0zm0 0zm-14 1zm4 0zm0 0zm1 0zm1 0zm0 0zm1 0zm3 0zm3 0zm0 0zm0 0zm0 0zm1 0zm-15 1zm0 0zm4 0zm2 0zm1 0zm2 0zm2 0zm1 0zm1 0zm1 0zm-15 1zm1 0zm1 0zm2 0zm0 0zm1 0zm0 0zm0 0zm3 0zm6 0zm0 0zm1 0zm-16 1zm1 0zm0 0zm0 0zm0 0zm1 0zm0 0zm3 0zm2 0zm0 0zm3 0zm2 0zm2 0zm-13 1zm3 0zm0 0zm1 0zm1 0zm1 0zm1 0zm5 0zm0 0zm1 0zm0 0zm1 0zm1 0zm-14 1zm1 0zm1 0zm0 0zm1 0zm0 0zm4 0zm1 0zm5 0zm2 0zm0 0zm-12 1zm0 0zm2 0zm2 0zm0 0zm0 0zm2 0zm1 0zm0 0zm0 0zm4 0zm1 0zm-17 1zm2 0zm1 0zm1 0zm0 0zm1 0zm0 0zm0 0zm1 0zm1 0zm0 0zm2 0zm0 0zm2 0zm2 0zm2 0zm2 0zm0 0zm-8-35zm-4 2zm2 0zm0 0zm0 0zm0 0zm1 0zm4 0zm5 0zm-17 1zm3 0zm3 0zm6 0zm-8 1zm6 0zm5 0zm1 0zm-16 1zm4 1zm1 1zm2 0zm2 0zm4 0zm1 0zm2 0zm-14 1zm1 0zm2 0zm0 0zm6 0zm4 0zm-13 1zm1 0zm3 0zm5 0zm2 0zm0 0zm4 1zm-14 1zm4 0zm0 0zm2 0zm6 0zm-9 1zm2 0zm5 0zm1 0zm2 0zm-16 1zm7 0zm1 0zm3 0zm0 0zm-11 1zm4 0zm7 0zm3 0zm1 0zm-15 1zm2 0zm5 0zm1 0zm0 0zm1 0zm4 0zm1 0zm-13 1zm1 0zm2 0zm2 0zm1 0zm1 0zm1 0zm0 0zm0 0zm-6 1zm2 0zm6 0zm2 0zm-9-35zm-2 1zm10 2zm4 4zm-13 1zm-2 1zm2 0zm1 0zm9 1zm-10 1zm12 0zm-13 1zm-1 1zm1 0zm3 0zm3 0zm2 1zm1 0zm3 0zm-12 1zm4 0zm1 0zm2 1zm-9 1zm1 0zm5 0zm10-35zm-15 2zm14 1zm-7 5zm-2 1zm2 1zm-3 2zm8 2zm-5-31zm8 14zm-1-16zm10-25zm2 28zm3 3zm-1 5zm-6 7zm9 7zm-4 2zm3 0zm-12 3zm6 1zm8 4zm-11 6zm12 2zm-13 1zm6 0zm-4 1zm0 0zm2 1zm3 0zm5 0zm-13 1zm1 1zm2 1zm-3 1zm6 0zm-5 1zm2 0zm0 1zm10 2zm-6 1zm-7 1zm0 0zm2 0zm5 0zm2 0zm4 0zm-14 1zm14 0zm-1 1zm-10 1zm11 0zm-14 1zm0 0zm3 0zm0 0zm2 0zm5 0zm2 1zm4 0zm-15 1zm0 0zm11 0zm-9 2zm0 0zm2 0zm3 0zm1 0zm1 0zm3 0zm0 0zm-7 1zm8 0zm2 0zm0 0zm-13 1zm0 0zm4 0zm3 0zm2 0zm0 0zm-3 1zm1 0zm6 0zm-17 1zm2 0zm0 0zm2 0zm1 0zm0 0zm2 0zm6 0zm-10 1zm0 0zm-3 1zm5 0zm4 0zm-5 1zm1 0zm5 0zm0 0zm3 0zm0 0zm1 0zm-12 1zm3 0zm2 0zm2 0zm5 0zm-4 1zm-10 1zm3 0zm2 0zm1 0zm3 0zm-1 1zm1 0zm4 0zm0 0zm-9 1zm3 0zm1 0zm5 0zm4 0zm-13 1zm0 0zm6 0zm4 0zm2 0zm0 0zm-14 1zm2 0zm1 0zm11 0zm0 0zm-14 1zm0 0zm2 0zm0 0zm5 0zm3 0zm-10 1zm0 0zm1 0zm2 0zm1 0zm2 0zm0 0zm1 0zm0 0zm0 0zm-6 1zm0 0zm2 0zm2 0zm1 0zm0 0zm0 0zm2 0zm1 0zm1 0zm0 0zm4 0zm1 0zm-14 1zm2 0zm1 0zm1 0zm3 0zm0 0zm1 0zm1 0zm3 0zm0 0zm1 0zm1 0zm-17 1zm1 0zm1 0zm1 0zm0 0zm2 0zm0 0zm4 0zm4 0zm1 0zm1 0zm-15 1zm0 0zm2 0zm2 0zm2 0zm0 0zm1 0zm2 0zm1 0zm1 0zm1 0zm0 0zm5 0zm-17 1zm1 0zm2 0zm3 0zm4 0zm1 0zm1 0zm0 0zm1 0zm0 0zm0 0zm0 0zm3 0zm-16 1zm5 0zm4 0zm0 0zm0 0zm1 0zm2 0zm0 0zm0 0zm5 0zm-15 1zm1 0zm2 0zm1 0zm6 0zm5 0zm0 0zm-17 1zm2 0zm3 0zm1 0zm3 0zm6 0zm1 0zm1 0zm-17 1zm1 0zm0 0zm4 0zm7 0zm1 0zm1 0zm0 0zm1 0zm1 0zm1 0zm-17 1zm0 0zm2 0zm1 0zm1 0zm1 0zm0 0zm1 0zm0 0zm0 0zm2 0zm2 0zm4 0zm1 0zm1 0zm1 0zm-16 1zm0 0zm1 0zm1 0zm5 0zm0 0zm0 0zm0 0zm5 0zm1 0zm1 0zm1 0zm1 0zm-16 1zm0 0zm1 0zm1 0zm3 0zm1 0zm0 0zm0 0zm0 0zm1 0zm2 0zm5 0zm-15 1zm2 0zm1 0zm2 0zm2 0zm1 0zm2 0zm0 0zm2 0zm1 0zm0 0zm2 0zm1 0zm1 0zm0 0zm-17 1zm1 0zm5 0zm1 0zm1 0zm2 0zm3 0zm1 0zm0 0zm-14 1zm0 0zm1 0zm3 0zm1 0zm1 0zm1 0zm0 0zm3 0zm1 0zm0 0zm0 0zm0 0zm0 0zm6 0zm-14 1zm6 0zm0 0zm3 0zm1 0zm3 0zm-16 1zm1 0zm1 0zm1 0zm0 0zm1 0zm0 0zm0 0zm1 0zm0 0zm1 0zm1 0zm0 0zm2 0zm0 0zm0 0zm3 0zm0 0zm1 0zm0 0zm0 0zm1 0zm1 0zm1 0zm-16 1zm2 0zm3 0zm1 0zm1 0zm0 0zm0 0zm0 0zm2 0zm1 0zm2 0zm1 0zm1 0zm-14 1zm1 0zm1 0zm0 0zm1 0zm1 0zm1 0zm2 0zm0 0zm2 0zm6 0zm1 0zm0 0zm1 0zm-15 1zm1 0zm3 0zm4 0zm0 0zm1 0zm2 0zm1 0zm1 0zm2 0zm-17 1zm3 0zm3 0zm1 0zm0 0zm1 0zm2 0zm1 0zm2 0zm1 0zm1 0zm1 0zm1 0zm-16 1zm1 0zm1 0zm3 0zm0 0zm2 0zm1 0zm0 0zm1 0zm1 0zm1 0zm1 0zm1 0zm1 0zm0 0zm0 0zm2 0zm-17 1zm1 0zm0 0zm0 0zm2 0zm1 0zm2 0zm0 0zm4 0zm2 0zm1 0zm1 0zm1 0zm0 0zm1 0zm0 0zm0 0zm0 0zm1 0zm0 0zm-16 1zm0 0zm2 0zm4 0zm2 0zm1 0zm2 0zm0 0zm4 0zm1 0zm-16 1zm0 0zm0 0zm1 0zm1 0zm2 0zm0 0zm1 0zm0 0zm0 0zm2 0zm1 0zm1 0zm0 0zm2 0zm1 0zm0 0zm0 0zm1 0zm2 0zm1 0zm-16 1zm0 0zm0 0zm0 0zm2 0zm1 0zm1 0zm1 0zm1 0zm1 0zm0 0zm0 0zm0 0zm0 0zm1 0zm1 0zm3 0zm1 0zm0 0zm0 0zm3 0zm-17 1zm3 0zm0 0zm0 0zm0 0zm5 0zm2 0zm0 0zm0 0zm2 0zm1 0zm1 0zm0 0zm1 0zm0 0zm1 0zm0 0zm-16 1zm0 0zm1 0zm1 0zm1 0zm3 0zm0 0zm2 0zm0 0zm1 0zm2 0zm1 0zm4 0zm-16 1zm1 0zm0 0zm1 0zm3 0zm0 0zm2 0zm5 0zm1 0zm4 0zm0 0zm-14 1zm1 0zm0 0zm1 0zm4 0zm4 0zm0 0zm2 0zm0 0zm1 0zm0 0zm-16 1zm1 0zm0 0zm1 0zm0 0zm2 0zm1 0zm1 0zm1 0zm1 0zm3 0zm0 0zm2 0zm2 0zm2 0zm-17 1zm0 0zm2 0zm0 0zm2 0zm1 0zm1 0zm3 0zm0 0zm1 0zm1 0zm0 0zm0 0zm1 0zm5 0zm-17 1zm1 0zm1 0zm3 0zm0 0zm3 0zm0 0zm1 0zm2 0zm1 0zm3 0zm2 0zm0 0zm0 0zm-15 1zm1 0zm0 0zm1 0zm4 0zm2 0zm0 0zm1 0zm1 0zm0 0zm1 0zm0 0zm4 0zm-17 1zm0 0zm1 0zm1 0zm0 0zm1 0zm0 0zm2 0zm0 0zm0 0zm1 0zm1 0zm1 0zm0 0zm1 0zm3 0zm2 0zm0 0zm2 0zm-16 1zm0 0zm3 0zm4 0zm3 0zm2 0zm0 0zm3 0zm1 0zm0 0zm0 0zm0 0zm-15 1zm5 0zm1 0zm1 0zm2 0zm0 0zm1 0zm3 0zm-12 1zm1 0zm6 0zm6 0zm2 0zm-15 1zm0 0zm1 0zm0 0zm2 0zm1 0zm1 0zm0 0zm1 0zm3 0zm4 0zm1 0zm-13 1zm2 0zm3 0zm0 0zm3 0zm2 0zm1 0zm1 0zm1 0zm-16 1zm0 0zm1 0zm0 0zm3 0zm0 0zm1 0zm1 0zm2 0zm3 0zm0 0zm1 0zm2 0zm2 0zm1 0zm-17 1zm2 0zm1 0zm7 0zm1 0zm2 0zm0 0zm0 0zm3 0zm-16 1zm2 0zm0 0zm1 0zm2 0zm3 0zm1 0zm3 0zm0 0zm2 0zm3 0zm0 0zm-17 1zm3 0zm0 0zm2 0zm4 0zm2 0zm1 0zm0 0zm2 0zm1 0zm1 0zm-12 1zm2 0zm2 0zm1 0zm2 0zm0 0zm-5 1zm2 0zm9 0zm-15 1zm1 0zm0 0zm1 0zm2 0zm1 0zm2 0zm5 0zm2 0zm-16 1zm1 0zm3 0zm8 0zm2 0zm0 0zm3 0zm-17 1zm2 0zm4 0zm2 0zm3 0zm1 0zm1 0zm1 0zm-12 1zm3 0zm8 0zm1 0zm-12 1zm4 0zm5 0zm2 0zm-8 1zm6 0zm5 0zm-13 1zm2 0zm11 0zm-16 1zm2 0zm9 0zm3 0zm5-7zm2 0zm9 0zm1 0zm3 0zm0 0zm0 0zm1 0zm0 0zm-15 1zm0 0zm6 0zm2 0zm5 0zm2 0zm-16 1zm0 0zm1 0zm3 0zm7 0zm0 0zm-10 1zm1 0zm7 0zm7 0zm0 0zm-10 1zm6 0zm2 0zm-11 1zm8 0zm1 0zm-3 1zm2 0zm-10 1zm4 0zm0 1zm-5-26zm1 0zm1 0zm0 0zm1 0zm2 0zm0 0zm1 0zm1 0zm2 0zm4 0zm1 0zm0 0zm-15 1zm0 0zm1 0zm0 0zm1 0zm1 0zm1 0zm0 0zm1 0zm0 0zm1 0zm0 0zm1 0zm0 0zm1 0zm2 0zm1 0zm1 0zm3 0zm0 0zm1 0zm0 0zm1 0zm-16 1zm0 0zm1 0zm3 0zm1 0zm0 0zm1 0zm1 0zm1 0zm2 0zm1 0zm2 0zm0 0zm0 0zm1 0zm0 0zm-15 1zm2 0zm0 0zm1 0zm5 0zm2 0zm1 0zm0 0zm3 0zm-14 1zm2 0zm1 0zm0 0zm3 0zm1 0zm1 0zm0 0zm1 0zm1 0zm1 0zm3 0zm-13 1zm1 0zm0 0zm2 0zm2 0zm1 0zm2 0zm1 0zm0 0zm2 0zm0 0zm0 0zm1 0zm0 0zm0 0zm1 0zm2 0zm0 0zm1 0zm-16 1zm2 0zm4 0zm2 0zm2 0zm2 0zm0 0zm1 0zm1 0zm2 0zm-16 1zm3 0zm2 0zm1 0zm0 0zm4 0zm2 0zm0 0zm2 0zm1 0zm1 0zm-17 1zm3 0zm1 0zm6 0zm0 0zm0 0zm0 0zm2 0zm2 0zm0 0zm1 0zm0 0zm0 0zm2 0zm-14 1zm4 0zm1 0zm1 0zm0 0zm3 0zm4 0zm1 0zm0 0zm0 0zm-17 1zm1 0zm1 0zm1 0zm0 0zm1 0zm0 0zm2 0zm1 0zm0 0zm2 0zm1 0zm1 0zm0 0zm2 0zm4 0zm-17 1zm1 0zm7 0zm1 0zm2 0zm2 0zm3 0zm0 0zm-15 1zm4 0zm0 0zm0 0zm0 0zm2 0zm0 0zm6 0zm2 0zm0 0zm0 0zm1 0zm1 0zm-15 1zm2 0zm1 0zm0 0zm0 0zm5 0zm3 0zm0 0zm0 0zm2 0zm-15 1zm2 0zm2 0zm3 0zm2 0zm1 0zm1 0zm5 0zm0 0zm-10 1zm0 0zm2 0zm1 0zm2 0zm-9 1zm3 0zm1 0zm2 0zm1 0zm0 0zm4 0zm1 0zm1 0zm0 0zm-13 1zm6 0zm2 0zm2 0zm3 0zm1 0zm0 0zm-14-35zm4 0zm1 0zm2 0zm0 0zm1 0zm3 0zm0 0zm4 0zm-16 1zm2 0zm0 0zm1 0zm1 0zm0 0zm3 0zm3 0zm1 0zm2 0zm3 0zm-17 1zm2 0zm1 0zm1 0zm4 0zm2 0zm1 0zm0 0zm3 0zm1 0zm-8 1zm0 0zm0 0zm3 0zm1 0zm0 0zm0 0zm5 0zm1 0zm-17 1zm1 0zm6 0zm3 0zm4 0zm1 0zm-15 1zm1 0zm3 0zm2 0zm3 0zm0 0zm1 0zm0 0zm0 0zm1 0zm0 0zm1 0zm0 0zm1 0zm0 0zm1 0zm1 0zm0 0zm1 0zm0 0zm1 0zm-17 1zm0 0zm3 0zm0 0zm1 0zm1 0zm1 0zm0 0zm2 0zm1 0zm3 0zm0 0zm1 0zm1 0zm0 0zm0 0zm2 0zm-16 1zm3 0zm1 0zm0 0zm3 0zm0 0zm1 0zm1 0zm2 0zm1 0zm1 0zm2 0zm2 0zm-17 1zm0 0zm2 0zm3 0zm1 0zm0 0zm1 0zm0 0zm1 0zm0 0zm1 0zm3 0zm0 0zm0 0zm0 0zm2 0zm1 0zm1 0zm0 0zm0 0zm-13 1zm0 0zm5 0zm0 0zm1 0zm2 0zm0 0zm0 0zm1 0zm3 0zm1 0zm1 0zm0 0zm-14 1zm0 0zm3 0zm0 0zm1 0zm0 0zm2 0zm1 0zm0 0zm0 0zm1 0zm2 0zm0 0zm1 0zm2 0zm1 0zm0 0zm-17 1zm0 0zm0 0zm1 0zm1 0zm1 0zm0 0zm6 0zm1 0zm1 0zm1 0zm1 0zm1 0zm0 0zm2 0zm1 0zm-16 1zm1 0zm0 0zm1 0zm2 0zm5 0zm1 0zm2 0zm0 0zm1 0zm0 0zm1 0zm0 0zm1 0zm1 0zm-17 1zm2 0zm0 0zm3 0zm0 0zm1 0zm2 0zm5 0zm1 0zm3 0zm0 0zm-17 1zm2 0zm1 0zm5 0zm0 0zm1 0zm0 0zm0 0zm2 0zm0 0zm3 0zm1 0zm1 0zm1 0zm-16 1zm0 0zm1 0zm1 0zm1 0zm1 0zm1 0zm2 0zm1 0zm0 0zm0 0zm1 0zm2 0zm0 0zm1 0zm1 0zm3 0zm-15 1zm1 0zm5 0zm1 0zm1 0zm2 0zm0 0zm1 0zm1 0zm0 0zm1 0zm1 0zm-16 1zm2 0zm3 0zm1 0zm0 0zm2 0zm1 0zm0 0zm3 0zm3 0zm1 0zm1 0zm0 0zm-16-35zm0 0zm1 0zm2 0zm0 0zm2 0zm4 0zm-1 1zm0 0zm3 0zm0 0zm1 0zm0 0zm2 0zm-12 1zm-3 1zm1 0zm1 0zm0 0zm2 0zm2 0zm-6 1zm3 0zm10 0zm2 0zm2 0zm-16 1zm6 0zm2 0zm3 0zm4 0zm1 0zm-16 1zm2 0zm1 0zm5 0zm0 0zm0 0zm1 0zm0 0zm2 0zm-10 1zm4 0zm1 0zm10 0zm-16 1zm2 0zm1 0zm6 0zm0 0zm3 0zm3 0zm-12 1zm2 0zm1 0zm0 0zm3 0zm6 0zm-15 1zm0 0zm2 0zm1 0zm1 0zm3 0zm0 0zm3 0zm0 0zm5 0zm-16 1zm2 0zm2 0zm0 0zm2 0zm0 0zm0 0zm3 0zm0 0zm0 0zm5 0zm0 0zm2 0zm1 0zm-14 1zm1 0zm0 0zm4 0zm1 0zm0 0zm5 0zm-12 1zm2 0zm1 0zm6 0zm2 0zm1 0zm0 0zm1 0zm2 0zm0 0zm-14 1zm2 0zm1 0zm1 0zm0 0zm6 0zm1 0zm1 0zm-14 1zm0 0zm2 0zm0 0zm2 0zm2 0zm2 0zm3 0zm1 0zm2 0zm-15 1zm0 0zm1 0zm1 0zm1 0zm1 0zm0 0zm1 0zm1 0zm0 0zm1 0zm1 0zm6 0zm1 0zm-15 1zm7 0zm1 0zm0 0zm1 0zm2 0zm1 0zm3 0zm1 0zm-10-35zm9 0zm-12 1zm4 0zm-7 1zm5 0zm5 0zm7 0zm-13 2zm0 0zm2 1zm1 0zm3 0zm2 0zm4 1zm1 0zm-14 1zm3 0zm7 0zm-11 1zm0 0zm8 0zm0 0zm-4 2zm5 0zm-3 1zm3 0zm1 0zm-12 1zm5 0zm1 0zm10 0zm-16 1zm9 0zm1 0zm2 0zm-12 1zm0 0zm10 0zm2 0zm2 0zm1 0zm1 0zm-12 1zm7 0zm2 0zm-13 1zm16 0zm-12 1zm8 0zm2 0zm-14-34zm9 2zm-8 1zm2 1zm4 0zm0 1zm8 1zm-12 2zm6 0zm-9 3zm13 0zm-10 1zm2 0zm3 0zm-3 2zm3 1zm1 0zm6 0zm-10 1zm0-20zm6 2zm7-38zm2 32zm14 5zm-2 4zm-9 3zm-4 4zm16 0zm-7 2zm-8 1zm-1 3zm1 1zm8 1zm-7 2zm10 0zm-1 2zm-9 1zm1 1zm10 0zm-13 1zm4 0zm3 0zm3 1zm-4 1zm3 0zm-7 1zm4 0zm-7 1zm1 0zm3 0zm12 0zm-14 1zm3 0zm4 0zm-8 2zm11 0zm2 0zm-10 1zm2 0zm-5 1zm2 0zm1 0zm7 0zm6 0zm0 0zm0 0zm-9 1zm1 0zm-2 1zm9 0zm-11 1zm3 0zm0 0zm-8 1zm4 0zm0 0zm8 0zm-11 1zm-1 1zm1 0zm5 0zm1 0zm6 0zm3 0zm0 0zm-12 1zm0 0zm1 0zm1 0zm3 0zm3 0zm-12 1zm8 0zm1 0zm2 0zm3 0zm3 0zm-16 1zm8 0zm1 0zm0 0zm6 0zm-13 1zm3 0zm1 0zm4 0zm5 0zm1 0zm-16 1zm2 0zm4 0zm1 0zm5 0zm2 0zm1 0zm0 0zm-8 1zm0 0zm3 0zm1 0zm2 0zm-14 1zm10 0zm5 0zm2 0zm-17 1zm0 0zm0 0zm1 0zm3 0zm2 0zm1 0zm2 0zm4 0zm1 0zm-12 1zm1 0zm5 0zm1 0zm0 0zm4 0zm2 0zm-11 1zm0 0zm4 0zm1 0zm0 0zm2 0zm1 0zm1 0zm1 0zm-13 1zm3 0zm1 0zm1 0zm1 0zm2 0zm2 0zm0 0zm2 0zm1 0zm1 0zm1 0zm-16 1zm0 0zm1 0zm6 0zm0 0zm1 0zm4 0zm5 0zm0 0zm-16 1zm0 0zm2 0zm4 0zm2 0zm5 0zm2 0zm0 0zm-16 1zm1 0zm2 0zm1 0zm1 0zm0 0zm1 0zm3 0zm1 0zm1 0zm2 0zm2 0zm0 0zm1 0zm-9 1zm1 0zm0 0zm0 0zm1 0zm1 0zm1 0zm2 0zm2 0zm-14 1zm1 0zm1 0zm1 0zm0 0zm1 0zm0 0zm2 0zm2 0zm0 0zm4 0zm3 0zm0 0zm1 0zm-17 1zm0 0zm1 0zm2 0zm0 0zm1 0zm0 0zm1 0zm1 0zm2 0zm1 0zm2 0zm5 0zm0 0zm0 0zm-13 1zm0 0zm1 0zm0 0zm4 0zm0 0zm1 0zm0 0zm2 0zm-11 1zm0 0zm1 0zm2 0zm2 0zm0 0zm0 0zm1 0zm3 0zm1 0zm0 0zm2 0zm0 0zm1 0zm0 0zm4 0zm-16 1zm1 0zm1 0zm1 0zm0 0zm2 0zm2 0zm0 0zm1 0zm2 0zm1 0zm0 0zm1 0zm1 0zm1 0zm0 0zm1 0zm1 0zm0 0zm-17 1zm1 0zm3 0zm0 0zm1 0zm0 0zm4 0zm3 0zm3 0zm-15 1zm0 0zm1 0zm2 0zm3 0zm2 0zm0 0zm1 0zm1 0zm1 0zm2 0zm0 0zm0 0zm0 0zm0 0zm1 0zm1 0zm-13 1zm2 0zm0 0zm0 0zm3 0zm1 0zm0 0zm0 0zm2 0zm2 0zm0 0zm4 0zm0 0zm-16 1zm0 0zm1 0zm3 0zm2 0zm0 0zm1 0zm0 0zm1 0zm1 0zm0 0zm2 0zm0 0zm3 0zm1 0zm0 0zm1 0zm0 0zm-16 1zm1 0zm1 0zm1 0zm1 0zm3 0zm0 0zm1 0zm1 0zm1 0zm2 0zm2 0zm1 0zm1 0zm1 0zm-17 1zm1 0zm0 0zm0 0zm0 0zm3 0zm1 0zm1 0zm0 0zm1 0zm0 0zm0 0zm2 0zm2 0zm0 0zm1 0zm0 0zm0 0zm4 0zm0 0zm-15 1zm2 0zm2 0zm1 0zm0 0zm1 0zm1 0zm1 0zm0 0zm1 0zm0 0zm1 0zm2 0zm1 0zm0 0zm0 0zm1 0zm1 0zm0 0zm1 0zm-17 1zm0 0zm2 0zm2 0zm3 0zm0 0zm0 0zm3 0zm1 0zm0 0zm0 0zm1 0zm0 0zm0 0zm1 0zm0 0zm2 0zm0 0zm2 0zm0 0zm-16 1zm1 0zm0 0zm0 0zm1 0zm4 0zm0 0zm1 0zm0 0zm2 0zm2 0zm0 0zm2 0zm1 0zm0 0zm1 0zm1 0zm-16 1zm4 0zm1 0zm1 0zm0 0zm4 0zm1 0zm0 0zm1 0zm1 0zm0 0zm1 0zm-15 1zm0 0zm0 0zm1 0zm1 0zm1 0zm0 0zm3 0zm0 0zm3 0zm0 0zm1 0zm2 0zm1 0zm2 0zm2 0zm-17 1zm0 0zm0 0zm0 0zm0 0zm3 0zm0 0zm3 0zm0 0zm1 0zm0 0zm3 0zm0 0zm1 0zm1 0zm1 0zm1 0zm1 0zm0 0zm0 0zm1 0zm1 0zm0 0zm0 0zm-17 1zm0 0zm1 0zm2 0zm0 0zm1 0zm1 0zm0 0zm0 0zm0 0zm2 0zm1 0zm0 0zm1 0zm1 0zm0 0zm1 0zm0 0zm0 0zm2 0zm1 0zm0 0zm2 0zm1 0zm0 0zm-17 1zm1 0zm1 0zm0 0zm4 0zm1 0zm5 0zm0 0zm4 0zm1 0zm-16 1zm0 0zm0 0zm1 0zm0 0zm0 0zm0 0zm0 0zm3 0zm0 0zm1 0zm0 0zm2 0zm2 0zm1 0zm0 0zm3 0zm0 0zm1 0zm1 0zm0 0zm1 0zm0 0zm0 0zm-16 1zm1 0zm5 0zm0 0zm1 0zm1 0zm1 0zm1 0zm1 0zm0 0zm1 0zm1 0zm0 0zm0 0zm0 0zm1 0zm1 0zm0 0zm0 0zm0 0zm-16 1zm0 0zm1 0zm0 0zm1 0zm1 0zm0 0zm1 0zm2 0zm0 0zm1 0zm0 0zm6 0zm3 0zm-16 1zm0 0zm0 0zm1 0zm1 0zm0 0zm1 0zm1 0zm0 0zm3 0zm1 0zm2 0zm1 0zm0 0zm1 0zm0 0zm1 0zm0 0zm1 0zm1 0zm0 0zm2 0zm-16 1zm1 0zm0 0zm2 0zm0 0zm4 0zm0 0zm0 0zm1 0zm1 0zm0 0zm0 0zm1 0zm0 0zm0 0zm0 0zm1 0zm1 0zm0 0zm1 0zm0 0zm1 0zm1 0zm-16 1zm5 0zm3 0zm0 0zm4 0zm0 0zm4 0zm1 0zm-14 1zm1 0zm2 0zm0 0zm0 0zm2 0zm2 0zm0 0zm3 0zm1 0zm0 0zm0 0zm1 0zm1 0zm0 0zm1 0zm-14 1zm2 0zm1 0zm0 0zm1 0zm2 0zm3 0zm2 0zm3 0zm-17 1zm0 0zm0 0zm1 0zm2 0zm0 0zm2 0zm1 0zm2 0zm0 0zm1 0zm1 0zm0 0zm0 0zm0 0zm1 0zm2 0zm0 0zm1 0zm0 0zm1 0zm1 0zm-16 1zm2 0zm6 0zm0 0zm0 0zm0 0zm1 0zm0 0zm2 0zm1 0zm4 0zm0 0zm1 0zm0 0zm-16 1zm0 0zm0 0zm1 0zm0 0zm2 0zm0 0zm1 0zm0 0zm2 0zm0 0zm0 0zm2 0zm1 0zm2 0zm1 0zm0 0zm2 0zm2 0zm0 0zm-17 1zm2 0zm5 0zm0 0zm2 0zm0 0zm3 0zm1 0zm1 0zm0 0zm3 0zm0 0zm-16 1zm1 0zm2 0zm0 0zm0 0zm2 0zm4 0zm1 0zm4 0zm-5 1zm0 0zm4 0zm1 0zm0 0zm1 0zm1 0zm-17 1zm1 0zm1 0zm1 0zm2 0zm2 0zm1 0zm1 0zm1 0zm2 0zm-12 1zm1 0zm1 0zm4 0zm2 0zm0 0zm4 0zm5 0zm-13 1zm2 0zm4 0zm5 0zm0 0zm-13 1zm1 0zm2 0zm1 0zm0 0zm1 0zm1 0zm1 0zm0 0zm2 0zm0 0zm2 0zm4 0zm-13 1zm1 0zm1 0zm0 0zm1 0zm9 0zm-14 1zm2 0zm2 0zm1 0zm0 0zm3 0zm3 0zm3 0zm-16 1zm0 0zm0 0zm1 0zm3 0zm1 0zm12 0zm-16 1zm2 0zm1 0zm2 0zm4 0zm1 0zm1 0zm3 0zm0 0zm1 1zm-8 1zm1 0zm0 0zm8 0zm-5 1zm6-8zm3 0zm1 0zm2 0zm2 0zm1 0zm3 0zm0 0zm0 0zm0 0zm0 0zm1 0zm1 0zm2 0zm-14 1zm3 0zm3 0zm3 0zm1 0zm0 0zm5 0zm0 0zm-16 1zm1 0zm4 0zm0 0zm0 0zm1 0zm0 0zm4 0zm1 0zm1 0zm3 0zm-11 1zm5 0zm4 0zm3 0zm-13 1zm2 0zm1 0zm2 0zm5 0zm-12 1zm13 0zm1 0zm1 0zm-17 1zm3 0zm3 0zm1 0zm1 0zm3 0zm-6 1zm8 0zm-11 1zm0 0zm5 0zm3 0zm-10-26zm0 0zm1 0zm0 0zm2 0zm0 0zm0 0zm1 0zm2 0zm0 0zm0 0zm1 0zm1 0zm0 0zm2 0zm0 0zm0 0zm1 0zm1 0zm1 0zm1 0zm0 0zm1 0zm-15 1zm1 0zm0 0zm0 0zm3 0zm1 0zm1 0zm1 0zm0 0zm1 0zm1 0zm1 0zm0 0zm2 0zm1 0zm0 0zm2 0zm2 0zm-17 1zm3 0zm2 0zm1 0zm1 0zm0 0zm1 0zm1 0zm1 0zm1 0zm2 0zm0 0zm3 0zm0 0zm1 0zm0 0zm0 0zm-17 1zm1 0zm2 0zm5 0zm1 0zm2 0zm1 0zm1 0zm3 0zm0 0zm1 0zm-17 1zm2 0zm0 0zm1 0zm0 0zm1 0zm4 0zm2 0zm0 0zm1 0zm1 0zm0 0zm1 0zm1 0zm1 0zm1 0zm0 0zm1 0zm-17 1zm4 0zm0 0zm0 0zm0 0zm1 0zm0 0zm0 0zm1 0zm1 0zm3 0zm1 0zm1 0zm0 0zm0 0zm0 0zm2 0zm0 0zm1 0zm1 0zm-15 1zm0 0zm2 0zm1 0zm0 0zm1 0zm0 0zm0 0zm2 0zm0 0zm1 0zm1 0zm2 0zm1 0zm1 0zm0 0zm0 0zm0 0zm2 0zm1 0zm0 0zm-16 1zm1 0zm1 0zm0 0zm1 0zm1 0zm1 0zm1 0zm1 0zm1 0zm0 0zm4 0zm2 0zm2 0zm0 0zm0 0zm1 0zm-17 1zm0 0zm1 0zm1 0zm0 0zm1 0zm2 0zm0 0zm2 0zm1 0zm1 0zm2 0zm1 0zm0 0zm0 0zm1 0zm1 0zm1 0zm0 0zm2 0zm-17 1zm2 0zm0 0zm1 0zm1 0zm3 0zm1 0zm2 0zm2 0zm2 0zm0 0zm2 0zm1 0zm0 0zm0 0zm-15 1zm2 0zm1 0zm2 0zm0 0zm1 0zm0 0zm0 0zm1 0zm2 0zm0 0zm1 0zm2 0zm0 0zm2 0zm0 0zm1 0zm0 0zm-17 1zm0 0zm1 0zm0 0zm0 0zm1 0zm0 0zm1 0zm5 0zm0 0zm0 0zm1 0zm0 0zm2 0zm0 0zm0 0zm3 0zm1 0zm1 0zm1 0zm0 0zm-17 1zm1 0zm0 0zm1 0zm0 0zm0 0zm1 0zm0 0zm3 0zm3 0zm2 0zm0 0zm0 0zm2 0zm0 0zm3 0zm1 0zm-17 1zm1 0zm0 0zm2 0zm4 0zm0 0zm0 0zm0 0zm0 0zm1 0zm1 0zm0 0zm1 0zm0 0zm2 0zm1 0zm1 0zm0 0zm2 0zm1 0zm0 0zm-17 1zm0 0zm1 0zm0 0zm2 0zm0 0zm1 0zm0 0zm1 0zm0 0zm1 0zm0 0zm3 0zm1 0zm0 0zm2 0zm1 0zm1 0zm1 0zm-14 1zm2 0zm1 0zm1 0zm1 0zm0 0zm2 0zm0 0zm1 0zm0 0zm0 0zm1 0zm3 0zm0 0zm1 0zm1 0zm1 0zm1 0zm-15 1zm0 0zm3 0zm1 0zm0 0zm2 0zm3 0zm2 0zm1 0zm0 0zm2 0zm0 0zm-16 1zm1 0zm7 0zm1 0zm2 0zm2 0zm1 0zm3 0zm0 0zm-15-35zm2 0zm2 0zm2 0zm0 0zm1 0zm0 0zm4 0zm1 0zm1 0zm1 0zm-15 1zm0 0zm0 0zm2 0zm1 0zm1 0zm1 0zm3 0zm0 0zm0 0zm2 0zm2 0zm0 0zm1 0zm1 0zm0 0zm0 0zm0 0zm2 0zm-17 1zm5 0zm5 0zm1 0zm0 0zm3 0zm2 0zm0 0zm1 0zm-15 1zm3 0zm3 0zm2 0zm0 0zm0 0zm3 0zm1 0zm-14 1zm0 0zm1 0zm1 0zm0 0zm0 0zm1 0zm1 0zm5 0zm2 0zm4 0zm0 0zm0 0zm0 0zm0 0zm1 0zm-15 1zm2 0zm1 0zm0 0zm1 0zm1 0zm1 0zm1 0zm2 0zm3 0zm0 0zm1 0zm1 0zm0 0zm0 0zm0 0zm1 0zm1 0zm-15 1zm1 0zm0 0zm1 0zm2 0zm0 0zm2 0zm4 0zm0 0zm3 0zm0 0zm-14 1zm3 0zm1 0zm0 0zm1 0zm0 0zm2 0zm0 0zm1 0zm1 0zm1 0zm0 0zm1 0zm1 0zm0 0zm1 0zm1 0zm0 0zm1 0zm1 0zm-17 1zm1 0zm0 0zm1 0zm0 0zm1 0zm0 0zm1 0zm1 0zm1 0zm6 0zm1 0zm1 0zm0 0zm1 0zm1 0zm0 0zm0 0zm-16 1zm2 0zm2 0zm0 0zm2 0zm3 0zm1 0zm2 0zm0 0zm4 0zm1 0zm-15 1zm2 0zm5 0zm1 0zm1 0zm1 0zm0 0zm1 0zm1 0zm2 0zm0 0zm-16 1zm0 0zm2 0zm0 0zm0 0zm2 0zm3 0zm0 0zm0 0zm0 0zm1 0zm2 0zm1 0zm1 0zm0 0zm1 0zm0 0zm2 0zm1 0zm1 0zm0 0zm-17 1zm1 0zm1 0zm3 0zm0 0zm3 0zm0 0zm0 0zm1 0zm1 0zm2 0zm4 0zm1 0zm-12 1zm1 0zm0 0zm0 0zm1 0zm1 0zm0 0zm1 0zm1 0zm1 0zm0 0zm0 0zm0 0zm1 0zm3 0zm0 0zm1 0zm1 0zm0 0zm-17 1zm0 0zm0 0zm2 0zm0 0zm0 0zm1 0zm0 0zm1 0zm1 0zm1 0zm3 0zm2 0zm1 0zm1 0zm1 0zm0 0zm2 0zm0 0zm-16 1zm2 0zm2 0zm0 0zm1 0zm2 0zm0 0zm1 0zm2 0zm0 0zm0 0zm0 0zm1 0zm1 0zm1 0zm1 0zm-14 1zm1 0zm2 0zm1 0zm2 0zm0 0zm0 0zm1 0zm0 0zm1 0zm0 0zm1 0zm0 0zm0 0zm1 0zm1 0zm1 0zm1 0zm1 0zm0 0zm1 0zm1 0zm0 0zm-16 1zm0 0zm0 0zm2 0zm1 0zm0 0zm2 0zm0 0zm4 0zm0 0zm2 0zm1 0zm0 0zm0 0zm0 0zm4 0zm0 0zm-8-35zm0 0zm2 0zm-7 1zm4 0zm1 0zm6 0zm3 0zm-17 1zm1 0zm7 0zm1 0zm-9 1zm10 0zm2 0zm0 0zm4 0zm-9 1zm3 0zm7 0zm0 0zm-16 1zm3 0zm4 0zm1 0zm2 0zm4 0zm-11 1zm0 0zm7 0zm0 0zm1 0zm2 0zm1 0zm-15 1zm2 0zm15 0zm0 0zm-17 1zm5 0zm4 0zm5 0zm3 0zm-17 1zm0 0zm7 0zm5 0zm-9 1zm3 0zm0 0zm1 0zm2 0zm4 0zm-10 1zm1 0zm1 0zm6 0zm-11 1zm1 0zm2 0zm4 0zm1 0zm3 0zm2 0zm3 0zm1 0zm-16 1zm2 0zm3 0zm2 0zm1 0zm4 0zm1 0zm3 0zm-17 1zm4 0zm2 0zm4 0zm0 0zm4 0zm-14 1zm1 0zm1 0zm2 0zm0 0zm0 0zm1 0zm1 0zm1 0zm3 0zm0 0zm3 0zm4 0zm-16 1zm0 0zm1 0zm3 0zm6 0zm0 0zm0 0zm0 0zm3 0zm2 0zm-15 1zm1 0zm1 0zm0 0zm1 0zm1 0zm1 0zm1 0zm4 0zm1 0zm1 0zm2 0zm1 0zm0 0zm1 0zm-3-33zm-9 1zm-1 3zm9 1zm-11 1zm5 0zm5 0zm3 0zm-3 1zm5 0zm-12 2zm4 0zm2 1zm-6 1zm7 0zm4 0zm-13 1zm1 0zm12 0zm-5 1zm0 1zm2 0zm2 0zm-15 1zm14-26zm-14 4zm0 1zm6 0zm-5-20zm3 0zm9 5zm19-21zm-3 1zm0 18zm-3 4zm5 4zm0 9zm-13 6zm14 1zm-7 1zm3 0zm-6 2zm-1 2zm12 0zm0 7zm-12 1zm4 2zm2 0zm-7 1zm5 0zm1 1zm-5 1zm0 0zm13 0zm-5 1zm4 0zm1 0zm0 0zm-16 1zm9 0zm2 0zm-11 1zm2 1zm12 0zm0 0zm-11 1zm11 0zm0 0zm-10 1zm1 0zm1 0zm4 0zm2 0zm1 0zm1 0zm-11 1zm0 0zm4 0zm9 0zm-14 1zm1 0zm3 0zm2 0zm0 0zm1 0zm1 0zm1 0zm0 0zm3 0zm3 0zm-17 1zm7 0zm9 0zm0 0zm-16 1zm1 0zm0 0zm4 0zm1 0zm4 0zm0 0zm2 0zm1 0zm3 0zm0 0zm-16 1zm3 0zm3 0zm5 0zm1 0zm2 0zm0 0zm0 0zm1 0zm-15 1zm0 0zm1 0zm1 0zm1 0zm0 0zm0 0zm1 0zm2 0zm2 0zm2 0zm0 0zm2 0zm3 0zm2 0zm-17 1zm1 0zm1 0zm2 0zm1 0zm1 0zm0 0zm1 0zm1 0zm2 0zm1 0zm3 0zm2 0zm1 0zm0 0zm-17 1zm2 0zm1 0zm3 0zm0 0zm2 0zm0 0zm3 0zm3 0zm-12 1zm0 0zm1 0zm2 0zm5 0zm4 0zm0 0zm1 0zm0 0zm2 0zm0 0zm0 0zm-17 1zm1 0zm0 0zm3 0zm1 0zm2 0zm3 0zm1 0zm1 0zm5 0zm-13 1zm3 0zm5 0zm0 0zm1 0zm2 0zm2 0zm-13 1zm1 0zm0 0zm1 0zm1 0zm1 0zm3 0zm0 0zm0 0zm1 0zm1 0zm0 0zm-10 1zm2 0zm1 0zm0 0zm1 0zm1 0zm0 0zm0 0zm2 0zm0 0zm1 0zm1 0zm0 0zm1 0zm1 0zm1 0zm-15 1zm1 0zm1 0zm1 0zm1 0zm0 0zm1 0zm0 0zm1 0zm1 0zm0 0zm2 0zm3 0zm1 0zm0 0zm1 0zm0 0zm2 0zm0 0zm1 0zm-9 1zm0 0zm2 0zm0 0zm0 0zm1 0zm0 0zm0 0zm2 0zm1 0zm1 0zm-15 1zm2 0zm0 0zm0 0zm1 0zm3 0zm0 0zm3 0zm0 0zm2 0zm0 0zm0 0zm1 0zm1 0zm0 0zm2 0zm1 0zm1 0zm-17 1zm0 0zm3 0zm1 0zm2 0zm1 0zm0 0zm0 0zm1 0zm0 0zm0 0zm2 0zm1 0zm0 0zm1 0zm1 0zm1 0zm2 0zm1 0zm-17 1zm2 0zm1 0zm4 0zm0 0zm1 0zm6 0zm2 0zm0 0zm1 0zm-16 1zm3 0zm0 0zm1 0zm2 0zm0 0zm2 0zm1 0zm1 0zm1 0zm1 0zm0 0zm1 0zm1 0zm-14 1zm0 0zm0 0zm0 0zm1 0zm0 0zm1 0zm4 0zm1 0zm1 0zm1 0zm3 0zm0 0zm0 0zm1 0zm1 0zm1 0zm1 0zm-16 1zm1 0zm2 0zm1 0zm2 0zm1 0zm2 0zm1 0zm0 0zm1 0zm1 0zm1 0zm2 0zm0 0zm0 0zm1 0zm0 0zm-17 1zm1 0zm0 0zm2 0zm5 0zm1 0zm1 0zm2 0zm1 0zm0 0zm1 0zm1 0zm1 0zm1 0zm-16 1zm1 0zm0 0zm0 0zm0 0zm2 0zm0 0zm1 0zm0 0zm1 0zm0 0zm2 0zm1 0zm2 0zm3 0zm1 0zm2 0zm0 0zm0 0zm0 0zm-16 1zm0 0zm2 0zm1 0zm0 0zm2 0zm1 0zm1 0zm1 0zm0 0zm0 0zm1 0zm1 0zm0 0zm1 0zm1 0zm0 0zm1 0zm0 0zm1 0zm0 0zm0 0zm2 0zm-17 1zm2 0zm0 0zm2 0zm0 0zm2 0zm0 0zm2 0zm0 0zm0 0zm3 0zm1 0zm1 0zm1 0zm3 0zm-13 1zm2 0zm2 0zm0 0zm1 0zm1 0zm1 0zm3 0zm1 0zm1 0zm-15 1zm1 0zm1 0zm1 0zm2 0zm1 0zm2 0zm0 0zm1 0zm1 0zm0 0zm2 0zm0 0zm0 0zm0 0zm1 0zm2 0zm1 0zm0 0zm-17 1zm0 0zm1 0zm0 0zm1 0zm2 0zm0 0zm1 0zm2 0zm2 0zm0 0zm0 0zm3 0zm1 0zm0 0zm0 0zm1 0zm0 0zm0 0zm0 0zm0 0zm-14 1zm1 0zm3 0zm1 0zm1 0zm1 0zm0 0zm1 0zm3 0zm3 0zm1 0zm0 0zm1 0zm0 0zm-16 1zm0 0zm3 0zm2 0zm1 0zm2 0zm0 0zm1 0zm1 0zm1 0zm1 0zm1 0zm0 0zm0 0zm0 0zm2 0zm0 0zm-12 1zm0 0zm0 0zm1 0zm0 0zm2 0zm2 0zm1 0zm0 0zm3 0zm0 0zm0 0zm1 0zm0 0zm1 0zm0 0zm0 0zm1 0zm1 0zm1 0zm-17 1zm1 0zm1 0zm2 0zm0 0zm1 0zm1 0zm2 0zm1 0zm2 0zm1 0zm1 0zm-13 1zm1 0zm1 0zm3 0zm0 0zm4 0zm0 0zm1 0zm2 0zm1 0zm1 0zm0 0zm0 0zm1 0zm0 0zm1 0zm0 0zm0 0zm1 0zm-16 1zm1 0zm3 0zm1 0zm2 0zm0 0zm0 0zm1 0zm0 0zm0 0zm1 0zm0 0zm1 0zm3 0zm0 0zm0 0zm0 0zm2 0zm0 0zm0 0zm0 0zm0 0zm-16 1zm1 0zm0 0zm1 0zm0 0zm0 0zm1 0zm1 0zm1 0zm1 0zm0 0zm2 0zm0 0zm1 0zm1 0zm0 0zm3 0zm1 0zm0 0zm0 0zm1 0zm1 0zm0 0zm1 0zm0 0zm0 0zm-17 1zm2 0zm0 0zm1 0zm1 0zm0 0zm0 0zm0 0zm1 0zm0 0zm2 0zm1 0zm0 0zm1 0zm1 0zm0 0zm3 0zm0 0zm1 0zm1 0zm1 0zm0 0zm-15 1zm1 0zm1 0zm3 0zm1 0zm1 0zm1 0zm1 0zm1 0zm0 0zm1 0zm1 0zm1 0zm0 0zm1 0zm1 0zm1 0zm-16 1zm0 0zm1 0zm1 0zm0 0zm0 0zm0 0zm1 0zm1 0zm1 0zm0 0zm1 0zm2 0zm0 0zm1 0zm0 0zm1 0zm1 0zm0 0zm1 0zm1 0zm2 0zm-16 1zm0 0zm3 0zm0 0zm0 0zm0 0zm1 0zm1 0zm1 0zm2 0zm0 0zm0 0zm0 0zm1 0zm3 0zm0 0zm1 0zm0 0zm1 0zm2 0zm1 0zm-16 1zm1 0zm1 0zm0 0zm0 0zm1 0zm0 0zm0 0zm1 0zm3 0zm1 0zm1 0zm1 0zm0 0zm2 0zm1 0zm3 0zm-17 1zm0 0zm4 0zm0 0zm1 0zm0 0zm1 0zm0 0zm3 0zm0 0zm2 0zm0 0zm1 0zm1 0zm2 0zm0 0zm1 0zm0 0zm0 0zm-15 1zm1 0zm0 0zm2 0zm1 0zm1 0zm2 0zm1 0zm0 0zm1 0zm1 0zm1 0zm1 0zm1 0zm1 0zm2 0zm-16 1zm1 0zm3 0zm0 0zm3 0zm0 0zm1 0zm1 0zm1 0zm2 0zm2 0zm1 0zm1 0zm-13 1zm3 0zm2 0zm0 0zm1 0zm1 0zm2 0zm2 0zm0 0zm-14 1zm2 0zm3 0zm2 0zm1 0zm1 0zm0 0zm0 0zm1 0zm4 0zm-12 1zm4 0zm1 0zm1 0zm0 0zm1 0zm1 0zm0 0zm1 0zm0 0zm0 0zm-12 1zm0 0zm2 0zm0 0zm0 0zm4 0zm1 0zm6 0zm1 0zm0 0zm-14 1zm1 0zm3 0zm7 0zm4 0zm-8 1zm2 0zm0 0zm2 0zm2 0zm0 0zm3 0zm-16 1zm4 0zm6 0zm2 0zm1 0zm-13 1zm1 0zm5 0zm3 0zm8 0zm-10 1zm2 0zm0 0zm-9 1zm0 0zm2 0zm3 0zm13-8zm0 0zm1 0zm0 0zm1 0zm1 0zm1 0zm0 0zm1 0zm2 0zm7 0zm0 0zm2 0zm0 0zm-16 1zm0 0zm1 0zm1 0zm0 0zm2 0zm0 0zm1 0zm1 0zm0 0zm4 0zm1 0zm1 0zm2 0zm0 0zm2 0zm1 0zm0 0zm-14 1zm2 0zm1 0zm0 0zm1 0zm0 0zm0 0zm1 0zm0 0zm2 0zm1 0zm0 0zm3 0zm0 0zm0 0zm3 0zm-15 1zm3 0zm1 0zm0 0zm1 0zm0 0zm1 0zm2 0zm2 0zm1 0zm4 0zm-17 1zm0 0zm2 0zm1 0zm2 0zm1 0zm4 0zm2 0zm1 0zm3 0zm-8 1zm2 0zm4 0zm1 0zm-15 1zm1 0zm1 0zm1 0zm12 0zm-14 1zm6 0zm1 0zm3 0zm4 0zm-14 1zm3 0zm6 0zm5 0zm-15-26zm1 0zm2 0zm3 0zm1 0zm0 0zm0 0zm0 0zm1 0zm1 0zm2 0zm1 0zm4 0zm1 0zm-17 1zm0 0zm1 0zm0 0zm3 0zm1 0zm1 0zm1 0zm1 0zm1 0zm1 0zm0 0zm0 0zm2 0zm0 0zm0 0zm2 0zm0 0zm1 0zm1 0zm1 0zm0 0zm-17 1zm1 0zm1 0zm0 0zm1 0zm2 0zm1 0zm0 0zm1 0zm0 0zm1 0zm1 0zm0 0zm1 0zm1 0zm2 0zm1 0zm3 0zm-17 1zm0 0zm1 0zm0 0zm1 0zm0 0zm1 0zm0 0zm1 0zm0 0zm0 0zm1 0zm0 0zm2 0zm1 0zm0 0zm0 0zm0 0zm0 0zm0 0zm1 0zm2 0zm0 0zm0 0zm1 0zm1 0zm2 0zm1 0zm1 0zm-16 1zm1 0zm1 0zm0 0zm0 0zm3 0zm0 0zm3 0zm4 0zm1 0zm1 0zm1 0zm0 0zm-16 1zm0 0zm0 0zm1 0zm2 0zm1 0zm1 0zm0 0zm1 0zm2 0zm1 0zm0 0zm1 0zm0 0zm1 0zm0 0zm0 0zm1 0zm0 0zm1 0zm2 0zm2 0zm-17 1zm0 0zm0 0zm0 0zm2 0zm0 0zm2 0zm0 0zm0 0zm0 0zm1 0zm0 0zm3 0zm0 0zm1 0zm1 0zm0 0zm1 0zm1 0zm2 0zm-14 1zm1 0zm0 0zm0 0zm1 0zm0 0zm2 0zm3 0zm1 0zm2 0zm1 0zm1 0zm0 0zm1 0zm0 0zm1 0zm1 0zm1 0zm0 0zm-15 1zm0 0zm2 0zm0 0zm0 0zm1 0zm0 0zm0 0zm1 0zm1 0zm0 0zm2 0zm1 0zm0 0zm2 0zm-10 1zm0 0zm2 0zm1 0zm0 0zm0 0zm1 0zm0 0zm0 0zm1 0zm0 0zm1 0zm1 0zm0 0zm1 0zm3 0zm1 0zm2 0zm-15 1zm1 0zm2 0zm2 0zm2 0zm1 0zm1 0zm2 0zm2 0zm1 0zm0 0zm1 0zm1 0zm1 0zm0 0zm-15 1zm1 0zm1 0zm1 0zm1 0zm0 0zm1 0zm0 0zm3 0zm2 0zm0 0zm2 0zm0 0zm1 0zm0 0zm1 0zm-15 1zm0 0zm1 0zm0 0zm1 0zm0 0zm1 0zm1 0zm1 0zm1 0zm1 0zm1 0zm1 0zm0 0zm0 0zm1 0zm1 0zm0 0zm0 0zm1 0zm0 0zm2 0zm0 0zm0 0zm1 0zm1 0zm0 0zm-16 1zm1 0zm1 0zm1 0zm0 0zm3 0zm0 0zm0 0zm1 0zm0 0zm1 0zm2 0zm0 0zm1 0zm1 0zm1 0zm0 0zm1 0zm1 0zm0 0zm-16 1zm1 0zm0 0zm1 0zm1 0zm1 0zm0 0zm0 0zm3 0zm0 0zm3 0zm1 0zm0 0zm1 0zm0 0zm1 0zm0 0zm0 0zm1 0zm1 0zm2 0zm0 0zm0 0zm0 0zm-15 1zm1 0zm0 0zm0 0zm2 0zm0 0zm0 0zm1 0zm0 0zm1 0zm0 0zm1 0zm1 0zm1 0zm0 0zm1 0zm1 0zm1 0zm0 0zm1 0zm0 0zm0 0zm0 0zm1 0zm0 0zm1 0zm-10 1zm1 0zm1 0zm0 0zm1 0zm1 0zm1 0zm3 0zm2 0zm0 0zm-15 1zm0 0zm0 0zm0 0zm1 0zm2 0zm0 0zm1 0zm0 0zm1 0zm2 0zm2 0zm3 0zm1 0zm1 0zm0 0zm-15-35zm4 0zm1 0zm2 0zm3 0zm3 0zm2 0zm2 0zm-14 1zm2 0zm3 0zm1 0zm7 0zm-14 1zm6 0zm1 0zm1 0zm1 0zm4 0zm2 0zm-14 1zm11 0zm0 0zm1 0zm0 0zm-14 1zm9 0zm0 0zm4 0zm-14 1zm4 0zm4 0zm2 0zm0 0zm1 0zm1 0zm0 0zm0 0zm2 0zm2 0zm-15 1zm2 0zm1 0zm2 0zm4 0zm3 0zm2 0zm2 0zm-17 1zm3 0zm2 0zm0 0zm0 0zm3 0zm0 0zm1 0zm0 0zm1 0zm1 0zm2 0zm0 0zm-13 1zm0 0zm1 0zm3 0zm0 0zm0 0zm5 0zm0 0zm-9 1zm1 0zm2 0zm1 0zm2 0zm0 0zm1 0zm3 0zm3 0zm2 0zm1 0zm-14 1zm0 0zm0 0zm2 0zm2 0zm0 0zm1 0zm0 0zm2 0zm1 0zm2 0zm0 0zm0 0zm1 0zm1 0zm1 0zm-15 1zm0 0zm1 0zm0 0zm2 0zm2 0zm1 0zm0 0zm1 0zm1 0zm2 0zm0 0zm1 0zm1 0zm0 0zm1 0zm1 0zm1 0zm0 0zm1 0zm0 0zm1 0zm-17 1zm0 0zm0 0zm1 0zm0 0zm1 0zm1 0zm0 0zm0 0zm2 0zm1 0zm1 0zm2 0zm3 0zm2 0zm0 0zm3 0zm-17 1zm0 0zm0 0zm2 0zm1 0zm1 0zm1 0zm0 0zm0 0zm4 0zm0 0zm1 0zm2 0zm0 0zm0 0zm1 0zm0 0zm-9 1zm0 0zm0 0zm1 0zm1 0zm1 0zm0 0zm0 0zm2 0zm0 0zm2 0zm1 0zm0 0zm1 0zm0 0zm3 0zm-16 1zm1 0zm1 0zm0 0zm2 0zm1 0zm1 0zm1 0zm0 0zm1 0zm2 0zm0 0zm2 0zm1 0zm2 0zm0 0zm1 0zm0 0zm1 0zm0 0zm-17 1zm1 0zm2 0zm0 0zm0 0zm1 0zm0 0zm2 0zm2 0zm0 0zm1 0zm1 0zm1 0zm0 0zm1 0zm1 0zm2 0zm0 0zm1 0zm1 0zm0 0zm-16 1zm0 0zm3 0zm1 0zm0 0zm4 0zm0 0zm1 0zm0 0zm2 0zm0 0zm2 0zm1 0zm2 0zm-13-35zm3 0zm-6 1zm4 0zm-5 1zm8 0zm3 0zm-9 1zm1 0zm11 0zm-12 1zm8 0zm6 0zm-13 1zm0 0zm1 0zm9 0zm-4 1zm7 0zm1 0zm-8 1zm6 1zm-14 1zm-1 1zm2 0zm10 0zm-12 1zm0 1zm1 0zm2 0zm4 0zm8 0zm1 0zm-14 1zm1 0zm0 0zm9 0zm1 0zm1 0zm-8 1zm1 0zm7 0zm1 0zm-15 1zm4 0zm1 0zm1 0zm6 0zm-11 1zm1 0zm6 0zm0 0zm7 0zm1 0zm-13 1zm4 0zm1 0zm9 0zm-16-28zm4 1zm1 1zm-6 1zm8 4zm2 0zm1 1zm-5 1zm-2 1zm1-18zm26-68zm-8 43zm-5 13zm16 9zm-6 5zm7 1zm-8 7zm-6 1zm6 0zm4 3zm-12 1zm8 2zm5 0zm-12 1zm3 1zm3 1zm-5 1zm2 2zm5 0zm-10 1zm2 1zm2 0zm5 0zm4 0zm-9 1zm1 0zm6 0zm1 0zm-10 1zm4 0zm1 0zm2 0zm2 1zm4 0zm-10 1zm6 0zm0 0zm3 0zm3 0zm-8 1zm1 0zm6 0zm-16 1zm0 0zm0 0zm1 0zm1 0zm1 0zm1 0zm7 1zm-6 1zm1 0zm1 0zm7 0zm-11 1zm9 0zm3 0zm-14 1zm9 0zm-9 1zm1 0zm0 0zm8 0zm1 0zm3 0zm3 0zm-14 1zm1 0zm4 0zm1 0zm1 0zm6 0zm0 0zm-14 1zm4 0zm4 0zm4 0zm-9 1zm3 0zm4 0zm0 0zm2 0zm0 0zm1 0zm0 0zm-15 1zm3 0zm3 0zm1 0zm1 0zm1 0zm3 0zm1 0zm-12 1zm3 0zm2 0zm1 0zm1 0zm1 0zm4 0zm0 0zm4 0zm-17 1zm5 0zm0 0zm1 0zm2 0zm0 0zm0 0zm0 0zm3 0zm0 0zm6 0zm-14 1zm1 0zm1 0zm2 0zm1 0zm0 0zm6 0zm3 0zm0 0zm-17 1zm1 0zm0 0zm2 0zm3 0zm0 0zm2 0zm5 0zm0 0zm0 0zm1 0zm-14 1zm0 0zm3 0zm0 0zm2 0zm1 0zm0 0zm1 0zm3 0zm5 0zm1 0zm-16 1zm2 0zm1 0zm1 0zm5 0zm1 0zm3 0zm0 0zm1 0zm2 0zm-16 1zm0 0zm0 0zm1 0zm2 0zm1 0zm1 0zm0 0zm2 0zm3 0zm4 0zm-13 1zm1 0zm0 0zm0 0zm2 0zm1 0zm1 0zm5 0zm0 0zm0 0zm1 0zm0 0zm1 0zm0 0zm3 0zm-15 1zm0 0zm3 0zm1 0zm1 0zm0 0zm3 0zm0 0zm2 0zm0 0zm3 0zm-14 1zm1 0zm0 0zm3 0zm4 0zm1 0zm1 0zm0 0zm1 0zm1 0zm2 0zm2 0zm1 0zm-17 1zm1 0zm4 0zm2 0zm0 0zm1 0zm1 0zm4 0zm0 0zm1 0zm0 0zm0 0zm2 0zm1 0zm0 0zm0 0zm-13 1zm1 0zm0 0zm1 0zm0 0zm1 0zm3 0zm0 0zm-10 1zm1 0zm0 0zm0 0zm2 0zm1 0zm0 0zm2 0zm0 0zm5 0zm1 0zm-12 1zm1 0zm1 0zm3 0zm3 0zm4 0zm4 0zm-15 1zm2 0zm0 0zm2 0zm0 0zm0 0zm5 0zm0 0zm1 0zm1 0zm0 0zm1 0zm1 0zm3 0zm0 0zm-17 1zm1 0zm1 0zm6 0zm3 0zm0 0zm0 0zm1 0zm2 0zm1 0zm0 0zm1 0zm0 0zm1 0zm0 0zm-15 1zm1 0zm2 0zm1 0zm0 0zm4 0zm0 0zm2 0zm0 0zm1 0zm1 0zm1 0zm0 0zm1 0zm1 0zm0 0zm0 0zm-17 1zm0 0zm1 0zm0 0zm1 0zm2 0zm0 0zm1 0zm1 0zm1 0zm1 0zm1 0zm0 0zm3 0zm0 0zm2 0zm0 0zm0 0zm1 0zm2 0zm-17 1zm0 0zm0 0zm0 0zm1 0zm1 0zm1 0zm0 0zm1 0zm0 0zm1 0zm0 0zm1 0zm0 0zm1 0zm0 0zm1 0zm2 0zm2 0zm0 0zm0 0zm0 0zm1 0zm0 0zm0 0zm1 0zm0 0zm2 0zm1 0zm-17 1zm0 0zm1 0zm0 0zm4 0zm3 0zm0 0zm0 0zm1 0zm2 0zm0 0zm2 0zm1 0zm0 0zm0 0zm1 0zm1 0zm0 0zm-16 1zm0 0zm1 0zm0 0zm0 0zm1 0zm4 0zm1 0zm0 0zm0 0zm1 0zm1 0zm1 0zm1 0zm2 0zm0 0zm1 0zm1 0zm1 0zm0 0zm-16 1zm0 0zm5 0zm1 0zm2 0zm1 0zm0 0zm1 0zm2 0zm0 0zm1 0zm1 0zm0 0zm0 0zm1 0zm1 0zm0 0zm1 0zm0 0zm-15 1zm0 0zm0 0zm1 0zm1 0zm1 0zm1 0zm1 0zm0 0zm2 0zm1 0zm1 0zm1 0zm0 0zm1 0zm2 0zm1 0zm0 0zm-15 1zm1 0zm1 0zm1 0zm1 0zm0 0zm3 0zm1 0zm0 0zm0 0zm1 0zm0 0zm2 0zm0 0zm1 0zm0 0zm-11 1zm1 0zm1 0zm3 0zm0 0zm2 0zm0 0zm1 0zm1 0zm0 0zm1 0zm1 0zm3 0zm1 0zm-17 1zm0 0zm1 0zm0 0zm1 0zm1 0zm2 0zm1 0zm0 0zm0 0zm0 0zm1 0zm0 0zm0 0zm0 0zm0 0zm2 0zm1 0zm0 0zm2 0zm2 0zm1 0zm0 0zm1 0zm1 0zm-15 1zm3 0zm1 0zm1 0zm3 0zm0 0zm5 0zm2 0zm-16 1zm0 0zm1 0zm0 0zm1 0zm1 0zm0 0zm2 0zm3 0zm1 0zm3 0zm1 0zm1 0zm2 0zm0 0zm-16 1zm2 0zm1 0zm3 0zm1 0zm0 0zm2 0zm3 0zm1 0zm0 0zm1 0zm1 0zm0 0zm-16 1zm3 0zm1 0zm0 0zm0 0zm1 0zm4 0zm0 0zm0 0zm0 0zm0 0zm2 0zm3 0zm1 0zm1 0zm0 0zm-16 1zm1 0zm0 0zm2 0zm1 0zm2 0zm0 0zm1 0zm3 0zm5 0zm0 0zm0 0zm1 0zm-16 1zm1 0zm0 0zm1 0zm1 0zm0 0zm0 0zm1 0zm3 0zm2 0zm1 0zm1 0zm0 0zm0 0zm1 0zm0 0zm1 0zm2 0zm1 0zm1 0zm-16 1zm1 0zm0 0zm2 0zm0 0zm1 0zm1 0zm1 0zm1 0zm1 0zm0 0zm0 0zm0 0zm1 0zm0 0zm1 0zm0 0zm2 0zm2 0zm0 0zm2 0zm-17 1zm1 0zm1 0zm0 0zm2 0zm0 0zm1 0zm0 0zm1 0zm2 0zm0 0zm0 0zm2 0zm3 0zm4 0zm0 0zm-16 1zm1 0zm1 0zm0 0zm7 0zm2 0zm1 0zm1 0zm1 0zm2 0zm-10 1zm2 0zm2 0zm1 0zm0 0zm0 0zm1 0zm0 0zm1 0zm2 0zm-16 1zm3 0zm6 0zm3 0zm3 0zm-14 1zm4 0zm2 0zm6 0zm0 0zm-5 1zm6 0zm2 0zm0 0zm1 0zm-5 1zm2 0zm-11 1zm3 0zm5 0zm1 0zm3 0zm6-8zm1 0zm1 0zm0 0zm1 0zm1 0zm0 0zm2 0zm1 0zm0 0zm2 0zm1 0zm2 0zm0 0zm0 0zm1 0zm-15 1zm2 0zm1 0zm1 0zm1 0zm0 0zm1 0zm0 0zm0 0zm2 0zm6 0zm1 0zm-14 1zm1 0zm1 0zm2 0zm2 0zm2 0zm1 0zm0 0zm0 0zm0 0zm3 0zm0 0zm3 0zm-16 1zm1 0zm0 0zm1 0zm3 0zm6 0zm1 0zm0 0zm1 0zm1 0zm1 0zm-15 1zm1 0zm1 0zm9 0zm2 0zm1 0zm2 0zm0 0zm-17 1zm1 0zm0 0zm1 0zm3 0zm1 0zm0 0zm2 0zm1 0zm1 0zm2 0zm3 0zm-12 1zm1 0zm1 0zm2 0zm2 0zm0 0zm2 0zm3 0zm2 0zm-7 1zm-8 1zm6 0zm4 0zm-11-26zm1 0zm3 0zm2 0zm2 0zm0 0zm1 0zm2 0zm4 0zm1 0zm-16 1zm0 0zm5 0zm1 0zm1 0zm2 0zm3 0zm2 0zm1 0zm-14 1zm6 0zm1 0zm1 0zm0 0zm2 0zm1 0zm1 0zm2 0zm1 0zm0 0zm-15 1zm0 0zm2 0zm4 0zm1 0zm2 0zm4 0zm1 0zm1 0zm-15 1zm2 0zm2 0zm2 0zm4 0zm0 0zm1 0zm3 0zm-15 1zm0 0zm2 0zm1 0zm1 0zm0 0zm2 0zm0 0zm1 0zm0 0zm0 0zm0 0zm3 0zm4 0zm1 0zm0 0zm0 0zm0 0zm1 0zm-16 1zm0 0zm0 0zm1 0zm0 0zm0 0zm1 0zm0 0zm1 0zm1 0zm1 0zm0 0zm2 0zm3 0zm0 0zm7 0zm-17 1zm1 0zm1 0zm0 0zm2 0zm2 0zm1 0zm0 0zm1 0zm1 0zm2 0zm2 0zm0 0zm1 0zm0 0zm0 0zm0 0zm-14 1zm0 0zm2 0zm1 0zm0 0zm0 0zm0 0zm3 0zm0 0zm0 0zm0 0zm2 0zm2 0zm0 0zm1 0zm2 0zm1 0zm3 0zm-17 1zm1 0zm0 0zm1 0zm1 0zm0 0zm1 0zm0 0zm0 0zm4 0zm2 0zm2 0zm1 0zm1 0zm0 0zm1 0zm1 0zm-14 1zm0 0zm1 0zm2 0zm1 0zm0 0zm1 0zm0 0zm5 0zm3 0zm0 0zm-14 1zm3 0zm0 0zm1 0zm1 0zm4 0zm3 0zm1 0zm1 0zm0 0zm1 0zm1 0zm-17 1zm0 0zm1 0zm1 0zm1 0zm2 0zm1 0zm1 0zm1 0zm0 0zm1 0zm0 0zm3 0zm0 0zm1 0zm1 0zm2 0zm1 0zm0 0zm-17 1zm0 0zm0 0zm2 0zm4 0zm1 0zm2 0zm2 0zm1 0zm5 0zm0 0zm0 0zm-17 1zm2 0zm0 0zm3 0zm1 0zm0 0zm1 0zm0 0zm1 0zm0 0zm0 0zm4 0zm-12 1zm0 0zm0 0zm1 0zm0 0zm0 0zm1 0zm0 0zm2 0zm0 0zm0 0zm1 0zm5 0zm0 0zm0 0zm3 0zm2 0zm-14 1zm1 0zm0 0zm1 0zm1 0zm2 0zm2 0zm0 0zm1 0zm2 0zm1 0zm3 0zm-13 1zm0 0zm0 0zm1 0zm0 0zm1 0zm2 0zm3 0zm0 0zm1 0zm0 0zm1 0zm0 0zm6 0zm-15-35zm10 0zm-9 1zm6 0zm6 0zm-8 1zm2 0zm2 0zm2 0zm1 0zm0 0zm-13 1zm1 0zm3 0zm1 0zm-5 1zm0 0zm1 0zm2 0zm1 0zm1 0zm7 0zm1 0zm3 0zm-13 1zm5 0zm5 0zm2 0zm1 0zm-17 1zm0 0zm1 0zm0 0zm3 0zm4 0zm2 0zm1 0zm-10 1zm0 0zm3 0zm4 0zm5 0zm3 0zm-11 1zm1 0zm-1 1zm5 0zm5 0zm-13 1zm1 0zm3 0zm1 0zm4 0zm2 0zm0 0zm3 0zm1 0zm-17 1zm0 0zm1 0zm8 0zm-7 1zm5 0zm1 0zm4 0zm2 0zm1 0zm-14 1zm1 0zm4 0zm1 0zm4 0zm1 0zm3 0zm-14 1zm2 0zm3 0zm0 0zm2 0zm2 0zm2 0zm0 0zm1 0zm0 0zm1 0zm0 0zm1 0zm2 0zm0 0zm-17 1zm0 0zm4 0zm2 0zm4 0zm0 0zm0 0zm2 0zm0 0zm4 0zm1 0zm-15 1zm0 0zm1 0zm1 0zm4 0zm0 0zm2 0zm0 0zm2 0zm1 0zm3 0zm1 0zm-16 1zm0 0zm0 0zm4 0zm1 0zm1 0zm3 0zm3 0zm0 0zm1 0zm1 0zm1 0zm-14-35zm1 3zm1 0zm6 0zm-9 4zm12 0zm0 0zm-9 2zm11 0zm-14 1zm2 0zm4 0zm1 0zm-6 1zm1 1zm11 0zm-8 1zm3 1zm-4 1zm7 1zm-11 1zm13 0zm3 0zm-17-31zm9 4zm1 0zm-8 1zm12 4zm-12 1zm0 1zm13-27zm-5-30zm-3 5zm5 0zm13-27zm3 11zm-10 22zm16 3zm-2 1zm-13 2zm16 15zm-10 6zm7 0zm2 0zm-13 10zm3 0zm-1 4zm2 0zm-2 4zm-5 4zm0 0zm7 2zm4 0zm-3 2zm8 0zm-8 3zm-8 1zm14 0zm1 0zm2 0zm-5 2zm-7 1zm-4 1zm3 0zm1 1zm1 1zm10 0zm-9 1zm-4 2zm1 1zm12 0zm0 0zm-5 1zm2 0zm4 0zm-17 1zm1 0zm3 0zm1 0zm-3 1zm3 0zm1 0zm0 0zm3 0zm5 0zm2 0zm-14 1zm0 0zm9 0zm-2 1zm4 0zm-8 1zm2 0zm4 1zm0 0zm3 0zm-11 1zm4 0zm4 0zm1 0zm4 0zm1 0zm-15 1zm6 0zm4 0zm-6 1zm1 0zm3 0zm1 0zm1 0zm2 0zm-11 1zm1 0zm6 0zm4 0zm-13 1zm6 0zm1 0zm3 0zm-11 1zm4 0zm1 0zm2 0zm3 0zm4 0zm2 0zm1 0zm-17 1zm10 0zm2 0zm1 0zm1 0zm1 0zm-10 1zm1 0zm0 0zm1 0zm1 0zm2 0zm1 0zm4 0zm2 0zm-16 1zm1 0zm1 0zm2 0zm3 0zm4 0zm4 0zm-15 1zm2 0zm11 0zm1 0zm-14 1zm1 0zm0 0zm0 0zm2 0zm1 0zm1 0zm2 0zm0 0zm0 0zm1 0zm0 0zm3 0zm4 0zm1 0zm-14 1zm0 0zm6 0zm3 0zm1 0zm2 0zm1 0zm-15 1zm0 0zm6 0zm2 0zm1 0zm3 0zm-12 1zm1 0zm2 0zm0 0zm1 0zm4 0zm0 0zm4 0zm1 0zm0 0zm-13 1zm4 0zm1 0zm0 0zm8 0zm1 0zm-14 1zm1 0zm1 0zm1 0zm7 0zm4 0zm0 0zm2 0zm-16 1zm2 0zm0 0zm0 0zm4 0zm1 0zm2 0zm3 0zm2 0zm-9 1zm1 0zm1 0zm1 0zm2 0zm0 0zm1 0zm1 0zm-13 1zm2 0zm1 0zm4 0zm1 0zm8 0zm-13 1zm1 0zm4 0zm2 0zm1 0zm1 0zm0 0zm1 0zm1 0zm1 0zm-13 1zm0 0zm0 0zm0 0zm5 0zm1 0zm2 0zm1 0zm1 0zm3 0zm1 0zm-16 1zm6 0zm1 0zm1 0zm2 0zm2 0zm1 0zm-12 1zm1 0zm1 0zm0 0zm1 0zm1 0zm0 0zm2 0zm0 0zm5 0zm1 0zm2 0zm1 0zm1 0zm0 0zm-15 1zm2 0zm2 0zm0 0zm0 0zm5 0zm1 0zm4 0zm-16 1zm1 0zm3 0zm0 0zm4 0zm1 0zm2 0zm3 0zm2 0zm1 0zm-17 1zm0 0zm1 0zm6 0zm2 0zm5 0zm0 0zm3 0zm-17 1zm2 0zm2 0zm1 0zm0 0zm2 0zm0 0zm2 0zm1 0zm0 0zm1 0zm1 0zm1 0zm2 0zm2 0zm0 0zm-17 1zm2 0zm3 0zm6 0zm3 0zm1 0zm0 0zm2 0zm-15 1zm1 0zm0 0zm3 0zm0 0zm1 0zm1 0zm0 0zm7 0zm-15 1zm1 0zm1 0zm2 0zm1 0zm0 0zm1 0zm1 0zm0 0zm3 0zm3 0zm2 0zm0 0zm-15 1zm0 0zm1 0zm2 0zm0 0zm14 0zm-14 1zm1 0zm1 0zm0 0zm4 0zm0 0zm1 0zm4 0zm1 0zm-10 1zm1 0zm1 0zm0 0zm1 0zm1 0zm4 0zm0 0zm-8 1zm7 0zm1 0zm4 0zm-17 1zm5 0zm-4 1zm5 0zm4 0zm5 0zm1 0zm-12 1zm1 0zm5 0zm2 0zm6-8zm1 0zm1 0zm1 0zm3 0zm2 0zm7 0zm-12 1zm2 0zm2 0zm3 0zm0 0zm7 0zm-13 1zm0 0zm1 0zm4 0zm3 0zm3 0zm1 0zm-15 1zm6 0zm2 0zm6 0zm1 0zm-15 1zm0 0zm3 0zm0 0zm1 0zm0 0zm1 0zm0 0zm4 0zm2 0zm5 0zm-14 1zm1 0zm7 0zm1 0zm-12 1zm0 0zm3 0zm3 1zm3 0zm6 0zm2 0zm-16 1zm2 0zm-1-26zm3 0zm3 0zm2 0zm-10 1zm0 0zm4 0zm9 0zm3 0zm1 0zm-17 1zm0 0zm5 0zm4 0zm1 0zm5 0zm2 0zm-15 1zm4 0zm2 0zm0 0zm8 0zm1 0zm-17 1zm2 0zm0 0zm0 0zm6 0zm7 0zm-14 1zm11 0zm1 0zm2 0zm-13 1zm0 0zm1 0zm1 0zm2 0zm5 0zm5 0zm-11 1zm0 0zm0 0zm7 0zm1 0zm-12 1zm2 0zm3 0zm1 0zm1 0zm0 0zm5 0zm2 0zm-14 1zm0 0zm1 0zm1 0zm2 0zm0 0zm1 0zm0 0zm1 0zm7 0zm-14 1zm1 0zm8 0zm2 0zm2 0zm-9 1zm5 0zm2 0zm1 0zm3 0zm2 0zm-16 1zm0 0zm2 0zm2 0zm4 0zm5 0zm1 0zm-15 1zm2 0zm2 0zm2 0zm-5 1zm1 0zm1 0zm1 0zm0 0zm1 0zm0 0zm1 0zm1 0zm0 0zm1 0zm5 0zm2 0zm0 0zm1 0zm1 0zm-17 1zm2 0zm0 0zm1 0zm1 0zm0 0zm4 0zm0 1zm7 0zm-13 1zm2 0zm1 0zm0 0zm0 0zm1 0zm0 0zm0 0zm0 0zm5 0zm2 0zm-10-35zm3 0zm7 0zm-8 1zm11 0zm-14 1zm4 0zm1 0zm-7 1zm17 0zm-15 1zm8 0zm1 0zm4 1zm2 0zm-5 1zm-9 1zm8 0zm2 0zm4 0zm-13 1zm13 0zm-16 1zm5 0zm7 0zm-8 1zm2 0zm10 0zm-7 2zm5 0zm-11 1zm1 0zm1 0zm9 0zm-9 1zm6 0zm4 0zm-15 1zm1 0zm8 0zm-8 2zm1 0zm4 0zm5 0zm0 0zm1 0zm3 0zm1-35zm-2 1zm-6 6zm-8 1zm2 0zm6 0zm-9 3zm2 2zm0 1zm4 1zm1 1zm6 0zm-9-28zm3 3zm6 0zm-1 3zm0 4zm-2 1zm5-27zm-10-13zm9 0zm-12 2zm0-49zm17-238zm1 266zm14 56zm-15 14zm3 1zm2 0zm11 0zm-16 1zm1 0zm0 2zm1 3zm12 0zm-9 1zm3 0zm-8 3zm16 0zm-1 1zm-6 1zm-4 1zm6 1zm-8 1zm-2 2zm-2 1zm16 0zm-12 1zm8 1zm-12 2zm0 0zm1 1zm1 0zm1 0zm7 1zm2 0zm2 0zm-13 1zm5 0zm2 0zm-7 1zm6 0zm4 0zm2 0zm-10 1zm7 0zm-7 1zm5 0zm2 0zm3 0zm2 0zm-15 1zm1 0zm1 0zm1 0zm0 0zm0 0zm7 0zm1 0zm2 0zm1 0zm3 0zm-17 1zm1 0zm1 0zm11 1zm2 0zm-5 1zm-6 1zm3 0zm0 0zm-6 1zm2 0zm9 0zm2 0zm0 0zm1 0zm0 0zm2 0zm-11 1zm11 0zm-17 1zm1 0zm4 0zm0 0zm2 0zm1 0zm2 0zm1 0zm2 0zm0 0zm-6 1zm3 0zm2 0zm-2 1zm4 0zm-12 1zm0 0zm2 0zm0 0zm5 0zm6 0zm0 0zm-14 1zm1 0zm3 0zm8 0zm2 0zm0 0zm2 0zm-12 1zm1 0zm6 0zm1 0zm3 0zm-11 1zm1 0zm2 0zm1 1zm1 0zm3 0zm3 0zm1 0zm-15 1zm1 0zm8 0zm3 0zm-12 1zm1 0zm6 0zm4 0zm-8 1zm0 0zm2 0zm1 0zm1 0zm7 0zm-8 1zm8 0zm-14 1zm4 0zm2 0zm1 0zm6 0zm-12 1zm6 0zm5 1zm0 0zm-14 1zm13 0zm3 0zm6-6zm3 2zm0 0zm1 0zm0 0zm1 0zm2 0zm0 0zm-11 1zm9 0zm7 0zm-5 1zm-11 1zm4-25zm6 2zm3 0zm-13 1zm1 0zm2 0zm1 0zm6 1zm-6 1zm-3 1zm4 0zm1 1zm1 0zm-2 1zm7 1zm3 0zm0 0zm-15 1zm10 0zm-2 1zm-5 1zm1 0zm4 0zm-8 1zm0 0zm0 0zm5 0zm4 0zm-2 1zm-5 1zm7 0zm-7 1zm6 0zm2 0zm0 0zm-4 1zm4 0zm-2-35zm-8 2zm2 2zm12 1zm-14 1zm2 0zm-2 1zm6 2zm-4 2zm1 0zm-1 2zm4 1zm-1 1zm11 0zm-3 1zm-7-32zm8 9zm2-28zm-14 4zm11 3zm-7 7zm5-30zm-11 12zm16-28zm-14 4zm13 6zm3 2zm5 62zm-1 1zm-1 5zm4 2zm-5 1zm10 1zm-11 1zm4 0zm3 0zm-2 1zm9 0zm-4 1zm1 0zm4 0zm-14 1zm4 0zm6 0zm2 0zm-9 1zm8 0zm-10 1zm-2 1zm8 0zm8 1zm-14 3zm3 0zm9 0zm-13 2zm5 0zm6 0zm2 0zm-3 3zm1 0zm3 0zm-15 1zm3 0zm3 0zm-6 1zm2 0zm-2 2zm2 0zm1 0zm12 0zm-16 1zm7 0zm3 0zm-8 1zm13 0zm1 0zm0 0zm-13 1zm3 0zm5 0zm-11 2zm6 0zm-5 1zm1 0zm0 0zm4 0zm14-7zm3 0zm0 3zm-5 1zm5 0zm1 1zm-1 3zm-4-25zm4 1zm-1 5zm1 8zm-4 1zm2 1zm12 0zm-2-22zm10 5zm-5 14zm11 6zm-8 4z"/></g>
</g>
<g id="d35">
<path d="M409 292V517.85H691" fill="none" stroke="#333" stroke-width="1.6" stroke-linejoin="round"/>
<path d="M409 517.7h3.3M409 495.19h3.3M409 472.68h3.3M409 450.17h3.3M409 427.66h3.3M409 405.15h3.3M409 382.64h3.3M409 360.13h3.3M409 337.62h3.3M409 315.11h3.3M409 292.6h3.3M455.9 517.7v-3.3M502.8 517.7v-3.3M549.7 517.7v-3.3M596.6 517.7v-3.3M643.5 517.7v-3.3M690.4 517.7v-3.3" fill="none" stroke="#333" stroke-width="1.2"/>
<g class="tk" text-anchor="end">
<text x="399.2" y="520.8">0.0</text>
<text x="399.2" y="498.29">0.2</text>
<text x="399.2" y="475.78">0.4</text>
<text x="399.2" y="453.27">0.6</text>
<text x="399.2" y="430.76">0.8</text>
<text x="399.2" y="408.25">1.0</text>
<text x="399.2" y="385.74">1.2</text>
<text x="399.2" y="363.23">1.4</text>
<text x="399.2" y="340.72">1.6</text>
<text x="399.2" y="318.21">1.8</text>
<text x="399.2" y="295.7">2.0</text>
</g>
<g class="tk" text-anchor="middle">
<text x="409" y="535.3">0.1</text>
<text x="455.9" y="535.3">1</text>
<text x="502.8" y="535.3">10</text>
<text x="549.7" y="535.3">100</text>
<text x="596.6" y="535.3">1000</text>
<text x="643.5" y="535.3">10000</text>
<text x="690.4" y="535.3">100000</text>
</g>
<text class="tt" x="514.7" y="303.2" textLength="43.8" lengthAdjust="spacingAndGlyphs">Day 35</text>
<text class="xt" x="447.6" y="552.1" textLength="204.4" lengthAdjust="spacingAndGlyphs" xml:space="preserve">Normalized read numbers (x10,000,000)</text>
<text class="yt" transform="translate(380.2 462.7) rotate(-90)" textLength="113.8" lengthAdjust="spacingAndGlyphs">coefficient of variation</text>
<g transform="scale(.5)"><path class="pt" d="M0 0m863 646zm32 224zm-7 3zm8-22zm-12-17zm1-32zm6-156zm4 0zm6 0zm1 159zm2 43zm28 58zm-14-14zm4-22zm-3-24zm15 5zm-6-97zm1-43zm-2-65zm6 0zm6 0zm12 0zm-3 78zm4 20zm-10 29zm1 9zm7 0zm0 32zm-1 5zm-6 12zm7 9zm-4 1zm0 7zm-9 3zm2 0zm3 32zm-6 10zm15 7zm-1 5zm-9 2zm11 12zm-5 2zm2 2zm2 8zm0 2zm-6 2zm2 6zm1 10zm3 0zm-3 12zm-3 5zm0 1zm-1 9zm5 1zm-4 2zm5 5zm-1 16zm-5 4zm1 27zm9-7zm8 4zm4-21zm-1 3zm4 3zm-7 1zm-6 1zm12 1zm2 1zm-15 2zm16 0zm-6 1zm2 1zm3 0zm0-33zm0 1zm1 3zm-4 1zm-7 3zm11 1zm-15 2zm11 1zm-3 2zm5 0zm-11-25zm0 2zm1 0zm5 1zm6 0zm-6 1zm-1 1zm-1 1zm-5 1zm14-31zm-13 1zm7 0zm6 1zm-4 4zm-7 1zm11 3zm-9 1zm-3 1zm5 0zm6 0zm-1 1zm0 1zm-1-33zm2 0zm-8 1zm8 0zm-1 2zm-12 1zm8 2zm-3 3zm2 4zm7 0zm0-31zm-11 4zm6 5zm-1 1zm-10 2zm4 1zm2 1zm4 1zm-9 2zm4-34zm11 0zm-2 1zm2 2zm-8 2zm1 0zm-4 2zm0 2zm1 2zm7 0zm1 0zm-10 1zm1 1zm6 0zm4 2zm-3-34zm-11 3zm5 0zm9 1zm-12 3zm6 1zm5 3zm-10 2zm11 0zm-3 4zm0-31zm-11 1zm12 3zm-8 3zm10 1zm-5 2zm2 1zm3 0zm-16-32zm10 1zm2 0zm-11 2zm13 2zm2 1zm-13 6zm12 2zm-4 1zm-6 1zm3 0zm-6-34zm7 1zm-5 3zm11 9zm-7-39zm-5 5zm2-27zm1 1zm6 1zm-5-10zm-3-53zm12-1zm10 9zm1 20zm-6 8zm9 14zm-6 7zm3 3zm2 3zm-5 2zm-2 1zm-4 3zm0 8zm13 3zm4 1zm0 1zm-3 4zm-3 2zm5 0zm-1 2zm-7 2zm9 4zm-13 2zm6 1zm4 0zm-14 1zm12 0zm-5 9zm-5 1zm15 0zm-14 2zm10 0zm0 1zm4 3zm0 0zm-7 3zm1 0zm-9 2zm6 0zm1 1zm7 0zm-2 2zm-6 1zm9 0zm0 0zm-1 2zm-14 1zm2 0zm6 0zm-7 2zm2 0zm11 0zm-10 2zm10 4zm-6 4zm-1 1zm0 1zm1 0zm1 0zm-3 2zm-2 5zm8 2zm0 1zm3 0zm-2 3zm-6 2zm-1 3zm-4 2zm1 1zm3 0zm-8 1zm2 1zm11 0zm-6 2zm9 0zm-14 1zm1 1zm7 0zm-2 3zm6 0zm2 1zm-14 7zm11 1zm2 0zm2 0zm-11 1zm3 1zm6 0zm2 1zm0 1zm-1 1zm-13 3zm-2 1zm7 0zm0 1zm2 1zm-6 1zm12 3zm-15 1zm3 1zm11 0zm-3 1zm-9 1zm8 1zm-1 4zm1 0zm-1 1zm-7 2zm-3 2zm0 0zm5 0zm7 0zm1 0zm-2 1zm-10 2zm7 0zm4 2zm2 0zm-1 1zm-9 1zm11 2zm-14 1zm9 1zm-1 1zm-2 2zm8 1zm0 1zm-2 1zm0 0zm-3 1zm-9 1zm4 0zm12 1zm-14 1zm14 0zm-17 3zm5 0zm-1 2zm-2 1zm1 0zm12 0zm1 0zm0 1zm-11 1zm5 1zm-3 1zm9 0zm-4 1zm2 0zm-10 2zm8 0zm5 1zm-13 3zm3 0zm0 0zm5 0zm5 1zm-11 1zm-3 1zm12 0zm-5 1zm2 3zm-8 2zm12 0zm-16 1zm6 0zm8 1zm-4 1zm-9 1zm8 0zm-5 1zm11 0zm1 0zm-14 1zm15 0zm0 1zm-15 1zm3 1zm1 0zm3 0zm-8 1zm15 2zm-16 1zm8 3zm-8 1zm11 0zm-5 1zm4 0zm-3 3zm6 0zm-13 2zm1 0zm13 0zm-14 1zm6 0zm5 0zm-4 1zm-4 1zm5 0zm-1 1zm0 0zm6 0zm-6 3zm7 0zm3 0zm-14 1zm11 0zm-6 1zm3 0zm0 0zm2 1zm4 0zm-3 3zm-13 4zm-1 2zm10 0zm7 0zm-9 3zm1 0zm5 0zm-14 2zm1 0zm-1 1zm2 2zm27 0zm-10 3zm9 1zm-2 1zm6 1zm-8 1zm0-26zm8 0zm-4 1zm0 0zm1 1zm1 0zm1 0zm3 0zm0 0zm1 0zm-14 1zm5 2zm0 1zm5 0zm-8 1zm-5 1zm2 1zm11 0zm1 0zm1 0zm-1 1zm-13 2zm4 1zm4 0zm2 1zm5 0zm1 0zm-6 1zm-4 1zm-4 1zm10-35zm-12 2zm12 1zm-12 1zm1 0zm6 0zm9 0zm0 0zm-12 1zm9 0zm-13 1zm6 0zm3 0zm4 0zm-7 1zm-6 1zm9 0zm0 0zm4 0zm-11 1zm12 0zm1 0zm-14 1zm-1 1zm4 0zm1 0zm11 0zm-13 1zm8 0zm2 0zm-9 2zm7 0zm2 1zm-12 1zm1 0zm0 1zm6 0zm2 0zm1 0zm-11-35zm3 0zm10 0zm3 0zm-1 1zm-13 1zm8 0zm0 0zm4 0zm-10 1zm10 0zm-3 1zm4 0zm-11 2zm10 0zm-11 1zm-4 1zm5 0zm4 0zm8 0zm-13 1zm6 0zm-4 1zm5 0zm3 0zm-12 1zm13 0zm-13 1zm15 0zm-6 1zm2 2zm2 0zm-9 1zm7 0zm0 0zm-2 1zm0 0zm-3-35zm3 0zm-3 1zm4 0zm2 0zm-9 1zm7 0zm1 0zm-3 1zm-7 2zm1 0zm5 0zm3 0zm5 0zm-9 1zm-3 1zm4 0zm-9 1zm2 0zm9 0zm-11 1zm4 0zm5 0zm7 0zm-14 1zm10 0zm-12 1zm1 0zm7 0zm2 0zm3 0zm-1 1zm4 0zm-11 1zm1 0zm2 0zm8 0zm-5 1zm6 0zm-6 1zm-7 1zm5 0zm0 0zm1 0zm-9 1zm9 0zm7 0zm-8-35zm6 0zm1 1zm-2 1zm-3 1zm4 0zm-6 1zm2 0zm4 0zm-15 1zm10 0zm5 0zm-14 1zm12 0zm4 0zm-15 1zm4 0zm3 0zm5 0zm1 0zm-5 1zm6 0zm1 0zm-17 1zm8 0zm2 0zm5 0zm-8 2zm2 0zm1 0zm6 0zm-12 1zm3 0zm10 0zm-15 1zm3 0zm0 0zm8 0zm0 0zm-13 1zm11 0zm3 0zm2 0zm-10 1zm4 0zm4 0zm0 0zm-10 1zm11 0zm-1 1zm1 0zm-5-35zm2 0zm-10 2zm-1 1zm13 0zm-8 1zm10 0zm-3 1zm1 0zm3 1zm-12 1zm3 0zm7 0zm-14 1zm1 0zm6 0zm0 0zm9 3zm-10 1zm-1 1zm6 0zm3 0zm2 0zm-14 1zm2 0zm2 0zm-4 2zm14 0zm-15 1zm14 0zm-11-35zm9 0zm0 0zm-14 5zm12 0zm-9 1zm5 0zm8 0zm-13 1zm9 0zm-11 1zm0 0zm4 3zm2 0zm6 1zm-7 1zm2 0zm-7 1zm15 0zm-16 2zm13 1zm1 0zm3 0zm-9-35zm7 0zm-13 1zm15 0zm-8 2zm5 0zm-10 1zm-2 1zm1 3zm1 0zm1 2zm10 0zm2 0zm0 0zm-6 1zm2 0zm-5 1zm-5 1zm2 0zm12 1zm-14 1zm9 0zm2 0zm-10 1zm2 1zm11 0zm-5-35zm-4 1zm0 0zm8 0zm-14 2zm5 0zm10 0zm-8 2zm8 0zm-1 1zm-2 1zm0 2zm-1 2zm-5 2zm1 1zm1 0zm1 0zm6 0zm-9-31zm8 1zm-9 4zm-2 1zm5 0zm7 1zm-11 1zm5 0zm-3 1zm5 0zm-5 1zm5 2zm-13 2zm0 1zm12 0zm-8 1zm0-34zm12 1zm-8 3zm2 1zm-1 2zm5 0zm2 4zm-16 1zm6 1zm4 0zm7 0zm-3 1zm-11 1zm7 0zm-7-29zm8 0zm-9 3zm8 3zm2 6zm1-26zm-3 1zm1 0zm-3 5zm6 1zm-12-31zm8 0zm5 0zm-1 2zm-2 1zm-5 5zm5-23zm5 1zm-7 2zm5-12zm-13-44zm14 5zm-12 5zm0-64zm17 61zm3 36zm-2 3zm-2 11zm13 0zm-13 17zm3 1zm7 10zm-6 1zm-4 6zm-1 2zm9 1zm7 1zm-15 1zm1 0zm12 2zm-2 1zm1 1zm2 1zm-7 2zm-8 3zm-1 1zm6 1zm4 0zm-1 1zm-3 1zm9 1zm-9 4zm11 0zm-2 2zm-7 2zm0 2zm6 2zm-12 1zm10 0zm-11 1zm4 0zm-2 2zm6 0zm6 3zm-4 1zm0 1zm-2 4zm-5 2zm8 0zm2 0zm-4 1zm2 1zm-12 2zm16 0zm-12 1zm0 0zm1 0zm-5 1zm3 0zm4 0zm4 0zm-6 1zm8 0zm-2 2zm-9 1zm6 0zm0 0zm-7 3zm1 0zm0 0zm1 0zm9 0zm-6 1zm0 0zm5 1zm-8 2zm3 0zm3 0zm7 0zm-16 1zm13 1zm-2 1zm-7 1zm10 0zm-12 1zm1 0zm9 0zm-8 1zm2 0zm4 1zm0 0zm7 0zm0 1zm-7 4zm-1 1zm-9 1zm11 0zm-9 1zm3 0zm0 0zm-4 2zm2 0zm8 0zm0 0zm1 0zm-7 1zm-2 1zm10 0zm1 0zm0 0zm0 0zm2 0zm-16 1zm7 0zm1 0zm0 1zm-2 2zm10 0zm-16 1zm13 1zm-2 1zm0 0zm6 0zm-16 1zm2 0zm4 0zm2 0zm-4 1zm0 0zm2 0zm-6 1zm3 0zm5 0zm2 0zm1 1zm4 0zm-14 2zm12 0zm-12 1zm13 0zm2 0zm-14 1zm6 0zm-9 1zm1 0zm6 0zm2 0zm-5 1zm11 0zm0 0zm-13 1zm6 0zm-7 1zm3 0zm8 0zm4 0zm-14 1zm2 1zm5 1zm3 0zm-11 1zm12 0zm2 0zm1 0zm-3 1zm2 0zm-11 1zm8 0zm1 0zm-4 1zm-8 1zm5 0zm4 0zm2 0zm-11 1zm1 0zm3 0zm2 0zm1 0zm2 0zm-6 1zm1 0zm2 0zm-3 1zm7 0zm0 1zm4 0zm-15 1zm4 0zm6 0zm1 0zm-8 1zm4 0zm2 0zm0 0zm6 0zm-7 1zm-6 1zm1 0zm11 0zm1 0zm2 0zm-16 1zm12 0zm2 0zm-11 1zm1 0zm1 0zm10 0zm-11 1zm4 0zm8 0zm-14 1zm0 0zm10 0zm1 0zm0 0zm0 0zm1 0zm2 0zm-14 1zm4 0zm5 0zm-1 1zm0 0zm2 0zm-9 1zm6 0zm2 0zm1 0zm1 0zm1 0zm1 0zm-15 1zm3 0zm5 0zm-8 2zm1 0zm3 0zm2 0zm4 0zm6 0zm0 0zm-15 1zm1 0zm4 0zm4 0zm0 0zm-7 1zm0 0zm6 0zm2 0zm-3 1zm-4 1zm1 0zm-4 1zm6 0zm-6 1zm0 0zm3 0zm4 0zm4 0zm3 0zm0 0zm-12 1zm5 0zm4 0zm1 0zm-2 1zm4 0zm1 0zm-7 1zm1 0zm1 0zm-9 1zm1 0zm4 0zm4 0zm5 1zm-16 2zm3 0zm4 0zm9 0zm-6 1zm5 0zm-16 1zm2 0zm0 0zm3 0zm4 0zm0 0zm6 0zm-13 1zm6 0zm0 0zm6 0zm0 0zm2 0zm-13 1zm-1 1zm4 0zm2 0zm4 0zm1 0zm4 0zm-16 1zm5 0zm5 0zm0 0zm0 0zm6 0zm0 0zm-15 1zm12 0zm2 0zm-15 1zm1 0zm1 0zm0 0zm5 0zm1 0zm2 0zm3 0zm0 0zm2 0zm0 0zm-13 1zm5 0zm1 0zm7 0zm1 0zm-17 1zm5 0zm1 0zm2 0zm7 0zm-9 1zm0 0zm1 0zm3 0zm5 0zm0 0zm-8 1zm5 0zm0 0zm-12 1zm1 0zm13 0zm-13 1zm3 0zm5 0zm5 0zm0 0zm0 0zm1 0zm0 0zm-15 1zm11 0zm-8 1zm4 0zm1 0zm1 0zm3 0zm-11 1zm0 0zm9 0zm1 0zm1 0zm-9 1zm4 0zm3 0zm2 0zm3 0zm-14 1zm1 0zm5 0zm4 0zm3 0zm1 0zm-15 1zm1 0zm1 0zm1 0zm4 0zm0 0zm2 0zm5 0zm-14 1zm5 0zm3 0zm7 0zm-13 1zm0 0zm9 0zm0 0zm2 0zm4 0zm-9 2zm0 0zm3 0zm5 0zm-8 1zm3 0zm2 0zm1 0zm1 0zm2 0zm-16 1zm4 0zm2 0zm2 0zm5 0zm0 0zm0 0zm2 0zm-14 1zm3 0zm9 0zm2 0zm1 0zm-17 1zm2 0zm6 0zm1 0zm3 0zm3 0zm-11 1zm3 0zm4 0zm5 0zm1 0zm-15 1zm4 0zm8 0zm-14 1zm2 0zm0 0zm8 0zm2 0zm3 0zm0 0zm-14 1zm4 0zm9 0zm2 0zm0 0zm0 0zm-16 1zm2 0zm5 0zm10 0zm-17 1zm3 0zm2 0zm2 0zm4 0zm2 0zm-13 1zm1 0zm9 0zm4 0zm1 0zm-9 1zm2 0zm0 0zm4 0zm2 0zm1 0zm1 0zm1 0zm-16 1zm7 0zm6 0zm0 0zm1 0zm0 0zm-10 1zm0 0zm1 0zm3 0zm3 0zm3 0zm0 0zm1 0zm-12 1zm1 0zm6 0zm3 0zm3 0zm-15 1zm10 0zm5 0zm-14 1zm11 0zm3 0zm0 0zm-13 1zm1 0zm0 0zm2 0zm2 0zm2 0zm6 0zm-5 1zm0 0zm-12 1zm7 0zm1 0zm0 0zm2 0zm4 0zm-13 1zm5 0zm6 0zm1 0zm2 0zm0 0zm-11 1zm6 0zm3 0zm1 0zm-6 1zm-4 1zm2 0zm1 0zm7 0zm-12 1zm3 0zm0 0zm2 0zm7 0zm-11 1zm1 0zm7 0zm1 0zm1 0zm-11 1zm6 0zm0 0zm7 0zm1 0zm0 0zm1 0zm-6 1zm4 0zm2 0zm-5 1zm-10 1zm3 0zm1 0zm10 0zm-10 1zm0 0zm4 0zm6 0zm1 0zm-13 1zm0 0zm3 0zm1 0zm0 0zm1 0zm6 0zm0 0zm-15 1zm9 0zm-4 1zm-3 1zm8 0zm0 0zm1 0zm-3 1zm5 0zm-8 2zm6 0zm4 0zm-12 1zm0 0zm1 0zm4 0zm4 0zm1 0zm-10 1zm3 0zm1 0zm10 0zm-12 1zm1 0zm5 0zm2 0zm2 0zm-1 1zm1 1zm-15 1zm1 0zm6 0zm6 0zm1 0zm-12 1zm15 0zm-13 1zm2 0zm6 0zm3 0zm-7 1zm1 0zm-8 1zm5 0zm1 0zm0 0zm7 0zm0 0zm2 0zm1 0zm-14 2zm0 0zm6 0zm3 0zm-8 1zm1 0zm10 0zm-13 1zm2 0zm1 0zm4 0zm1 0zm6 0zm-8 1zm5 0zm3 0zm-16 1zm5 0zm3 0zm-8 1zm2 0zm9 1zm6 1zm-5 1zm2 0zm0 0zm2 0zm-4 2zm-5 1zm-6 2zm4 0zm3 0zm9 0zm-11 2zm-2 2zm11 1zm5-8zm6 1zm-1 1zm5 0zm1 0zm3 1zm-6 1zm3 0zm2 1zm-8 1zm1 0zm-8-24zm1 0zm3 0zm5 0zm-7 1zm0 0zm1 0zm0 0zm1 0zm1 0zm1 0zm0 0zm6 0zm1 0zm0 0zm1 0zm-13 1zm4 0zm2 0zm4 0zm4 0zm1 0zm0 0zm1 0zm0 0zm-11 1zm6 0zm1 0zm-11 1zm0 0zm8 0zm0 1zm2 0zm-10 1zm5 0zm0 0zm3 0zm6 0zm0 0zm-15 1zm2 0zm3 0zm4 0zm7 0zm-14 1zm1 0zm1 0zm2 0zm1 0zm3 0zm5 0zm1 0zm-9 1zm-8 1zm1 0zm10 0zm6 0zm-16 1zm12 0zm0 0zm1 0zm-10 1zm9 0zm2 0zm2 0zm-13 1zm2 0zm4 0zm1 0zm2 0zm3 0zm-16 1zm9 0zm3 0zm5 0zm-17 1zm5 0zm0 0zm4 0zm5 0zm2 0zm-1 1zm-14 1zm12 0zm2 0zm1 0zm-16-35zm0 0zm3 0zm4 0zm3 0zm5 0zm2 0zm-17 1zm8 0zm0 0zm0 0zm7 0zm1 0zm-16 1zm3 0zm1 0zm2 0zm2 0zm2 0zm2 0zm2 0zm3 0zm-11 1zm1 0zm1 0zm1 0zm2 0zm1 0zm-12 1zm1 0zm9 0zm2 0zm0 0zm2 0zm2 0zm-12 1zm1 0zm0 0zm1 0zm9 0zm0 0zm1 0zm-16 1zm1 0zm2 0zm2 0zm6 0zm1 0zm1 0zm1 0zm2 0zm-15 1zm1 0zm2 0zm1 0zm1 0zm3 0zm1 0zm0 0zm1 0zm1 0zm0 0zm3 0zm-15 1zm2 0zm4 0zm3 0zm1 0zm1 0zm0 0zm1 0zm3 0zm1 0zm-14 1zm2 0zm3 0zm1 0zm3 0zm2 0zm1 0zm-14 1zm2 0zm0 0zm6 0zm2 0zm2 0zm0 0zm1 0zm1 0zm0 0zm0 0zm1 0zm-15 1zm3 0zm9 0zm1 0zm2 0zm-13 1zm1 0zm2 0zm2 0zm9 0zm1 0zm-8 1zm6 0zm-15 1zm1 0zm1 1zm1 0zm8 0zm1 0zm1 0zm0 0zm4 0zm-17 1zm4 0zm5 0zm7 0zm-14 1zm0 0zm3 0zm4 0zm2 0zm2 0zm2 0zm-15-35zm1 0zm1 0zm5 0zm1 0zm1 0zm5 0zm1 0zm1 0zm-15 1zm5 0zm5 0zm6 0zm-12 1zm0 0zm1 0zm1 0zm0 0zm0 0zm1 0zm-6 1zm5 0zm5 0zm2 0zm3 0zm0 0zm-15 1zm1 0zm4 0zm3 0zm7 0zm-17 1zm3 0zm1 0zm1 0zm1 0zm2 0zm1 0zm4 0zm1 0zm-12 1zm1 0zm6 0zm7 0zm-15 1zm6 0zm6 0zm2 0zm2 0zm-16 1zm0 0zm1 0zm4 0zm4 0zm6 0zm0 0zm1 0zm-17 1zm1 0zm2 0zm1 0zm0 0zm0 0zm1 0zm1 0zm2 0zm7 0zm0 0zm2 0zm-15 1zm0 0zm4 0zm3 0zm0 0zm1 0zm0 0zm1 0zm0 0zm3 0zm-13 1zm2 0zm8 0zm2 0zm0 0zm-11 1zm4 0zm1 0zm2 0zm3 0zm-12 1zm3 0zm1 0zm0 0zm1 0zm1 0zm1 0zm0 0zm0 0zm4 0zm1 0zm0 0zm1 0zm3 0zm-14 1zm3 0zm0 0zm1 0zm1 0zm3 0zm3 0zm0 0zm1 0zm-11 1zm4 0zm5 0zm1 0zm1 0zm-13 1zm8 0zm3 0zm5 0zm-10 1zm1 0zm0 0zm4 0zm2 0zm-12-35zm6 0zm3 0zm4 0zm-3 1zm2 0zm2 0zm1 0zm-17 1zm0 0zm1 0zm1 0zm2 0zm1 0zm0 0zm4 0zm7 0zm1 0zm0 0zm-12 1zm6 0zm-10 1zm1 0zm0 0zm3 0zm1 0zm0 0zm10 0zm1 0zm0 0zm-12 1zm-3 1zm8 0zm3 0zm1 0zm1 0zm1 0zm0 0zm-16 1zm2 0zm1 0zm4 0zm9 0zm1 0zm0 0zm0 0zm-16 1zm2 0zm1 0zm1 0zm4 0zm1 0zm1 0zm3 0zm0 0zm-13 1zm4 0zm1 0zm2 0zm2 0zm1 0zm1 0zm2 0zm0 0zm3 0zm0 0zm-17 1zm4 0zm0 0zm6 0zm1 0zm2 0zm1 0zm-14 1zm2 0zm4 0zm1 0zm0 0zm2 0zm3 0zm1 0zm4 0zm-17 1zm4 0zm0 0zm0 0zm7 0zm0 0zm3 0zm1 0zm1 0zm-12 1zm0 0zm3 0zm1 0zm1 0zm6 0zm0 0zm1 0zm-15 1zm8 0zm1 0zm1 0zm2 0zm1 0zm-13 1zm2 0zm2 0zm0 0zm3 0zm3 0zm4 0zm0 0zm1 0zm-7 1zm3 0zm1 0zm0 0zm1 0zm0 0zm1 0zm2 0zm-14 1zm4 0zm4 0zm1 0zm0 0zm0 0zm4 0zm-12-35zm4 0zm5 0zm4 0zm-9 1zm6 0zm-10 1zm0 0zm9 0zm1 0zm-14 1zm3 0zm10 0zm4 0zm-16 1zm2 0zm1 0zm7 0zm2 0zm-6 1zm2 0zm1 0zm0 0zm-9 1zm1 0zm2 0zm0 0zm2 0zm3 0zm1 0zm0 0zm1 0zm1 0zm0 0zm0 0zm5 0zm-17 1zm1 0zm14 0zm-12 1zm10 0zm0 0zm1 0zm-8 1zm0 0zm4 0zm0 0zm-7 1zm3 0zm1 0zm0 0zm1 0zm1 0zm1 0zm0 0zm1 0zm1 0zm0 0zm2 0zm1 0zm2 0zm0 0zm-14 1zm7 0zm1 0zm-6 1zm9 0zm0 0zm1 1zm-4 1zm4 0zm-15 1zm0 0zm10 0zm0 0zm1 0zm-7 1zm10 0zm1 0zm2 0zm-15 1zm1 0zm1 0zm1 0zm2 0zm8 0zm0 0zm2 0zm-17-35zm1 0zm1 1zm2 0zm1 0zm7 0zm-6 1zm0 0zm9 0zm1 0zm-15 1zm2 0zm9 0zm0 0zm-11 1zm2 0zm10 0zm1 0zm-13 1zm1 0zm0 0zm9 1zm-10 1zm2 0zm6 0zm2 0zm1 0zm-12 1zm5 0zm1 0zm6 0zm-10 1zm2 0zm0 0zm3 0zm2 0zm2 0zm-6 1zm3 0zm5 0zm3 0zm-7 1zm1 0zm-10 1zm1 0zm6 0zm1 0zm1 0zm3 0zm2 0zm1 0zm-11 1zm2 0zm5 0zm3 0zm-10 1zm5 0zm7 0zm0 1zm-16 1zm5 0zm3 0zm3 0zm2 0zm4 0zm0 0zm-15 1zm3 0zm4 0zm4 0zm-12-35zm11 0zm1 0zm4 0zm-10 1zm4 0zm-6 1zm6 0zm1 0zm-4 1zm5 0zm2 0zm2 0zm-1 1zm-16 1zm7 0zm5 0zm-8 1zm1 0zm9 0zm-10 1zm6 0zm-8 1zm6 0zm6 0zm1 0zm0 0zm1 0zm0 0zm1 0zm-9 1zm-5 1zm1 0zm1 0zm8 0zm2 0zm-2 1zm4 0zm-12 1zm1 0zm11 0zm-15 1zm2 0zm4 0zm-8 1zm3 0zm5 0zm1 0zm3 0zm-11 1zm8 0zm0 0zm3 0zm-9 1zm7 0zm3 0zm1 0zm1 0zm2 0zm-15 1zm1 0zm5 0zm7 0zm-14-35zm10 0zm-9 1zm1 0zm-3 1zm7 2zm9 0zm-9 1zm1 0zm0 0zm9 0zm-8 1zm1 0zm-6 1zm5 0zm4 0zm-11 1zm3 1zm-2 1zm0 0zm6 1zm4 0zm-11 1zm10 0zm-7 1zm1 0zm6 0zm-2 1zm6 0zm-11 1zm1 0zm4 0zm1 1zm-5 1zm1-35zm7 1zm2 0zm-13 1zm9 1zm-2 1zm-7 2zm0 1zm1 1zm-2 1zm5 0zm-3 1zm-1 3zm2 0zm2 0zm6 0zm-13 1zm5 0zm3 0zm-3 1zm-4 1zm2 0zm1-34zm4 0zm-4 2zm13 1zm-11 2zm2 0zm-2 4zm11 0zm-16 1zm4 1zm-3 1zm1 0zm4 0zm1 3zm0 0zm-1 1zm0 0zm1 0zm7 0zm2-26zm-10 4zm3 0zm-5 3zm3 0zm7 0zm-6 2zm6-35zm-14 2zm12 10zm-7 1zm-5 2zm0-33zm0 8zm6 4zm-7 3zm9 2zm-3-28zm6 4zm19-46zm0 75zm-6 16zm5 8zm-4 3zm-3 5zm2 8zm-6 3zm-1 4zm2 0zm-2 2zm12 3zm-5 3zm6 0zm-13 1zm5 2zm3 3zm1 0zm-9 3zm2 1zm2 0zm12 0zm-15 1zm1 0zm-1 1zm3 1zm2 0zm-1 1zm-2 1zm12 1zm-7 2zm1 0zm5 0zm-14 1zm3 1zm1 0zm5 0zm-8 1zm3 0zm-2 2zm1 0zm1 0zm2 0zm9 0zm0 1zm-13 1zm14 0zm-7 1zm5 0zm1 0zm1 1zm-13 2zm6 0zm1 0zm3 0zm0 0zm-12 1zm7 0zm5 0zm-10 1zm0 0zm10 0zm-10 1zm0 0zm12 0zm2 0zm-14 1zm1 0zm2 0zm1 2zm2 0zm2 0zm2 0zm2 0zm2 0zm-16 1zm2 0zm3 0zm7 0zm-9 1zm2 0zm5 0zm2 0zm3 0zm1 0zm-4 1zm-13 1zm1 0zm14 1zm2 0zm-17 2zm5 0zm5 0zm-10 1zm2 0zm1 0zm0 0zm5 0zm1 0zm7 0zm-5 1zm-7 1zm10 0zm2 0zm-6 1zm0 0zm-9 1zm1 0zm8 0zm6 0zm0 0zm0 0zm1 0zm-17 1zm1 0zm5 0zm3 0zm5 0zm3 0zm-12 1zm3 0zm4 0zm0 0zm-7 2zm3 0zm5 0zm4 0zm-15 1zm2 1zm0 1zm6 0zm1 0zm1 0zm0 0zm1 0zm2 0zm2 0zm-16 1zm12 0zm-9 1zm2 0zm1 0zm0 0zm-7 1zm1 0zm7 0zm3 1zm-11 1zm5 0zm3 0zm6 0zm3 0zm0 0zm-16 1zm1 0zm3 0zm3 0zm3 0zm6 0zm-17 1zm9 0zm2 0zm1 0zm4 0zm-15 1zm1 0zm1 0zm3 0zm10 0zm-15 1zm2 0zm0 0zm8 0zm2 0zm-11 1zm1 0zm6 0zm2 0zm3 0zm1 0zm-15 1zm6 0zm1 0zm0 0zm5 0zm4 0zm-14 1zm5 0zm3 0zm0 0zm7 0zm-17 1zm1 0zm0 0zm2 0zm-2 1zm1 0zm3 0zm5 0zm3 0zm2 0zm1 0zm-8 1zm3 0zm1 0zm1 0zm-10 1zm1 0zm1 0zm3 0zm1 0zm0 0zm4 0zm3 0zm-15 1zm4 0zm1 0zm2 0zm2 0zm1 0zm2 0zm0 0zm1 0zm1 0zm0 0zm0 0zm1 0zm-15 1zm3 0zm1 0zm0 0zm8 0zm1 0zm-13 1zm2 0zm1 0zm1 0zm0 0zm-3 1zm9 0zm2 0zm3 0zm-6 1zm1 0zm0 0zm2 0zm0 0zm1 0zm1 0zm1 0zm-13 1zm1 0zm1 0zm9 0zm0 0zm-11 1zm3 0zm2 0zm1 0zm2 0zm0 0zm-7 1zm3 0zm0 0zm5 0zm0 0zm1 0zm0 0zm2 0zm2 0zm-15 1zm1 0zm1 0zm0 0zm1 0zm1 0zm1 0zm0 0zm9 0zm1 0zm-17 1zm3 0zm1 0zm1 0zm2 0zm3 0zm2 0zm1 0zm-12 1zm0 0zm1 0zm0 0zm2 0zm2 0zm3 0zm0 0zm6 0zm-15 1zm1 0zm2 0zm0 0zm0 0zm2 0zm1 0zm0 0zm3 0zm0 0zm1 0zm0 0zm1 0zm1 0zm2 0zm1 0zm1 0zm-16 1zm1 0zm0 0zm1 0zm2 0zm5 0zm0 0zm1 0zm2 0zm2 0zm3 0zm-16 1zm4 0zm0 0zm2 0zm4 0zm1 0zm0 0zm3 0zm0 0zm1 0zm-15 1zm0 0zm4 0zm2 0zm6 0zm-10 1zm0 0zm1 0zm1 0zm2 0zm1 0zm2 0zm0 0zm2 0zm1 0zm1 0zm1 0zm1 0zm-16 1zm6 0zm2 0zm1 0zm1 0zm2 0zm2 0zm2 0zm-16 1zm1 0zm6 0zm0 0zm1 0zm2 0zm0 0zm2 0zm1 0zm0 0zm1 0zm2 0zm-12 1zm1 0zm0 0zm1 0zm1 0zm8 0zm1 0zm0 0zm-16 1zm7 0zm0 0zm3 0zm0 0zm1 0zm2 0zm1 0zm1 0zm1 0zm-15 1zm1 0zm3 0zm0 0zm1 0zm1 0zm0 0zm0 0zm8 0zm0 0zm-13 1zm1 0zm0 0zm2 0zm2 0zm3 0zm1 0zm2 0zm2 0zm1 0zm-12 1zm3 0zm0 0zm0 0zm1 0zm0 0zm2 0zm1 0zm1 0zm1 0zm3 0zm0 0zm1 0zm-15 1zm2 0zm0 0zm2 0zm0 0zm2 0zm3 0zm2 0zm3 0zm-14 1zm0 0zm5 0zm1 0zm1 0zm1 0zm1 0zm5 0zm0 0zm-14 1zm0 0zm0 0zm1 0zm1 0zm6 0zm1 0zm1 0zm2 0zm0 0zm0 0zm-14 1zm1 0zm4 0zm2 0zm0 0zm4 0zm2 0zm4 0zm-14 1zm0 0zm1 0zm2 0zm5 0zm0 0zm0 0zm0 0zm2 0zm0 0zm3 0zm-12 1zm2 0zm0 0zm1 0zm4 0zm0 0zm0 0zm2 0zm0 0zm2 0zm0 0zm2 0zm-16 1zm0 0zm1 0zm1 0zm1 0zm3 0zm1 0zm2 0zm1 0zm3 0zm0 0zm1 0zm1 0zm-16 1zm4 0zm1 0zm3 0zm2 0zm2 0zm1 0zm0 0zm0 0zm2 0zm1 0zm-16 1zm4 0zm1 0zm3 0zm3 0zm1 0zm1 0zm0 0zm1 0zm1 0zm1 0zm-16 1zm3 0zm1 0zm0 0zm2 0zm3 0zm4 0zm3 0zm0 0zm1 0zm-17 1zm2 0zm1 0zm0 0zm1 0zm2 0zm1 0zm3 0zm2 0zm3 0zm1 0zm-14 1zm2 0zm3 0zm0 0zm2 0zm2 0zm3 0zm-12 1zm2 0zm3 0zm1 0zm0 0zm2 0zm4 0zm0 0zm3 0zm0 0zm-15 1zm3 0zm4 0zm0 0zm2 0zm4 0zm1 0zm1 0zm-16 1zm6 0zm1 0zm2 0zm1 0zm1 0zm1 0zm0 0zm-13 1zm3 0zm1 0zm3 0zm3 0zm0 0zm4 0zm1 0zm0 0zm0 0zm1 0zm-16 1zm0 0zm0 0zm6 0zm4 0zm1 0zm0 0zm0 0zm2 0zm2 0zm1 0zm-14 1zm0 0zm3 0zm1 0zm2 0zm5 0zm0 0zm0 0zm2 0zm0 0zm0 0zm0 0zm-15 1zm1 0zm10 0zm0 0zm1 0zm1 0zm4 0zm-17 1zm0 0zm4 0zm1 0zm1 0zm1 0zm4 0zm1 0zm2 0zm1 0zm1 0zm-13 1zm1 0zm0 0zm4 0zm4 0zm0 0zm0 0zm3 0zm-10 1zm2 0zm2 0zm0 0zm1 0zm2 0zm1 0zm3 0zm1 0zm-16 1zm1 0zm2 0zm1 0zm2 0zm0 0zm3 0zm0 0zm3 0zm1 0zm2 0zm1 0zm0 0zm-17 1zm3 0zm0 0zm1 0zm3 0zm3 0zm2 0zm3 0zm-14 1zm2 0zm5 0zm3 0zm1 0zm2 0zm0 0zm0 0zm1 0zm0 0zm2 0zm-16 1zm4 0zm1 0zm0 0zm2 0zm2 0zm1 0zm0 0zm1 0zm1 0zm3 0zm-15 1zm2 0zm3 0zm1 0zm1 0zm2 0zm0 0zm4 0zm-12 1zm1 0zm1 0zm1 0zm2 0zm0 0zm0 0zm1 0zm1 0zm2 0zm0 0zm1 0zm1 0zm1 0zm0 0zm0 0zm3 0zm-17 1zm0 0zm2 0zm3 0zm3 0zm5 0zm2 0zm-13 1zm1 0zm1 0zm0 0zm3 0zm0 0zm3 0zm1 0zm1 0zm1 0zm1 0zm1 0zm2 0zm-17 1zm1 0zm2 0zm2 0zm4 0zm3 0zm0 0zm4 0zm-15 1zm2 0zm2 0zm1 0zm6 0zm0 0zm2 0zm1 0zm-15 1zm2 0zm1 0zm3 0zm6 0zm3 0zm-15 1zm1 0zm5 0zm1 0zm0 0zm2 0zm1 0zm1 0zm0 0zm0 0zm1 0zm1 0zm3 0zm-10 1zm0 0zm1 0zm0 0zm2 0zm0 0zm2 0zm2 0zm1 0zm2 0zm1 0zm-16 1zm5 0zm5 0zm1 0zm2 0zm3 0zm-16 1zm6 0zm4 0zm1 0zm3 0zm-7 1zm1 0zm1 0zm0 0zm-10 1zm3 0zm2 0zm1 0zm0 0zm0 0zm4 0zm3 0zm0 0zm2 0zm0 0zm0 0zm-15 1zm1 0zm1 0zm4 0zm4 0zm0 0zm1 0zm3 0zm3 0zm-17 1zm0 0zm1 0zm1 0zm0 0zm5 0zm3 0zm1 0zm0 0zm1 0zm2 0zm1 0zm-15 1zm2 0zm2 0zm0 0zm2 0zm2 0zm4 0zm1 0zm2 0zm1 0zm0 0zm1 0zm0 0zm-15 1zm1 0zm4 0zm0 0zm2 0zm-7 1zm6 0zm2 0zm3 0zm3 0zm-16 1zm3 0zm5 0zm5 0zm3 0zm1 0zm-16 1zm1 0zm2 0zm4 0zm1 0zm1 0zm1 0zm1 0zm4 0zm0 0zm1 0zm-17 1zm9 0zm0 0zm-7 1zm7 0zm2 0zm5 0zm-9 1zm0 0zm1 0zm3 0zm3 0zm-7 1zm2 0zm3 0zm1 0zm2 0zm2 0zm-12 1zm2 0zm2 0zm-6 1zm13 0zm1 0zm-13 1zm4 0zm1 0zm4 0zm2 0zm1 0zm-15 1zm1 0zm1 0zm0 0zm8 1zm0 0zm1 0zm1 0zm1 0zm2 0zm-6 1zm4 0zm-14 1zm3 0zm4 0zm9 0zm-14 1zm0 0zm4 0zm2 0zm6 0zm-2 1zm-12 1zm7 0zm2 0zm3 0zm-12 1zm2 0zm13 0zm-10 1zm4 0zm2 1zm-7 1zm4 0zm1 0zm8 0zm-15 1zm0 0zm12 0zm0 0zm1 0zm-10 1zm5 0zm-10 2zm0 0zm5 0zm-4 1zm7 0zm-5 1zm2 1zm7 0zm17-7zm4 0zm2 0zm-17 1zm15 0zm0 0zm-15 1zm14 0zm3 0zm-5 1zm-12 1zm6 0zm0 0zm3 0zm-5 2zm13 0zm-16 1zm5 1zm-1-26zm1 0zm1 0zm2 0zm0 0zm2 0zm0 0zm4 0zm-15 1zm4 0zm1 0zm1 0zm0 0zm6 0zm4 0zm1 0zm-17 1zm1 0zm1 0zm2 0zm0 0zm3 0zm6 0zm1 0zm1 0zm0 0zm-15 1zm1 0zm6 0zm2 0zm1 0zm0 0zm1 0zm2 0zm2 0zm1 0zm1 0zm-17 1zm1 0zm4 0zm1 0zm0 0zm1 0zm2 0zm4 0zm1 0zm-13 1zm1 0zm2 0zm5 0zm0 0zm1 0zm1 0zm0 0zm2 0zm0 0zm1 0zm0 0zm2 0zm1 0zm-13 1zm2 0zm3 0zm4 0zm2 0zm-15 1zm5 0zm3 0zm0 0zm4 0zm1 0zm0 0zm0 0zm2 0zm1 0zm-3 1zm0 0zm3 0zm0 0zm-14 1zm1 0zm3 0zm2 0zm2 0zm6 0zm-13 1zm1 0zm3 0zm4 0zm2 0zm2 0zm2 0zm-10 1zm3 0zm2 0zm-11 1zm4 0zm0 0zm7 0zm1 0zm4 0zm-16 1zm3 0zm5 0zm-6 1zm7 0zm1 0zm4 0zm0 0zm2 0zm0 0zm-11 1zm3 0zm4 0zm2 0zm0 0zm0 0zm-10 1zm9 0zm0 1zm2 0zm0 0zm-15-35zm2 0zm1 0zm0 0zm2 0zm3 0zm1 0zm0 0zm3 0zm0 0zm2 0zm1 0zm-16 1zm1 0zm3 0zm0 0zm2 0zm2 0zm3 0zm3 0zm0 0zm1 0zm2 0zm-13 1zm1 0zm0 0zm3 0zm0 0zm3 0zm2 0zm1 0zm0 0zm3 0zm-17 1zm2 0zm2 0zm2 0zm1 0zm1 0zm1 0zm3 0zm0 0zm1 0zm-11 1zm4 0zm1 0zm1 0zm1 0zm1 0zm0 0zm2 0zm0 0zm1 0zm0 0zm0 0zm1 0zm1 0zm0 0zm1 0zm0 0zm-15 1zm2 0zm1 0zm4 0zm3 0zm0 0zm2 0zm2 0zm1 0zm-15 1zm2 0zm5 0zm1 0zm2 0zm3 0zm1 0zm2 0zm-16 1zm1 0zm1 0zm2 0zm2 0zm0 0zm1 0zm0 0zm3 0zm1 0zm1 0zm3 0zm1 0zm0 0zm-14 1zm3 0zm0 0zm2 0zm5 0zm2 0zm2 0zm-17 1zm1 0zm0 0zm1 0zm1 0zm2 0zm3 0zm0 0zm1 0zm1 0zm3 0zm1 0zm2 0zm-15 1zm1 0zm3 0zm1 0zm2 0zm0 0zm3 0zm1 0zm1 0zm-12 1zm2 0zm0 0zm3 0zm1 0zm2 0zm0 0zm0 0zm3 0zm0 0zm1 0zm4 0zm0 0zm0 0zm-17 1zm0 0zm1 0zm0 0zm0 0zm0 0zm10 0zm2 0zm0 0zm2 0zm0 0zm-14 1zm0 0zm0 0zm3 0zm3 0zm2 0zm1 0zm4 0zm1 0zm1 0zm-16 1zm7 0zm5 0zm0 0zm2 0zm1 0zm-11 1zm4 0zm1 0zm0 0zm1 0zm1 0zm5 0zm0 0zm0 0zm0 0zm-13 1zm0 0zm8 0zm2 0zm1 0zm1 0zm1 0zm1 0zm-16 1zm3 0zm2 0zm2 0zm3 0zm4 0zm0 0zm1 0zm0 0zm-9-35zm1 0zm1 0zm5 0zm-11 1zm2 0zm0 0zm1 0zm0 0zm0 0zm4 0zm3 0zm1 0zm1 0zm1 0zm0 0zm-15 1zm0 0zm0 0zm2 0zm10 0zm1 0zm3 0zm0 0zm-17 1zm2 0zm2 0zm2 0zm2 0zm2 0zm0 0zm1 0zm3 0zm0 0zm1 0zm2 0zm-14 1zm0 0zm1 0zm1 0zm2 0zm2 0zm2 0zm3 0zm1 0zm0 0zm2 0zm-17 1zm1 0zm3 0zm1 0zm1 0zm1 0zm2 0zm2 0zm0 0zm0 0zm0 0zm3 0zm2 0zm1 0zm-15 1zm1 0zm2 0zm1 0zm0 0zm8 0zm-14 1zm4 0zm1 0zm2 0zm2 0zm0 0zm4 0zm3 0zm-14 1zm1 0zm1 0zm9 0zm1 0zm1 0zm1 0zm1 0zm-16 1zm1 0zm0 0zm1 0zm0 0zm2 0zm1 0zm3 0zm2 0zm0 0zm-10 1zm2 0zm1 0zm2 0zm2 0zm1 0zm0 0zm0 0zm0 0zm1 0zm2 0zm2 0zm2 0zm1 0zm-15 1zm0 0zm1 0zm2 0zm2 0zm0 0zm4 0zm0 0zm1 0zm5 0zm-17 1zm0 0zm0 0zm1 0zm1 0zm1 0zm7 0zm1 0zm1 0zm1 0zm1 0zm0 0zm0 0zm1 0zm1 0zm0 0zm1 0zm-13 1zm1 0zm1 0zm2 0zm1 0zm1 0zm4 0zm-13 1zm1 0zm3 0zm2 0zm1 0zm6 0zm0 0zm1 0zm0 0zm0 0zm0 0zm0 0zm2 0zm-16 1zm1 0zm0 0zm0 0zm1 0zm1 0zm0 0zm0 0zm1 0zm0 0zm2 0zm2 0zm1 0zm3 0zm2 0zm0 0zm-14 1zm3 0zm1 0zm1 0zm3 0zm0 0zm2 0zm1 0zm3 0zm1 0zm0 0zm1 0zm-13 1zm1 0zm1 0zm4 0zm3 0zm0 0zm3 0zm1 0zm-11-35zm1 0zm4 0zm0 0zm2 0zm1 0zm1 0zm1 0zm1 0zm-17 1zm1 0zm0 0zm4 0zm0 0zm0 0zm1 0zm4 0zm3 0zm2 0zm1 0zm-14 1zm0 0zm2 0zm2 0zm1 0zm7 0zm1 0zm1 0zm1 0zm0 0zm-17 1zm4 0zm2 0zm1 0zm3 0zm0 0zm2 0zm1 0zm0 0zm3 0zm0 0zm1 0zm-15 1zm1 0zm0 0zm1 0zm2 0zm0 0zm2 0zm2 0zm1 0zm3 0zm0 0zm2 0zm-16 1zm2 0zm2 0zm1 0zm0 0zm0 0zm3 0zm1 0zm3 0zm1 0zm1 0zm2 0zm0 0zm-16 1zm1 0zm4 0zm1 0zm1 0zm2 0zm0 0zm1 0zm2 0zm3 0zm1 0zm0 0zm-16 1zm2 0zm0 0zm0 0zm2 0zm0 0zm2 0zm1 0zm2 0zm1 0zm2 0zm-11 1zm1 0zm1 0zm0 0zm0 0zm3 0zm2 0zm4 0zm-10 1zm0 0zm1 0zm1 0zm0 0zm4 0zm0 0zm1 0zm0 0zm3 0zm1 0zm1 0zm3 0zm-16 1zm2 0zm4 0zm2 0zm5 0zm0 0zm-14 1zm0 0zm1 0zm2 0zm0 0zm1 0zm1 0zm1 0zm0 0zm0 0zm4 0zm0 0zm5 0zm1 0zm-14 1zm3 0zm4 0zm0 0zm0 0zm2 0zm1 0zm1 0zm1 0zm3 0zm-15 1zm0 0zm1 0zm1 0zm4 0zm1 0zm1 0zm2 0zm0 0zm1 0zm1 0zm0 0zm1 0zm2 0zm0 0zm-16 1zm3 0zm1 0zm2 0zm1 0zm1 0zm2 0zm1 0zm0 0zm1 0zm1 0zm3 0zm-14 1zm1 0zm0 0zm6 0zm0 0zm5 0zm-15 1zm1 0zm2 0zm1 0zm3 0zm3 0zm0 0zm0 0zm2 0zm0 0zm0 0zm4 0zm1 0zm0 0zm-15 1zm3 0zm1 0zm2 0zm1 0zm2 0zm1 0zm0 0zm1 0zm2 0zm1 0zm-13-35zm5 0zm1 0zm0 0zm5 0zm2 0zm-13 1zm2 0zm4 0zm2 0zm1 0zm1 0zm-12 1zm2 0zm0 0zm1 0zm4 0zm2 0zm1 0zm6 0zm-11 1zm1 0zm2 0zm2 0zm4 0zm-13 1zm1 0zm1 0zm1 0zm2 0zm3 0zm1 0zm5 0zm1 0zm-16 1zm0 0zm2 0zm3 0zm0 0zm0 0zm1 0zm1 0zm0 0zm1 0zm2 0zm3 0zm0 0zm-14 1zm1 0zm5 0zm0 0zm2 0zm0 0zm2 0zm3 0zm0 0zm1 0zm2 0zm0 0zm1 0zm-9 1zm3 0zm0 0zm0 0zm4 0zm-11 1zm1 0zm2 0zm3 0zm0 0zm4 0zm-8 1zm1 0zm2 0zm4 0zm0 0zm4 0zm-16 1zm0 0zm1 0zm5 0zm1 0zm0 0zm0 0zm1 0zm1 0zm2 0zm0 0zm2 0zm-14 1zm3 0zm0 0zm3 0zm0 0zm3 0zm4 0zm1 0zm-11 1zm2 0zm2 0zm1 0zm6 0zm2 0zm0 0zm-16 1zm11 0zm2 0zm0 0zm4 0zm-17 1zm0 0zm3 0zm1 0zm2 0zm1 0zm1 0zm0 0zm0 0zm3 0zm0 0zm3 0zm1 0zm1 0zm-14 1zm6 0zm4 0zm-11 1zm0 0zm3 0zm0 0zm1 0zm2 0zm3 0zm5 0zm2 0zm-17 1zm2 0zm1 0zm0 0zm2 0zm7 0zm1 0zm1 0zm1 0zm1 0zm-15-35zm3 0zm5 0zm3 0zm-9 1zm1 0zm2 0zm5 0zm3 0zm-7 1zm4 0zm0 0zm3 0zm1 0zm1 0zm-7 1zm2 0zm2 0zm2 0zm1 0zm-16 1zm4 0zm2 0zm1 0zm2 0zm0 0zm8 0zm-17 1zm2 0zm1 0zm1 0zm11 0zm-10 1zm0 1zm1 0zm1 0zm2 0zm0 1zm3 0zm-12 1zm2 0zm4 0zm1 0zm6 0zm1 0zm1 0zm-14 1zm3 0zm6 0zm6 0zm-16 1zm4 0zm4 0zm3 0zm4 0zm2 0zm-16 1zm1 0zm3 0zm4 0zm1 0zm1 0zm0 0zm6 0zm-17 1zm7 0zm6 0zm-12 1zm2 0zm2 0zm2 0zm2 0zm0 0zm1 0zm0 0zm0 0zm1 0zm0 0zm1 0zm4 0zm0 0zm1 0zm-17 1zm0 0zm3 0zm1 0zm3 0zm4 0zm2 0zm-13 1zm1 0zm1 0zm2 0zm3 0zm0 0zm3 0zm2 0zm0 0zm4 0zm-15 1zm3 0zm0 0zm4 0zm2 0zm1 0zm-6-34zm-3 1zm3 0zm-1 1zm0 0zm2 0zm2 0zm2 0zm-3 1zm4 0zm-1 1zm-8 1zm0 1zm9 0zm4 0zm-15 1zm0 0zm2 0zm9 0zm1 0zm1 0zm3 0zm-13 1zm13 0zm-14 1zm2 0zm4 0zm5 0zm2 0zm-13 1zm0 0zm5 0zm-7 2zm0 0zm0 0zm2 0zm4 0zm3 0zm0 0zm1 0zm-6 1zm4 0zm-8 1zm9 0zm3 0zm1 0zm-12 1zm1 0zm0 0zm10 0zm-11 1zm2 0zm11 0zm-12-33zm5 1zm7 0zm0 0zm-11 4zm4 0zm-2 1zm8 1zm-8 3zm5 0zm0 0zm4 0zm-5 1zm4 0zm1 1zm3 0zm-16 2zm2 1zm12 0zm1 0zm-5-35zm1 1zm-9 6zm9 2zm1 1zm-5 1zm4 0zm-1 3zm3 1zm-11 1zm-2-26zm1 0zm5 0zm4 7zm1 0zm3 1zm-14 1zm8-21zm8 3zm-6-28zm4 6zm-7-26zm-2 3zm-3-20zm3 11zm7-32zm-1 5zm3-73zm-11 4zm2-49zm6 1zm7 13zm11 8zm3 0zm-1 6zm-11 18zm10 37zm-4 14zm-5 10zm-3 22zm-1 2zm0 5zm10 12zm0 17zm-7 11zm0 9zm10 8zm-5 2zm9 1zm-5 1zm-7 7zm-2 1zm11 2zm-13 3zm16 5zm-15 2zm1 0zm13 6zm-3 2zm-13 1zm6 2zm3 3zm2 2zm-10 2zm15 2zm-15 3zm13 0zm-2 2zm-2 1zm1 0zm-11 1zm13 0zm-4 1zm8 2zm-6 1zm-5 1zm-2 1zm9 0zm-8 1zm1 2zm6 0zm-11 1zm6 0zm3 0zm-2 1zm1 0zm8 1zm-14 1zm5 1zm-7 2zm7 0zm-8 1zm8 0zm3 0zm-9 1zm0 0zm1 2zm-1 1zm6 0zm-1 1zm2 0zm-3 1zm4 1zm2 0zm1 0zm-12 1zm3 0zm3 0zm1 0zm5 0zm1 0zm-7 2zm2 1zm-4 2zm10 0zm0 0zm-15 1zm3 0zm4 0zm0 0zm3 0zm0 0zm3 0zm-9 1zm2 0zm2 0zm1 0zm2 0zm2 0zm-12 1zm2 0zm1 0zm7 0zm2 0zm-8 1zm9 0zm3 0zm-17 1zm6 0zm8 0zm-8 1zm0 0zm4 0zm3 0zm-11 1zm2 0zm4 0zm0 0zm2 0zm2 0zm4 0zm-16 1zm6 0zm4 0zm7 0zm-17 1zm1 0zm8 0zm1 0zm1 0zm1 0zm5 0zm-17 1zm5 0zm0 0zm5 0zm3 0zm1 0zm2 0zm-5 1zm1 0zm0 0zm-9 1zm2 0zm4 0zm1 0zm-7 1zm5 0zm4 0zm1 0zm3 0zm-13 1zm1 0zm1 0zm5 0zm6 0zm-12 1zm6 0zm2 0zm1 0zm-9 1zm5 0zm0 0zm2 0zm3 0zm1 0zm0 0zm-10 1zm4 0zm-7 1zm2 0zm0 0zm1 0zm3 0zm0 0zm1 0zm3 0zm3 0zm0 0zm1 0zm-7 1zm1 0zm1 0zm0 0zm5 0zm0 0zm-14 1zm4 0zm1 0zm0 0zm3 0zm1 0zm5 0zm-14 1zm7 0zm2 0zm5 0zm0 0zm-13 1zm0 0zm3 0zm6 0zm0 0zm0 0zm4 0zm-16 1zm0 0zm1 0zm0 0zm3 0zm0 0zm6 0zm1 0zm5 0zm0 0zm-12 1zm1 0zm0 0zm2 0zm5 0zm4 0zm0 0zm1 0zm-17 1zm5 0zm11 0zm-13 1zm0 0zm1 0zm3 0zm0 0zm2 0zm-8 1zm8 0zm2 0zm1 0zm1 0zm4 0zm-14 1zm1 0zm6 0zm0 0zm1 0zm2 0zm-7 1zm2 0zm-7 1zm2 0zm2 0zm2 0zm4 0zm1 0zm2 0zm-14 1zm1 0zm4 0zm1 0zm1 0zm0 0zm3 0zm4 0zm-14 1zm10 0zm1 0zm0 0zm1 0zm4 0zm0 0zm-16 1zm0 0zm13 0zm1 0zm0 0zm2 0zm1 0zm-15 1zm2 0zm1 0zm3 0zm0 0zm1 0zm4 0zm0 0zm1 0zm2 0zm-16 1zm0 0zm2 0zm4 0zm7 0zm3 0zm1 0zm-16 1zm2 0zm1 0zm1 0zm1 0zm1 0zm3 0zm2 0zm-11 1zm2 0zm5 0zm5 0zm1 0zm2 0zm-16 1zm13 0zm3 0zm1 0zm0 0zm0 0zm0 0zm-17 1zm1 0zm1 0zm2 0zm1 0zm1 0zm2 0zm6 0zm-13 1zm0 0zm1 0zm0 0zm2 0zm3 0zm0 0zm0 0zm5 0zm1 0zm-13 1zm1 0zm4 0zm0 0zm11 0zm-15 1zm1 0zm1 0zm6 0zm0 0zm1 0zm5 0zm2 0zm-16 1zm0 0zm6 0zm0 0zm1 0zm3 0zm2 0zm4 0zm-15 1zm2 0zm1 0zm0 0zm1 0zm1 0zm3 0zm0 0zm2 0zm0 0zm2 0zm2 0zm1 0zm-16 1zm4 0zm1 0zm2 0zm0 0zm0 0zm1 0zm0 0zm1 0zm1 0zm0 0zm1 0zm0 0zm1 0zm1 0zm1 0zm-13 1zm2 0zm2 0zm0 0zm1 0zm2 0zm2 0zm0 0zm1 0zm1 0zm4 0zm-17 1zm2 0zm3 0zm0 0zm1 0zm3 0zm0 0zm0 0zm2 0zm1 0zm3 0zm2 0zm0 0zm0 0zm0 0zm-16 1zm3 0zm0 0zm3 0zm1 0zm3 0zm2 0zm2 0zm0 0zm1 0zm-12 1zm1 0zm2 0zm0 0zm0 0zm5 0zm0 0zm1 0zm-9 1zm3 0zm0 0zm0 0zm3 0zm0 0zm2 0zm3 0zm2 0zm-17 1zm0 0zm5 0zm6 0zm1 0zm2 0zm3 0zm-17 1zm1 0zm3 0zm4 0zm4 0zm0 0zm0 0zm1 0zm2 0zm-15 1zm2 0zm2 0zm2 0zm0 0zm2 0zm3 0zm2 0zm1 0zm1 0zm1 0zm-15 1zm1 0zm0 0zm1 0zm1 0zm0 0zm1 0zm2 0zm2 0zm5 0zm1 0zm0 0zm0 0zm2 0zm-16 1zm5 0zm1 0zm0 0zm2 0zm3 0zm3 0zm2 0zm-16 1zm1 0zm1 0zm0 0zm1 0zm3 0zm1 0zm2 0zm1 0zm0 0zm4 0zm0 0zm2 0zm-14 1zm1 0zm2 0zm1 0zm6 0zm1 0zm1 0zm0 0zm1 0zm0 0zm-15 1zm2 0zm0 0zm3 0zm1 0zm1 0zm1 0zm0 0zm0 0zm2 0zm0 0zm1 0zm0 0zm1 0zm2 0zm1 0zm0 0zm-16 1zm1 0zm1 0zm4 0zm0 0zm1 0zm1 0zm0 0zm0 0zm4 0zm0 0zm1 0zm1 0zm0 0zm0 0zm2 0zm0 0zm1 0zm-15 1zm3 0zm1 0zm2 0zm1 0zm0 0zm8 0zm-17 1zm0 0zm1 0zm0 0zm0 0zm0 0zm2 0zm2 0zm1 0zm0 0zm3 0zm0 0zm1 0zm3 0zm-13 1zm3 0zm2 0zm3 0zm0 0zm2 0zm1 0zm0 0zm3 0zm2 0zm1 0zm-17 1zm4 0zm1 0zm2 0zm1 0zm0 0zm3 0zm2 0zm2 0zm0 0zm2 0zm-12 1zm1 0zm0 0zm0 0zm1 0zm1 0zm4 0zm0 0zm1 0zm1 0zm0 0zm3 0zm0 0zm-16 1zm4 0zm0 0zm2 0zm3 0zm0 0zm2 0zm3 0zm1 0zm-15 1zm0 0zm3 0zm0 0zm2 0zm2 0zm2 0zm2 0zm2 0zm0 0zm1 0zm-12 1zm0 0zm1 0zm2 0zm0 0zm2 0zm1 0zm2 0zm1 0zm0 0zm0 0zm1 0zm0 0zm0 0zm0 0zm0 0zm0 0zm1 0zm-14 1zm1 0zm0 0zm1 0zm0 0zm2 0zm2 0zm1 0zm0 0zm1 0zm0 0zm5 0zm3 0zm-16 1zm6 0zm1 0zm1 0zm1 0zm0 0zm1 0zm1 0zm4 0zm-14 1zm0 0zm2 0zm2 0zm2 0zm1 0zm2 0zm1 0zm2 0zm1 0zm0 0zm1 0zm0 0zm1 0zm0 0zm0 0zm1 0zm0 0zm-17 1zm1 0zm3 0zm0 0zm1 0zm1 0zm0 0zm2 0zm1 0zm2 0zm0 0zm2 0zm1 0zm3 0zm-17 1zm2 0zm1 0zm0 0zm5 0zm2 0zm2 0zm0 0zm1 0zm0 0zm2 0zm-15 1zm0 0zm2 0zm0 0zm2 0zm3 0zm3 0zm3 0zm2 0zm2 0zm0 0zm0 0zm-17 1zm1 0zm2 0zm3 0zm1 0zm1 0zm1 0zm1 0zm1 0zm0 0zm4 0zm2 0zm-17 1zm0 0zm1 0zm1 0zm2 0zm1 0zm1 0zm2 0zm2 0zm2 0zm1 0zm1 0zm0 0zm-13 1zm0 0zm0 0zm3 0zm1 0zm0 0zm0 0zm2 0zm4 0zm0 0zm0 0zm2 0zm2 0zm1 0zm0 0zm-14 1zm0 0zm0 0zm3 0zm1 0zm1 0zm0 0zm1 0zm3 0zm1 0zm1 0zm3 0zm-16 1zm0 0zm1 0zm0 0zm10 0zm0 0zm1 0zm1 0zm0 0zm2 0zm1 0zm1 0zm0 0zm-17 1zm2 0zm3 0zm2 0zm3 0zm0 0zm0 0zm1 0zm2 0zm-13 1zm0 0zm4 0zm0 0zm1 0zm1 0zm0 0zm1 0zm0 0zm1 0zm2 0zm0 0zm3 0zm0 0zm0 0zm1 0zm0 0zm1 0zm0 0zm2 0zm-17 1zm2 0zm1 0zm2 0zm0 0zm2 0zm2 0zm0 0zm1 0zm1 0zm2 0zm3 0zm1 0zm-16 1zm1 0zm0 0zm0 0zm1 0zm0 0zm2 0zm1 0zm2 0zm5 0zm2 0zm1 0zm0 0zm-15 1zm5 0zm0 0zm1 0zm1 0zm1 0zm0 0zm0 0zm2 0zm2 0zm2 0zm-15 1zm4 0zm5 0zm4 0zm1 0zm3 0zm0 0zm-17 1zm2 0zm4 0zm2 0zm9 0zm-15 1zm0 0zm4 0zm3 0zm0 0zm1 0zm2 0zm4 0zm0 0zm1 0zm-17 1zm1 0zm1 0zm3 0zm1 0zm0 0zm2 0zm1 0zm0 0zm2 0zm0 0zm1 0zm2 0zm0 0zm0 0zm-14 1zm1 0zm0 0zm1 0zm2 0zm6 0zm1 0zm3 0zm-14 1zm0 0zm0 0zm1 0zm0 0zm1 0zm2 0zm1 0zm0 0zm7 0zm0 0zm4 0zm1 0zm0 0zm-16 1zm11 0zm2 0zm0 0zm1 0zm0 0zm0 0zm1 0zm0 0zm1 0zm-17 1zm1 0zm2 0zm1 0zm4 0zm2 0zm1 0zm3 0zm0 0zm1 0zm2 0zm-15 1zm2 0zm2 0zm1 0zm3 0zm2 0zm1 0zm3 0zm0 0zm1 0zm-16 1zm2 0zm1 0zm2 0zm3 0zm1 0zm3 0zm2 0zm0 0zm1 0zm1 0zm-15 1zm3 0zm1 0zm2 0zm3 0zm1 0zm1 0zm0 0zm1 0zm0 0zm1 0zm-13 1zm3 0zm3 0zm4 0zm1 0zm2 0zm2 0zm-17 1zm2 0zm2 0zm1 0zm1 0zm4 0zm0 0zm3 0zm-13 1zm2 0zm0 0zm3 0zm2 0zm3 0zm3 0zm-13 1zm0 0zm2 0zm1 0zm1 0zm1 0zm0 0zm3 0zm2 0zm2 0zm-9 1zm0 0zm2 0zm1 0zm4 0zm1 0zm3 0zm2 0zm-16 1zm1 0zm4 0zm0 0zm4 0zm1 0zm1 0zm2 0zm-9 1zm2 0zm1 0zm2 0zm1 0zm4 0zm-12 1zm4 0zm5 0zm3 0zm0 0zm1 0zm1 0zm-11 1zm5 0zm2 0zm-11 1zm2 0zm2 0zm3 0zm2 0zm-6 1zm7 0zm1 0zm5 0zm-7 1zm-8 1zm2 0zm-4 1zm3 0zm11 0zm0 0zm1 0zm-11 1zm0 0zm2 0zm0 0zm1 0zm2 2zm-7 1zm3 0zm2 0zm1 0zm1 1zm0 0zm3 0zm1 0zm-13 1zm13 0zm14-8zm6 0zm-13 1zm2 0zm4 0zm6 0zm1 0zm-14 1zm1 0zm5 0zm0 0zm3 0zm0 0zm3 0zm2 0zm-9 1zm10 0zm-14 1zm6 0zm8 0zm1 0zm-14 1zm10 0zm1 0zm3 0zm-17 1zm7 0zm2 0zm4 0zm-5 1zm3 0zm-10-25zm2 0zm1 0zm1 0zm2 0zm2 0zm0 0zm1 0zm1 0zm1 0zm2 0zm1 0zm2 0zm-16 1zm5 0zm1 0zm2 0zm0 0zm2 0zm1 0zm1 0zm3 0zm-16 1zm1 0zm0 0zm5 0zm3 0zm1 0zm2 0zm0 0zm4 0zm-16 1zm0 0zm1 0zm4 0zm3 0zm0 0zm3 0zm1 0zm1 0zm1 0zm0 0zm3 0zm-15 1zm1 0zm0 0zm3 0zm1 0zm0 0zm4 0zm2 0zm1 0zm2 0zm-15 1zm3 0zm2 0zm3 0zm4 0zm4 0zm-17 1zm4 0zm1 0zm2 0zm4 0zm6 0zm-15 1zm0 0zm2 0zm1 0zm1 0zm0 0zm1 0zm3 0zm3 0zm-13 1zm0 0zm1 0zm1 0zm0 0zm0 0zm1 0zm0 0zm0 0zm3 0zm1 0zm0 0zm0 0zm1 0zm1 0zm3 0zm0 0zm1 0zm3 0zm0 0zm0 0zm1 0zm-17 1zm1 0zm1 0zm2 0zm0 0zm0 0zm2 0zm3 0zm1 0zm1 0zm2 0zm0 0zm0 0zm0 0zm3 0zm-15 1zm0 0zm1 0zm4 0zm2 0zm3 0zm0 0zm0 0zm4 0zm-12 1zm0 0zm3 0zm1 0zm1 0zm0 0zm0 0zm1 0zm3 0zm1 0zm1 0zm1 0zm1 0zm0 0zm0 0zm1 0zm-16 1zm1 0zm3 0zm2 0zm0 0zm2 0zm1 0zm0 0zm7 0zm-17 1zm4 0zm1 0zm1 0zm2 0zm0 0zm5 0zm0 0zm2 0zm2 0zm0 0zm-17 1zm4 0zm4 0zm0 0zm0 0zm3 0zm0 0zm-7 1zm5 0zm3 0zm3 0zm2 0zm0 0zm-17 1zm0 0zm0 0zm2 0zm7 0zm1 0zm1 0zm6 0zm-14 1zm1 0zm1 0zm6 0zm-11-35zm1 0zm2 0zm1 0zm1 0zm3 0zm4 0zm1 0zm1 0zm3 0zm-15 1zm4 0zm3 0zm6 0zm1 0zm1 0zm-16 1zm1 0zm1 0zm2 0zm2 0zm0 0zm2 0zm0 0zm0 0zm1 0zm3 0zm0 0zm0 0zm1 0zm1 0zm0 0zm-15 1zm4 0zm3 0zm1 0zm0 0zm2 0zm1 0zm0 0zm1 0zm1 0zm0 0zm2 0zm1 0zm0 0zm0 0zm1 0zm0 0zm-17 1zm1 0zm2 0zm1 0zm1 0zm2 0zm2 0zm0 0zm2 0zm5 0zm0 0zm-14 1zm0 0zm1 0zm0 0zm0 0zm1 0zm1 0zm0 0zm4 0zm1 0zm5 0zm-14 1zm1 0zm3 0zm2 0zm0 0zm2 0zm1 0zm1 0zm0 0zm0 0zm2 0zm1 0zm0 0zm0 0zm0 0zm1 0zm2 0zm-17 1zm3 0zm1 0zm1 0zm0 0zm0 0zm4 0zm0 0zm1 0zm1 0zm0 0zm0 0zm4 0zm-12 1zm1 0zm0 0zm0 0zm3 0zm1 0zm1 0zm0 0zm1 0zm2 0zm1 0zm1 0zm2 0zm-16 1zm2 0zm1 0zm0 0zm3 0zm2 0zm1 0zm0 0zm0 0zm0 0zm1 0zm1 0zm2 0zm0 0zm4 0zm0 0zm-17 1zm0 0zm1 0zm0 0zm1 0zm0 0zm1 0zm0 0zm3 0zm1 0zm4 0zm0 0zm1 0zm0 0zm2 0zm2 0zm0 0zm-16 1zm1 0zm2 0zm0 0zm0 0zm6 0zm2 0zm1 0zm1 0zm0 0zm1 0zm2 0zm0 0zm-15 1zm2 0zm0 0zm1 0zm0 0zm1 0zm3 0zm0 0zm4 0zm0 0zm1 0zm2 0zm1 0zm0 0zm1 0zm-16 1zm1 0zm2 0zm0 0zm0 0zm3 0zm0 0zm3 0zm5 0zm2 0zm-16 1zm0 0zm0 0zm2 0zm2 0zm2 0zm0 0zm1 0zm2 0zm1 0zm0 0zm3 0zm1 0zm-14 1zm1 0zm1 0zm2 0zm1 0zm3 0zm3 0zm2 0zm0 0zm-13 1zm1 0zm2 0zm5 0zm2 0zm3 0zm3 0zm-14 1zm1 0zm3 0zm3 0zm1 0zm0 0zm1 0zm2 0zm1 0zm-15-35zm0 0zm7 0zm2 0zm1 0zm0 0zm6 0zm-16 1zm2 0zm3 0zm0 0zm2 0zm1 0zm8 0zm-12 1zm3 0zm0 0zm1 0zm4 0zm4 0zm0 0zm-12 1zm0 0zm3 0zm0 0zm2 0zm0 0zm0 0zm1 0zm2 0zm0 0zm2 0zm1 0zm2 0zm0 0zm0 0zm-17 1zm0 0zm6 0zm1 0zm1 0zm2 0zm1 0zm3 0zm2 0zm1 0zm-17 1zm3 0zm0 0zm1 0zm4 0zm1 0zm2 0zm3 0zm3 0zm-16 1zm1 0zm0 0zm3 0zm1 0zm0 0zm1 0zm0 0zm1 0zm1 0zm0 0zm1 0zm0 0zm1 0zm0 0zm0 0zm3 0zm0 0zm2 0zm-11 1zm0 0zm2 0zm5 0zm1 0zm0 0zm2 0zm0 0zm1 0zm-16 1zm0 0zm4 0zm1 0zm2 0zm1 0zm2 0zm2 0zm0 0zm2 0zm0 0zm0 0zm1 0zm1 0zm0 0zm-16 1zm1 0zm1 0zm4 0zm1 0zm0 0zm1 0zm1 0zm3 0zm0 0zm2 0zm0 0zm1 0zm2 0zm-17 1zm2 0zm0 0zm2 0zm1 0zm1 0zm0 0zm1 0zm1 0zm1 0zm1 0zm0 0zm1 0zm1 0zm0 0zm1 0zm0 0zm1 0zm1 0zm0 0zm1 0zm0 0zm1 0zm-15 1zm2 0zm1 0zm2 0zm0 0zm1 0zm9 0zm-16 1zm5 0zm1 0zm2 0zm1 0zm2 0zm1 0zm1 0zm1 0zm2 0zm-17 1zm0 0zm2 0zm5 0zm1 0zm0 0zm9 0zm0 0zm-16 1zm3 0zm0 0zm3 0zm3 0zm3 0zm3 0zm-14 1zm1 0zm3 0zm3 0zm2 0zm1 0zm2 0zm2 0zm-16 1zm1 0zm0 0zm3 0zm1 0zm1 0zm1 0zm4 0zm0 0zm2 0zm1 0zm3 0zm-17 1zm2 0zm1 0zm3 0zm0 0zm2 0zm3 0zm1 0zm1 0zm0 0zm0 0zm1 0zm0 0zm0 0zm2 0zm1 0zm-17-35zm15 0zm-14 1zm2 0zm1 0zm1 0zm1 0zm3 0zm1 0zm0 0zm0 0zm2 0zm1 0zm3 0zm1 0zm0 0zm-11 1zm1 0zm6 0zm3 0zm1 0zm-14 1zm1 0zm1 0zm4 0zm2 0zm6 0zm0 0zm-17 1zm0 0zm1 0zm0 0zm3 0zm3 0zm1 0zm0 0zm1 0zm0 0zm3 0zm0 0zm3 0zm-13 1zm1 0zm1 0zm3 0zm4 0zm1 0zm1 0zm0 0zm4 0zm-14 1zm5 0zm5 0zm2 0zm2 0zm-14 1zm2 0zm2 0zm0 0zm5 0zm1 0zm0 0zm1 0zm2 0zm-14 1zm2 0zm7 0zm1 0zm3 0zm0 0zm-15 1zm1 0zm3 0zm4 0zm0 0zm1 0zm1 0zm5 0zm2 0zm0 0zm-14 1zm1 0zm7 0zm2 0zm0 0zm4 0zm0 0zm0 0zm-11 1zm0 0zm0 0zm2 0zm1 0zm0 0zm0 0zm3 0zm0 0zm3 0zm1 0zm-16 1zm2 0zm1 0zm1 0zm8 0zm1 0zm1 0zm2 0zm0 0zm-14 1zm5 0zm1 0zm0 0zm2 0zm3 0zm1 0zm-11 1zm1 0zm3 0zm0 0zm1 0zm1 0zm1 0zm5 0zm-15 1zm2 0zm1 0zm0 0zm2 0zm0 0zm4 0zm7 0zm-16 1zm2 0zm2 0zm2 0zm3 0zm0 0zm0 0zm1 0zm6 0zm-16 1zm0 0zm4 0zm4 0zm2 0zm1 0zm0 0zm2 0zm1 0zm3 0zm-11-35zm1 0zm3 0zm1 0zm1 0zm3 0zm-14 1zm6 0zm3 0zm2 0zm3 0zm-15 1zm5 0zm4 0zm3 0zm3 0zm2 0zm-15 1zm12 0zm-13 1zm5 0zm0 0zm6 0zm0 0zm0 0zm3 0zm-13 1zm1 0zm2 0zm1 0zm3 0zm1 0zm3 0zm-12 1zm14 0zm1 0zm-14 1zm3 0zm0 0zm7 0zm0 0zm0 0zm-10 1zm5 0zm1 0zm-8 1zm1 0zm6 0zm3 0zm1 0zm3 0zm1 0zm-9 1zm0 0zm3 0zm4 0zm1 0zm-10 1zm5 0zm1 0zm0 0zm1 0zm2 0zm-8 1zm0 0zm1 0zm1 0zm3 0zm-6 1zm2 0zm1 0zm6 0zm-12 1zm3 0zm0 0zm2 0zm1 0zm2 0zm0 0zm-9 1zm1 0zm2 0zm0 0zm0 0zm6 0zm1 0zm7 0zm-17 1zm0 0zm1 0zm8 0zm0 0zm1 0zm6 0zm-7 1zm0 0zm2 0zm0 0zm3 0zm0 0zm2 0zm-11-35zm0 0zm7 0zm-11 1zm2 0zm1 0zm1 0zm0 0zm3 0zm5 0zm1 1zm2 0zm-10 1zm10 0zm-5 1zm-9 1zm2 0zm11 0zm-15 1zm0 0zm2 0zm12 0zm-14 1zm17 0zm-7 1zm-10 1zm2 0zm10 0zm4 0zm-11 1zm3 0zm4 0zm-4 1zm1 0zm-4 1zm1 0zm5 0zm4 0zm-13 1zm1 0zm8 0zm6 0zm-13 1zm11 0zm1 0zm-5 1zm-1 1zm5 0zm-15 1zm1 0zm8 0zm5 0zm-13-35zm2 0zm1 1zm7 2zm3 5zm2 0zm-7 1zm1 0zm-8 1zm8 0zm-8 1zm6 0zm7 0zm-13 1zm7 2zm-8 1zm3 0zm1 0zm0 2zm6 0zm-8-34zm12 2zm-1 3zm-12 1zm3 0zm7 0zm-3 1zm-9 1zm16 1zm-7 1zm5 0zm-11 4zm6 1zm2 0zm-1-34zm-1 4zm-7 1zm0 0zm-1 1zm9 0zm4 8zm-4 3zm-9-27zm13 6zm-2-26zm-7 10zm5-30zm-7 4zm11-26zm-3-69zm-8 1zm0 9zm11 0zm-5-46zm-9 5zm5-22zm-4-21zm5 0zm1 14zm-7-16zm23 0zm4 1zm-4 51zm5 14zm-1 2zm8 12zm0 32zm-1 36zm-15 3zm10 16zm6 10zm-3 1zm-10 3zm-4 20zm9 0zm-5 6zm2 2zm-1 18zm5 7zm-7 1zm5 0zm-1 1zm0 0zm10 6zm-5 1zm-12 1zm3 0zm10 1zm1 0zm2 0zm-8 1zm-5 1zm7 2zm5 2zm-11 1zm0 1zm4 0zm9 0zm-11 2zm6 0zm0 1zm5 1zm-14 1zm-3 1zm4 3zm-3 1zm9 0zm1 0zm-2 2zm6 1zm1 1zm-13 2zm6 0zm7 0zm-14 1zm10 0zm-5 1zm-4 1zm3 0zm8 0zm-2 1zm-10 1zm1 0zm9 0zm2 0zm-14 1zm8 0zm3 0zm3 0zm-5 1zm-8 1zm8 0zm2 0zm-11 2zm2 0zm14 0zm1 0zm-17 1zm0 0zm6 0zm2 0zm5 0zm-8 1zm5 0zm6 0zm-10 1zm3 0zm4 0zm3 0zm0 0zm-15 1zm2 0zm4 0zm5 0zm-3 1zm1 0zm-6 1zm8 0zm-10 1zm0 0zm6 0zm6 0zm-13 1zm1 0zm0 0zm5 0zm2 0zm3 0zm0 0zm2 0zm-9 1zm2 0zm3 0zm2 0zm2 0zm-12 1zm2 0zm0 0zm3 0zm0 0zm1 0zm5 0zm1 0zm1 0zm2 0zm-14 1zm0 0zm-2 1zm1 0zm1 0zm0 0zm4 0zm0 0zm-7 1zm2 0zm3 0zm5 0zm5 0zm2 0zm-17 1zm1 0zm1 0zm5 0zm3 0zm3 0zm4 0zm-17 1zm16 0zm-14 1zm11 0zm2 0zm2 0zm-16 1zm4 0zm0 0zm6 0zm5 0zm-15 1zm1 0zm10 0zm-5 1zm5 0zm1 0zm3 0zm-14 1zm0 0zm3 0zm3 0zm-1 1zm1 0zm0 0zm5 0zm-12 1zm1 0zm4 0zm5 0zm2 0zm-12 1zm1 0zm6 0zm2 0zm1 0zm1 0zm0 0zm5 0zm0 0zm-14 1zm12 0zm-11 1zm8 0zm3 0zm-15 1zm4 0zm1 0zm2 0zm3 0zm1 0zm1 0zm4 0zm-13 1zm1 0zm7 0zm2 0zm-13 1zm0 0zm1 0zm3 0zm1 0zm2 0zm6 0zm0 0zm-13 1zm3 0zm11 0zm1 0zm1 0zm-10 1zm4 0zm1 0zm2 0zm1 0zm0 0zm1 0zm2 0zm-17 1zm2 0zm0 0zm1 0zm0 0zm1 0zm2 0zm1 0zm1 0zm2 0zm2 0zm2 0zm-13 1zm0 0zm1 0zm5 0zm7 0zm-10 1zm2 0zm2 0zm2 0zm5 0zm1 0zm-11 1zm0 0zm3 0zm-5 1zm2 0zm2 0zm4 0zm3 0zm2 0zm1 0zm-15 1zm0 0zm2 0zm0 0zm2 0zm7 0zm2 0zm-14 1zm1 0zm0 0zm3 0zm4 0zm3 0zm3 0zm1 0zm-15 1zm2 0zm1 0zm2 0zm3 0zm3 0zm-4 1zm3 0zm0 0zm-9 1zm1 0zm2 0zm1 0zm1 0zm0 0zm5 0zm0 0zm0 0zm1 0zm3 0zm0 0zm-13 1zm2 0zm1 0zm2 0zm1 0zm0 0zm2 0zm3 0zm0 0zm1 0zm0 0zm-12 1zm3 0zm1 0zm2 0zm5 0zm0 0zm-10 1zm4 0zm6 0zm0 0zm-13 1zm4 0zm1 0zm1 0zm0 0zm3 0zm2 0zm0 0zm0 0zm3 0zm2 0zm0 0zm-16 1zm2 0zm1 0zm3 0zm3 0zm0 0zm3 0zm1 0zm1 0zm2 0zm-17 1zm2 0zm1 0zm0 0zm0 0zm1 0zm0 0zm3 0zm2 0zm1 0zm3 0zm0 0zm3 0zm0 0zm0 0zm0 0zm1 0zm-14 1zm4 0zm1 0zm1 0zm0 0zm6 0zm1 0zm-15 1zm2 0zm2 0zm1 0zm4 0zm0 0zm3 0zm0 0zm0 0zm3 0zm-14 1zm0 0zm1 0zm1 0zm1 0zm1 0zm0 0zm1 0zm2 0zm0 0zm2 0zm1 0zm1 0zm3 0zm-14 1zm1 0zm3 0zm3 0zm1 0zm0 0zm0 0zm1 0zm1 0zm4 0zm1 0zm-15 1zm0 0zm2 0zm1 0zm0 0zm0 0zm2 0zm1 0zm0 0zm1 0zm0 0zm2 0zm6 0zm-14 1zm0 0zm2 0zm1 0zm1 0zm0 0zm2 0zm1 0zm7 0zm-17 1zm1 0zm1 0zm2 0zm1 0zm3 0zm5 0zm2 0zm-12 1zm1 0zm1 0zm4 0zm2 0zm3 0zm2 0zm1 0zm-15 1zm0 0zm1 0zm1 0zm1 0zm3 0zm0 0zm2 0zm0 0zm2 0zm0 0zm1 0zm0 0zm1 0zm1 0zm0 0zm1 0zm1 0zm0 0zm-14 1zm2 0zm0 0zm6 0zm0 0zm1 0zm2 0zm0 0zm-14 1zm3 0zm0 0zm3 0zm1 0zm1 0zm4 0zm0 0zm1 0zm0 0zm2 0zm1 0zm0 0zm-13 1zm3 0zm1 0zm2 0zm2 0zm1 0zm3 0zm0 0zm-14 1zm1 0zm3 0zm1 0zm0 0zm5 0zm5 0zm-15 1zm3 0zm4 0zm1 0zm3 0zm1 0zm1 0zm2 0zm0 0zm1 0zm-16 1zm0 0zm1 0zm1 0zm0 0zm3 0zm0 0zm2 0zm2 0zm0 0zm1 0zm2 0zm2 0zm0 0zm-12 1zm1 0zm2 0zm0 0zm0 0zm1 0zm1 0zm2 0zm1 0zm1 0zm4 0zm0 0zm0 0zm1 0zm-15 1zm1 0zm1 0zm3 0zm0 0zm1 0zm3 0zm0 0zm2 0zm-13 1zm2 0zm0 0zm4 0zm1 0zm4 0zm4 0zm-14 1zm2 0zm2 0zm4 0zm3 0zm1 0zm1 0zm1 0zm0 0zm0 0zm1 0zm0 0zm-16 1zm0 0zm2 0zm0 0zm2 0zm0 0zm0 0zm2 0zm1 0zm0 0zm1 0zm4 0zm1 0zm0 0zm3 0zm1 0zm-15 1zm1 0zm0 0zm2 0zm2 0zm3 0zm0 0zm0 0zm4 0zm1 0zm-15 1zm1 0zm0 0zm1 0zm0 0zm0 0zm4 0zm3 0zm1 0zm2 0zm0 0zm1 0zm1 0zm0 0zm0 0zm0 0zm2 0zm-16 1zm0 0zm0 0zm1 0zm1 0zm1 0zm1 0zm2 0zm4 0zm0 0zm1 0zm1 0zm1 0zm1 0zm1 0zm2 0zm0 0zm-17 1zm5 0zm1 0zm1 0zm0 0zm1 0zm2 0zm2 0zm2 0zm1 0zm0 0zm0 0zm1 0zm-14 1zm2 0zm1 0zm3 0zm0 0zm1 0zm0 0zm2 0zm0 0zm0 0zm0 0zm0 0zm0 0zm-11 1zm4 0zm2 0zm3 0zm1 0zm2 0zm1 0zm3 0zm1 0zm0 0zm-17 1zm2 0zm1 0zm1 0zm0 0zm0 0zm1 0zm1 0zm0 0zm0 0zm1 0zm0 0zm2 0zm0 0zm1 0zm3 0zm1 0zm1 0zm0 0zm-15 1zm1 0zm0 0zm3 0zm1 0zm0 0zm1 0zm5 0zm6 0zm0 0zm-15 1zm1 0zm0 0zm2 0zm4 0zm1 0zm0 0zm2 0zm2 0zm1 0zm1 0zm0 0zm1 0zm-17 1zm2 0zm0 0zm3 0zm0 0zm1 0zm0 0zm1 0zm1 0zm3 0zm0 0zm2 0zm2 0zm-14 1zm2 0zm0 0zm0 0zm1 0zm0 0zm1 0zm1 0zm0 0zm1 0zm1 0zm4 0zm0 0zm0 0zm1 0zm0 0zm0 0zm3 0zm0 0zm-16 1zm2 0zm1 0zm1 0zm1 0zm2 0zm2 0zm2 0zm3 0zm1 0zm2 0zm-17 1zm1 0zm1 0zm1 0zm1 0zm0 0zm2 0zm1 0zm6 0zm1 0zm1 0zm2 0zm-17 1zm1 0zm0 0zm1 0zm0 0zm3 0zm0 0zm2 0zm0 0zm1 0zm0 0zm0 0zm-8 1zm3 0zm0 0zm0 0zm4 0zm2 0zm7 0zm0 0zm-16 1zm1 0zm0 0zm4 0zm0 0zm6 0zm1 0zm0 0zm5 0zm-14 1zm1 0zm2 0zm8 0zm0 0zm1 0zm1 0zm0 0zm0 0zm-16 1zm0 0zm2 0zm0 0zm2 0zm0 0zm4 0zm1 0zm1 0zm5 0zm1 0zm0 0zm1 0zm-17 1zm1 0zm1 0zm2 0zm4 0zm1 0zm0 0zm1 0zm0 0zm1 0zm1 0zm1 0zm0 0zm1 0zm0 0zm3 0zm0 0zm-17 1zm2 0zm0 0zm2 0zm3 0zm0 0zm4 0zm3 0zm-13 1zm3 0zm1 0zm0 0zm1 0zm0 0zm0 0zm4 0zm2 0zm5 0zm0 0zm-16 1zm9 0zm5 0zm0 0zm1 0zm-16 1zm3 0zm2 0zm4 0zm0 0zm4 0zm1 0zm0 0zm-12 1zm0 0zm1 0zm2 0zm0 0zm2 0zm0 0zm1 0zm2 0zm2 0zm0 0zm0 0zm1 0zm4 0zm-13 1zm1 0zm1 0zm3 0zm2 0zm5 0zm-16 1zm4 0zm1 0zm8 0zm2 0zm-15 1zm1 0zm1 0zm1 0zm2 0zm8 0zm2 0zm0 0zm0 0zm0 0zm2 0zm-17 1zm6 0zm1 0zm1 0zm6 0zm1 0zm2 0zm-10 1zm0 0zm6 0zm2 0zm0 0zm-15 1zm2 0zm0 0zm11 0zm2 0zm2 0zm-12 1zm7 0zm1 0zm1 0zm0 0zm-14 1zm0 0zm2 0zm5 0zm6 0zm2 0zm1 0zm1 0zm-16 1zm0 0zm5 0zm2 0zm7 0zm1 0zm-14 1zm0 0zm9 0zm3 0zm1 0zm2 0zm-17 1zm9 0zm3 0zm-9 1zm2 0zm11 0zm0 0zm-14 1zm9 0zm0 0zm0 0zm6 0zm-14 1zm3 0zm11 0zm-16 1zm9 0zm1 0zm4 0zm-15 1zm3 0zm5 1zm-4 1zm4 0zm13-8zm7 0zm1 0zm2 0zm2 0zm1 0zm0 0zm-16 1zm5 0zm0 0zm1 0zm1 0zm0 0zm2 0zm2 0zm1 0zm0 0zm-9 1zm4 0zm1 0zm-8 1zm9 0zm2 0zm3 0zm1 0zm-8 1zm0 0zm7 0zm3 0zm-17 1zm11 0zm0 0zm-9 1zm11 0zm0 0zm4 0zm-11 1zm4 0zm3 0zm-13-25zm4 0zm1 0zm1 0zm9 0zm2 0zm-15 1zm0 0zm1 0zm0 0zm1 0zm0 0zm0 0zm2 0zm8 0zm2 0zm-16 1zm1 0zm1 0zm2 0zm2 0zm1 0zm1 0zm1 0zm1 0zm0 0zm2 0zm0 0zm1 0zm1 0zm-14 1zm1 0zm4 0zm0 0zm1 0zm6 0zm0 0zm0 0zm3 0zm0 0zm0 0zm2 0zm-17 1zm0 0zm3 0zm3 0zm3 0zm2 0zm4 0zm2 0zm0 0zm-16 1zm0 0zm0 0zm3 0zm2 0zm1 0zm1 0zm1 0zm2 0zm2 0zm2 0zm0 0zm1 0zm0 0zm-16 1zm1 0zm1 0zm1 0zm1 0zm1 0zm1 0zm0 0zm4 0zm1 0zm5 0zm-15 1zm1 0zm0 0zm4 0zm3 0zm0 0zm1 0zm2 0zm0 0zm1 0zm2 0zm2 0zm-17 1zm2 0zm2 0zm0 0zm2 0zm1 0zm7 0zm2 0zm0 0zm-16 1zm2 0zm0 0zm9 0zm5 0zm1 0zm-15 1zm3 0zm6 0zm4 0zm-15 1zm2 0zm4 0zm1 0zm2 0zm1 0zm2 0zm3 0zm0 0zm0 0zm2 0zm-16 1zm1 0zm6 0zm2 0zm3 0zm1 0zm1 0zm1 0zm1 0zm0 0zm-10 1zm1 0zm0 0zm5 0zm3 0zm1 0zm-13 1zm1 0zm4 0zm1 0zm2 0zm0 0zm3 0zm2 0zm-17 1zm2 0zm1 0zm1 0zm6 0zm3 0zm0 0zm1 0zm2 0zm-16 1zm4 0zm2 0zm4 0zm2 0zm0 0zm5 0zm-16 1zm2 0zm1 0zm3 0zm3 0zm-10-35zm2 0zm0 0zm1 0zm2 0zm0 0zm1 0zm2 0zm1 0zm2 0zm3 0zm2 0zm0 0zm-16 1zm0 0zm6 0zm5 0zm4 0zm1 0zm0 0zm-16 1zm2 0zm4 0zm0 0zm0 0zm3 0zm0 0zm1 0zm0 0zm7 0zm-17 1zm0 0zm3 0zm2 0zm0 0zm1 0zm1 0zm2 0zm1 0zm0 0zm1 0zm1 0zm0 0zm1 0zm1 0zm3 0zm0 0zm-15 1zm1 0zm0 0zm3 0zm0 0zm6 0zm0 0zm0 0zm1 0zm1 0zm0 0zm3 0zm0 0zm-16 1zm3 0zm1 0zm0 0zm2 0zm0 0zm0 0zm2 0zm0 0zm0 0zm1 0zm0 0zm1 0zm2 0zm3 0zm0 0zm-12 1zm2 0zm0 0zm1 0zm1 0zm1 0zm1 0zm4 0zm1 0zm1 0zm0 0zm0 0zm-16 1zm2 0zm0 0zm7 0zm2 0zm3 0zm2 0zm-16 1zm4 0zm0 0zm1 0zm1 0zm1 0zm2 0zm1 0zm1 0zm2 0zm1 0zm-11 1zm2 0zm3 0zm2 0zm2 0zm0 0zm0 0zm2 0zm1 0zm1 0zm1 0zm-17 1zm2 0zm0 0zm1 0zm3 0zm7 0zm3 0zm0 0zm1 0zm0 0zm-16 1zm1 0zm1 0zm1 0zm1 0zm2 0zm2 0zm1 0zm0 0zm4 0zm0 0zm0 0zm-12 1zm4 0zm1 0zm0 0zm1 0zm1 0zm5 0zm2 0zm0 0zm0 0zm0 0zm-16 1zm1 0zm1 0zm5 0zm4 0zm0 0zm2 0zm0 0zm-11 1zm0 0zm1 0zm4 0zm2 0zm1 0zm1 0zm1 0zm2 0zm0 0zm0 0zm1 0zm-15 1zm1 0zm0 0zm7 0zm3 0zm1 0zm3 0zm1 0zm1 0zm0 0zm-17 1zm0 0zm2 0zm0 0zm7 0zm0 0zm3 0zm2 0zm1 0zm-14 1zm0 0zm3 0zm0 0zm2 0zm1 0zm1 0zm0 0zm1 0zm1 0zm1 0zm1 0zm-11-35zm0 0zm3 0zm2 0zm2 0zm0 0zm8 0zm-16 1zm5 0zm1 0zm0 0zm4 0zm6 0zm1 0zm-16 1zm2 0zm2 0zm4 0zm3 0zm-11 1zm1 0zm0 0zm4 0zm0 0zm0 0zm0 0zm0 0zm4 0zm3 0zm0 0zm2 0zm0 0zm2 0zm-17 1zm3 0zm1 0zm1 0zm3 0zm2 0zm4 0zm2 0zm0 0zm-16 1zm1 0zm1 0zm0 0zm1 0zm3 0zm0 0zm1 0zm0 0zm3 0zm0 0zm4 0zm1 0zm0 0zm2 0zm-17 1zm1 0zm1 0zm0 0zm1 0zm1 0zm2 0zm4 0zm-10 1zm0 0zm3 0zm4 0zm1 0zm1 0zm5 0zm0 0zm2 0zm0 0zm0 0zm-13 1zm1 0zm4 0zm2 0zm1 0zm6 0zm-17 1zm1 0zm3 0zm1 0zm1 0zm0 0zm1 0zm1 0zm1 0zm1 0zm1 0zm4 0zm2 0zm-17 1zm3 0zm1 0zm0 0zm4 0zm1 0zm0 0zm4 0zm-7 1zm-6 1zm5 0zm0 0zm0 0zm1 0zm5 0zm3 0zm3 0zm0 0zm-16 1zm0 0zm0 0zm0 0zm0 0zm0 0zm3 0zm0 0zm4 0zm1 0zm5 0zm0 0zm0 0zm2 0zm-10 1zm0 0zm1 0zm2 0zm0 0zm4 0zm1 0zm1 0zm1 0zm-14 1zm1 0zm1 0zm0 0zm1 0zm1 0zm1 0zm3 0zm0 0zm2 0zm1 0zm2 0zm1 0zm1 0zm-12 1zm0 0zm1 0zm1 0zm1 0zm0 0zm1 0zm1 0zm0 0zm3 0zm1 0zm0 0zm2 0zm0 0zm0 0zm0 0zm-14 1zm3 0zm1 0zm4 0zm0 0zm1 0zm2 0zm1 0zm3 0zm-17-35zm4 0zm2 0zm1 0zm3 0zm1 0zm-11 1zm3 0zm4 0zm0 0zm1 0zm1 0zm1 0zm0 0zm3 0zm4 0zm-17 1zm2 0zm5 0zm4 0zm4 0zm-15 1zm3 0zm5 0zm7 0zm2 0zm-17 1zm1 0zm3 0zm3 0zm4 0zm1 0zm2 0zm1 0zm1 0zm-16 1zm0 0zm0 0zm0 0zm7 0zm3 0zm1 0zm0 0zm2 0zm0 0zm2 0zm-15 1zm6 0zm0 0zm2 0zm0 0zm4 0zm2 0zm3 0zm-16 1zm6 0zm0 0zm0 0zm5 0zm3 0zm-11 1zm3 0zm0 0zm8 0zm-15 1zm8 0zm2 0zm0 0zm1 0zm-9 1zm2 0zm1 0zm0 0zm4 0zm5 0zm-11 1zm2 0zm1 0zm1 0zm1 0zm3 0zm-10 1zm3 0zm0 0zm0 0zm1 0zm1 0zm2 0zm1 0zm2 0zm1 0zm1 0zm2 0zm1 0zm-16 1zm0 0zm2 0zm2 0zm2 0zm0 0zm3 0zm3 0zm0 0zm1 0zm1 0zm2 0zm1 0zm-16 1zm0 0zm2 0zm2 0zm0 0zm2 0zm8 0zm-15 1zm0 0zm0 0zm2 0zm2 0zm4 0zm0 0zm0 0zm1 0zm1 0zm2 0zm3 0zm0 0zm1 0zm-16 1zm1 0zm3 0zm3 0zm1 0zm0 0zm4 0zm1 0zm2 0zm-15 1zm0 0zm6 0zm3 0zm5 0zm1 0zm1 0zm1 0zm-15-35zm0 0zm3 0zm2 0zm5 0zm3 0zm-2 1zm-11 1zm2 0zm7 0zm1 0zm-12 1zm9 0zm1 0zm-4 1zm-3 1zm9 0zm1 0zm1 0zm-14 1zm3 0zm3 0zm0 0zm3 0zm1 0zm1 0zm5 0zm1 0zm-15 1zm1 0zm0 0zm4 0zm3 0zm6 0zm-15 1zm0 0zm1 0zm6 0zm4 0zm3 0zm-9 1zm4 0zm-6 1zm0 0zm3 0zm2 0zm3 0zm-8 1zm13 0zm0 0zm-17 1zm3 0zm2 0zm5 0zm4 0zm2 0zm-16 1zm8 0zm2 0zm1 0zm-11 1zm3 0zm1 0zm1 0zm0 0zm3 0zm5 0zm3 0zm-9 1zm3 0zm1 0zm0 0zm0 0zm3 0zm-14 1zm1 0zm6 0zm5 0zm2 0zm1 0zm-11 1zm1 0zm3 0zm5 0zm2 0zm1 0zm-4-34zm-10 1zm3 0zm11 0zm-11 1zm-3 1zm5 0zm-6 1zm16 0zm0 0zm-11 1zm6 0zm3 0zm-14 1zm4 0zm4 0zm1 0zm5 0zm-15 1zm2 0zm5 0zm-6 1zm8 0zm5 0zm2 0zm-11 1zm5 0zm6 0zm0 0zm-6 1zm6 0zm-15 1zm8 0zm0 1zm-5 1zm2 0zm2 0zm1 0zm-1 1zm1 0zm3 0zm1 0zm-2 1zm0 0zm-3 1zm1 0zm-7-35zm1 2zm13 1zm-16 1zm1 0zm14 2zm1 0zm-16 1zm12 1zm1 1zm-1 1zm-3 1zm3 0zm1 0zm0 1zm3 0zm-16 1zm7 0zm-3 1zm4 2zm9 1zm-1-30zm-13 3zm4 0zm-2 5zm2 0zm-2 1zm-4 1zm-1 1zm8 1zm6 0zm-9-34zm11 2zm-12 6zm8 1zm-10 4zm15 1zm-16 2zm-1-24zm3 1zm13 2zm-10-18zm9-26zm-12 3zm10-21zm-11-8zm-1-51zm12 2zm-4 4zm8 3zm-5 7zm-8-42zm2 4zm-3-46zm17 63zm4 45zm7 1zm0 20zm0 5zm-11 16zm5 2zm-3 2zm0 14zm2 9zm0 14zm3 8zm-2 4zm-3 5zm1 2zm-3 1zm12 5zm-1 2zm2 1zm-5 2zm-3 3zm-6 2zm6 0zm1 4zm1 2zm-3 2zm-2 2zm10 4zm3 0zm-12 1zm7 0zm2 0zm2 0zm-13 3zm10 0zm-1 1zm-12 2zm11 0zm-2 1zm-5 1zm13 0zm-14 1zm10 1zm2 0zm-15 1zm8 1zm4 1zm5 0zm0 0zm-12 1zm-2 1zm7 0zm4 0zm1 0zm-15 1zm2 0zm0 1zm1 1zm2 0zm-5 1zm2 1zm2 0zm6 0zm1 0zm4 0zm-15 1zm4 0zm0 0zm5 1zm5 0zm0 0zm-10 1zm0 1zm4 0zm2 0zm-6 1zm1 0zm6 0zm2 0zm-7 1zm2 0zm0 0zm1 0zm-4 1zm0 0zm1 0zm6 0zm3 0zm1 0zm-16 1zm5 0zm5 0zm2 0zm-12 1zm13 0zm3 0zm-9 1zm-6 1zm4 0zm1 0zm-6 2zm3 0zm3 0zm3 0zm4 0zm2 0zm-8 1zm6 0zm1 0zm-13 1zm4 0zm4 0zm3 0zm2 0zm3 0zm-14 1zm8 0zm0 0zm5 0zm-4 1zm0 0zm0 0zm1 0zm-12 1zm2 0zm-3 1zm8 0zm2 0zm-9 1zm8 0zm0 0zm3 0zm4 0zm-12 1zm6 0zm-6 1zm1 0zm1 0zm5 0zm3 0zm-11 1zm3 0zm5 0zm-7 1zm6 0zm-9 1zm1 0zm2 0zm4 0zm6 0zm3 0zm-15 1zm3 0zm5 0zm3 0zm-13 1zm2 0zm-2 1zm0 0zm1 0zm0 0zm0 0zm2 0zm2 0zm3 0zm3 0zm0 0zm-10 1zm2 0zm0 0zm1 0zm1 0zm4 0zm-9 1zm3 0zm3 0zm5 0zm1 0zm-12 1zm2 0zm1 0zm2 0zm2 0zm0 0zm6 0zm-13 1zm3 0zm5 0zm4 0zm2 0zm-9 1zm0 0zm1 0zm1 0zm3 0zm7 0zm-8 1zm2 0zm0 0zm3 0zm3 0zm-15 1zm3 0zm3 0zm8 0zm-11 1zm5 0zm1 0zm1 0zm5 0zm-17 1zm0 0zm4 0zm2 0zm0 0zm1 0zm3 0zm5 0zm2 0zm-11 1zm0 0zm2 0zm0 0zm0 0zm1 0zm1 0zm1 0zm2 0zm-13 1zm2 0zm0 0zm9 0zm2 0zm1 0zm1 0zm-12 1zm8 0zm1 0zm2 0zm-14 1zm1 0zm2 0zm4 0zm3 0zm5 0zm-14 1zm4 0zm6 0zm2 0zm3 0zm-16 1zm1 0zm2 0zm0 0zm0 0zm10 0zm-13 1zm1 0zm5 0zm3 0zm-9 1zm1 0zm1 0zm2 0zm3 0zm2 0zm4 0zm1 0zm1 0zm0 0zm0 0zm1 0zm-14 1zm11 0zm2 0zm-15 1zm0 0zm1 0zm0 0zm3 0zm1 0zm1 0zm0 0zm7 0zm0 0zm0 0zm2 0zm-15 1zm3 0zm0 0zm0 0zm1 0zm0 0zm3 0zm0 0zm1 0zm1 0zm3 0zm2 0zm1 0zm2 0zm-17 1zm0 0zm1 0zm6 0zm0 0zm2 0zm1 0zm0 0zm2 0zm5 0zm-16 1zm2 0zm0 0zm0 0zm4 0zm3 0zm3 0zm2 0zm1 0zm0 0zm-16 1zm0 0zm0 0zm2 0zm1 0zm0 0zm3 0zm1 0zm4 0zm4 0zm1 0zm-16 1zm0 0zm2 0zm1 0zm1 0zm2 0zm1 0zm0 0zm1 0zm4 0zm-12 1zm2 0zm2 0zm1 0zm1 0zm3 0zm0 0zm0 0zm1 0zm2 0zm0 0zm2 0zm-14 1zm1 0zm0 0zm3 0zm0 0zm0 0zm0 0zm5 0zm0 0zm0 0zm2 0zm2 0zm0 0zm0 0zm1 0zm0 0zm3 0zm-14 1zm0 0zm1 0zm0 0zm0 0zm1 0zm0 0zm1 0zm1 0zm2 0zm2 0zm4 0zm0 0zm-12 1zm0 0zm4 0zm1 0zm2 0zm1 0zm1 0zm5 0zm-17 1zm0 0zm1 0zm2 0zm1 0zm1 0zm2 0zm0 0zm1 0zm1 0zm2 0zm5 0zm-13 1zm3 0zm2 0zm0 0zm1 0zm0 0zm7 0zm1 0zm0 0zm-15 1zm3 0zm2 0zm1 0zm2 0zm0 0zm2 0zm1 0zm2 0zm2 0zm-17 1zm0 0zm3 0zm1 0zm1 0zm3 0zm0 0zm2 0zm1 0zm5 0zm-14 1zm6 0zm6 0zm1 0zm0 0zm2 0zm-13 1zm2 0zm8 0zm1 0zm1 0zm-16 1zm1 0zm3 0zm1 0zm2 0zm3 0zm1 0zm4 0zm0 0zm1 0zm1 0zm0 0zm-17 1zm0 0zm4 0zm0 0zm1 0zm0 0zm1 0zm0 0zm0 0zm1 0zm2 0zm0 0zm1 0zm0 0zm1 0zm5 0zm-16 1zm1 0zm0 0zm1 0zm3 0zm3 0zm1 0zm1 0zm1 0zm0 0zm1 0zm1 0zm1 0zm2 0zm-16 1zm1 0zm0 0zm1 0zm1 0zm1 0zm6 0zm3 0zm1 0zm1 0zm1 0zm1 0zm0 0zm-17 1zm1 0zm0 0zm0 0zm3 0zm0 0zm0 0zm2 0zm1 0zm1 0zm7 0zm2 0zm-16 1zm2 0zm3 0zm0 0zm3 0zm1 0zm1 0zm0 0zm0 0zm1 0zm2 0zm1 0zm0 0zm-9 1zm2 0zm2 0zm0 0zm3 0zm1 0zm2 0zm-13 1zm0 0zm0 0zm4 0zm0 0zm1 0zm1 0zm2 0zm3 0zm-14 1zm1 0zm5 0zm4 0zm0 0zm1 0zm1 0zm1 0zm1 0zm0 0zm-12 1zm1 0zm2 0zm0 0zm4 0zm1 0zm1 0zm0 0zm1 0zm0 0zm2 0zm0 0zm2 0zm0 0zm1 0zm-11 1zm1 0zm0 0zm2 0zm0 0zm5 0zm1 0zm1 0zm1 0zm-17 1zm3 0zm0 0zm1 0zm6 0zm3 0zm4 0zm-14 1zm12 0zm-14 1zm0 0zm0 0zm1 0zm1 0zm3 0zm6 0zm1 0zm0 0zm1 0zm1 0zm1 0zm0 0zm-14 1zm0 0zm1 0zm1 0zm1 0zm0 0zm1 0zm1 0zm0 0zm2 0zm0 0zm1 0zm1 0zm2 0zm2 0zm-13 1zm0 0zm1 0zm0 0zm0 0zm2 0zm1 0zm1 0zm3 0zm1 0zm0 0zm2 0zm2 0zm2 0zm0 0zm-17 1zm1 0zm0 0zm1 0zm6 0zm0 0zm1 0zm2 0zm0 0zm1 0zm2 0zm-12 1zm5 0zm2 0zm8 0zm-17 1zm0 0zm0 0zm1 0zm4 0zm3 0zm2 0zm0 0zm0 0zm2 0zm1 0zm0 0zm1 0zm0 0zm-14 1zm1 0zm0 0zm1 0zm3 0zm6 0zm0 0zm2 0zm0 0zm1 0zm1 0zm0 0zm2 0zm-16 1zm1 0zm1 0zm5 0zm1 0zm0 0zm1 0zm0 0zm2 0zm1 0zm2 0zm-15 1zm3 0zm4 0zm0 0zm3 0zm0 0zm2 0zm0 0zm2 0zm0 0zm2 0zm1 0zm-17 1zm1 0zm0 0zm1 0zm2 0zm1 0zm2 0zm1 0zm0 0zm6 0zm1 0zm2 0zm-14 1zm2 0zm3 0zm1 0zm1 0zm1 0zm0 0zm2 0zm1 0zm1 0zm0 0zm2 0zm-17 1zm1 0zm7 0zm0 0zm0 0zm5 0zm0 0zm1 0zm1 0zm-14 1zm9 0zm5 0zm0 0zm1 0zm1 0zm-15 1zm6 0zm0 0zm2 0zm1 0zm6 0zm-9 1zm1 0zm0 0zm3 0zm1 0zm2 0zm0 0zm2 0zm-17 1zm2 0zm6 0zm1 0zm2 0zm3 0zm1 0zm0 0zm1 0zm1 0zm-14 1zm0 0zm1 0zm0 0zm1 0zm0 0zm0 0zm1 0zm9 0zm0 0zm-14 1zm5 0zm3 0zm1 0zm6 0zm-15 1zm3 0zm6 0zm1 0zm-11 1zm2 0zm1 0zm2 0zm2 0zm2 0zm1 0zm4 0zm-14 1zm2 0zm4 0zm3 0zm2 0zm2 0zm-10 1zm1 0zm6 0zm0 0zm2 0zm1 0zm1 0zm3 0zm-17 1zm3 0zm2 0zm4 0zm1 0zm0 0zm-9 1zm3 0zm2 0zm4 0zm1 0zm6 0zm-16 1zm8 0zm0 0zm5 0zm-14 1zm8 0zm6 1zm4-8zm2 0zm3 1zm0 0zm5 0zm5 0zm-15 1zm6 0zm1 0zm0 0zm3 0zm2 0zm0 0zm3 0zm-7 1zm4 0zm2 0zm-14 1zm3 0zm2 0zm4 0zm0 0zm1 0zm-7 1zm0 0zm7 0zm2 0zm0 0zm2 0zm3 0zm-15 1zm3 1zm6 0zm-2 1zm1 0zm4 0zm0 0zm-13-26zm0 0zm0 0zm1 0zm2 0zm5 0zm3 0zm1 0zm2 0zm-15 1zm3 0zm1 0zm0 0zm8 0zm2 0zm1 0zm1 0zm-14 1zm1 0zm1 0zm1 0zm4 0zm0 0zm1 0zm0 0zm2 0zm4 0zm-16 1zm0 0zm1 0zm7 0zm0 0zm1 0zm2 0zm2 0zm-12 1zm0 0zm2 0zm1 0zm0 0zm0 0zm1 0zm1 0zm1 0zm8 0zm1 0zm-15 1zm2 0zm2 0zm0 0zm4 0zm7 0zm-16 1zm0 0zm4 0zm0 0zm2 0zm7 0zm1 0zm3 0zm-17 1zm3 0zm3 0zm0 0zm5 0zm2 0zm1 0zm0 0zm1 0zm2 0zm-17 1zm3 0zm2 0zm0 0zm2 0zm4 0zm0 0zm3 0zm1 0zm1 0zm-16 1zm1 0zm1 0zm0 0zm1 0zm1 0zm1 0zm1 0zm5 0zm1 0zm1 0zm2 0zm-15 1zm6 0zm2 0zm0 0zm2 0zm0 0zm2 0zm-8 1zm1 0zm5 0zm1 0zm1 0zm1 0zm1 0zm1 0zm-12 1zm1 0zm2 0zm1 0zm0 0zm0 0zm1 0zm0 0zm1 0zm5 0zm3 0zm0 0zm-17 1zm6 0zm2 0zm1 0zm1 0zm1 0zm-10 1zm1 0zm2 0zm3 0zm6 0zm3 0zm-12 1zm2 0zm4 0zm1 0zm0 0zm1 0zm1 0zm2 0zm1 0zm1 0zm-17 1zm1 0zm5 0zm5 0zm3 0zm3 0zm-10 1zm1 0zm3 0zm3 0zm0 0zm3 0zm-17-35zm5 0zm1 0zm3 0zm1 0zm4 0zm-14 1zm1 0zm0 0zm1 0zm0 0zm1 0zm0 0zm5 0zm3 0zm2 0zm3 0zm-16 1zm0 0zm5 0zm4 0zm1 0zm1 0zm6 0zm-16 1zm1 0zm1 0zm1 0zm0 0zm3 0zm1 0zm9 0zm-17 1zm9 0zm1 0zm0 0zm3 0zm-12 1zm3 0zm1 0zm3 0zm1 0zm3 0zm3 0zm1 0zm0 0zm-15 1zm3 0zm1 0zm3 0zm3 0zm0 0zm0 0zm1 0zm0 0zm1 0zm3 0zm0 0zm0 0zm1 0zm-17 1zm2 0zm1 0zm1 0zm1 0zm2 0zm2 0zm1 0zm5 0zm-11 1zm1 0zm0 0zm4 0zm0 0zm3 0zm2 0zm1 0zm2 0zm-16 1zm0 0zm1 0zm2 0zm0 0zm2 0zm4 0zm4 0zm3 0zm0 0zm-17 1zm1 0zm2 0zm4 0zm1 0zm0 0zm4 0zm1 0zm2 0zm-11 1zm2 0zm2 0zm0 0zm2 0zm0 0zm2 0zm1 0zm0 0zm0 0zm4 0zm-17 1zm2 0zm3 0zm2 0zm2 0zm2 0zm2 0zm2 0zm0 0zm1 0zm-16 1zm1 0zm1 0zm0 0zm0 0zm2 0zm1 0zm1 0zm2 0zm1 0zm7 0zm0 0zm-11 1zm1 0zm2 0zm0 0zm4 0zm1 0zm1 0zm-14 1zm1 0zm1 0zm1 0zm0 0zm5 0zm0 0zm1 0zm1 0zm0 0zm1 0zm0 0zm0 0zm2 0zm-10 1zm0 0zm3 0zm4 0zm1 0zm0 0zm0 0zm1 0zm2 0zm1 0zm1 0zm0 0zm-16 1zm1 0zm0 0zm3 0zm3 0zm1 0zm0 0zm3 0zm1 0zm3 0zm1 0zm1 0zm-12-35zm3 0zm1 0zm0 0zm1 0zm2 0zm2 0zm2 0zm-15 1zm3 0zm1 0zm0 0zm6 0zm3 0zm1 0zm-14 1zm2 0zm4 0zm9 0zm1 0zm-14 1zm8 0zm1 0zm5 0zm-16 1zm2 0zm4 0zm1 0zm3 0zm6 0zm-15 1zm1 0zm4 0zm3 0zm6 0zm-15 1zm1 0zm3 0zm2 0zm2 0zm1 0zm3 0zm0 0zm4 0zm-17 1zm2 0zm2 0zm3 0zm1 0zm4 0zm1 0zm-9 1zm12 0zm-14 1zm3 0zm0 0zm4 0zm1 0zm5 0zm1 0zm-16 1zm2 0zm1 0zm0 0zm3 0zm2 0zm1 0zm5 0zm2 0zm-13 1zm5 0zm1 0zm0 0zm3 0zm1 0zm2 0zm0 0zm2 0zm-15 1zm1 0zm3 0zm1 0zm6 0zm1 0zm1 0zm0 0zm2 0zm-13 1zm6 0zm2 0zm0 0zm-11 1zm0 0zm1 0zm1 0zm1 0zm2 0zm3 0zm-7 1zm3 0zm1 0zm0 0zm2 0zm2 0zm0 0zm1 0zm2 0zm-11 1zm1 0zm2 0zm3 0zm0 0zm1 0zm3 0zm2 0zm0 0zm3 0zm0 0zm-17 1zm2 0zm0 0zm2 0zm1 0zm6 0zm1 0zm2 0zm0 0zm2 0zm-13-35zm1 0zm1 0zm2 0zm1 0zm8 0zm-13 1zm11 0zm0 0zm-14 1zm3 0zm0 0zm2 0zm4 0zm4 0zm-12 1zm4 0zm5 0zm6 0zm-3 1zm1 0zm-9 1zm1 0zm6 0zm3 0zm1 0zm-9 1zm2 0zm0 0zm3 0zm2 0zm-9 1zm6 0zm-10 1zm2 0zm1 0zm3 0zm-7 1zm1 0zm2 0zm6 0zm1 0zm0 0zm1 0zm0 0zm4 0zm-14 1zm1 0zm4 0zm9 0zm-11 1zm2 0zm0 0zm1 0zm1 0zm1 0zm2 0zm3 0zm-12 1zm2 0zm1 0zm12 0zm0 0zm-11 1zm5 0zm2 0zm0 0zm0 0zm-10 1zm2 0zm3 0zm5 0zm-4 1zm4 0zm2 0zm-13 1zm1 0zm1 0zm0 0zm7 0zm6 0zm-17 1zm1 0zm2 0zm2 0zm3 0zm3 0zm4 0zm2 0zm0 0zm-16-35zm5 0zm6 0zm1 0zm-12 2zm12 0zm-13 1zm6 0zm4 0zm7 0zm-17 1zm10 0zm3 0zm2 0zm-4 1zm-7 1zm2 0zm1 1zm7 0zm0 0zm-13 1zm1 1zm14 0zm-15 1zm6 0zm-4 1zm4 0zm1 0zm-8 1zm5 0zm1 0zm3 0zm5 0zm0 1zm0 0zm0 0zm3 0zm-15 1zm0 0zm7 0zm2 0zm0 0zm4 0zm-15 1zm3 0zm2 0zm-5 1zm11 0zm-11 1zm14 0zm-4-35zm-2 2zm-6 1zm5 0zm7 0zm-11 1zm2 2zm-4 1zm4 1zm4 0zm5 0zm1 0zm-11 1zm4 0zm3 0zm3 0zm-6 1zm0 0zm4 0zm-3 2zm0 0zm4 0zm2 0zm-8 2zm1 0zm9 0zm-12 1zm11 0zm-2 1zm-7-32zm4 2zm-1 2zm1 0zm-7 2zm13 1zm-16 1zm8 1zm1 0zm-5 4zm10 0zm2 0zm-7 1zm-2 1zm-6-32zm4 0zm9 0zm-4 3zm2 2zm-12 1zm-1 3zm8 0zm-5 1zm6 0zm4 0zm-6 3zm8 0zm-1-33zm-3 3zm1 2zm-10 1zm10 0zm-4 7zm6-30zm-10 1zm0 8zm12 2zm0-31zm1 8zm-1-26zm-15 9zm13-15zm-14 4zm10-36zm-10-57zm19 8zm4 23zm5 64zm-4 7zm7 1zm2 1zm-9 17zm-1 8zm11 0zm1 0zm-6 1zm-9 28zm-1 1zm8 1zm4 0zm-12 3zm10 0zm-11 1zm7 3zm6 0zm1 2zm-12 1zm3 5zm10 0zm2 0zm-10 1zm4 1zm4 1zm-12 1zm11 0zm2 1zm-15 1zm9 0zm-10 3zm10 2zm2 2zm5 0zm-3 6zm-12 1zm0 2zm10 0zm1 0zm-11 1zm11 0zm0 0zm2 0zm-6 1zm7 2zm-10 1zm-2 1zm7 1zm1 0zm-12 1zm8 1zm-2 1zm-4 2zm4 1zm3 0zm-9 1zm6 0zm4 0zm5 0zm-4 1zm6 1zm-11 1zm-2 1zm0 0zm2 0zm-1 3zm4 1zm4 0zm-9 1zm11 1zm-14 1zm9 0zm-3 1zm-3 2zm12 0zm1 0zm-15 1zm5 0zm10 0zm-11 1zm2 0zm-6 1zm2 0zm6 0zm4 1zm3 0zm-17 1zm3 0zm1 0zm8 0zm2 0zm-1 2zm2 1zm-12 1zm1 0zm6 0zm1 0zm6 0zm-16 1zm1 0zm3 0zm3 0zm5 0zm-13 1zm3 0zm-2 1zm13 0zm1 0zm-15 1zm6 0zm1 0zm8 0zm-10 1zm2 0zm3 0zm4 0zm1 0zm-5 1zm4 0zm3 0zm0 0zm-17 1zm1 0zm2 0zm3 0zm3 0zm5 0zm3 0zm-17 1zm1 0zm1 0zm2 0zm1 0zm1 0zm2 0zm9 0zm-10 1zm1 0zm0 0zm2 0zm2 0zm-3 1zm-8 1zm5 0zm9 0zm0 0zm-15 1zm4 0zm3 0zm6 0zm2 0zm0 0zm0 0zm1 0zm-16 1zm3 0zm0 0zm0 0zm7 0zm1 0zm1 0zm-11 1zm8 0zm0 0zm2 0zm1 0zm4 0zm-10 1zm1 0zm5 0zm-12 1zm0 0zm8 0zm-4 1zm5 0zm-4 1zm0 0zm2 0zm2 0zm-7 1zm6 0zm2 0zm1 0zm5 0zm-15 1zm0 1zm2 0zm1 0zm5 0zm0 0zm0 0zm5 0zm1 0zm1 0zm-10 1zm1 0zm0 0zm1 0zm4 0zm5 0zm-4 1zm4 0zm-16 1zm10 0zm4 0zm2 0zm-17 1zm1 0zm9 0zm6 0zm0 0zm1 0zm-14 1zm1 0zm6 0zm4 0zm-7 1zm5 0zm1 0zm1 0zm1 0zm-10 1zm6 0zm2 0zm-11 1zm0 0zm3 0zm1 0zm1 0zm4 0zm0 0zm-2 1zm1 0zm4 0zm1 0zm-5 1zm2 0zm2 0zm1 0zm0 0zm1 0zm-15 1zm0 0zm2 0zm3 0zm9 0zm1 0zm1 0zm-16 1zm6 0zm0 0zm8 0zm1 0zm0 0zm1 0zm-17 1zm2 0zm1 0zm1 0zm2 0zm3 0zm6 0zm1 0zm1 0zm-16 1zm6 0zm8 0zm-11 1zm0 0zm1 0zm5 0zm2 0zm-10 1zm10 0zm1 0zm-12 1zm1 0zm7 0zm1 0zm4 0zm0 0zm1 0zm1 0zm-9 1zm0 0zm1 0zm4 0zm2 0zm2 0zm-14 1zm1 0zm1 0zm2 0zm4 0zm0 0zm2 0zm5 0zm-17 1zm3 0zm4 0zm1 0zm1 0zm5 0zm2 0zm-16 1zm1 0zm6 0zm5 0zm4 0zm-13 1zm2 0zm5 0zm1 0zm3 0zm1 0zm1 0zm1 0zm0 0zm-15 1zm0 0zm2 0zm0 0zm0 0zm2 0zm1 0zm1 0zm6 0zm3 0zm-16 1zm0 0zm1 0zm3 0zm0 0zm0 0zm1 0zm2 0zm1 0zm0 0zm8 0zm-17 1zm0 0zm0 0zm2 0zm0 0zm9 0zm1 0zm4 0zm-15 1zm2 0zm2 0zm2 0zm2 0zm4 0zm2 0zm-15 1zm1 0zm0 0zm1 0zm1 0zm2 0zm4 0zm0 0zm3 0zm1 0zm0 0zm-13 1zm3 0zm2 0zm1 0zm4 0zm2 0zm1 0zm1 0zm-8 1zm1 0zm2 0zm3 0zm4 0zm-16 1zm3 0zm6 0zm3 0zm1 0zm1 0zm0 0zm0 0zm3 0zm-16 1zm3 0zm4 0zm4 0zm3 0zm0 0zm2 0zm-17 1zm1 0zm0 0zm0 0zm0 0zm0 0zm1 0zm3 0zm1 0zm1 0zm1 0zm1 0zm0 0zm1 0zm5 0zm1 0zm-13 1zm0 0zm0 0zm4 0zm1 0zm2 0zm1 0zm-10 1zm0 0zm6 0zm3 0zm1 0zm5 0zm-15 1zm0 0zm1 0zm1 0zm0 0zm1 0zm2 0zm0 0zm1 0zm4 0zm0 0zm1 0zm2 0zm1 0zm-15 1zm0 0zm1 0zm6 0zm3 0zm0 0zm4 0zm3 0zm-17 1zm1 0zm5 0zm0 0zm3 0zm1 0zm3 0zm2 0zm2 0zm-17 1zm3 0zm4 0zm0 0zm3 0zm4 0zm-4 1zm2 0zm3 0zm0 0zm-10 1zm1 0zm2 0zm1 0zm0 0zm1 0zm4 0zm1 0zm-15 1zm1 0zm2 0zm2 0zm1 0zm1 0zm3 0zm1 0zm1 0zm0 0zm1 0zm-13 1zm1 0zm3 0zm1 0zm5 0zm1 0zm-10 1zm6 0zm0 0zm2 0zm0 0zm2 0zm1 0zm4 0zm1 0zm-15 1zm1 0zm1 0zm0 0zm0 0zm1 0zm11 0zm-14 1zm3 0zm3 0zm1 0zm2 0zm0 0zm0 0zm4 0zm-12 1zm0 0zm2 0zm4 0zm2 0zm1 0zm5 0zm0 0zm-15 1zm3 0zm1 0zm2 0zm6 0zm1 0zm2 0zm-17 1zm1 0zm2 0zm0 0zm8 0zm0 0zm0 0zm1 0zm4 0zm-9 1zm4 0zm1 0zm0 0zm0 0zm1 0zm3 0zm-12 1zm2 0zm1 0zm0 0zm8 0zm-10 1zm1 0zm1 0zm6 0zm-13 1zm3 0zm6 0zm1 0zm1 0zm2 0zm2 0zm2 0zm-9 1zm1 0zm2 0zm4 0zm1 0zm-15 1zm0 0zm5 0zm1 0zm3 0zm0 0zm1 0zm1 0zm3 0zm2 0zm-15 1zm1 0zm3 0zm1 0zm1 0zm5 0zm-12 1zm1 0zm8 0zm-6 1zm3 0zm2 0zm0 0zm5 0zm-14 1zm1 0zm4 0zm1 0zm2 0zm0 0zm0 1zm1 0zm1 0zm2 0zm1 0zm3 0zm-13 1zm2 0zm4 0zm4 0zm3 0zm1 0zm-15 1zm14 0zm-15 1zm11 0zm0 0zm1 0zm-7 1zm2 0zm3 0zm6 0zm-13 1zm11 0zm1 0zm2-8zm1 0zm2 0zm3 0zm9 0zm-15 1zm1 0zm2 0zm1 0zm7 0zm3 0zm2 0zm1 0zm-8 1zm0 0zm5 0zm1 0zm0 0zm2 0zm0 0zm-15 1zm10 0zm1 0zm-11 1zm1 0zm1 0zm5 0zm3 0zm0 0zm-11 1zm10 0zm-9 1zm2 0zm1 0zm9 0zm2 0zm0 1zm1 0zm-8 1zm-9-26zm1 0zm0 0zm10 0zm-11 1zm1 0zm3 0zm0 0zm2 0zm4 0zm4 0zm2 0zm-15 1zm0 0zm2 0zm0 0zm4 0zm5 0zm2 0zm1 0zm0 0zm1 0zm-16 1zm0 0zm0 0zm1 0zm1 0zm4 0zm2 0zm1 0zm2 0zm-11 1zm0 0zm0 0zm5 0zm1 0zm0 0zm0 0zm3 0zm8 0zm-12 1zm2 0zm4 0zm3 0zm0 0zm3 0zm-16 1zm6 0zm1 0zm2 0zm0 0zm1 0zm3 0zm0 0zm1 0zm1 0zm-13 1zm0 0zm4 0zm0 0zm5 0zm3 0zm0 0zm2 0zm-16 1zm0 1zm8 0zm6 0zm1 0zm-14 1zm5 0zm1 0zm2 0zm7 0zm-16 1zm0 0zm5 0zm0 0zm1 0zm3 0zm0 0zm7 0zm0 0zm-17 1zm2 0zm2 0zm1 0zm9 0zm1 0zm-13 1zm2 0zm1 0zm4 0zm2 0zm5 0zm0 0zm-16 1zm0 0zm2 0zm3 0zm2 0zm1 0zm3 0zm2 0zm3 0zm0 0zm1 0zm-14 1zm1 0zm1 0zm1 0zm1 0zm1 0zm0 0zm3 0zm5 0zm1 0zm-16 1zm1 0zm1 0zm1 0zm0 0zm1 0zm2 0zm3 0zm7 0zm-13 1zm1 0zm2 0zm-5-35zm1 0zm1 0zm3 0zm1 0zm2 0zm0 0zm1 0zm3 0zm1 0zm0 0zm-13 1zm5 0zm3 0zm1 0zm3 0zm1 0zm-13 1zm0 0zm9 0zm5 0zm-10 1zm2 0zm0 0zm-8 1zm0 0zm5 0zm3 0zm3 0zm2 0zm1 0zm2 0zm-16 1zm4 0zm2 0zm3 0zm1 0zm1 0zm3 0zm1 0zm0 0zm-14 1zm1 0zm0 0zm1 0zm1 0zm0 0zm2 0zm2 0zm3 0zm3 0zm-7 1zm0 0zm1 0zm1 0zm7 0zm-14 1zm3 0zm0 0zm2 0zm5 0zm4 0zm-16 1zm2 0zm1 0zm0 0zm0 0zm10 0zm-9 1zm6 0zm2 0zm-11 1zm0 0zm0 0zm2 0zm0 0zm1 0zm1 0zm3 0zm1 0zm4 0zm1 0zm-14 1zm0 0zm6 0zm7 0zm2 0zm-8 1zm3 0zm0 0zm1 0zm0 0zm2 0zm0 0zm4 0zm-16 1zm1 0zm2 0zm1 0zm0 0zm2 0zm0 0zm4 0zm2 0zm4 0zm-16 1zm2 0zm1 0zm5 0zm1 0zm1 0zm3 0zm3 0zm-14 1zm3 0zm2 0zm0 0zm1 0zm1 0zm1 0zm1 0zm4 0zm-12 1zm0 0zm1 0zm2 0zm1 0zm-8-35zm1 0zm4 0zm2 0zm1 0zm7 0zm1 0zm-16 1zm3 0zm3 0zm5 0zm1 0zm-10 2zm4 0zm1 0zm3 0zm-7 1zm1 0zm3 0zm9 0zm-13 1zm5 0zm6 0zm-14 1zm4 0zm11 0zm-13 1zm1 0zm0 0zm4 0zm1 0zm0 1zm5 0zm0 0zm2 0zm1 0zm-16 1zm3 0zm1 0zm3 0zm4 0zm0 0zm1 0zm0 0zm2 0zm0 0zm-14 1zm1 0zm3 0zm0 0zm4 0zm2 0zm1 0zm1 0zm1 0zm-13 1zm3 0zm2 0zm7 0zm1 0zm-2 1zm4 0zm2 0zm-13 1zm2 0zm1 0zm0 0zm1 0zm1 0zm3 0zm0 0zm0 0zm0 0zm1 0zm4 0zm-17 1zm2 0zm1 0zm2 0zm7 0zm2 0zm2 0zm-15 1zm1 0zm3 0zm5 0zm1 0zm2 0zm1 0zm1 0zm-14 1zm1 0zm0 0zm2 0zm3 0zm9 0zm-16 1zm6 0zm3 0zm1 0zm1 0zm1 0zm1 0zm2 0zm2 0zm-15-35zm6 0zm1 0zm-6 1zm5 0zm-4 1zm13 0zm-14 1zm6 0zm6 0zm1 0zm0 0zm-16 1zm1 0zm0 0zm2 0zm2 0zm9 0zm-9 1zm10 0zm1 0zm0 0zm-9 1zm6 1zm0 0zm-12 1zm16 0zm-15 1zm2 0zm6 0zm5 0zm-11 1zm13 0zm-11 1zm5 0zm2 0zm4 0zm-7 1zm4 0zm-6 1zm5 0zm0 0zm-11 1zm9 0zm-10 1zm6 0zm1 0zm7 0zm-8 1zm5 0zm-7 1zm4 0zm4 0zm3 0zm1-35zm-9 1zm3 0zm-8 1zm7 0zm-2 1zm7 1zm-12 1zm11 0zm-5 1zm-5 1zm-4 1zm1 0zm16 1zm-6 2zm4 0zm-12 1zm11 0zm-12 1zm6 2zm2 0zm3 0zm-9 1zm1 0zm0 0zm9 0zm3 0zm0 0zm-11 1zm8 0zm2 0zm-5-35zm1 0zm0 1zm-8 1zm3 0zm2 0zm1 2zm3 4zm4 0zm-17 2zm12 0zm4 0zm-10 1zm1 1zm6 0zm-11 1zm1 1zm4 0zm5 0zm-2 1zm-8 1zm1 0zm7 0zm0 0zm-1 1zm6 0zm-10-35zm7 1zm0 0zm2 1zm-4 1zm2 0zm-12 2zm1 0zm5 3zm-1 1zm-2 1zm14 0zm-13 5zm7 2zm-9-32zm3 0zm1 0zm9 0zm-15 3zm2 11zm3-25zm9 0zm-14 1zm12 5zm-2 1zm-5-27zm5 8zm0-33zm-6 6zm0 7zm1-28zm0 7zm10 5zm-11 1zm-2-29zm15 2zm-17-141zm26 106zm7 23zm2 2zm-14 43zm-2 6zm5 7zm0 3zm4 1zm-7 3zm-2 8zm9 2zm0 4zm7 2zm-16 12zm1 0zm7 0zm-2 8zm3 5zm0 0zm4 2zm-1 1zm-4 2zm4 2zm-4 3zm8 2zm-7 1zm5 1zm1 4zm-16 2zm9 0zm2 1zm-9 4zm5 1zm1 1zm4 0zm-7 1zm10 2zm-12 2zm13 0zm-16 1zm3 0zm6 0zm0 1zm1 0zm6 0zm-11 1zm-3 3zm8 0zm-8 3zm1 0zm11 0zm-7 4zm5 0zm1 0zm-9 1zm9 0zm-10 1zm1 0zm4 0zm1 0zm-4 1zm7 0zm-4 1zm1 0zm5 0zm-3 1zm-8 1zm4 0zm7 0zm-12 1zm4 0zm7 0zm2 0zm-14 1zm4 0zm0 0zm5 0zm-9 2zm1 0zm6 1zm8 0zm-6 1zm0 0zm-8 1zm4 0zm-6 1zm0 0zm5 0zm2 0zm5 0zm-12 1zm6 0zm8 0zm-9 3zm4 0zm2 0zm2 0zm-13 1zm4 0zm10 0zm1 0zm-15 1zm1 0zm1 2zm5 0zm9 0zm1 0zm-13 1zm3 0zm6 0zm-11 1zm2 0zm0 0zm1 0zm2 0zm2 0zm2 0zm3 0zm2 0zm-13 2zm5 0zm2 0zm0 0zm3 0zm-13 1zm6 0zm7 0zm0 0zm1 0zm1 0zm1 0zm-10 1zm2 0zm2 0zm1 0zm-4 1zm5 0zm3 0zm2 0zm-15 1zm5 0zm1 0zm2 0zm0 0zm1 0zm4 0zm-13 1zm5 0zm5 0zm-8 1zm3 0zm7 0zm-11 1zm4 0zm-1 1zm2 0zm4 0zm-5 1zm-7 1zm7 0zm8 0zm-4 1zm2 0zm0 0zm3 0zm-9 1zm1 0zm3 0zm1 0zm-11 1zm3 0zm6 0zm2 0zm-11 1zm1 0zm6 0zm1 0zm3 0zm0 0zm2 0zm-10 1zm1 0zm1 1zm1 0zm-5 1zm3 0zm1 0zm0 0zm5 0zm1 0zm1 0zm1 0zm0 0zm-12 1zm4 0zm0 0zm4 0zm5 0zm-7 1zm8 0zm-14 1zm1 0zm5 0zm6 0zm-5 1zm1 0zm0 0zm3 0zm-8 1zm2 0zm7 0zm1 0zm2 0zm-16 1zm3 0zm5 0zm-9 1zm2 0zm1 0zm6 0zm6 0zm2 0zm-9 1zm0 0zm6 0zm3 0zm-13 1zm-1 1zm2 0zm3 0zm2 0zm5 0zm-12 1zm1 0zm1 0zm1 0zm7 0zm-12 1zm5 0zm5 0zm-7 1zm2 0zm2 0zm5 0zm-6 1zm10 0zm0 0zm-13 1zm7 0zm5 0zm1 0zm-14 1zm1 0zm1 0zm3 0zm2 0zm-10 1zm5 0zm9 0zm1 0zm-3 1zm1 0zm2 0zm-13 1zm1 0zm3 0zm2 0zm1 0zm4 0zm3 0zm-15 1zm2 0zm3 0zm1 0zm1 0zm1 0zm8 0zm-15 1zm0 0zm8 0zm2 0zm3 0zm-15 1zm1 0zm3 0zm4 0zm0 0zm5 0zm3 0zm0 0zm1 0zm-10 1zm3 0zm2 0zm2 0zm-11 1zm1 0zm3 0zm0 0zm1 0zm0 0zm2 0zm3 0zm-13 1zm0 0zm3 0zm8 0zm-10 1zm3 0zm2 0zm0 0zm2 0zm6 0zm3 0zm0 0zm-17 1zm5 0zm0 0zm4 0zm1 0zm5 0zm2 0zm-17 1zm3 0zm1 0zm4 0zm-8 1zm1 0zm6 0zm3 0zm2 0zm5 0zm-15 1zm5 0zm2 0zm0 0zm1 0zm2 0zm1 0zm1 0zm0 0zm1 0zm-9 1zm2 0zm4 0zm1 0zm2 0zm1 0zm-15 1zm5 0zm0 0zm9 0zm1 0zm-16 1zm7 0zm5 0zm1 0zm1 0zm2 0zm-14 1zm3 0zm1 0zm0 0zm3 0zm0 0zm4 0zm1 0zm-13 1zm1 0zm3 0zm1 0zm2 0zm-6 1zm7 0zm1 0zm4 0zm-9 1zm0 0zm11 0zm-16 1zm2 0zm0 0zm3 0zm8 0zm1 0zm2 0zm-16 1zm1 0zm2 0zm3 0zm1 0zm2 0zm3 0zm1 0zm2 0zm-15 1zm2 0zm1 0zm1 0zm5 0zm0 0zm0 0zm-2 1zm3 0zm1 0zm1 0zm2 0zm0 0zm3 0zm-3 1zm1 0zm-15 1zm5 0zm2 0zm4 0zm3 0zm-14 1zm1 0zm2 0zm0 0zm1 0zm12 0zm-14 1zm0 0zm3 0zm2 0zm-6 1zm13 0zm2 0zm-13 1zm0 0zm2 0zm3 0zm7 0zm1 0zm1 0zm-15 1zm7 0zm0 0zm3 0zm2 0zm1 0zm0 0zm-15 1zm8 0zm2 0zm5 0zm2 0zm-14 1zm1 0zm2 0zm8 0zm-13 1zm-1 1zm3 0zm0 0zm3 0zm6 0zm3 0zm7-8zm4 0zm1 0zm3 0zm2 0zm1 0zm1 0zm0 0zm-9 1zm2 0zm3 0zm1 0zm0 0zm3 0zm0 0zm-1 1zm-14 1zm4 0zm11 0zm-12 1zm1 0zm2 0zm3 0zm7 0zm-14 1zm7 0zm3 0zm-12 3zm3 0zm1 0zm4 0zm7-26zm-12 1zm0 0zm2 0zm7 0zm1 0zm1 0zm-15 1zm0 0zm8 0zm6 0zm2 0zm-15 1zm0 0zm5 0zm4 0zm-8 1zm1 0zm7 0zm1 0zm2 0zm1 0zm-9 1zm9 0zm-10 1zm9 0zm2 0zm1 0zm1 0zm-15 1zm6 0zm0 0zm2 0zm0 0zm3 0zm-12 1zm0 0zm1 0zm8 0zm-9 1zm9 0zm5 0zm-14 1zm5 0zm10 0zm-11 1zm0 0zm2 0zm2 0zm-8 1zm4 0zm5 0zm1 0zm0 0zm6 0zm-14 1zm3 0zm4 0zm3 0zm4 0zm-15 1zm0 1zm3 0zm-1 1zm4 0zm2 0zm6 0zm-14 1zm1 0zm1 0zm1 0zm6 0zm3 0zm2 0zm-9-35zm1 0zm2 0zm6 0zm-16 1zm3 0zm4 0zm2 0zm-7 1zm5 0zm-6 1zm6 0zm6 0zm3 0zm-15 1zm1 0zm3 0zm12 0zm-16 1zm1 0zm7 0zm7 0zm-12 1zm3 0zm-2 1zm2 0zm10 0zm-12 1zm10 0zm1 0zm-13 1zm4 0zm5 0zm3 0zm-12 1zm10 0zm4 0zm-15 1zm0 0zm2 0zm6 0zm2 0zm4 0zm-13 1zm1 0zm1 0zm9 0zm-14 1zm4 0zm0 0zm1 0zm0 0zm8 0zm-9 1zm0 0zm10 0zm-14 1zm3 0zm3 0zm-3 1zm9 0zm5 0zm-13 1zm3 0zm1 0zm0 0zm1 0zm-9-34zm0 0zm1 2zm7 0zm8 1zm-13 1zm5 0zm-3 1zm2 0zm6 0zm0 0zm3 0zm1 0zm-16 1zm0 0zm0 0zm1 0zm2 0zm5 0zm5 0zm1 0zm1 0zm-11 1zm6 0zm2 0zm-13 1zm17 1zm-16 1zm9 0zm-10 1zm0 0zm15 0zm-15 1zm5 0zm5 0zm2 0zm-2 1zm1 0zm4 0zm2 0zm-16 1zm3 0zm6 0zm-2 1zm2 0zm5 0zm-15-34zm13 0zm2 0zm-3 1zm1 0zm-6 1zm-2 1zm6 0zm-9 1zm1 0zm4 0zm-5 1zm4 0zm2 1zm0 1zm-8 1zm12 0zm-10 1zm0 0zm7 0zm1 0zm3 0zm3 0zm-15 1zm3 0zm2 0zm6 0zm-7 1zm4 0zm5 0zm-2 1zm4 0zm-4 2zm1 0zm-12 1zm2 0zm11 0zm-4 1zm-10 1zm5 0zm4 0zm1 0zm3 0zm2 0zm1 0zm-5-34zm-5 6zm0 0zm-2 1zm6 0zm-3 3zm4 0zm-10 1zm8 0zm1 0zm3 0zm-12 2zm3 0zm13 0zm-14 1zm7 0zm-6 1zm0 0zm9 0zm0 0zm1 0zm-5 1zm5 0zm-4-34zm5 0zm-2 1zm-13 1zm2 1zm13 0zm-8 2zm9 5zm-11 1zm5 0zm-3 1zm-5 2zm13-32zm-10 3zm6 4zm-5 3zm-5 2zm0 1zm8 0zm1 0zm0 1zm-8 1zm14-33zm-14 1zm11 7zm-3 3zm-9 2zm13 0zm-14 2zm8-33zm5 1zm-10 5zm1 2zm11 1zm-4 4zm3 2zm-5-29zm-5 1zm10 5zm-14 4zm14-27zm-3-21zm-1 1zm-9-9zm15-30zm-14 9zm15 3zm-8-121zm5-11zm-8-9zm23 63zm-8 93zm5 16zm-3 25zm6 13zm-10 3zm0 13zm-1 7zm10 8zm2 0zm3 1zm2 5zm0 3zm-16 1zm7 0zm0 3zm-5 9zm8 4zm-8 5zm11 3zm0 0zm-12 1zm4 1zm2 0zm-8 1zm14 3zm-14 1zm14 1zm3 0zm-15 1zm12 1zm3 0zm-15 1zm7 0zm-8 6zm4 2zm0 0zm7 0zm-5 2zm2 0zm-9 1zm9 1zm-7 2zm12 1zm-14 3zm2 0zm8 0zm-1 2zm-1 2zm-6 1zm15 0zm-16 2zm5 0zm5 0zm5 1zm-15 1zm6 0zm7 0zm-10 1zm-1 1zm3 0zm4 0zm0 0zm-6 1zm6 0zm-3 1zm7 0zm-6 1zm3 0zm5 0zm-14 1zm10 1zm-9 2zm-3 2zm4 0zm2 0zm8 0zm-13 1zm16 0zm0 0zm-14 1zm2 0zm-3 2zm3 0zm3 0zm2 0zm5 1zm0 0zm-9 1zm11 0zm-6 1zm4 0zm1 0zm-16 1zm9 0zm4 0zm3 1zm-14 1zm1 0zm5 0zm-5 1zm6 0zm4 0zm-4 1zm-6 1zm4 0zm6 0zm1 0zm-9 1zm1 0zm0 1zm-5 2zm3 0zm11 0zm-8 1zm4 0zm4 0zm-15 1zm2 0zm6 0zm2 0zm1 0zm1 0zm3 0zm-13 1zm2 0zm1 0zm-5 1zm7 0zm3 0zm-4 1zm4 0zm3 0zm-12 1zm1 0zm5 0zm-5 1zm3 0zm2 0zm-7 1zm1 0zm15 0zm-13 1zm-1 1zm0 0zm3 0zm1 0zm1 0zm-5 1zm1 0zm2 0zm4 0zm2 0zm2 0zm1 0zm-14 1zm0 0zm3 0zm1 0zm8 0zm1 0zm1 1zm-13 1zm4 0zm7 0zm0 0zm-12 1zm4 0zm13 0zm-7 1zm0 0zm-6 1zm1 0zm-2 1zm1 0zm1 0zm1 0zm1 0zm1 0zm1 0zm-4 1zm4 0zm7 0zm-16 1zm4 0zm12 0zm1 0zm-16 1zm4 0zm0 0zm6 0zm0 0zm2 0zm4 0zm-11 1zm2 0zm2 0zm1 0zm-11 1zm7 0zm3 0zm7 0zm-13 2zm3 0zm2 0zm1 0zm5 0zm0 0zm-10 1zm6 0zm2 0zm-4 1zm0 1zm2 0zm-6 1zm1 0zm5 0zm-11 1zm0 0zm4 0zm2 0zm11 0zm-1 1zm-15 1zm7 0zm-5 1zm7 1zm4 0zm-12 1zm7 0zm2 0zm3 0zm-7 1zm8 0zm-14 1zm0 0zm3 0zm1 0zm2 0zm-2 1zm5 0zm3 0zm-6 1zm4 0zm5 0zm-11 1zm1 0zm-6 1zm16 0zm-15 1zm0 0zm8 0zm2 0zm-7 1zm3 0zm-4 1zm7 0zm-10 1zm1 0zm2 0zm6 0zm-7 1zm12 0zm-4 1zm8-8zm12 0zm3 0zm-14 1zm1 0zm12 0zm-12 2zm13 0zm2 0zm-17 1zm3 0zm6 0zm-8 1zm11 0zm-6 3zm3 0zm-9-26zm4 0zm0 0zm9 0zm-9 1zm3 0zm10 0zm-14 1zm8 0zm-5 1zm-5 2zm6 1zm-7 1zm0 0zm3 0zm13 0zm-15 1zm2 0zm2 1zm6 0zm6 0zm-16 1zm8 1zm-7 1zm0 0zm6 0zm6 0zm3 0zm-16 1zm1 0zm-2 1zm1 0zm7 0zm7 0zm0 1zm-13 1zm7 1zm2 0zm5 0zm1 0zm-14-35zm1 0zm2 0zm1 0zm1 0zm-1 1zm0 0zm5 0zm2 0zm1 0zm-14 1zm1 0zm2 0zm2 0zm3 0zm1 0zm3 0zm1 1zm2 0zm-16 1zm3 0zm-1 1zm7 0zm7 0zm-10 1zm8 0zm-13 1zm2 0zm2 0zm1 0zm6 0zm1 0zm-5 1zm4 2zm1 0zm4 0zm-17 1zm1 0zm5 0zm2 0zm6 0zm0 0zm-10 2zm8 0zm-10 1zm4 0zm1 0zm6 0zm2 0zm-4 1zm0 0zm2 0zm3 0zm-15 1zm3 0zm10 0zm-14 1zm0 0zm1 0zm3 0zm1 0zm2 0zm1 0zm4 0zm5 0zm0 0zm0 0zm-15-35zm9 0zm-11 1zm1 0zm9 0zm-9 1zm0 0zm-1 1zm2 0zm5 0zm-1 2zm2 0zm-8 1zm3 0zm0 1zm10 0zm3 0zm-16 1zm5 1zm1 0zm-4 1zm1 0zm7 0zm7 0zm-14 1zm0 0zm8 0zm-5 1zm6 0zm1 0zm-9 1zm-3 1zm6 0zm5 0zm-10 1zm1 0zm9 0zm5 0zm-15 1zm3 0zm4 0zm-3 1zm-1-35zm2 0zm2 0zm7 0zm1 1zm-6 1zm-10 1zm0 0zm1 0zm1 1zm6 0zm2 0zm1 0zm-7 1zm0 1zm-5 3zm11 0zm3 1zm2 0zm-10 1zm3 0zm-1 1zm3 1zm-3 1zm7 1zm-10 1zm2 0zm-7 1zm16 0zm-15-35zm2 0zm12 2zm1 1zm1 0zm-12 2zm6 0zm-1 2zm-7 3zm11 0zm-8 2zm-5 3zm1 0zm10 0zm2-30zm-12 2zm-2 1zm0 5zm1 5zm2 0zm2-31zm1 6zm9 1zm1 1zm-6 2zm1 1zm-3 3zm4-28zm0 3zm-11 2zm4 0zm12 1zm-13-27zm-2 3zm7 4zm-3 4zm-5-33zm13 5zm1 3zm-3 4zm4-15zm-9 1zm-3-32zm9 7zm-3 3zm7 4zm-1-27zm-14 2zm14 2zm-2-56zm3-67zm10 85zm-5 41zm-2 7zm14 6zm-11 6zm7 6zm-4 2zm3 15zm1 5zm-10 11zm5 0zm-7 3zm12 4zm-12 7zm9 0zm-5 2zm5 0zm-2 3zm-3 2zm8 9zm1 5zm-6 2zm-2 5zm5 1zm-10 1zm1 2zm0 3zm8 0zm2 0zm1 9zm-2 3zm-9 7zm-1 2zm12 0zm4 1zm-4 2zm3 0zm1 0zm-6 2zm-1 2zm4 0zm-7 4zm-2 1zm-2 4zm3 0zm-1 1zm10 0zm3 5zm0 0zm-10 1zm-6 1zm0 0zm9 1zm1 0zm3 1zm-7 5zm3 3zm-5 1zm-2 1zm7 1zm-6 1zm0 1zm1 1zm0 1zm9 0zm3 0zm-6 1zm-11 2zm16 0zm-9 2zm3 0zm-3 1zm-2 1zm-5 2zm8 0zm1 1zm7 0zm-5 1zm4 0zm-12 2zm5 2zm2 0zm-6 1zm6 0zm0 0zm4 0zm-12 1zm2 0zm6 0zm2 0zm-5 1zm2 0zm-3 1zm1 0zm1 0zm-5 1zm3 0zm1 0zm7 2zm-1 1zm4 0zm-7 1zm-7 1zm3 0zm-2 1zm1 0zm3 0zm1 0zm0 1zm1 1zm-5 1zm5 0zm2 0zm3 0zm-7 1zm-8 1zm12 0zm1 0zm-3 1zm-9 1zm14 0zm-15 1zm6 0zm10 0zm-4 1zm-5 1zm0 0zm2 0zm0 0zm8 0zm0 1zm-7 1zm4 0zm-13 1zm15 0zm-7 2zm1 0zm1 0zm-6 1zm7 0zm3 0zm2 0zm-2 1zm-11 1zm12 0zm-4 1zm-10 1zm8 0zm5 0zm-13 1zm0 1zm3 0zm5 0zm2 1zm1 0zm1 0zm-13 1zm4 1zm-3 1zm12 1zm-7 1zm1 0zm1 0zm3 0zm-7 1zm1 0zm8 0zm-13 1zm13 0zm-7 2zm27-7zm-5 1zm3 0zm3 1zm-14 1zm11 0zm-6 2zm7 0zm-8 1zm-6-23zm2 0zm6 0zm2 2zm-3 1zm-5 1zm7 0zm-4 2zm9 0zm1 0zm-9 1zm7 1zm1 0zm1 1zm-13 3zm8 0zm-7 1zm7 0zm3 0zm-7 1zm8 0zm-12 1zm7-33zm4 1zm-11 1zm8 0zm1 0zm-11 2zm-1 4zm9 0zm7 0zm-4 1zm0 4zm1 1zm-2 2zm6-33zm-6 3zm-4 1zm-4 1zm12 0zm-8 3zm-4 4zm-3 1zm15-32zm-14 4zm6 0zm9 1zm-7 4zm1 0zm1 2zm3-29zm-8 2zm10 1zm0 2zm-11 1zm4 6zm-8 3zm2 0zm12-30zm-12 5zm3 0zm7 4zm-7 2zm3-29zm2 9zm-11 1zm3 2zm-3-30zm13 7zm-13 3zm0 1zm6-21zm-6 1zm4-20zm11-29zm-5 7zm-10 7zm1-48zm0 2zm16 7zm-16 4zm24-13zm7 24zm-2 9zm-5 29zm3 10zm7 0zm-16 16zm2 16zm2 10zm-4 7zm6 5zm-7 2zm3 2zm3 1zm9 1zm-8 5zm-7 11zm11 2zm-10 3zm1 2zm3 1zm6 0zm4 3zm-1 1zm-10 3zm-3 7zm4 0zm2 0zm6 3zm-5 6zm-1 1zm1 2zm-6 2zm11 0zm-7 3zm-3 2zm-2 3zm11 0zm-7 2zm12 0zm-17 3zm1 0zm0 2zm7 3zm2 1zm3 0zm1 9zm-8 1zm-2 2zm10 0zm-12 2zm9 0zm-4 5zm3 3zm1 0zm4 0zm-14 2zm3 0zm-3 2zm3 5zm10 0zm0 1zm-12 4zm8 1zm14-7zm3 3zm5 1zm-14-21zm5 6zm1 5zm-4 3zm10-32zm2 2zm-2 1zm0 2zm-3 2zm-9 3zm11-24zm-3 3zm1 6zm-2 1zm-3-33zm-3 3zm1 1zm3 0zm2 6zm0-25zm-7 3zm0 7zm15-26zm-10 9zm-3-133zm6 4zm11 98zm0 92zm1 16zm6 12zm1 8zm-2 4z"/></g>
</g>
<g id="box">
<path d="M56.4 580.18V855H317.1" fill="none" stroke="#383838" stroke-width="1.25"/>
<path d="M56.4 854.7h2.6M56.4 809.03h2.6M56.4 763.36h2.6M56.4 717.69h2.6M56.4 672.02h2.6M56.4 626.35h2.6M56.4 580.68h2.6M121.45 854.7v-3.6M186.5 854.7v-3.6M251.55 854.7v-3.6M316.6 854.7v-3.6" fill="none" stroke="#333" stroke-width="1"/>
<g class="bk" text-anchor="end">
<text x="45.8" y="858">0.0</text>
<text x="45.8" y="812.33">0.1</text>
<text x="45.8" y="766.66">0.2</text>
<text x="45.8" y="720.99">0.3</text>
<text x="45.8" y="675.32">0.4</text>
<text x="45.8" y="629.65">0.5</text>
<text x="45.8" y="583.98">0.6</text>
</g>
<path d="M89 725.5V767.8M89 824.7V837.4" stroke="#333" stroke-width="1.1" fill="none"/>
<path d="M85.7 725.5h6.6M85.7 837.4h6.6" stroke="#111" stroke-width="1.7" fill="none"/>
<rect x="75.5" y="767.8" width="26.9" height="56.9" fill="#f9f9f9" stroke="#333" stroke-width="1.15"/>
<path d="M84.2 802.8h9.6" stroke="#000" stroke-width="2" fill="none"/>
<path d="M154.1 704V746.3M154.1 820.2V834.5" stroke="#333" stroke-width="1.1" fill="none"/>
<path d="M150.8 704h6.6M150.8 834.5h6.6" stroke="#111" stroke-width="1.7" fill="none"/>
<rect x="140.8" y="746.3" width="26.4" height="73.9" fill="#f9f9f9" stroke="#333" stroke-width="1.15"/>
<path d="M149.3 792h9.6" stroke="#000" stroke-width="2" fill="none"/>
<path d="M219.1 662.4V702.9M219.1 798.6V821.4" stroke="#333" stroke-width="1.1" fill="none"/>
<path d="M215.8 662.4h6.6M215.8 821.4h6.6" stroke="#111" stroke-width="1.7" fill="none"/>
<rect x="205.9" y="702.9" width="26.2" height="95.7" fill="#f9f9f9" stroke="#333" stroke-width="1.15"/>
<path d="M214.3 755.7h9.6" stroke="#000" stroke-width="2" fill="none"/>
<path d="M284.2 603.8V681.4M284.2 782.2V809.4" stroke="#333" stroke-width="1.1" fill="none"/>
<path d="M280.9 603.8h6.6M280.9 809.4h6.6" stroke="#111" stroke-width="1.7" fill="none"/>
<rect x="270.9" y="681.4" width="26.5" height="100.8" fill="#f9f9f9" stroke="#333" stroke-width="1.15"/>
<path d="M279.4 743.1h9.6" stroke="#000" stroke-width="2" fill="none"/>
<text class="bl" x="75.5" y="874.7" textLength="26.2" lengthAdjust="spacingAndGlyphs">Day 5</text>
<text class="bl" x="137.6" y="874.7" textLength="32.8" lengthAdjust="spacingAndGlyphs">Day 15</text>
<text class="bl" x="202.8" y="874.7" textLength="32.8" lengthAdjust="spacingAndGlyphs">Day 19</text>
<text class="bl" x="268" y="874.7" textLength="32.8" lengthAdjust="spacingAndGlyphs">Day 35</text>
<text class="yt" transform="translate(27.3 775.5) rotate(-90)" textLength="115.5" lengthAdjust="spacingAndGlyphs">Coefficient of variation</text>
</g>
</svg>
</body></html>
